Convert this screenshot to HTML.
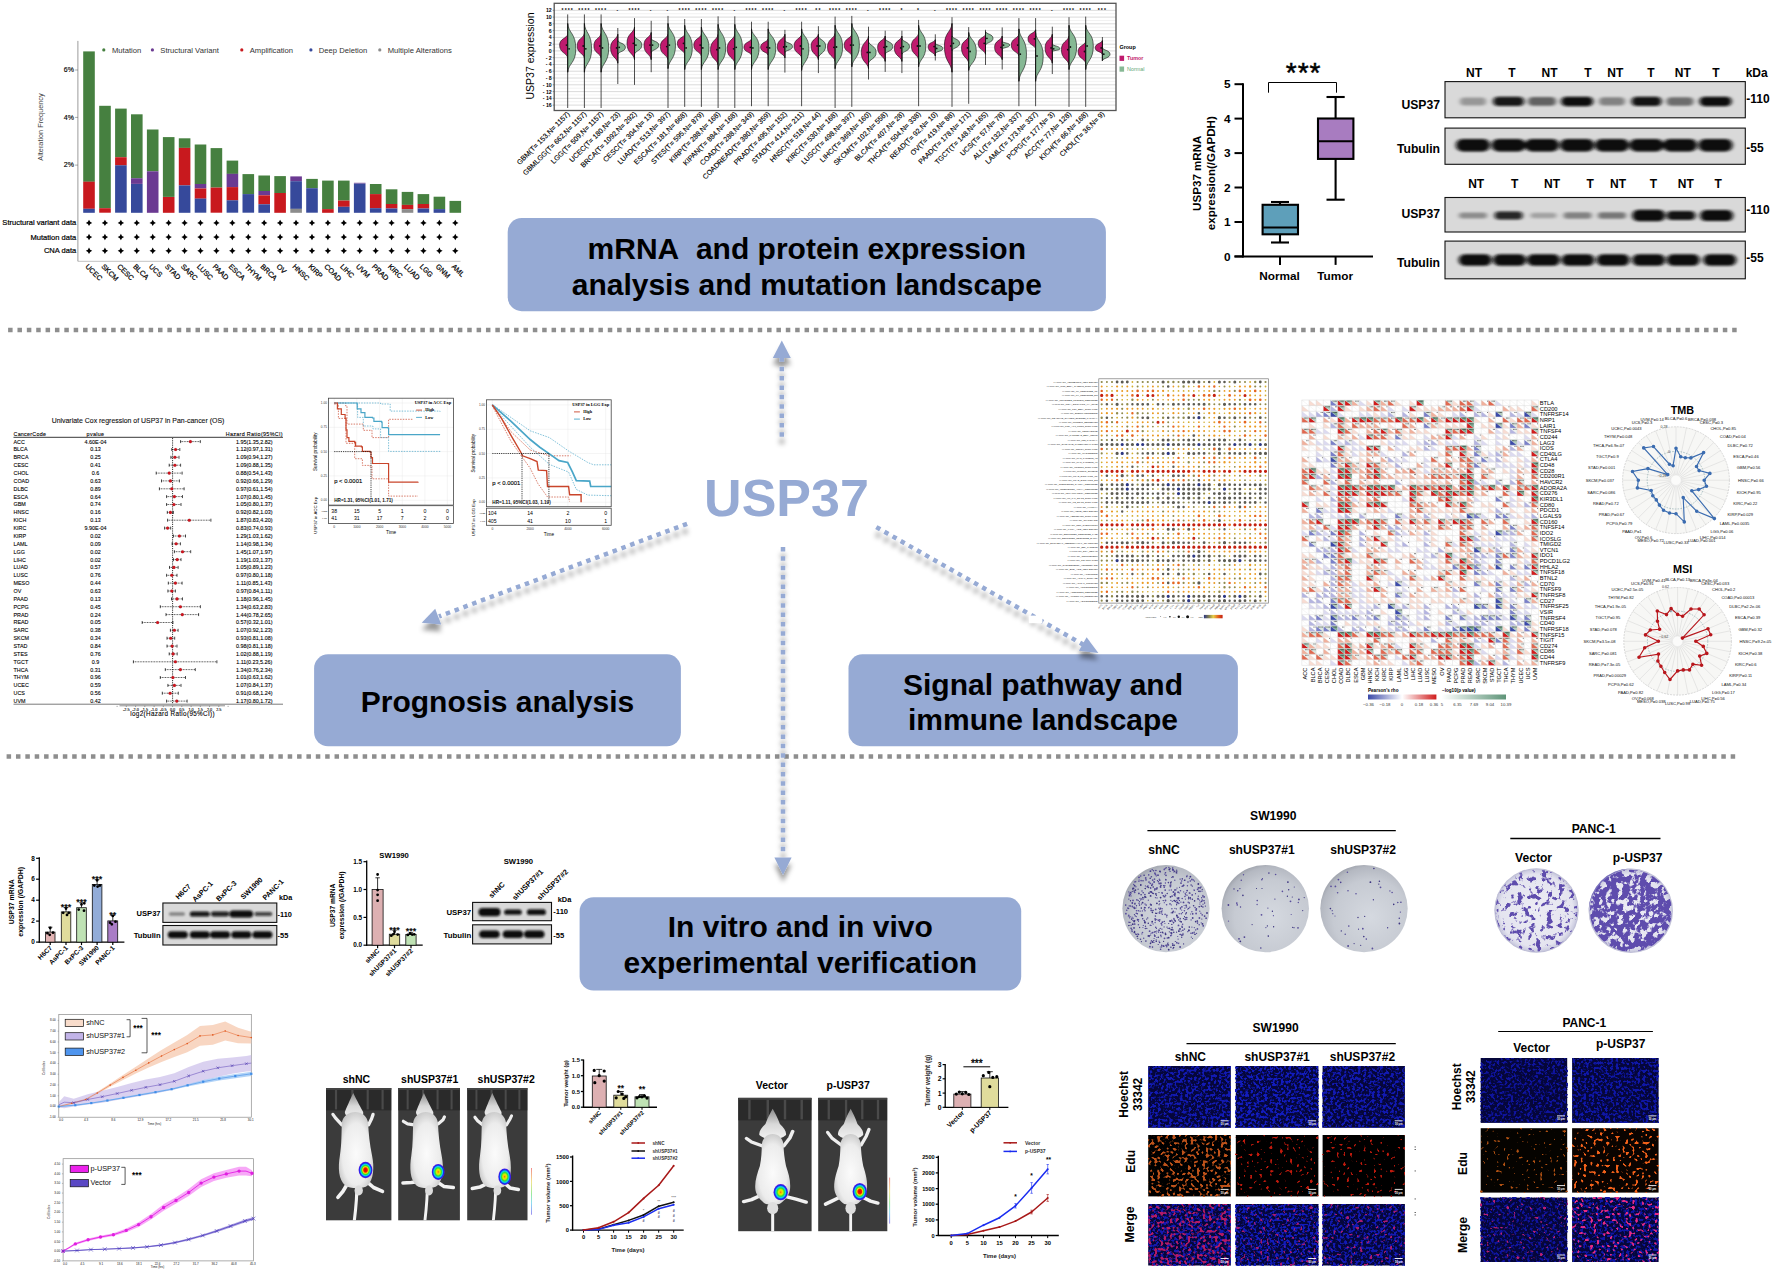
<!DOCTYPE html>
<html lang="en"><head><meta charset="utf-8"><title>USP37 graphical abstract</title>
<style>
html,body{margin:0;padding:0;background:#fff;}
svg{display:block;font-family:"Liberation Sans",Arial,sans-serif;}
</style></head><body>
<svg width="1772" height="1272" viewBox="0 0 1772 1272">
<defs>
<filter id="shadow" x="-20%" y="-20%" width="140%" height="140%"><feDropShadow dx="0" dy="7" stdDeviation="2.5" flood-color="#000" flood-opacity="0.4"/></filter>
<filter id="wbb" x="-30%" y="-60%" width="160%" height="220%"><feGaussianBlur stdDeviation="2.0 1.3"/></filter><filter id="wbs" x="-30%" y="-60%" width="160%" height="220%"><feGaussianBlur stdDeviation="1.0 0.8"/></filter><linearGradient id="nesg"><stop offset="0" stop-color="#2c3782"/><stop offset="0.3" stop-color="#8f8a4c"/><stop offset="0.5" stop-color="#e8d04a"/><stop offset="0.75" stop-color="#e5661f"/><stop offset="1" stop-color="#c4200f"/></linearGradient><linearGradient id="rhog"><stop offset="0" stop-color="#3b4aa8"/><stop offset="0.5" stop-color="#ffffff"/><stop offset="1" stop-color="#d01c1c"/></linearGradient><linearGradient id="pvg"><stop offset="0" stop-color="#ffffff"/><stop offset="1" stop-color="#5e9478"/></linearGradient><radialGradient id="tum"><stop offset="0" stop-color="#e80000"/><stop offset="0.26" stop-color="#f01800"/><stop offset="0.4" stop-color="#f8e000"/><stop offset="0.55" stop-color="#30e030"/><stop offset="0.7" stop-color="#10d0f0"/><stop offset="0.84" stop-color="#1030f0"/><stop offset="1" stop-color="#6010e0"/></radialGradient><radialGradient id="tum2"><stop offset="0" stop-color="#f06000"/><stop offset="0.14" stop-color="#f8c000"/><stop offset="0.3" stop-color="#d8f000"/><stop offset="0.5" stop-color="#30e030"/><stop offset="0.68" stop-color="#10d0f0"/><stop offset="0.84" stop-color="#1030f0"/><stop offset="1" stop-color="#6010e0"/></radialGradient><radialGradient id="mbody" cx="0.5" cy="0.55" r="0.62"><stop offset="0" stop-color="#fbfbfb"/><stop offset="0.65" stop-color="#ececec"/><stop offset="1" stop-color="#bdbdbd"/></radialGradient><linearGradient id="mhead" x1="0" y1="0" x2="0" y2="1"><stop offset="0" stop-color="#8a8a8a"/><stop offset="0.5" stop-color="#d8d8d8"/><stop offset="1" stop-color="#f2f2f2"/></linearGradient><linearGradient id="rbar" x1="0" y1="0" x2="0" y2="1"><stop offset="0" stop-color="#f08080"/><stop offset="0.3" stop-color="#f0e080"/><stop offset="0.55" stop-color="#90e890"/><stop offset="0.75" stop-color="#80d8f0"/><stop offset="1" stop-color="#9080f0"/></linearGradient><filter id="mblur" x="-10%" y="-10%" width="120%" height="120%"><feGaussianBlur stdDeviation="0.7"/></filter><filter id="mblur2" x="-10%" y="-10%" width="120%" height="120%"><feGaussianBlur stdDeviation="0.35"/></filter><radialGradient id="plg" cx="0.58" cy="0.6" r="0.62"><stop offset="0" stop-color="#d5d9e0"/><stop offset="0.7" stop-color="#c6cad2"/><stop offset="0.93" stop-color="#b4b8c1"/><stop offset="1" stop-color="#a3a7b0"/></radialGradient><radialGradient id="plg2" cx="0.5" cy="0.5" r="0.5"><stop offset="0" stop-color="#ececf4"/><stop offset="0.86" stop-color="#e4e4ef"/><stop offset="0.95" stop-color="#cfcfe2"/><stop offset="1" stop-color="#b9b9d2"/></radialGradient><filter id="pb4" x="0" y="0" width="1" height="1" color-interpolation-filters="sRGB"><feTurbulence type="fractalNoise" baseFrequency="0.17" numOctaves="3" seed="4"/><feColorMatrix type="matrix" values="0 0 0 0 0.37  0 0 0 0 0.3  0 0 0 0 0.68  9 0 0 0 -4.85"/></filter><filter id="pb5" x="0" y="0" width="1" height="1" color-interpolation-filters="sRGB"><feTurbulence type="fractalNoise" baseFrequency="0.17" numOctaves="3" seed="9"/><feColorMatrix type="matrix" values="0 0 0 0 0.37  0 0 0 0 0.3  0 0 0 0 0.68  9 0 0 0 -3.45"/></filter><filter id="pbl" x="-5%" y="-5%" width="110%" height="110%"><feGaussianBlur stdDeviation="0.5"/></filter><filter id="fB" x="0" y="0" width="1" height="1" color-interpolation-filters="sRGB"><feTurbulence type="fractalNoise" baseFrequency="0.36" numOctaves="2" seed="2"/><feColorMatrix type="matrix" values="0 0 0 0 0.07  0 0 0 0 0.1  0 0 0 0 0.7  7 0 0 0 -3.3"/><feGaussianBlur stdDeviation="0.7"/></filter><filter id="fB2" x="0" y="0" width="1" height="1" color-interpolation-filters="sRGB"><feTurbulence type="fractalNoise" baseFrequency="0.37" numOctaves="2" seed="7"/><feColorMatrix type="matrix" values="0 0 0 0 0.07  0 0 0 0 0.11  0 0 0 0 0.74  7 0 0 0 -3.25"/><feGaussianBlur stdDeviation="0.7"/></filter><filter id="fB3" x="0" y="0" width="1" height="1" color-interpolation-filters="sRGB"><feTurbulence type="fractalNoise" baseFrequency="0.36" numOctaves="2" seed="21"/><feColorMatrix type="matrix" values="0 0 0 0 0.06  0 0 0 0 0.08  0 0 0 0 0.62  7 0 0 0 -3.45"/><feGaussianBlur stdDeviation="0.7"/></filter><filter id="fB4" x="0" y="0" width="1" height="1" color-interpolation-filters="sRGB"><feTurbulence type="fractalNoise" baseFrequency="0.37" numOctaves="2" seed="23"/><feColorMatrix type="matrix" values="0 0 0 0 0.06  0 0 0 0 0.09  0 0 0 0 0.66  7 0 0 0 -3.38"/><feGaussianBlur stdDeviation="0.7"/></filter><filter id="fOd" x="0" y="0" width="1" height="1" color-interpolation-filters="sRGB"><feTurbulence type="fractalNoise" baseFrequency="0.33" numOctaves="1" seed="5"/><feColorMatrix type="matrix" values="0 0 0 0 0.74  0 0 0 0 0.32  0 0 0 0 0.1  0 10 0 0 -5.35"/><feGaussianBlur stdDeviation="0.7"/></filter><filter id="fRs" x="0" y="0" width="1" height="1" color-interpolation-filters="sRGB"><feTurbulence type="fractalNoise" baseFrequency="0.3" numOctaves="1" seed="8"/><feColorMatrix type="matrix" values="0 0 0 0 0.75  0 0 0 0 0.1  0 0 0 0 0.05  0 13 0 0 -8.2"/><feGaussianBlur stdDeviation="0.7"/></filter><filter id="fRs2" x="0" y="0" width="1" height="1" color-interpolation-filters="sRGB"><feTurbulence type="fractalNoise" baseFrequency="0.3" numOctaves="1" seed="11"/><feColorMatrix type="matrix" values="0 0 0 0 0.75  0 0 0 0 0.1  0 0 0 0 0.05  0 13 0 0 -8.3"/><feGaussianBlur stdDeviation="0.7"/></filter><filter id="fOv" x="0" y="0" width="1" height="1" color-interpolation-filters="sRGB"><feTurbulence type="fractalNoise" baseFrequency="0.3" numOctaves="1" seed="13"/><feColorMatrix type="matrix" values="0 0 0 0 0.7  0 0 0 0 0.32  0 0 0 0 0.07  0 13 0 0 -8.5"/><feGaussianBlur stdDeviation="0.7"/></filter><filter id="fOp" x="0" y="0" width="1" height="1" color-interpolation-filters="sRGB"><feTurbulence type="fractalNoise" baseFrequency="0.31" numOctaves="1" seed="17"/><feColorMatrix type="matrix" values="0 0 0 0 0.95  0 0 0 0 0.38  0 0 0 0 0.1  0 11 0 0 -6.45"/><feGaussianBlur stdDeviation="0.7"/></filter><filter id="fPd" x="0" y="0" width="1" height="1" color-interpolation-filters="sRGB"><feTurbulence type="fractalNoise" baseFrequency="0.33" numOctaves="1" seed="5"/><feColorMatrix type="matrix" values="0 0 0 0 0.7  0 0 0 0 0.1  0 0 0 0 0.4  0 10 0 0 -5.35"/><feGaussianBlur stdDeviation="0.7"/></filter><filter id="fPs" x="0" y="0" width="1" height="1" color-interpolation-filters="sRGB"><feTurbulence type="fractalNoise" baseFrequency="0.3" numOctaves="1" seed="8"/><feColorMatrix type="matrix" values="0 0 0 0 0.66  0 0 0 0 0.1  0 0 0 0 0.45  0 13 0 0 -8.2"/><feGaussianBlur stdDeviation="0.7"/></filter><filter id="fPs2" x="0" y="0" width="1" height="1" color-interpolation-filters="sRGB"><feTurbulence type="fractalNoise" baseFrequency="0.3" numOctaves="1" seed="11"/><feColorMatrix type="matrix" values="0 0 0 0 0.66  0 0 0 0 0.1  0 0 0 0 0.45  0 13 0 0 -8.3"/><feGaussianBlur stdDeviation="0.7"/></filter><filter id="fPv" x="0" y="0" width="1" height="1" color-interpolation-filters="sRGB"><feTurbulence type="fractalNoise" baseFrequency="0.3" numOctaves="1" seed="13"/><feColorMatrix type="matrix" values="0 0 0 0 0.72  0 0 0 0 0.12  0 0 0 0 0.46  0 13 0 0 -8.5"/><feGaussianBlur stdDeviation="0.7"/></filter><filter id="fPp" x="0" y="0" width="1" height="1" color-interpolation-filters="sRGB"><feTurbulence type="fractalNoise" baseFrequency="0.31" numOctaves="1" seed="17"/><feColorMatrix type="matrix" values="0 0 0 0 0.9  0 0 0 0 0.16  0 0 0 0 0.52  0 11 0 0 -6.45"/><feGaussianBlur stdDeviation="0.7"/></filter>
</defs>
<rect width="1772" height="1272" fill="#fff"/>
<g id="p_center">
<line x1="8.1" y1="329.9" x2="1737.2" y2="329.9" stroke="#8e8e8e" stroke-width="4.5" stroke-dasharray="4.5 4.87"/>
<line x1="6.6" y1="756.4" x2="1735.7" y2="756.4" stroke="#8e8e8e" stroke-width="4.5" stroke-dasharray="4.5 4.87"/>
<rect x="507.7" y="218" width="598.2" height="93.2" rx="14" fill="#96aad4"/>
<text x="806.8" y="258.5" font-size="30" text-anchor="middle" font-weight="bold">mRNA  and protein expression</text>
<text x="806.8" y="295.0" font-size="30" text-anchor="middle" font-weight="bold">analysis and mutation landscape</text>
<rect x="314.1" y="654.3" width="366.8" height="92.0" rx="14" fill="#96aad4"/>
<text x="497.5" y="712.0" font-size="30" text-anchor="middle" font-weight="bold">Prognosis analysis</text>
<rect x="848.5" y="654.3" width="389.4" height="92.0" rx="14" fill="#96aad4"/>
<text x="1043.0" y="694.5" font-size="30" text-anchor="middle" font-weight="bold">Signal pathway and</text>
<text x="1043.0" y="730.0" font-size="30" text-anchor="middle" font-weight="bold">immune landscape</text>
<rect x="579.6" y="897.3" width="441.6" height="93.3" rx="14" fill="#96aad4"/>
<text x="800.3" y="937.2" font-size="30" text-anchor="middle" font-weight="bold">In vitro and in vivo</text>
<text x="800.3" y="973.3" font-size="30" text-anchor="middle" font-weight="bold">experimental verification</text>
<text x="786.5" y="516.0" font-size="52" text-anchor="middle" font-weight="bold" fill="#96aad4">USP37</text>
<g filter="url(#shadow)">
<line x1="781.8" y1="436.8" x2="781.8" y2="358.0" stroke="#96aad4" stroke-width="4.5" stroke-dasharray="4.5 4.87"/>
<polygon points="781.8,340.5 772.8,358 790.8,358" fill="#96aad4"/>
<line x1="783.0" y1="547.0" x2="783.0" y2="855.0" stroke="#96aad4" stroke-width="4.5" stroke-dasharray="4.5 4.87"/>
<polygon points="783,875 774.4,857.4 791.6,857.4" fill="#96aad4"/>
<line x1="687.1" y1="523.8" x2="439.0" y2="616.4" stroke="#96aad4" stroke-width="4.5" stroke-dasharray="4.5 4.87"/>
<polygon points="421.7,622.8 435.2,608.7 441.2,624.6" fill="#96aad4"/>
<line x1="876.3" y1="527.1" x2="1083.0" y2="644.5" stroke="#96aad4" stroke-width="4.5" stroke-dasharray="4.5 4.87"/>
<polygon points="1098.4,653.1 1086.6,637.2 1078.9,650.8" fill="#96aad4"/>
</g>
<rect x="1028.8" y="615.6" width="13.6" height="7.6" fill="#fff"/>
</g>
<g id="p_mut">
<rect x="83.2" y="51.4" width="11.6" height="130.4" fill="#468040"/>
<rect x="83.2" y="181.7" width="11.6" height="27.1" fill="#c8191e"/>
<rect x="83.2" y="208.8" width="11.6" height="4.0" fill="#36499b"/>
<polygon points="85.8,222.9 87.9,221.8 89.0,219.7 90.2,221.8 92.2,222.9 90.2,224.1 89.0,226.1 87.9,224.1"/>
<polygon points="85.8,237.0 87.9,235.9 89.0,233.8 90.2,235.9 92.2,237.0 90.2,238.2 89.0,240.2 87.9,238.2"/>
<polygon points="85.8,250.8 87.9,249.7 89.0,247.6 90.2,249.7 92.2,250.8 90.2,252.0 89.0,254.0 87.9,252.0"/>
<text x="84.9" y="266.9" font-size="7.2" transform="rotate(45 84.9 266.9)" stroke="#000" stroke-width="0.22">UCEC</text>
<rect x="99.2" y="105.8" width="11.6" height="102.4" fill="#468040"/>
<rect x="99.2" y="208.2" width="11.6" height="4.5" fill="#c8191e"/>
<polygon points="101.7,222.9 103.8,221.8 104.9,219.7 106.1,221.8 108.1,222.9 106.1,224.1 104.9,226.1 103.8,224.1"/>
<polygon points="101.7,237.0 103.8,235.9 104.9,233.8 106.1,235.9 108.1,237.0 106.1,238.2 104.9,240.2 103.8,238.2"/>
<polygon points="101.7,250.8 103.8,249.7 104.9,247.6 106.1,249.7 108.1,250.8 106.1,252.0 104.9,254.0 103.8,252.0"/>
<text x="100.9" y="266.9" font-size="7.2" transform="rotate(45 100.9 266.9)" stroke="#000" stroke-width="0.22">SKCM</text>
<rect x="115.1" y="108.6" width="11.6" height="48.5" fill="#468040"/>
<rect x="115.1" y="157.2" width="11.6" height="8.2" fill="#c8191e"/>
<rect x="115.1" y="165.3" width="11.6" height="47.4" fill="#36499b"/>
<polygon points="117.7,222.9 119.7,221.8 120.9,219.7 122.0,221.8 124.1,222.9 122.0,224.1 120.9,226.1 119.7,224.1"/>
<polygon points="117.7,237.0 119.7,235.9 120.9,233.8 122.0,235.9 124.1,237.0 122.0,238.2 120.9,240.2 119.7,238.2"/>
<polygon points="117.7,250.8 119.7,249.7 120.9,247.6 122.0,249.7 124.1,250.8 122.0,252.0 120.9,254.0 119.7,252.0"/>
<text x="116.8" y="266.9" font-size="7.2" transform="rotate(45 116.8 266.9)" stroke="#000" stroke-width="0.22">CESC</text>
<rect x="131.0" y="114.3" width="11.6" height="64.1" fill="#468040"/>
<rect x="131.0" y="178.3" width="11.6" height="5.6" fill="#6b3a92"/>
<rect x="131.0" y="184.0" width="11.6" height="28.8" fill="#36499b"/>
<polygon points="133.6,222.9 135.6,221.8 136.8,219.7 137.9,221.8 140.0,222.9 137.9,224.1 136.8,226.1 135.6,224.1"/>
<polygon points="133.6,237.0 135.6,235.9 136.8,233.8 137.9,235.9 140.0,237.0 137.9,238.2 136.8,240.2 135.6,238.2"/>
<polygon points="133.6,250.8 135.6,249.7 136.8,247.6 137.9,249.7 140.0,250.8 137.9,252.0 136.8,254.0 135.6,252.0"/>
<text x="132.7" y="266.9" font-size="7.2" transform="rotate(45 132.7 266.9)" stroke="#000" stroke-width="0.22">BLCA</text>
<rect x="146.9" y="129.5" width="11.6" height="41.8" fill="#468040"/>
<rect x="146.9" y="171.3" width="11.6" height="41.5" fill="#6b3a92"/>
<polygon points="149.5,222.9 151.6,221.8 152.7,219.7 153.9,221.8 155.9,222.9 153.9,224.1 152.7,226.1 151.6,224.1"/>
<polygon points="149.5,237.0 151.6,235.9 152.7,233.8 153.9,235.9 155.9,237.0 153.9,238.2 152.7,240.2 151.6,238.2"/>
<polygon points="149.5,250.8 151.6,249.7 152.7,247.6 153.9,249.7 155.9,250.8 153.9,252.0 152.7,254.0 151.6,252.0"/>
<text x="148.6" y="266.9" font-size="7.2" transform="rotate(45 148.6 266.9)" stroke="#000" stroke-width="0.22">UCS</text>
<rect x="162.9" y="137.1" width="11.6" height="59.8" fill="#468040"/>
<rect x="162.9" y="197.0" width="11.6" height="15.8" fill="#c8191e"/>
<polygon points="165.4,222.9 167.5,221.8 168.6,219.7 169.8,221.8 171.8,222.9 169.8,224.1 168.6,226.1 167.5,224.1"/>
<polygon points="165.4,237.0 167.5,235.9 168.6,233.8 169.8,235.9 171.8,237.0 169.8,238.2 168.6,240.2 167.5,238.2"/>
<polygon points="165.4,250.8 167.5,249.7 168.6,247.6 169.8,249.7 171.8,250.8 169.8,252.0 168.6,254.0 167.5,252.0"/>
<text x="164.6" y="266.9" font-size="7.2" transform="rotate(45 164.6 266.9)" stroke="#000" stroke-width="0.22">STAD</text>
<rect x="178.8" y="138.3" width="11.6" height="9.6" fill="#468040"/>
<rect x="178.8" y="147.9" width="11.6" height="37.5" fill="#c8191e"/>
<rect x="178.8" y="185.4" width="11.6" height="27.4" fill="#36499b"/>
<polygon points="181.4,222.9 183.4,221.8 184.6,219.7 185.7,221.8 187.8,222.9 185.7,224.1 184.6,226.1 183.4,224.1"/>
<polygon points="181.4,237.0 183.4,235.9 184.6,233.8 185.7,235.9 187.8,237.0 185.7,238.2 184.6,240.2 183.4,238.2"/>
<polygon points="181.4,250.8 183.4,249.7 184.6,247.6 185.7,249.7 187.8,250.8 185.7,252.0 184.6,254.0 183.4,252.0"/>
<text x="180.5" y="266.9" font-size="7.2" transform="rotate(45 180.5 266.9)" stroke="#000" stroke-width="0.22">SARC</text>
<rect x="194.7" y="144.5" width="11.6" height="39.5" fill="#468040"/>
<rect x="194.7" y="184.0" width="11.6" height="4.5" fill="#6b3a92"/>
<rect x="194.7" y="188.5" width="11.6" height="10.2" fill="#c8191e"/>
<rect x="194.7" y="198.6" width="11.6" height="14.1" fill="#36499b"/>
<polygon points="197.3,222.9 199.3,221.8 200.5,219.7 201.6,221.8 203.7,222.9 201.6,224.1 200.5,226.1 199.3,224.1"/>
<polygon points="197.3,237.0 199.3,235.9 200.5,233.8 201.6,235.9 203.7,237.0 201.6,238.2 200.5,240.2 199.3,238.2"/>
<polygon points="197.3,250.8 199.3,249.7 200.5,247.6 201.6,249.7 203.7,250.8 201.6,252.0 200.5,254.0 199.3,252.0"/>
<text x="196.4" y="266.9" font-size="7.2" transform="rotate(45 196.4 266.9)" stroke="#000" stroke-width="0.22">LUSC</text>
<rect x="210.6" y="148.1" width="11.6" height="39.5" fill="#468040"/>
<rect x="210.6" y="187.6" width="11.6" height="25.1" fill="#c8191e"/>
<polygon points="213.2,222.9 215.3,221.8 216.4,219.7 217.6,221.8 219.6,222.9 217.6,224.1 216.4,226.1 215.3,224.1"/>
<polygon points="213.2,237.0 215.3,235.9 216.4,233.8 217.6,235.9 219.6,237.0 217.6,238.2 216.4,240.2 215.3,238.2"/>
<polygon points="213.2,250.8 215.3,249.7 216.4,247.6 217.6,249.7 219.6,250.8 217.6,252.0 216.4,254.0 215.3,252.0"/>
<text x="212.3" y="266.9" font-size="7.2" transform="rotate(45 212.3 266.9)" stroke="#000" stroke-width="0.22">PAAD</text>
<rect x="226.6" y="160.6" width="11.6" height="13.3" fill="#468040"/>
<rect x="226.6" y="173.8" width="11.6" height="13.3" fill="#6b3a92"/>
<rect x="226.6" y="187.1" width="11.6" height="13.3" fill="#c8191e"/>
<rect x="226.6" y="200.3" width="11.6" height="12.4" fill="#36499b"/>
<polygon points="229.1,222.9 231.2,221.8 232.3,219.7 233.5,221.8 235.5,222.9 233.5,224.1 232.3,226.1 231.2,224.1"/>
<polygon points="229.1,237.0 231.2,235.9 232.3,233.8 233.5,235.9 235.5,237.0 233.5,238.2 232.3,240.2 231.2,238.2"/>
<polygon points="229.1,250.8 231.2,249.7 232.3,247.6 233.5,249.7 235.5,250.8 233.5,252.0 232.3,254.0 231.2,252.0"/>
<text x="228.2" y="266.9" font-size="7.2" transform="rotate(45 228.2 266.9)" stroke="#000" stroke-width="0.22">ESCA</text>
<rect x="242.5" y="174.1" width="11.6" height="20.0" fill="#468040"/>
<rect x="242.5" y="194.1" width="11.6" height="18.6" fill="#36499b"/>
<polygon points="245.1,222.9 247.1,221.8 248.3,219.7 249.4,221.8 251.5,222.9 249.4,224.1 248.3,226.1 247.1,224.1"/>
<polygon points="245.1,237.0 247.1,235.9 248.3,233.8 249.4,235.9 251.5,237.0 249.4,238.2 248.3,240.2 247.1,238.2"/>
<polygon points="245.1,250.8 247.1,249.7 248.3,247.6 249.4,249.7 251.5,250.8 249.4,252.0 248.3,254.0 247.1,252.0"/>
<text x="244.2" y="266.9" font-size="7.2" transform="rotate(45 244.2 266.9)" stroke="#000" stroke-width="0.22">THYM</text>
<rect x="258.4" y="175.5" width="11.6" height="15.5" fill="#468040"/>
<rect x="258.4" y="191.0" width="11.6" height="4.2" fill="#6b3a92"/>
<rect x="258.4" y="195.3" width="11.6" height="9.0" fill="#c8191e"/>
<rect x="258.4" y="204.3" width="11.6" height="8.5" fill="#36499b"/>
<polygon points="261.0,222.9 263.0,221.8 264.2,219.7 265.3,221.8 267.4,222.9 265.3,224.1 264.2,226.1 263.0,224.1"/>
<polygon points="261.0,237.0 263.0,235.9 264.2,233.8 265.3,235.9 267.4,237.0 265.3,238.2 264.2,240.2 263.0,238.2"/>
<polygon points="261.0,250.8 263.0,249.7 264.2,247.6 265.3,249.7 267.4,250.8 265.3,252.0 264.2,254.0 263.0,252.0"/>
<text x="260.1" y="266.9" font-size="7.2" transform="rotate(45 260.1 266.9)" stroke="#000" stroke-width="0.22">BRCA</text>
<rect x="274.3" y="176.1" width="11.6" height="16.9" fill="#468040"/>
<rect x="274.3" y="193.0" width="11.6" height="19.8" fill="#c8191e"/>
<polygon points="276.9,222.9 279.0,221.8 280.1,219.7 281.3,221.8 283.3,222.9 281.3,224.1 280.1,226.1 279.0,224.1"/>
<polygon points="276.9,237.0 279.0,235.9 280.1,233.8 281.3,235.9 283.3,237.0 281.3,238.2 280.1,240.2 279.0,238.2"/>
<polygon points="276.9,250.8 279.0,249.7 280.1,247.6 281.3,249.7 283.3,250.8 281.3,252.0 280.1,254.0 279.0,252.0"/>
<text x="276.0" y="266.9" font-size="7.2" transform="rotate(45 276.0 266.9)" stroke="#000" stroke-width="0.22">OV</text>
<rect x="290.3" y="176.4" width="11.6" height="4.8" fill="#6b3a92"/>
<rect x="290.3" y="181.2" width="11.6" height="27.7" fill="#36499b"/>
<rect x="290.3" y="208.8" width="11.6" height="4.0" fill="#8c8c8c"/>
<polygon points="292.8,222.9 294.9,221.8 296.0,219.7 297.2,221.8 299.2,222.9 297.2,224.1 296.0,226.1 294.9,224.1"/>
<polygon points="292.8,237.0 294.9,235.9 296.0,233.8 297.2,235.9 299.2,237.0 297.2,238.2 296.0,240.2 294.9,238.2"/>
<polygon points="292.8,250.8 294.9,249.7 296.0,247.6 297.2,249.7 299.2,250.8 297.2,252.0 296.0,254.0 294.9,252.0"/>
<text x="291.9" y="266.9" font-size="7.2" transform="rotate(45 291.9 266.9)" stroke="#000" stroke-width="0.22">HNSC</text>
<rect x="306.2" y="178.9" width="11.6" height="9.3" fill="#468040"/>
<rect x="306.2" y="188.2" width="11.6" height="24.5" fill="#36499b"/>
<polygon points="308.8,222.9 310.8,221.8 312.0,219.7 313.1,221.8 315.2,222.9 313.1,224.1 312.0,226.1 310.8,224.1"/>
<polygon points="308.8,237.0 310.8,235.9 312.0,233.8 313.1,235.9 315.2,237.0 313.1,238.2 312.0,240.2 310.8,238.2"/>
<polygon points="308.8,250.8 310.8,249.7 312.0,247.6 313.1,249.7 315.2,250.8 313.1,252.0 312.0,254.0 310.8,252.0"/>
<text x="307.9" y="266.9" font-size="7.2" transform="rotate(45 307.9 266.9)" stroke="#000" stroke-width="0.22">KIRP</text>
<rect x="322.1" y="180.6" width="11.6" height="28.5" fill="#468040"/>
<rect x="322.1" y="209.1" width="11.6" height="3.7" fill="#c8191e"/>
<polygon points="324.7,222.9 326.7,221.8 327.9,219.7 329.0,221.8 331.1,222.9 329.0,224.1 327.9,226.1 326.7,224.1"/>
<polygon points="324.7,237.0 326.7,235.9 327.9,233.8 329.0,235.9 331.1,237.0 329.0,238.2 327.9,240.2 326.7,238.2"/>
<polygon points="324.7,250.8 326.7,249.7 327.9,247.6 329.0,249.7 331.1,250.8 329.0,252.0 327.9,254.0 326.7,252.0"/>
<text x="323.8" y="266.9" font-size="7.2" transform="rotate(45 323.8 266.9)" stroke="#000" stroke-width="0.22">COAD</text>
<rect x="338.0" y="180.6" width="11.6" height="20.0" fill="#468040"/>
<rect x="338.0" y="200.6" width="11.6" height="6.2" fill="#c8191e"/>
<rect x="338.0" y="206.8" width="11.6" height="5.9" fill="#36499b"/>
<polygon points="340.6,222.9 342.7,221.8 343.8,219.7 345.0,221.8 347.0,222.9 345.0,224.1 343.8,226.1 342.7,224.1"/>
<polygon points="340.6,237.0 342.7,235.9 343.8,233.8 345.0,235.9 347.0,237.0 345.0,238.2 343.8,240.2 342.7,238.2"/>
<polygon points="340.6,250.8 342.7,249.7 343.8,247.6 345.0,249.7 347.0,250.8 345.0,252.0 343.8,254.0 342.7,252.0"/>
<text x="339.7" y="266.9" font-size="7.2" transform="rotate(45 339.7 266.9)" stroke="#000" stroke-width="0.22">LIHC</text>
<rect x="353.9" y="182.8" width="11.6" height="0.8" fill="#6b3a92"/>
<rect x="353.9" y="183.7" width="11.6" height="29.1" fill="#36499b"/>
<polygon points="356.5,222.9 358.6,221.8 359.7,219.7 360.9,221.8 362.9,222.9 360.9,224.1 359.7,226.1 358.6,224.1"/>
<polygon points="356.5,237.0 358.6,235.9 359.7,233.8 360.9,235.9 362.9,237.0 360.9,238.2 359.7,240.2 358.6,238.2"/>
<polygon points="356.5,250.8 358.6,249.7 359.7,247.6 360.9,249.7 362.9,250.8 360.9,252.0 359.7,254.0 358.6,252.0"/>
<text x="355.6" y="266.9" font-size="7.2" transform="rotate(45 355.6 266.9)" stroke="#000" stroke-width="0.22">UVM</text>
<rect x="369.9" y="184.0" width="11.6" height="10.2" fill="#468040"/>
<rect x="369.9" y="194.1" width="11.6" height="14.1" fill="#c8191e"/>
<rect x="369.9" y="208.2" width="11.6" height="4.5" fill="#36499b"/>
<polygon points="372.5,222.9 374.5,221.8 375.7,219.7 376.8,221.8 378.9,222.9 376.8,224.1 375.7,226.1 374.5,224.1"/>
<polygon points="372.5,237.0 374.5,235.9 375.7,233.8 376.8,235.9 378.9,237.0 376.8,238.2 375.7,240.2 374.5,238.2"/>
<polygon points="372.5,250.8 374.5,249.7 375.7,247.6 376.8,249.7 378.9,250.8 376.8,252.0 375.7,254.0 374.5,252.0"/>
<text x="371.6" y="266.9" font-size="7.2" transform="rotate(45 371.6 266.9)" stroke="#000" stroke-width="0.22">PRAD</text>
<rect x="385.8" y="189.3" width="11.6" height="14.7" fill="#468040"/>
<rect x="385.8" y="204.0" width="11.6" height="4.5" fill="#c8191e"/>
<rect x="385.8" y="208.5" width="11.6" height="4.2" fill="#36499b"/>
<polygon points="388.4,222.9 390.4,221.8 391.6,219.7 392.7,221.8 394.8,222.9 392.7,224.1 391.6,226.1 390.4,224.1"/>
<polygon points="388.4,237.0 390.4,235.9 391.6,233.8 392.7,235.9 394.8,237.0 392.7,238.2 391.6,240.2 390.4,238.2"/>
<polygon points="388.4,250.8 390.4,249.7 391.6,247.6 392.7,249.7 394.8,250.8 392.7,252.0 391.6,254.0 390.4,252.0"/>
<text x="387.5" y="266.9" font-size="7.2" transform="rotate(45 387.5 266.9)" stroke="#000" stroke-width="0.22">KIRC</text>
<rect x="401.7" y="191.9" width="11.6" height="13.0" fill="#468040"/>
<rect x="401.7" y="204.9" width="11.6" height="4.2" fill="#c8191e"/>
<rect x="401.7" y="209.1" width="11.6" height="3.7" fill="#8c8c8c"/>
<polygon points="404.3,222.9 406.4,221.8 407.5,219.7 408.7,221.8 410.7,222.9 408.7,224.1 407.5,226.1 406.4,224.1"/>
<polygon points="404.3,237.0 406.4,235.9 407.5,233.8 408.7,235.9 410.7,237.0 408.7,238.2 407.5,240.2 406.4,238.2"/>
<polygon points="404.3,250.8 406.4,249.7 407.5,247.6 408.7,249.7 410.7,250.8 408.7,252.0 407.5,254.0 406.4,252.0"/>
<text x="403.4" y="266.9" font-size="7.2" transform="rotate(45 403.4 266.9)" stroke="#000" stroke-width="0.22">LUAD</text>
<rect x="417.6" y="194.1" width="11.6" height="9.9" fill="#468040"/>
<rect x="417.6" y="204.0" width="11.6" height="4.5" fill="#c8191e"/>
<rect x="417.6" y="208.5" width="11.6" height="4.2" fill="#36499b"/>
<polygon points="420.2,222.9 422.3,221.8 423.4,219.7 424.6,221.8 426.6,222.9 424.6,224.1 423.4,226.1 422.3,224.1"/>
<polygon points="420.2,237.0 422.3,235.9 423.4,233.8 424.6,235.9 426.6,237.0 424.6,238.2 423.4,240.2 422.3,238.2"/>
<polygon points="420.2,250.8 422.3,249.7 423.4,247.6 424.6,249.7 426.6,250.8 424.6,252.0 423.4,254.0 422.3,252.0"/>
<text x="419.3" y="266.9" font-size="7.2" transform="rotate(45 419.3 266.9)" stroke="#000" stroke-width="0.22">LGG</text>
<rect x="433.6" y="196.7" width="11.6" height="12.4" fill="#468040"/>
<rect x="433.6" y="209.1" width="11.6" height="3.7" fill="#36499b"/>
<polygon points="436.2,222.9 438.2,221.8 439.4,219.7 440.5,221.8 442.6,222.9 440.5,224.1 439.4,226.1 438.2,224.1"/>
<polygon points="436.2,237.0 438.2,235.9 439.4,233.8 440.5,235.9 442.6,237.0 440.5,238.2 439.4,240.2 438.2,238.2"/>
<polygon points="436.2,250.8 438.2,249.7 439.4,247.6 440.5,249.7 442.6,250.8 440.5,252.0 439.4,254.0 438.2,252.0"/>
<text x="435.3" y="266.9" font-size="7.2" transform="rotate(45 435.3 266.9)" stroke="#000" stroke-width="0.22">GNM</text>
<rect x="449.5" y="200.9" width="11.6" height="11.9" fill="#468040"/>
<polygon points="452.1,222.9 454.1,221.8 455.3,219.7 456.4,221.8 458.5,222.9 456.4,224.1 455.3,226.1 454.1,224.1"/>
<polygon points="452.1,237.0 454.1,235.9 455.3,233.8 456.4,235.9 458.5,237.0 456.4,238.2 455.3,240.2 454.1,238.2"/>
<polygon points="452.1,250.8 454.1,249.7 455.3,247.6 456.4,249.7 458.5,250.8 456.4,252.0 455.3,254.0 454.1,252.0"/>
<text x="451.2" y="266.9" font-size="7.2" transform="rotate(45 451.2 266.9)" stroke="#000" stroke-width="0.22">AML</text>
<line x1="77.9" y1="40.9" x2="77.9" y2="261.3" stroke="#555" stroke-width="0.6"/>
<line x1="77.9" y1="261.3" x2="460.5" y2="261.3" stroke="#999" stroke-width="0.6"/>
<text x="73.9" y="72.3" font-size="7" text-anchor="end" stroke="#000" stroke-width="0.15">6%</text>
<line x1="75.1" y1="70.0" x2="77.9" y2="70.0" stroke="#555" stroke-width="0.5"/>
<text x="73.9" y="119.7" font-size="7" text-anchor="end" stroke="#000" stroke-width="0.15">4%</text>
<line x1="75.1" y1="117.4" x2="77.9" y2="117.4" stroke="#555" stroke-width="0.5"/>
<text x="73.9" y="167.4" font-size="7" text-anchor="end" stroke="#000" stroke-width="0.15">2%</text>
<line x1="75.1" y1="165.1" x2="77.9" y2="165.1" stroke="#555" stroke-width="0.5"/>
<text x="42.9" y="127.0" font-size="7.3" text-anchor="middle" fill="#444" transform="rotate(-90 42.9 127.0)">Alteration Frequency</text>
<text x="76.2" y="225.4" font-size="7.55" text-anchor="end" stroke="#000" stroke-width="0.2">Structural variant data</text>
<text x="76.2" y="239.5" font-size="7.55" text-anchor="end" stroke="#000" stroke-width="0.2">Mutation data</text>
<text x="76.2" y="253.3" font-size="7.55" text-anchor="end" stroke="#000" stroke-width="0.2">CNA data</text>
<circle cx="103.8" cy="49.9" r="1.6" fill="#468040"/>
<text x="112.0" y="52.5" font-size="7.65" fill="#333">Mutation</text>
<circle cx="152.4" cy="49.9" r="1.6" fill="#6b3a92"/>
<text x="160.3" y="52.5" font-size="7.65" fill="#333">Structural Variant</text>
<circle cx="241.8" cy="49.9" r="1.6" fill="#c8191e"/>
<text x="249.7" y="52.5" font-size="7.65" fill="#333">Amplification</text>
<circle cx="310.9" cy="49.9" r="1.6" fill="#36499b"/>
<text x="318.8" y="52.5" font-size="7.65" fill="#333">Deep Deletion</text>
<circle cx="379.8" cy="49.9" r="1.6" fill="#8c8c8c"/>
<text x="387.7" y="52.5" font-size="7.65" fill="#333">Multiple Alterations</text>
</g>
<g id="p_violin">
<rect x="554.2" y="3.3" width="561.8" height="107.2" fill="#fff"/>
<line x1="554.2" y1="105.1" x2="1116.0" y2="105.1" stroke="#d6d6d6" stroke-width="0.9"/>
<line x1="554.2" y1="101.7" x2="1116.0" y2="101.7" stroke="#e9e9e9" stroke-width="0.6"/>
<line x1="554.2" y1="98.3" x2="1116.0" y2="98.3" stroke="#d6d6d6" stroke-width="0.9"/>
<line x1="554.2" y1="95.0" x2="1116.0" y2="95.0" stroke="#e9e9e9" stroke-width="0.6"/>
<line x1="554.2" y1="91.6" x2="1116.0" y2="91.6" stroke="#d6d6d6" stroke-width="0.9"/>
<line x1="554.2" y1="88.2" x2="1116.0" y2="88.2" stroke="#e9e9e9" stroke-width="0.6"/>
<line x1="554.2" y1="84.8" x2="1116.0" y2="84.8" stroke="#d6d6d6" stroke-width="0.9"/>
<line x1="554.2" y1="81.4" x2="1116.0" y2="81.4" stroke="#e9e9e9" stroke-width="0.6"/>
<line x1="554.2" y1="78.0" x2="1116.0" y2="78.0" stroke="#d6d6d6" stroke-width="0.9"/>
<line x1="554.2" y1="74.6" x2="1116.0" y2="74.6" stroke="#e9e9e9" stroke-width="0.6"/>
<line x1="554.2" y1="71.2" x2="1116.0" y2="71.2" stroke="#d6d6d6" stroke-width="0.9"/>
<line x1="554.2" y1="67.9" x2="1116.0" y2="67.9" stroke="#e9e9e9" stroke-width="0.6"/>
<line x1="554.2" y1="64.5" x2="1116.0" y2="64.5" stroke="#d6d6d6" stroke-width="0.9"/>
<line x1="554.2" y1="61.1" x2="1116.0" y2="61.1" stroke="#e9e9e9" stroke-width="0.6"/>
<line x1="554.2" y1="57.7" x2="1116.0" y2="57.7" stroke="#d6d6d6" stroke-width="0.9"/>
<line x1="554.2" y1="54.3" x2="1116.0" y2="54.3" stroke="#e9e9e9" stroke-width="0.6"/>
<line x1="554.2" y1="50.9" x2="1116.0" y2="50.9" stroke="#d6d6d6" stroke-width="0.9"/>
<line x1="554.2" y1="47.5" x2="1116.0" y2="47.5" stroke="#e9e9e9" stroke-width="0.6"/>
<line x1="554.2" y1="44.2" x2="1116.0" y2="44.2" stroke="#d6d6d6" stroke-width="0.9"/>
<line x1="554.2" y1="40.8" x2="1116.0" y2="40.8" stroke="#e9e9e9" stroke-width="0.6"/>
<line x1="554.2" y1="37.4" x2="1116.0" y2="37.4" stroke="#d6d6d6" stroke-width="0.9"/>
<line x1="554.2" y1="34.0" x2="1116.0" y2="34.0" stroke="#e9e9e9" stroke-width="0.6"/>
<line x1="554.2" y1="30.6" x2="1116.0" y2="30.6" stroke="#d6d6d6" stroke-width="0.9"/>
<line x1="554.2" y1="27.2" x2="1116.0" y2="27.2" stroke="#e9e9e9" stroke-width="0.6"/>
<line x1="554.2" y1="23.8" x2="1116.0" y2="23.8" stroke="#d6d6d6" stroke-width="0.9"/>
<line x1="554.2" y1="20.5" x2="1116.0" y2="20.5" stroke="#e9e9e9" stroke-width="0.6"/>
<line x1="554.2" y1="17.1" x2="1116.0" y2="17.1" stroke="#d6d6d6" stroke-width="0.9"/>
<line x1="554.2" y1="13.7" x2="1116.0" y2="13.7" stroke="#e9e9e9" stroke-width="0.6"/>
<line x1="554.2" y1="10.3" x2="1116.0" y2="10.3" stroke="#d6d6d6" stroke-width="0.9"/>
<text x="551.7" y="107.0" font-size="5.2" text-anchor="end" font-weight="bold">- 16</text>
<line x1="552.7" y1="105.1" x2="554.2" y2="105.1" stroke="#333" stroke-width="0.5"/>
<text x="551.7" y="100.2" font-size="5.2" text-anchor="end" font-weight="bold">- 14</text>
<line x1="552.7" y1="98.3" x2="554.2" y2="98.3" stroke="#333" stroke-width="0.5"/>
<text x="551.7" y="93.5" font-size="5.2" text-anchor="end" font-weight="bold">- 12</text>
<line x1="552.7" y1="91.6" x2="554.2" y2="91.6" stroke="#333" stroke-width="0.5"/>
<text x="551.7" y="86.7" font-size="5.2" text-anchor="end" font-weight="bold">- 10</text>
<line x1="552.7" y1="84.8" x2="554.2" y2="84.8" stroke="#333" stroke-width="0.5"/>
<text x="551.7" y="79.9" font-size="5.2" text-anchor="end" font-weight="bold">- 8</text>
<line x1="552.7" y1="78.0" x2="554.2" y2="78.0" stroke="#333" stroke-width="0.5"/>
<text x="551.7" y="73.1" font-size="5.2" text-anchor="end" font-weight="bold">- 6</text>
<line x1="552.7" y1="71.2" x2="554.2" y2="71.2" stroke="#333" stroke-width="0.5"/>
<text x="551.7" y="66.4" font-size="5.2" text-anchor="end" font-weight="bold">- 4</text>
<line x1="552.7" y1="64.5" x2="554.2" y2="64.5" stroke="#333" stroke-width="0.5"/>
<text x="551.7" y="59.6" font-size="5.2" text-anchor="end" font-weight="bold">- 2</text>
<line x1="552.7" y1="57.7" x2="554.2" y2="57.7" stroke="#333" stroke-width="0.5"/>
<text x="551.7" y="52.8" font-size="5.2" text-anchor="end" font-weight="bold">0</text>
<line x1="552.7" y1="50.9" x2="554.2" y2="50.9" stroke="#333" stroke-width="0.5"/>
<text x="551.7" y="46.1" font-size="5.2" text-anchor="end" font-weight="bold">2</text>
<line x1="552.7" y1="44.2" x2="554.2" y2="44.2" stroke="#333" stroke-width="0.5"/>
<text x="551.7" y="39.3" font-size="5.2" text-anchor="end" font-weight="bold">4</text>
<line x1="552.7" y1="37.4" x2="554.2" y2="37.4" stroke="#333" stroke-width="0.5"/>
<text x="551.7" y="32.5" font-size="5.2" text-anchor="end" font-weight="bold">6</text>
<line x1="552.7" y1="30.6" x2="554.2" y2="30.6" stroke="#333" stroke-width="0.5"/>
<text x="551.7" y="25.7" font-size="5.2" text-anchor="end" font-weight="bold">8</text>
<line x1="552.7" y1="23.8" x2="554.2" y2="23.8" stroke="#333" stroke-width="0.5"/>
<text x="551.7" y="19.0" font-size="5.2" text-anchor="end" font-weight="bold">10</text>
<line x1="552.7" y1="17.1" x2="554.2" y2="17.1" stroke="#333" stroke-width="0.5"/>
<text x="551.7" y="12.2" font-size="5.2" text-anchor="end" font-weight="bold">12</text>
<line x1="552.7" y1="10.3" x2="554.2" y2="10.3" stroke="#333" stroke-width="0.5"/>
<text x="533.5" y="56.0" font-size="10.5" text-anchor="middle" transform="rotate(-90 533.5 56.0)">USP37 expression</text>
<line x1="567.7" y1="14.4" x2="567.7" y2="108.0" stroke="#222" stroke-width="0.8"/>
<path d="M567.7,34.3 C566.7,38.6 559.6,38.4 559.6,45.1 C559.6,53.0 566.7,52.7 567.7,57.8Z" fill="#bf1b6e" stroke="#111" stroke-width="0.6"/>
<path d="M567.7,23.5 C568.7,33.6 575.8,33.1 575.8,48.8 C575.8,63.3 568.7,62.8 567.7,72.2Z" fill="#86b894" stroke="#111" stroke-width="0.6"/>
<line x1="567.7" y1="23.5" x2="567.7" y2="72.2" stroke="#111" stroke-width="0.9"/>
<circle cx="566.5" cy="45.1" r="0.9" fill="#111"/>
<circle cx="569.1" cy="48.8" r="0.9" fill="#111"/>
<text x="567.7" y="12.2" font-size="5" text-anchor="middle" font-weight="bold" letter-spacing="1.1">****</text>
<text x="570.3" y="114.5" font-size="7.1" text-anchor="end" transform="rotate(-45 570.3 114.5)" stroke="#000" stroke-width="0.12">GBM(T= 153,N= 1157)</text>
<line x1="584.4" y1="14.4" x2="584.4" y2="108.0" stroke="#222" stroke-width="0.8"/>
<path d="M584.4,33.4 C583.5,38.5 577.2,38.2 577.2,46.0 C577.2,53.3 583.5,53.1 584.4,57.8Z" fill="#bf1b6e" stroke="#111" stroke-width="0.6"/>
<path d="M584.4,23.5 C585.3,33.6 591.6,33.1 591.6,48.8 C591.6,63.3 585.3,62.8 584.4,72.2Z" fill="#86b894" stroke="#111" stroke-width="0.6"/>
<line x1="584.4" y1="23.5" x2="584.4" y2="72.2" stroke="#111" stroke-width="0.9"/>
<circle cx="583.2" cy="46.0" r="0.9" fill="#111"/>
<circle cx="585.8" cy="48.8" r="0.9" fill="#111"/>
<text x="584.4" y="12.2" font-size="5" text-anchor="middle" font-weight="bold" letter-spacing="1.1">****</text>
<text x="587.0" y="114.5" font-size="7.1" text-anchor="end" transform="rotate(-45 587.0 114.5)" stroke="#000" stroke-width="0.12">GBMLGG(T= 662,N= 1157)</text>
<line x1="601.1" y1="14.4" x2="601.1" y2="108.0" stroke="#222" stroke-width="0.8"/>
<path d="M601.1,33.4 C600.3,38.5 593.9,38.2 593.9,46.0 C593.9,53.3 600.3,53.1 601.1,57.8Z" fill="#bf1b6e" stroke="#111" stroke-width="0.6"/>
<path d="M601.1,23.5 C602.0,33.2 608.7,32.7 608.7,47.9 C608.7,63.0 602.0,62.5 601.1,72.2Z" fill="#86b894" stroke="#111" stroke-width="0.6"/>
<line x1="601.1" y1="23.5" x2="601.1" y2="72.2" stroke="#111" stroke-width="0.9"/>
<circle cx="599.9" cy="46.0" r="0.9" fill="#111"/>
<circle cx="602.5" cy="47.9" r="0.9" fill="#111"/>
<text x="601.1" y="12.2" font-size="5" text-anchor="middle" font-weight="bold" letter-spacing="1.1">****</text>
<text x="603.7" y="114.5" font-size="7.1" text-anchor="end" transform="rotate(-45 603.7 114.5)" stroke="#000" stroke-width="0.12">LGG(T= 509,N= 1157)</text>
<line x1="617.8" y1="28.0" x2="617.8" y2="84.0" stroke="#222" stroke-width="0.8"/>
<path d="M617.8,34.3 C617.0,39.7 610.6,39.5 610.6,47.9 C610.6,57.4 617.0,57.1 617.8,63.2Z" fill="#bf1b6e" stroke="#111" stroke-width="0.6"/>
<path d="M617.8,40.6 C618.7,43.3 625.4,43.2 625.4,47.3 C625.4,51.6 618.7,51.4 617.8,54.2Z" fill="#86b894" stroke="#111" stroke-width="0.6"/>
<line x1="617.8" y1="34.3" x2="617.8" y2="63.2" stroke="#111" stroke-width="0.9"/>
<circle cx="616.6" cy="47.9" r="0.9" fill="#111"/>
<circle cx="619.2" cy="47.3" r="0.9" fill="#111"/>
<text x="617.8" y="12.2" font-size="5" text-anchor="middle" font-weight="bold" letter-spacing="1.1">-</text>
<text x="620.4" y="114.5" font-size="7.1" text-anchor="end" transform="rotate(-45 620.4 114.5)" stroke="#000" stroke-width="0.12">UCEC(T= 180,N= 23)</text>
<line x1="634.5" y1="18.1" x2="634.5" y2="84.9" stroke="#222" stroke-width="0.8"/>
<path d="M634.5,27.1 C633.6,33.6 627.0,33.3 627.0,43.3 C627.0,53.4 633.6,53.1 634.5,59.6Z" fill="#bf1b6e" stroke="#111" stroke-width="0.6"/>
<path d="M634.5,36.1 C635.4,39.7 641.8,39.5 641.8,45.1 C641.8,50.7 635.4,50.6 634.5,54.2Z" fill="#86b894" stroke="#111" stroke-width="0.6"/>
<line x1="634.5" y1="27.1" x2="634.5" y2="59.6" stroke="#111" stroke-width="0.9"/>
<circle cx="633.3" cy="43.3" r="0.9" fill="#111"/>
<circle cx="635.9" cy="45.1" r="0.9" fill="#111"/>
<text x="634.5" y="12.2" font-size="5" text-anchor="middle" font-weight="bold" letter-spacing="1.1">****</text>
<text x="637.1" y="114.5" font-size="7.1" text-anchor="end" transform="rotate(-45 637.1 114.5)" stroke="#000" stroke-width="0.12">BRCA(T= 1092,N= 292)</text>
<line x1="651.2" y1="20.8" x2="651.2" y2="72.2" stroke="#222" stroke-width="0.8"/>
<path d="M651.2,32.5 C650.4,37.6 644.0,37.3 644.0,45.1 C644.0,54.1 650.4,53.8 651.2,59.6Z" fill="#bf1b6e" stroke="#111" stroke-width="0.6"/>
<path d="M651.2,38.8 C652.2,41.4 658.8,41.2 658.8,45.1 C658.8,49.6 652.2,49.5 651.2,52.4Z" fill="#86b894" stroke="#111" stroke-width="0.6"/>
<line x1="651.2" y1="32.5" x2="651.2" y2="59.6" stroke="#111" stroke-width="0.9"/>
<circle cx="650.0" cy="45.1" r="0.9" fill="#111"/>
<circle cx="652.6" cy="45.1" r="0.9" fill="#111"/>
<text x="651.2" y="12.2" font-size="5" text-anchor="middle" font-weight="bold" letter-spacing="1.1">-</text>
<text x="653.9" y="114.5" font-size="7.1" text-anchor="end" transform="rotate(-45 653.9 114.5)" stroke="#000" stroke-width="0.12">CESC(T= 304,N= 13)</text>
<line x1="668.0" y1="15.9" x2="668.0" y2="108.0" stroke="#222" stroke-width="0.8"/>
<path d="M668.0,34.3 C667.0,39.2 660.4,39.0 660.4,46.6 C660.4,54.7 667.0,54.4 668.0,59.6Z" fill="#bf1b6e" stroke="#111" stroke-width="0.6"/>
<path d="M668.0,23.5 C668.9,32.1 675.5,31.7 675.5,45.1 C675.5,59.7 668.9,59.2 668.0,68.6Z" fill="#86b894" stroke="#111" stroke-width="0.6"/>
<line x1="668.0" y1="23.5" x2="668.0" y2="68.6" stroke="#111" stroke-width="0.9"/>
<circle cx="666.8" cy="46.6" r="0.9" fill="#111"/>
<circle cx="669.4" cy="45.1" r="0.9" fill="#111"/>
<text x="668.0" y="12.2" font-size="5" text-anchor="middle" font-weight="bold" letter-spacing="1.1">-</text>
<text x="670.6" y="114.5" font-size="7.1" text-anchor="end" transform="rotate(-45 670.6 114.5)" stroke="#000" stroke-width="0.12">LUAD(T= 513,N= 397)</text>
<line x1="684.7" y1="19.0" x2="684.7" y2="106.9" stroke="#222" stroke-width="0.8"/>
<path d="M684.7,34.3 C683.8,37.9 677.4,37.7 677.4,43.3 C677.4,50.1 683.8,49.8 684.7,54.2Z" fill="#bf1b6e" stroke="#111" stroke-width="0.6"/>
<path d="M684.7,25.3 C685.6,34.3 692.3,33.9 692.3,47.9 C692.3,61.3 685.6,60.9 684.7,69.5Z" fill="#86b894" stroke="#111" stroke-width="0.6"/>
<line x1="684.7" y1="25.3" x2="684.7" y2="69.5" stroke="#111" stroke-width="0.9"/>
<circle cx="683.5" cy="43.3" r="0.9" fill="#111"/>
<circle cx="686.1" cy="47.9" r="0.9" fill="#111"/>
<text x="684.7" y="12.2" font-size="5" text-anchor="middle" font-weight="bold" letter-spacing="1.1">****</text>
<text x="687.3" y="114.5" font-size="7.1" text-anchor="end" transform="rotate(-45 687.3 114.5)" stroke="#000" stroke-width="0.12">ESCA(T= 181,N= 668)</text>
<line x1="701.4" y1="19.0" x2="701.4" y2="106.9" stroke="#222" stroke-width="0.8"/>
<path d="M701.4,34.3 C700.5,38.6 693.8,38.4 693.8,45.1 C693.8,51.9 700.5,51.6 701.4,56.0Z" fill="#bf1b6e" stroke="#111" stroke-width="0.6"/>
<path d="M701.4,27.1 C702.3,35.4 709.0,35.0 709.0,47.9 C709.0,61.3 702.3,60.9 701.4,69.5Z" fill="#86b894" stroke="#111" stroke-width="0.6"/>
<line x1="701.4" y1="27.1" x2="701.4" y2="69.5" stroke="#111" stroke-width="0.9"/>
<circle cx="700.2" cy="45.1" r="0.9" fill="#111"/>
<circle cx="702.8" cy="47.9" r="0.9" fill="#111"/>
<text x="701.4" y="12.2" font-size="5" text-anchor="middle" font-weight="bold" letter-spacing="1.1">****</text>
<text x="704.0" y="114.5" font-size="7.1" text-anchor="end" transform="rotate(-45 704.0 114.5)" stroke="#000" stroke-width="0.12">STES(T= 595,N= 879)</text>
<line x1="718.1" y1="16.3" x2="718.1" y2="108.0" stroke="#222" stroke-width="0.8"/>
<path d="M718.1,34.3 C717.2,40.5 710.5,40.1 710.5,49.7 C710.5,59.2 717.2,58.9 718.1,65.0Z" fill="#bf1b6e" stroke="#111" stroke-width="0.6"/>
<path d="M718.1,24.4 C719.0,33.8 725.7,33.3 725.7,47.9 C725.7,61.3 719.0,60.9 718.1,69.5Z" fill="#86b894" stroke="#111" stroke-width="0.6"/>
<line x1="718.1" y1="24.4" x2="718.1" y2="69.5" stroke="#111" stroke-width="0.9"/>
<circle cx="716.9" cy="49.7" r="0.9" fill="#111"/>
<circle cx="719.5" cy="47.9" r="0.9" fill="#111"/>
<text x="718.1" y="12.2" font-size="5" text-anchor="middle" font-weight="bold" letter-spacing="1.1">****</text>
<text x="720.7" y="114.5" font-size="7.1" text-anchor="end" transform="rotate(-45 720.7 114.5)" stroke="#000" stroke-width="0.12">KIRP(T= 288,N= 168)</text>
<line x1="734.8" y1="16.3" x2="734.8" y2="108.0" stroke="#222" stroke-width="0.8"/>
<path d="M734.8,34.3 C733.9,40.1 727.2,39.8 727.2,48.8 C727.2,57.7 733.9,57.4 734.8,63.2Z" fill="#bf1b6e" stroke="#111" stroke-width="0.6"/>
<path d="M734.8,24.4 C735.7,33.6 742.4,33.1 742.4,47.3 C742.4,61.1 735.7,60.6 734.8,69.5Z" fill="#86b894" stroke="#111" stroke-width="0.6"/>
<line x1="734.8" y1="24.4" x2="734.8" y2="69.5" stroke="#111" stroke-width="0.9"/>
<circle cx="733.6" cy="48.8" r="0.9" fill="#111"/>
<circle cx="736.2" cy="47.3" r="0.9" fill="#111"/>
<text x="734.8" y="12.2" font-size="5" text-anchor="middle" font-weight="bold" letter-spacing="1.1">-</text>
<text x="737.4" y="114.5" font-size="7.1" text-anchor="end" transform="rotate(-45 737.4 114.5)" stroke="#000" stroke-width="0.12">KIPAN(T= 884,N= 168)</text>
<line x1="751.5" y1="21.7" x2="751.5" y2="106.2" stroke="#222" stroke-width="0.8"/>
<path d="M751.5,38.8 C750.6,42.2 743.9,42.1 743.9,47.3 C743.9,52.1 750.6,52.0 751.5,55.1Z" fill="#bf1b6e" stroke="#111" stroke-width="0.6"/>
<path d="M751.5,28.9 C752.4,36.5 759.1,36.1 759.1,47.9 C759.1,61.3 752.4,60.9 751.5,69.5Z" fill="#86b894" stroke="#111" stroke-width="0.6"/>
<line x1="751.5" y1="28.9" x2="751.5" y2="69.5" stroke="#111" stroke-width="0.9"/>
<circle cx="750.3" cy="47.3" r="0.9" fill="#111"/>
<circle cx="752.9" cy="47.9" r="0.9" fill="#111"/>
<text x="751.5" y="12.2" font-size="5" text-anchor="middle" font-weight="bold" letter-spacing="1.1">****</text>
<text x="754.1" y="114.5" font-size="7.1" text-anchor="end" transform="rotate(-45 754.1 114.5)" stroke="#000" stroke-width="0.12">COAD(T= 288,N= 349)</text>
<line x1="768.2" y1="21.7" x2="768.2" y2="106.2" stroke="#222" stroke-width="0.8"/>
<path d="M768.2,38.8 C767.3,42.2 760.6,42.1 760.6,47.3 C760.6,52.1 767.3,52.0 768.2,55.1Z" fill="#bf1b6e" stroke="#111" stroke-width="0.6"/>
<path d="M768.2,28.9 C769.1,36.5 775.8,36.1 775.8,47.9 C775.8,61.3 769.1,60.9 768.2,69.5Z" fill="#86b894" stroke="#111" stroke-width="0.6"/>
<line x1="768.2" y1="28.9" x2="768.2" y2="69.5" stroke="#111" stroke-width="0.9"/>
<circle cx="767.0" cy="47.3" r="0.9" fill="#111"/>
<circle cx="769.6" cy="47.9" r="0.9" fill="#111"/>
<text x="768.2" y="12.2" font-size="5" text-anchor="middle" font-weight="bold" letter-spacing="1.1">****</text>
<text x="770.8" y="114.5" font-size="7.1" text-anchor="end" transform="rotate(-45 770.8 114.5)" stroke="#000" stroke-width="0.12">COADREAD(T= 380,N= 359)</text>
<line x1="784.9" y1="29.8" x2="784.9" y2="72.6" stroke="#222" stroke-width="0.8"/>
<path d="M784.9,34.3 C784.0,39.4 777.3,39.1 777.3,47.0 C777.3,53.7 784.0,53.5 784.9,57.8Z" fill="#bf1b6e" stroke="#111" stroke-width="0.6"/>
<path d="M784.9,40.6 C785.8,43.0 792.5,42.9 792.5,46.6 C792.5,50.2 785.8,50.1 784.9,52.4Z" fill="#86b894" stroke="#111" stroke-width="0.6"/>
<line x1="784.9" y1="34.3" x2="784.9" y2="57.8" stroke="#111" stroke-width="0.9"/>
<circle cx="783.7" cy="47.0" r="0.9" fill="#111"/>
<circle cx="786.3" cy="46.6" r="0.9" fill="#111"/>
<text x="784.9" y="12.2" font-size="5" text-anchor="middle" font-weight="bold" letter-spacing="1.1">-</text>
<text x="787.5" y="114.5" font-size="7.1" text-anchor="end" transform="rotate(-45 787.5 114.5)" stroke="#000" stroke-width="0.12">PRAD(T= 495,N= 152)</text>
<line x1="801.6" y1="21.7" x2="801.6" y2="106.2" stroke="#222" stroke-width="0.8"/>
<path d="M801.6,34.3 C800.7,39.0 794.1,38.8 794.1,46.0 C794.1,53.3 800.7,53.1 801.6,57.8Z" fill="#bf1b6e" stroke="#111" stroke-width="0.6"/>
<path d="M801.6,28.9 C802.5,36.8 808.9,36.4 808.9,48.8 C808.9,62.2 802.5,61.8 801.6,70.4Z" fill="#86b894" stroke="#111" stroke-width="0.6"/>
<line x1="801.6" y1="28.9" x2="801.6" y2="70.4" stroke="#111" stroke-width="0.9"/>
<circle cx="800.4" cy="46.0" r="0.9" fill="#111"/>
<circle cx="803.0" cy="48.8" r="0.9" fill="#111"/>
<text x="801.6" y="12.2" font-size="5" text-anchor="middle" font-weight="bold" letter-spacing="1.1">****</text>
<text x="804.2" y="114.5" font-size="7.1" text-anchor="end" transform="rotate(-45 804.2 114.5)" stroke="#000" stroke-width="0.12">STAD(T= 414,N= 211)</text>
<line x1="818.4" y1="26.2" x2="818.4" y2="73.1" stroke="#222" stroke-width="0.8"/>
<path d="M818.4,34.3 C817.5,39.0 811.1,38.8 811.1,46.0 C811.1,54.4 817.5,54.2 818.4,59.6Z" fill="#bf1b6e" stroke="#111" stroke-width="0.6"/>
<path d="M818.4,36.1 C819.2,40.1 825.6,39.9 825.6,46.0 C825.6,53.3 819.2,53.1 818.4,57.8Z" fill="#86b894" stroke="#111" stroke-width="0.6"/>
<line x1="818.4" y1="34.3" x2="818.4" y2="59.6" stroke="#111" stroke-width="0.9"/>
<circle cx="817.1" cy="46.0" r="0.9" fill="#111"/>
<circle cx="819.8" cy="46.0" r="0.9" fill="#111"/>
<text x="818.4" y="12.2" font-size="5" text-anchor="middle" font-weight="bold" letter-spacing="1.1">**</text>
<text x="821.0" y="114.5" font-size="7.1" text-anchor="end" transform="rotate(-45 821.0 114.5)" stroke="#000" stroke-width="0.12">HNSC(T= 518,N= 44)</text>
<line x1="835.1" y1="16.6" x2="835.1" y2="108.0" stroke="#222" stroke-width="0.8"/>
<path d="M835.1,33.4 C834.1,39.0 827.5,38.7 827.5,47.3 C827.5,56.0 834.1,55.8 835.1,61.4Z" fill="#bf1b6e" stroke="#111" stroke-width="0.6"/>
<path d="M835.1,25.3 C836.0,34.0 842.6,33.5 842.6,47.0 C842.6,60.4 836.0,60.0 835.1,68.6Z" fill="#86b894" stroke="#111" stroke-width="0.6"/>
<line x1="835.1" y1="25.3" x2="835.1" y2="68.6" stroke="#111" stroke-width="0.9"/>
<circle cx="833.9" cy="47.3" r="0.9" fill="#111"/>
<circle cx="836.5" cy="47.0" r="0.9" fill="#111"/>
<text x="835.1" y="12.2" font-size="5" text-anchor="middle" font-weight="bold" letter-spacing="1.1">****</text>
<text x="837.7" y="114.5" font-size="7.1" text-anchor="end" transform="rotate(-45 837.7 114.5)" stroke="#000" stroke-width="0.12">KIRC(T= 530,N= 168)</text>
<line x1="851.8" y1="15.9" x2="851.8" y2="106.9" stroke="#222" stroke-width="0.8"/>
<path d="M851.8,34.3 C850.9,38.6 844.2,38.4 844.2,45.1 C844.2,51.9 850.9,51.6 851.8,56.0Z" fill="#bf1b6e" stroke="#111" stroke-width="0.6"/>
<path d="M851.8,23.5 C852.7,32.1 859.4,31.7 859.4,45.1 C859.4,58.6 852.7,58.1 851.8,66.8Z" fill="#86b894" stroke="#111" stroke-width="0.6"/>
<line x1="851.8" y1="23.5" x2="851.8" y2="66.8" stroke="#111" stroke-width="0.9"/>
<circle cx="850.6" cy="45.1" r="0.9" fill="#111"/>
<circle cx="853.2" cy="45.1" r="0.9" fill="#111"/>
<text x="851.8" y="12.2" font-size="5" text-anchor="middle" font-weight="bold" letter-spacing="1.1">****</text>
<text x="854.4" y="114.5" font-size="7.1" text-anchor="end" transform="rotate(-45 854.4 114.5)" stroke="#000" stroke-width="0.12">LUSC(T= 498,N= 397)</text>
<line x1="868.5" y1="26.7" x2="868.5" y2="79.5" stroke="#222" stroke-width="0.8"/>
<path d="M868.5,36.1 C867.6,42.6 861.3,42.3 861.3,52.4 C861.3,62.4 867.6,62.1 868.5,68.6Z" fill="#bf1b6e" stroke="#111" stroke-width="0.6"/>
<path d="M868.5,41.5 C869.4,45.9 876.1,45.7 876.1,52.4 C876.1,59.1 869.4,58.9 868.5,63.2Z" fill="#86b894" stroke="#111" stroke-width="0.6"/>
<line x1="868.5" y1="36.1" x2="868.5" y2="68.6" stroke="#111" stroke-width="0.9"/>
<circle cx="867.3" cy="52.4" r="0.9" fill="#111"/>
<circle cx="869.9" cy="52.4" r="0.9" fill="#111"/>
<text x="868.5" y="12.2" font-size="5" text-anchor="middle" font-weight="bold" letter-spacing="1.1">-</text>
<text x="871.1" y="114.5" font-size="7.1" text-anchor="end" transform="rotate(-45 871.1 114.5)" stroke="#000" stroke-width="0.12">LIHC(T= 369,N= 160)</text>
<line x1="885.2" y1="30.7" x2="885.2" y2="71.9" stroke="#222" stroke-width="0.8"/>
<path d="M885.2,36.1 C884.3,40.6 877.6,40.4 877.6,47.3 C877.6,56.0 884.3,55.8 885.2,61.4Z" fill="#bf1b6e" stroke="#111" stroke-width="0.6"/>
<path d="M885.2,38.8 C886.1,41.9 892.8,41.8 892.8,46.6 C892.8,51.3 886.1,51.1 885.2,54.2Z" fill="#86b894" stroke="#111" stroke-width="0.6"/>
<line x1="885.2" y1="36.1" x2="885.2" y2="61.4" stroke="#111" stroke-width="0.9"/>
<circle cx="884.0" cy="47.3" r="0.9" fill="#111"/>
<circle cx="886.6" cy="46.6" r="0.9" fill="#111"/>
<text x="885.2" y="12.2" font-size="5" text-anchor="middle" font-weight="bold" letter-spacing="1.1">****</text>
<text x="887.8" y="114.5" font-size="7.1" text-anchor="end" transform="rotate(-45 887.8 114.5)" stroke="#000" stroke-width="0.12">SKCM(T= 102,N= 558)</text>
<line x1="901.9" y1="30.7" x2="901.9" y2="73.1" stroke="#222" stroke-width="0.8"/>
<path d="M901.9,36.1 C901.0,40.8 894.3,40.6 894.3,47.9 C894.3,56.3 901.0,56.0 901.9,61.4Z" fill="#bf1b6e" stroke="#111" stroke-width="0.6"/>
<path d="M901.9,38.8 C902.8,41.9 909.5,41.8 909.5,46.6 C909.5,51.3 902.8,51.1 901.9,54.2Z" fill="#86b894" stroke="#111" stroke-width="0.6"/>
<line x1="901.9" y1="36.1" x2="901.9" y2="61.4" stroke="#111" stroke-width="0.9"/>
<circle cx="900.7" cy="47.9" r="0.9" fill="#111"/>
<circle cx="903.3" cy="46.6" r="0.9" fill="#111"/>
<text x="901.9" y="12.2" font-size="5" text-anchor="middle" font-weight="bold" letter-spacing="1.1">*</text>
<text x="904.5" y="114.5" font-size="7.1" text-anchor="end" transform="rotate(-45 904.5 114.5)" stroke="#000" stroke-width="0.12">BLCA(T= 407,N= 28)</text>
<line x1="918.6" y1="19.9" x2="918.6" y2="106.2" stroke="#222" stroke-width="0.8"/>
<path d="M918.6,33.4 C917.7,38.5 911.4,38.2 911.4,46.0 C911.4,54.4 917.7,54.2 918.6,59.6Z" fill="#bf1b6e" stroke="#111" stroke-width="0.6"/>
<path d="M918.6,25.3 C919.5,33.6 925.8,33.2 925.8,46.0 C925.8,58.9 919.5,58.5 918.6,66.8Z" fill="#86b894" stroke="#111" stroke-width="0.6"/>
<line x1="918.6" y1="25.3" x2="918.6" y2="66.8" stroke="#111" stroke-width="0.9"/>
<circle cx="917.4" cy="46.0" r="0.9" fill="#111"/>
<circle cx="920.0" cy="46.0" r="0.9" fill="#111"/>
<text x="918.6" y="12.2" font-size="5" text-anchor="middle" font-weight="bold" letter-spacing="1.1">*</text>
<text x="921.2" y="114.5" font-size="7.1" text-anchor="end" transform="rotate(-45 921.2 114.5)" stroke="#000" stroke-width="0.12">THCA(T= 504,N= 338)</text>
<line x1="935.3" y1="34.3" x2="935.3" y2="60.5" stroke="#222" stroke-width="0.8"/>
<path d="M935.3,39.7 C934.5,42.5 928.1,42.3 928.1,46.6 C928.1,52.4 934.5,52.2 935.3,56.0Z" fill="#bf1b6e" stroke="#111" stroke-width="0.6"/>
<path d="M935.3,43.3 C936.2,45.4 942.9,45.3 942.9,48.4 C942.9,51.4 936.2,51.3 935.3,53.3Z" fill="#86b894" stroke="#111" stroke-width="0.6"/>
<line x1="935.3" y1="39.7" x2="935.3" y2="56.0" stroke="#111" stroke-width="0.9"/>
<circle cx="934.1" cy="46.6" r="0.9" fill="#111"/>
<circle cx="936.7" cy="48.4" r="0.9" fill="#111"/>
<text x="935.3" y="12.2" font-size="5" text-anchor="middle" font-weight="bold" letter-spacing="1.1">-</text>
<text x="937.9" y="114.5" font-size="7.1" text-anchor="end" transform="rotate(-45 937.9 114.5)" stroke="#000" stroke-width="0.12">READ(T= 92,N= 10)</text>
<line x1="952.0" y1="17.2" x2="952.0" y2="106.9" stroke="#222" stroke-width="0.8"/>
<path d="M952.0,23.5 C951.1,32.5 944.4,32.1 944.4,46.0 C944.4,62.3 951.1,61.8 952.0,72.2Z" fill="#bf1b6e" stroke="#111" stroke-width="0.6"/>
<path d="M952.0,36.1 C952.9,39.0 959.6,38.9 959.6,43.3 C959.6,47.8 952.9,47.7 952.0,50.6Z" fill="#86b894" stroke="#111" stroke-width="0.6"/>
<line x1="952.0" y1="23.5" x2="952.0" y2="72.2" stroke="#111" stroke-width="0.9"/>
<circle cx="950.8" cy="46.0" r="0.9" fill="#111"/>
<circle cx="953.4" cy="43.3" r="0.9" fill="#111"/>
<text x="952.0" y="12.2" font-size="5" text-anchor="middle" font-weight="bold" letter-spacing="1.1">****</text>
<text x="954.6" y="114.5" font-size="7.1" text-anchor="end" transform="rotate(-45 954.6 114.5)" stroke="#000" stroke-width="0.12">OV(T= 419,N= 88)</text>
<line x1="968.7" y1="27.1" x2="968.7" y2="103.8" stroke="#222" stroke-width="0.8"/>
<path d="M968.7,36.1 C967.9,40.8 961.5,40.6 961.5,47.9 C961.5,57.4 967.9,57.1 968.7,63.2Z" fill="#bf1b6e" stroke="#111" stroke-width="0.6"/>
<path d="M968.7,32.5 C969.7,40.1 976.3,39.7 976.3,51.5 C976.3,63.2 969.7,62.8 968.7,70.4Z" fill="#86b894" stroke="#111" stroke-width="0.6"/>
<line x1="968.7" y1="32.5" x2="968.7" y2="70.4" stroke="#111" stroke-width="0.9"/>
<circle cx="967.5" cy="47.9" r="0.9" fill="#111"/>
<circle cx="970.1" cy="51.5" r="0.9" fill="#111"/>
<text x="968.7" y="12.2" font-size="5" text-anchor="middle" font-weight="bold" letter-spacing="1.1">****</text>
<text x="971.3" y="114.5" font-size="7.1" text-anchor="end" transform="rotate(-45 971.3 114.5)" stroke="#000" stroke-width="0.12">PAAD(T= 178,N= 171)</text>
<line x1="985.5" y1="29.8" x2="985.5" y2="65.0" stroke="#222" stroke-width="0.8"/>
<path d="M985.5,34.3 C984.6,37.9 978.2,37.7 978.2,43.3 C978.2,50.1 984.6,49.8 985.5,54.2Z" fill="#bf1b6e" stroke="#111" stroke-width="0.6"/>
<path d="M985.5,31.6 C986.4,34.3 993.0,34.1 993.0,38.3 C993.0,42.5 986.4,42.4 985.5,45.1Z" fill="#86b894" stroke="#111" stroke-width="0.6"/>
<line x1="985.5" y1="31.6" x2="985.5" y2="54.2" stroke="#111" stroke-width="0.9"/>
<circle cx="984.2" cy="43.3" r="0.9" fill="#111"/>
<circle cx="986.9" cy="38.3" r="0.9" fill="#111"/>
<text x="985.5" y="12.2" font-size="5" text-anchor="middle" font-weight="bold" letter-spacing="1.1">****</text>
<text x="988.1" y="114.5" font-size="7.1" text-anchor="end" transform="rotate(-45 988.1 114.5)" stroke="#000" stroke-width="0.12">TGCT(T= 148,N= 165)</text>
<line x1="1002.2" y1="27.4" x2="1002.2" y2="69.5" stroke="#222" stroke-width="0.8"/>
<path d="M1002.2,36.1 C1001.2,40.6 994.6,40.4 994.6,47.3 C994.6,54.9 1001.2,54.7 1002.2,59.6Z" fill="#bf1b6e" stroke="#111" stroke-width="0.6"/>
<path d="M1002.2,41.5 C1003.1,43.0 1009.7,42.9 1009.7,45.1 C1009.7,47.6 1003.1,47.5 1002.2,49.1Z" fill="#86b894" stroke="#111" stroke-width="0.6"/>
<line x1="1002.2" y1="36.1" x2="1002.2" y2="59.6" stroke="#111" stroke-width="0.9"/>
<circle cx="1001.0" cy="47.3" r="0.9" fill="#111"/>
<circle cx="1003.6" cy="45.1" r="0.9" fill="#111"/>
<text x="1002.2" y="12.2" font-size="5" text-anchor="middle" font-weight="bold" letter-spacing="1.1">****</text>
<text x="1004.8" y="114.5" font-size="7.1" text-anchor="end" transform="rotate(-45 1004.8 114.5)" stroke="#000" stroke-width="0.12">UCS(T= 57,N= 78)</text>
<line x1="1018.9" y1="18.1" x2="1018.9" y2="106.2" stroke="#222" stroke-width="0.8"/>
<path d="M1018.9,34.3 C1018.0,38.6 1011.3,38.4 1011.3,45.1 C1011.3,51.9 1018.0,51.6 1018.9,56.0Z" fill="#bf1b6e" stroke="#111" stroke-width="0.6"/>
<path d="M1018.9,28.9 C1019.8,39.0 1026.5,38.5 1026.5,54.2 C1026.5,71.0 1019.8,70.4 1018.9,81.3Z" fill="#86b894" stroke="#111" stroke-width="0.6"/>
<line x1="1018.9" y1="28.9" x2="1018.9" y2="81.3" stroke="#111" stroke-width="0.9"/>
<circle cx="1017.7" cy="45.1" r="0.9" fill="#111"/>
<circle cx="1020.3" cy="54.2" r="0.9" fill="#111"/>
<text x="1018.9" y="12.2" font-size="5" text-anchor="middle" font-weight="bold" letter-spacing="1.1">****</text>
<text x="1021.5" y="114.5" font-size="7.1" text-anchor="end" transform="rotate(-45 1021.5 114.5)" stroke="#000" stroke-width="0.12">ALL(T= 132,N= 337)</text>
<line x1="1035.6" y1="18.1" x2="1035.6" y2="106.2" stroke="#222" stroke-width="0.8"/>
<path d="M1035.6,29.8 C1034.7,33.4 1028.0,33.2 1028.0,38.8 C1028.0,45.0 1034.7,44.8 1035.6,48.8Z" fill="#bf1b6e" stroke="#111" stroke-width="0.6"/>
<path d="M1035.6,32.5 C1036.5,41.9 1043.2,41.4 1043.2,56.0 C1043.2,71.7 1036.5,71.2 1035.6,81.3Z" fill="#86b894" stroke="#111" stroke-width="0.6"/>
<line x1="1035.6" y1="29.8" x2="1035.6" y2="81.3" stroke="#111" stroke-width="0.9"/>
<circle cx="1034.4" cy="38.8" r="0.9" fill="#111"/>
<circle cx="1037.0" cy="56.0" r="0.9" fill="#111"/>
<text x="1035.6" y="12.2" font-size="5" text-anchor="middle" font-weight="bold" letter-spacing="1.1">****</text>
<text x="1038.2" y="114.5" font-size="7.1" text-anchor="end" transform="rotate(-45 1038.2 114.5)" stroke="#000" stroke-width="0.12">LAML(T= 173,N= 337)</text>
<line x1="1052.3" y1="26.7" x2="1052.3" y2="74.0" stroke="#222" stroke-width="0.8"/>
<path d="M1052.3,34.3 C1051.4,39.7 1045.1,39.5 1045.1,47.9 C1045.1,57.4 1051.4,57.1 1052.3,63.2Z" fill="#bf1b6e" stroke="#111" stroke-width="0.6"/>
<path d="M1052.3,44.2 C1053.2,46.0 1059.9,46.0 1059.9,48.8 C1059.9,50.4 1053.2,50.4 1052.3,51.5Z" fill="#86b894" stroke="#111" stroke-width="0.6"/>
<line x1="1052.3" y1="34.3" x2="1052.3" y2="63.2" stroke="#111" stroke-width="0.9"/>
<circle cx="1051.1" cy="47.9" r="0.9" fill="#111"/>
<circle cx="1053.7" cy="48.8" r="0.9" fill="#111"/>
<text x="1052.3" y="12.2" font-size="5" text-anchor="middle" font-weight="bold" letter-spacing="1.1">-</text>
<text x="1054.9" y="114.5" font-size="7.1" text-anchor="end" transform="rotate(-45 1054.9 114.5)" stroke="#000" stroke-width="0.12">PCPG(T= 177,N= 3)</text>
<line x1="1069.0" y1="17.2" x2="1069.0" y2="106.9" stroke="#222" stroke-width="0.8"/>
<path d="M1069.0,36.1 C1068.1,41.5 1061.4,41.3 1061.4,49.7 C1061.4,59.2 1068.1,58.9 1069.0,65.0Z" fill="#bf1b6e" stroke="#111" stroke-width="0.6"/>
<path d="M1069.0,25.3 C1069.9,34.0 1076.6,33.5 1076.6,47.0 C1076.6,60.9 1069.9,60.5 1069.0,69.5Z" fill="#86b894" stroke="#111" stroke-width="0.6"/>
<line x1="1069.0" y1="25.3" x2="1069.0" y2="69.5" stroke="#111" stroke-width="0.9"/>
<circle cx="1067.8" cy="49.7" r="0.9" fill="#111"/>
<circle cx="1070.4" cy="47.0" r="0.9" fill="#111"/>
<text x="1069.0" y="12.2" font-size="5" text-anchor="middle" font-weight="bold" letter-spacing="1.1">****</text>
<text x="1071.6" y="114.5" font-size="7.1" text-anchor="end" transform="rotate(-45 1071.6 114.5)" stroke="#000" stroke-width="0.12">ACC(T= 77,N= 128)</text>
<line x1="1085.7" y1="16.6" x2="1085.7" y2="106.9" stroke="#222" stroke-width="0.8"/>
<path d="M1085.7,41.5 C1084.8,45.5 1078.1,45.3 1078.1,51.5 C1078.1,58.7 1084.8,58.5 1085.7,63.2Z" fill="#bf1b6e" stroke="#111" stroke-width="0.6"/>
<path d="M1085.7,25.3 C1086.6,33.6 1093.3,33.2 1093.3,46.0 C1093.3,60.6 1086.6,60.1 1085.7,69.5Z" fill="#86b894" stroke="#111" stroke-width="0.6"/>
<line x1="1085.7" y1="25.3" x2="1085.7" y2="69.5" stroke="#111" stroke-width="0.9"/>
<circle cx="1084.5" cy="51.5" r="0.9" fill="#111"/>
<circle cx="1087.1" cy="46.0" r="0.9" fill="#111"/>
<text x="1085.7" y="12.2" font-size="5" text-anchor="middle" font-weight="bold" letter-spacing="1.1">****</text>
<text x="1088.3" y="114.5" font-size="7.1" text-anchor="end" transform="rotate(-45 1088.3 114.5)" stroke="#000" stroke-width="0.12">KICH(T= 66,N= 168)</text>
<line x1="1102.4" y1="37.0" x2="1102.4" y2="61.0" stroke="#222" stroke-width="0.8"/>
<path d="M1102.4,40.6 C1101.6,43.5 1095.2,43.4 1095.2,47.9 C1095.2,51.8 1101.6,51.6 1102.4,54.2Z" fill="#bf1b6e" stroke="#111" stroke-width="0.6"/>
<path d="M1102.4,47.9 C1103.3,50.4 1110.0,50.3 1110.0,54.2 C1110.0,58.1 1103.3,58.0 1102.4,60.5Z" fill="#86b894" stroke="#111" stroke-width="0.6"/>
<line x1="1102.4" y1="40.6" x2="1102.4" y2="60.5" stroke="#111" stroke-width="0.9"/>
<circle cx="1101.2" cy="47.9" r="0.9" fill="#111"/>
<circle cx="1103.8" cy="54.2" r="0.9" fill="#111"/>
<text x="1102.4" y="12.2" font-size="5" text-anchor="middle" font-weight="bold" letter-spacing="1.1">***</text>
<text x="1105.0" y="114.5" font-size="7.1" text-anchor="end" transform="rotate(-45 1105.0 114.5)" stroke="#000" stroke-width="0.12">CHOL(T= 36,N= 9)</text>
<rect x="554.2" y="3.3" width="561.8" height="107.2" fill="none" stroke="#555" stroke-width="1.3"/>
<text x="1119.5" y="48.6" font-size="5.4" font-weight="bold">Group</text>
<rect x="1119.5" y="55.7" width="4.6" height="5.2" fill="#bf1b6e"/>
<text x="1127.0" y="60.3" font-size="5.4" font-weight="bold" fill="#bf1b6e">Tumor</text>
<rect x="1119.5" y="66.5" width="4.6" height="5.2" fill="#86b894"/>
<text x="1127.0" y="71.2" font-size="5.4" fill="#5fa876">Normal</text>
</g>
<g id="p_box">
<line x1="1243.0" y1="83.2" x2="1243.0" y2="257.4" stroke="#000" stroke-width="2"/>
<line x1="1234.5" y1="256.4" x2="1373.0" y2="256.4" stroke="#000" stroke-width="2"/>
<line x1="1234.5" y1="256.4" x2="1243.0" y2="256.4" stroke="#000" stroke-width="2"/>
<text x="1230.5" y="260.6" font-size="11.8" text-anchor="end" font-weight="bold">0</text>
<line x1="1234.5" y1="222.0" x2="1243.0" y2="222.0" stroke="#000" stroke-width="2"/>
<text x="1230.5" y="226.2" font-size="11.8" text-anchor="end" font-weight="bold">1</text>
<line x1="1234.5" y1="187.5" x2="1243.0" y2="187.5" stroke="#000" stroke-width="2"/>
<text x="1230.5" y="191.7" font-size="11.8" text-anchor="end" font-weight="bold">2</text>
<line x1="1234.5" y1="153.1" x2="1243.0" y2="153.1" stroke="#000" stroke-width="2"/>
<text x="1230.5" y="157.3" font-size="11.8" text-anchor="end" font-weight="bold">3</text>
<line x1="1234.5" y1="118.6" x2="1243.0" y2="118.6" stroke="#000" stroke-width="2"/>
<text x="1230.5" y="122.8" font-size="11.8" text-anchor="end" font-weight="bold">4</text>
<line x1="1234.5" y1="84.2" x2="1243.0" y2="84.2" stroke="#000" stroke-width="2"/>
<text x="1230.5" y="88.4" font-size="11.8" text-anchor="end" font-weight="bold">5</text>
<line x1="1280.0" y1="256.4" x2="1280.0" y2="264.9" stroke="#000" stroke-width="2"/>
<text x="1279.5" y="279.6" font-size="11.8" text-anchor="middle" font-weight="bold">Normal</text>
<line x1="1335.6" y1="256.4" x2="1335.6" y2="264.9" stroke="#000" stroke-width="2"/>
<text x="1335.1" y="279.6" font-size="11.8" text-anchor="middle" font-weight="bold">Tumor</text>
<line x1="1280.0" y1="202.0" x2="1280.0" y2="242.5" stroke="#000" stroke-width="2.1"/>
<line x1="1271.0" y1="202.0" x2="1289.0" y2="202.0" stroke="#000" stroke-width="2.1"/>
<line x1="1271.0" y1="242.5" x2="1289.0" y2="242.5" stroke="#000" stroke-width="2.1"/>
<rect x="1262.6" y="204.8" width="35.4" height="29.5" fill="#5e9fba" stroke="#000" stroke-width="2.1"/>
<line x1="1262.6" y1="227.5" x2="1298.0" y2="227.5" stroke="#000" stroke-width="2.1"/>
<line x1="1335.6" y1="97.0" x2="1335.6" y2="199.7" stroke="#000" stroke-width="2.1"/>
<line x1="1326.5" y1="97.0" x2="1344.7" y2="97.0" stroke="#000" stroke-width="2.1"/>
<line x1="1326.5" y1="199.7" x2="1344.7" y2="199.7" stroke="#000" stroke-width="2.1"/>
<rect x="1318.0" y="118.5" width="35.4" height="40.4" fill="#a87cc0" stroke="#000" stroke-width="2.1"/>
<line x1="1318.0" y1="141.2" x2="1353.4" y2="141.2" stroke="#000" stroke-width="2.1"/>
<polyline points="1268.5,92.7 1268.5,82.5 1336.5,82.5 1336.5,92.7" fill="none" stroke="#000" stroke-width="1"/>
<text x="1303.6" y="82.0" font-size="28" text-anchor="middle" letter-spacing="1" stroke="#000" stroke-width="0.5">***</text>
<text x="1201.0" y="173.2" font-size="11.6" text-anchor="middle" font-weight="bold" transform="rotate(-90 1201.0 173.2)">USP37 mRNA</text>
<text x="1214.8" y="173.2" font-size="11.6" text-anchor="middle" font-weight="bold" transform="rotate(-90 1214.8 173.2)">expression(/GAPDH)</text>
</g>
<g id="p_wb">
<clipPath id="wc1"><rect x="1445" y="81.6" width="300.3" height="36.2"/></clipPath>
<rect x="1445.0" y="81.6" width="300.3" height="36.2" fill="#d9d9d9"/>
<g clip-path="url(#wc1)" filter="url(#wbb)">
<rect x="1460.0" y="97.4" width="26.0" height="8.1" rx="4.0" fill="#0a0a0a" opacity="0.3"/>
<rect x="1493.1" y="96.7" width="31.0" height="9.4" rx="4.7" fill="#0a0a0a" opacity="0.95"/>
<rect x="1528.0" y="97.1" width="28.0" height="8.6" rx="4.3" fill="#0a0a0a" opacity="0.55"/>
<rect x="1561.1" y="96.7" width="32.0" height="9.5" rx="4.8" fill="#0a0a0a" opacity="1.0"/>
<rect x="1599.0" y="97.2" width="26.0" height="8.3" rx="4.2" fill="#0a0a0a" opacity="0.4"/>
<rect x="1631.5" y="96.7" width="30.0" height="9.4" rx="4.7" fill="#0a0a0a" opacity="0.97"/>
<rect x="1666.5" y="97.2" width="27.0" height="8.5" rx="4.2" fill="#0a0a0a" opacity="0.5"/>
<rect x="1699.5" y="96.7" width="32.0" height="9.5" rx="4.8" fill="#0a0a0a" opacity="1.0"/>
</g>
<rect x="1445.0" y="81.6" width="300.3" height="36.2" fill="none" stroke="#111" stroke-width="1.1"/>
<clipPath id="wc2"><rect x="1445" y="128.1" width="300.3" height="36.2"/></clipPath>
<rect x="1445.0" y="128.1" width="300.3" height="36.2" fill="#d9d9d9"/>
<g clip-path="url(#wc2)" filter="url(#wbb)">
<rect x="1456.0" y="138.9" width="34.0" height="12.5" rx="6.2" fill="#0a0a0a" opacity="1"/>
<rect x="1491.6" y="138.9" width="34.0" height="12.5" rx="6.2" fill="#0a0a0a" opacity="1"/>
<rect x="1525.0" y="138.9" width="34.0" height="12.5" rx="6.2" fill="#0a0a0a" opacity="1"/>
<rect x="1560.1" y="138.9" width="34.0" height="12.5" rx="6.2" fill="#0a0a0a" opacity="1"/>
<rect x="1595.0" y="138.9" width="34.0" height="12.5" rx="6.2" fill="#0a0a0a" opacity="1"/>
<rect x="1629.5" y="138.9" width="34.0" height="12.5" rx="6.2" fill="#0a0a0a" opacity="1"/>
<rect x="1663.0" y="138.9" width="34.0" height="12.5" rx="6.2" fill="#0a0a0a" opacity="1"/>
<rect x="1698.5" y="138.9" width="34.0" height="12.5" rx="6.2" fill="#0a0a0a" opacity="1"/>
</g>
<rect x="1445.0" y="128.1" width="300.3" height="36.2" fill="none" stroke="#111" stroke-width="1.1"/>
<clipPath id="wc3"><rect x="1445" y="197.5" width="300.3" height="34.5"/></clipPath>
<rect x="1445.0" y="197.5" width="300.3" height="34.5" fill="#d9d9d9"/>
<g clip-path="url(#wc3)" filter="url(#wbb)">
<rect x="1459.0" y="212.6" width="28.0" height="6.0" rx="3.0" fill="#0a0a0a" opacity="0.35"/>
<rect x="1494.6" y="211.6" width="28.0" height="8.0" rx="4.0" fill="#0a0a0a" opacity="0.88"/>
<rect x="1530.5" y="212.8" width="26.0" height="5.5" rx="2.8" fill="#0a0a0a" opacity="0.25"/>
<rect x="1563.6" y="212.3" width="28.0" height="6.5" rx="3.2" fill="#0a0a0a" opacity="0.4"/>
<rect x="1598.0" y="212.3" width="28.0" height="6.5" rx="3.2" fill="#0a0a0a" opacity="0.45"/>
<rect x="1632.2" y="209.8" width="33.0" height="11.5" rx="5.8" fill="#0a0a0a" opacity="1.0"/>
<rect x="1666.5" y="211.1" width="29.0" height="9.0" rx="4.5" fill="#0a0a0a" opacity="0.97"/>
<rect x="1700.1" y="210.1" width="33.0" height="11.0" rx="5.5" fill="#0a0a0a" opacity="1.0"/>
</g>
<rect x="1445.0" y="197.5" width="300.3" height="34.5" fill="none" stroke="#111" stroke-width="1.1"/>
<clipPath id="wc4"><rect x="1445" y="241.1" width="300.3" height="37.7"/></clipPath>
<rect x="1445.0" y="241.1" width="300.3" height="37.7" fill="#d9d9d9"/>
<g clip-path="url(#wc4)" filter="url(#wbb)">
<rect x="1458.7" y="254.2" width="33.0" height="11.5" rx="5.8" fill="#0a0a0a" opacity="1"/>
<rect x="1493.1" y="254.2" width="33.0" height="11.5" rx="5.8" fill="#0a0a0a" opacity="1"/>
<rect x="1527.0" y="254.2" width="33.0" height="11.5" rx="5.8" fill="#0a0a0a" opacity="1"/>
<rect x="1561.5" y="254.2" width="33.0" height="11.5" rx="5.8" fill="#0a0a0a" opacity="1"/>
<rect x="1596.6" y="254.2" width="33.0" height="11.5" rx="5.8" fill="#0a0a0a" opacity="1"/>
<rect x="1632.2" y="254.2" width="33.0" height="11.5" rx="5.8" fill="#0a0a0a" opacity="1"/>
<rect x="1666.7" y="254.2" width="33.0" height="11.5" rx="5.8" fill="#0a0a0a" opacity="1"/>
<rect x="1703.3" y="254.2" width="33.0" height="11.5" rx="5.8" fill="#0a0a0a" opacity="1"/>
</g>
<rect x="1445.0" y="241.1" width="300.3" height="37.7" fill="none" stroke="#111" stroke-width="1.1"/>
<text x="1474.1" y="76.8" font-size="12" text-anchor="middle" font-weight="bold">NT</text>
<text x="1511.8" y="76.8" font-size="12" text-anchor="middle" font-weight="bold">T</text>
<text x="1549.5" y="76.8" font-size="12" text-anchor="middle" font-weight="bold">NT</text>
<text x="1587.9" y="76.8" font-size="12" text-anchor="middle" font-weight="bold">T</text>
<text x="1615.3" y="76.8" font-size="12" text-anchor="middle" font-weight="bold">NT</text>
<text x="1650.9" y="76.8" font-size="12" text-anchor="middle" font-weight="bold">T</text>
<text x="1682.8" y="76.8" font-size="12" text-anchor="middle" font-weight="bold">NT</text>
<text x="1716.0" y="76.8" font-size="12" text-anchor="middle" font-weight="bold">T</text>
<text x="1476.2" y="188.3" font-size="12" text-anchor="middle" font-weight="bold">NT</text>
<text x="1514.6" y="188.3" font-size="12" text-anchor="middle" font-weight="bold">T</text>
<text x="1552.1" y="188.3" font-size="12" text-anchor="middle" font-weight="bold">NT</text>
<text x="1590.1" y="188.3" font-size="12" text-anchor="middle" font-weight="bold">T</text>
<text x="1618.1" y="188.3" font-size="12" text-anchor="middle" font-weight="bold">NT</text>
<text x="1653.4" y="188.3" font-size="12" text-anchor="middle" font-weight="bold">T</text>
<text x="1685.8" y="188.3" font-size="12" text-anchor="middle" font-weight="bold">NT</text>
<text x="1718.1" y="188.3" font-size="12" text-anchor="middle" font-weight="bold">T</text>
<text x="1745.7" y="76.8" font-size="12" font-weight="bold">kDa</text>
<text x="1746.3" y="103.2" font-size="12" font-weight="bold">-110</text>
<text x="1746.3" y="152.0" font-size="12" font-weight="bold">-55</text>
<text x="1746.3" y="213.8" font-size="12" font-weight="bold">-110</text>
<text x="1746.3" y="261.5" font-size="12" font-weight="bold">-55</text>
<text x="1440.0" y="108.6" font-size="12.2" text-anchor="end" font-weight="bold">USP37</text>
<text x="1440.0" y="153.2" font-size="12.2" text-anchor="end" font-weight="bold">Tubulin</text>
<text x="1440.0" y="218.4" font-size="12.2" text-anchor="end" font-weight="bold">USP37</text>
<text x="1440.0" y="267.0" font-size="12.2" text-anchor="end" font-weight="bold">Tubulin</text>
</g>
<g id="p_cox">
<g stroke="#000" stroke-width="0.1">
<text x="138.0" y="423.2" font-size="6.95" text-anchor="middle" fill="#111">Univariate Cox regression of USP37 in Pan-cancer (OS)</text>
<text x="13.5" y="436.2" font-size="5.4" letter-spacing="0.24">CancerCode</text>
<text x="95.5" y="436.2" font-size="5.4" text-anchor="middle" letter-spacing="0.33">pvalue</text>
<text x="254.3" y="436.2" font-size="5.4" text-anchor="middle" letter-spacing="0.31">Hazard Ratio(95%CI)</text>
<line x1="13.5" y1="437.3" x2="283.0" y2="437.3" stroke="#222" stroke-width="0.9"/>
<line x1="172.6" y1="438.0" x2="172.6" y2="704.2" stroke="#000" stroke-width="0.8" stroke-dasharray="1.2 1"/>
<text x="13.5" y="443.5" font-size="5.4">ACC</text>
<text x="95.5" y="443.5" font-size="5.4" text-anchor="middle">4.60E-04</text>
<text x="254.3" y="443.5" font-size="5.4" text-anchor="middle">1.95(1.35,2.82)</text>
<line x1="180.6" y1="441.6" x2="200.3" y2="441.6" stroke="#000" stroke-width="0.7" stroke-dasharray="0.9 0.7"/>
<line x1="180.6" y1="440.1" x2="180.6" y2="443.1" stroke="#000" stroke-width="0.7"/>
<line x1="200.3" y1="440.1" x2="200.3" y2="443.1" stroke="#000" stroke-width="0.7"/>
<circle cx="190.4" cy="441.6" r="1.55" fill="#d2141e"/>
<text x="13.5" y="451.4" font-size="5.4">BLCA</text>
<text x="95.5" y="451.4" font-size="5.4" text-anchor="middle">0.13</text>
<text x="254.3" y="451.4" font-size="5.4" text-anchor="middle">1.12(0.97,1.31)</text>
<line x1="171.8" y1="449.5" x2="179.8" y2="449.5" stroke="#000" stroke-width="0.7" stroke-dasharray="0.9 0.7"/>
<line x1="171.8" y1="448.0" x2="171.8" y2="451.0" stroke="#000" stroke-width="0.7"/>
<line x1="179.8" y1="448.0" x2="179.8" y2="451.0" stroke="#000" stroke-width="0.7"/>
<circle cx="175.6" cy="449.5" r="1.55" fill="#d2141e"/>
<text x="13.5" y="459.2" font-size="5.4">BRCA</text>
<text x="95.5" y="459.2" font-size="5.4" text-anchor="middle">0.25</text>
<text x="254.3" y="459.2" font-size="5.4" text-anchor="middle">1.09(0.94,1.27)</text>
<line x1="170.9" y1="457.3" x2="179.0" y2="457.3" stroke="#000" stroke-width="0.7" stroke-dasharray="0.9 0.7"/>
<line x1="170.9" y1="455.8" x2="170.9" y2="458.8" stroke="#000" stroke-width="0.7"/>
<line x1="179.0" y1="455.8" x2="179.0" y2="458.8" stroke="#000" stroke-width="0.7"/>
<circle cx="174.9" cy="457.3" r="1.55" fill="#d2141e"/>
<text x="13.5" y="467.1" font-size="5.4">CESC</text>
<text x="95.5" y="467.1" font-size="5.4" text-anchor="middle">0.41</text>
<text x="254.3" y="467.1" font-size="5.4" text-anchor="middle">1.09(0.88,1.35)</text>
<line x1="169.2" y1="465.2" x2="180.6" y2="465.2" stroke="#000" stroke-width="0.7" stroke-dasharray="0.9 0.7"/>
<line x1="169.2" y1="463.7" x2="169.2" y2="466.7" stroke="#000" stroke-width="0.7"/>
<line x1="180.6" y1="463.7" x2="180.6" y2="466.7" stroke="#000" stroke-width="0.7"/>
<circle cx="174.9" cy="465.2" r="1.55" fill="#d2141e"/>
<text x="13.5" y="475.0" font-size="5.4">CHOL</text>
<text x="95.5" y="475.0" font-size="5.4" text-anchor="middle">0.6</text>
<text x="254.3" y="475.0" font-size="5.4" text-anchor="middle">0.88(0.54,1.43)</text>
<line x1="156.2" y1="473.1" x2="182.1" y2="473.1" stroke="#000" stroke-width="0.7" stroke-dasharray="0.9 0.7"/>
<line x1="156.2" y1="471.6" x2="156.2" y2="474.6" stroke="#000" stroke-width="0.7"/>
<line x1="182.1" y1="471.6" x2="182.1" y2="474.6" stroke="#000" stroke-width="0.7"/>
<circle cx="169.2" cy="473.1" r="1.55" fill="#d2141e"/>
<text x="13.5" y="482.8" font-size="5.4">COAD</text>
<text x="95.5" y="482.8" font-size="5.4" text-anchor="middle">0.63</text>
<text x="254.3" y="482.8" font-size="5.4" text-anchor="middle">0.92(0.66,1.29)</text>
<line x1="161.5" y1="480.9" x2="179.4" y2="480.9" stroke="#000" stroke-width="0.7" stroke-dasharray="0.9 0.7"/>
<line x1="161.5" y1="479.4" x2="161.5" y2="482.4" stroke="#000" stroke-width="0.7"/>
<line x1="179.4" y1="479.4" x2="179.4" y2="482.4" stroke="#000" stroke-width="0.7"/>
<circle cx="170.4" cy="480.9" r="1.55" fill="#d2141e"/>
<text x="13.5" y="490.7" font-size="5.4">DLBC</text>
<text x="95.5" y="490.7" font-size="5.4" text-anchor="middle">0.89</text>
<text x="254.3" y="490.7" font-size="5.4" text-anchor="middle">0.97(0.61,1.54)</text>
<line x1="159.4" y1="488.8" x2="184.1" y2="488.8" stroke="#000" stroke-width="0.7" stroke-dasharray="0.9 0.7"/>
<line x1="159.4" y1="487.3" x2="159.4" y2="490.3" stroke="#000" stroke-width="0.7"/>
<line x1="184.1" y1="487.3" x2="184.1" y2="490.3" stroke="#000" stroke-width="0.7"/>
<circle cx="171.8" cy="488.8" r="1.55" fill="#d2141e"/>
<text x="13.5" y="498.5" font-size="5.4">ESCA</text>
<text x="95.5" y="498.5" font-size="5.4" text-anchor="middle">0.64</text>
<text x="254.3" y="498.5" font-size="5.4" text-anchor="middle">1.07(0.80,1.45)</text>
<line x1="166.6" y1="496.6" x2="182.5" y2="496.6" stroke="#000" stroke-width="0.7" stroke-dasharray="0.9 0.7"/>
<line x1="166.6" y1="495.1" x2="166.6" y2="498.1" stroke="#000" stroke-width="0.7"/>
<line x1="182.5" y1="495.1" x2="182.5" y2="498.1" stroke="#000" stroke-width="0.7"/>
<circle cx="174.4" cy="496.6" r="1.55" fill="#d2141e"/>
<text x="13.5" y="506.4" font-size="5.4">GBM</text>
<text x="95.5" y="506.4" font-size="5.4" text-anchor="middle">0.74</text>
<text x="254.3" y="506.4" font-size="5.4" text-anchor="middle">1.05(0.80,1.37)</text>
<line x1="166.6" y1="504.5" x2="181.0" y2="504.5" stroke="#000" stroke-width="0.7" stroke-dasharray="0.9 0.7"/>
<line x1="166.6" y1="503.0" x2="166.6" y2="506.0" stroke="#000" stroke-width="0.7"/>
<line x1="181.0" y1="503.0" x2="181.0" y2="506.0" stroke="#000" stroke-width="0.7"/>
<circle cx="173.9" cy="504.5" r="1.55" fill="#d2141e"/>
<text x="13.5" y="514.3" font-size="5.4">HNSC</text>
<text x="95.5" y="514.3" font-size="5.4" text-anchor="middle">0.16</text>
<text x="254.3" y="514.3" font-size="5.4" text-anchor="middle">0.92(0.82,1.03)</text>
<line x1="167.3" y1="512.4" x2="173.4" y2="512.4" stroke="#000" stroke-width="0.7" stroke-dasharray="0.9 0.7"/>
<line x1="167.3" y1="510.9" x2="167.3" y2="513.9" stroke="#000" stroke-width="0.7"/>
<line x1="173.4" y1="510.9" x2="173.4" y2="513.9" stroke="#000" stroke-width="0.7"/>
<circle cx="170.4" cy="512.4" r="1.55" fill="#d2141e"/>
<text x="13.5" y="522.1" font-size="5.4">KICH</text>
<text x="95.5" y="522.1" font-size="5.4" text-anchor="middle">0.13</text>
<text x="254.3" y="522.1" font-size="5.4" text-anchor="middle">1.87(0.83,4.20)</text>
<line x1="167.6" y1="520.2" x2="210.9" y2="520.2" stroke="#000" stroke-width="0.7" stroke-dasharray="0.9 0.7"/>
<line x1="167.6" y1="518.7" x2="167.6" y2="521.7" stroke="#000" stroke-width="0.7"/>
<line x1="210.9" y1="518.7" x2="210.9" y2="521.7" stroke="#000" stroke-width="0.7"/>
<circle cx="189.3" cy="520.2" r="1.55" fill="#d2141e"/>
<text x="13.5" y="530.0" font-size="5.4">KIRC</text>
<text x="95.5" y="530.0" font-size="5.4" text-anchor="middle">9.90E-04</text>
<text x="254.3" y="530.0" font-size="5.4" text-anchor="middle">0.83(0.74,0.93)</text>
<line x1="164.6" y1="528.1" x2="170.7" y2="528.1" stroke="#000" stroke-width="0.7" stroke-dasharray="0.9 0.7"/>
<line x1="164.6" y1="526.6" x2="164.6" y2="529.6" stroke="#000" stroke-width="0.7"/>
<line x1="170.7" y1="526.6" x2="170.7" y2="529.6" stroke="#000" stroke-width="0.7"/>
<circle cx="167.6" cy="528.1" r="1.55" fill="#d2141e"/>
<text x="13.5" y="537.9" font-size="5.4">KIRP</text>
<text x="95.5" y="537.9" font-size="5.4" text-anchor="middle">0.02</text>
<text x="254.3" y="537.9" font-size="5.4" text-anchor="middle">1.29(1.03,1.62)</text>
<line x1="173.4" y1="536.0" x2="185.5" y2="536.0" stroke="#000" stroke-width="0.7" stroke-dasharray="0.9 0.7"/>
<line x1="173.4" y1="534.5" x2="173.4" y2="537.5" stroke="#000" stroke-width="0.7"/>
<line x1="185.5" y1="534.5" x2="185.5" y2="537.5" stroke="#000" stroke-width="0.7"/>
<circle cx="179.4" cy="536.0" r="1.55" fill="#d2141e"/>
<text x="13.5" y="545.7" font-size="5.4">LAML</text>
<text x="95.5" y="545.7" font-size="5.4" text-anchor="middle">0.09</text>
<text x="254.3" y="545.7" font-size="5.4" text-anchor="middle">1.14(0.98,1.34)</text>
<line x1="172.1" y1="543.8" x2="180.4" y2="543.8" stroke="#000" stroke-width="0.7" stroke-dasharray="0.9 0.7"/>
<line x1="172.1" y1="542.3" x2="172.1" y2="545.3" stroke="#000" stroke-width="0.7"/>
<line x1="180.4" y1="542.3" x2="180.4" y2="545.3" stroke="#000" stroke-width="0.7"/>
<circle cx="176.1" cy="543.8" r="1.55" fill="#d2141e"/>
<text x="13.5" y="553.6" font-size="5.4">LGG</text>
<text x="95.5" y="553.6" font-size="5.4" text-anchor="middle">0.02</text>
<text x="254.3" y="553.6" font-size="5.4" text-anchor="middle">1.45(1.07,1.97)</text>
<line x1="174.4" y1="551.7" x2="190.7" y2="551.7" stroke="#000" stroke-width="0.7" stroke-dasharray="0.9 0.7"/>
<line x1="174.4" y1="550.2" x2="174.4" y2="553.2" stroke="#000" stroke-width="0.7"/>
<line x1="190.7" y1="550.2" x2="190.7" y2="553.2" stroke="#000" stroke-width="0.7"/>
<circle cx="182.5" cy="551.7" r="1.55" fill="#d2141e"/>
<text x="13.5" y="561.5" font-size="5.4">LIHC</text>
<text x="95.5" y="561.5" font-size="5.4" text-anchor="middle">0.02</text>
<text x="254.3" y="561.5" font-size="5.4" text-anchor="middle">1.19(1.03,1.37)</text>
<line x1="173.4" y1="559.6" x2="181.0" y2="559.6" stroke="#000" stroke-width="0.7" stroke-dasharray="0.9 0.7"/>
<line x1="173.4" y1="558.1" x2="173.4" y2="561.1" stroke="#000" stroke-width="0.7"/>
<line x1="181.0" y1="558.1" x2="181.0" y2="561.1" stroke="#000" stroke-width="0.7"/>
<circle cx="177.2" cy="559.6" r="1.55" fill="#d2141e"/>
<text x="13.5" y="569.3" font-size="5.4">LUAD</text>
<text x="95.5" y="569.3" font-size="5.4" text-anchor="middle">0.57</text>
<text x="254.3" y="569.3" font-size="5.4" text-anchor="middle">1.05(0.89,1.23)</text>
<line x1="169.5" y1="567.4" x2="178.1" y2="567.4" stroke="#000" stroke-width="0.7" stroke-dasharray="0.9 0.7"/>
<line x1="169.5" y1="565.9" x2="169.5" y2="568.9" stroke="#000" stroke-width="0.7"/>
<line x1="178.1" y1="565.9" x2="178.1" y2="568.9" stroke="#000" stroke-width="0.7"/>
<circle cx="173.9" cy="567.4" r="1.55" fill="#d2141e"/>
<text x="13.5" y="577.2" font-size="5.4">LUSC</text>
<text x="95.5" y="577.2" font-size="5.4" text-anchor="middle">0.76</text>
<text x="254.3" y="577.2" font-size="5.4" text-anchor="middle">0.97(0.80,1.18)</text>
<line x1="166.6" y1="575.3" x2="177.0" y2="575.3" stroke="#000" stroke-width="0.7" stroke-dasharray="0.9 0.7"/>
<line x1="166.6" y1="573.8" x2="166.6" y2="576.8" stroke="#000" stroke-width="0.7"/>
<line x1="177.0" y1="573.8" x2="177.0" y2="576.8" stroke="#000" stroke-width="0.7"/>
<circle cx="171.8" cy="575.3" r="1.55" fill="#d2141e"/>
<text x="13.5" y="585.0" font-size="5.4">MESO</text>
<text x="95.5" y="585.0" font-size="5.4" text-anchor="middle">0.44</text>
<text x="254.3" y="585.0" font-size="5.4" text-anchor="middle">1.11(0.85,1.43)</text>
<line x1="168.3" y1="583.1" x2="182.1" y2="583.1" stroke="#000" stroke-width="0.7" stroke-dasharray="0.9 0.7"/>
<line x1="168.3" y1="581.6" x2="168.3" y2="584.6" stroke="#000" stroke-width="0.7"/>
<line x1="182.1" y1="581.6" x2="182.1" y2="584.6" stroke="#000" stroke-width="0.7"/>
<circle cx="175.4" cy="583.1" r="1.55" fill="#d2141e"/>
<text x="13.5" y="592.9" font-size="5.4">OV</text>
<text x="95.5" y="592.9" font-size="5.4" text-anchor="middle">0.63</text>
<text x="254.3" y="592.9" font-size="5.4" text-anchor="middle">0.97(0.84,1.11)</text>
<line x1="167.9" y1="591.0" x2="175.4" y2="591.0" stroke="#000" stroke-width="0.7" stroke-dasharray="0.9 0.7"/>
<line x1="167.9" y1="589.5" x2="167.9" y2="592.5" stroke="#000" stroke-width="0.7"/>
<line x1="175.4" y1="589.5" x2="175.4" y2="592.5" stroke="#000" stroke-width="0.7"/>
<circle cx="171.8" cy="591.0" r="1.55" fill="#d2141e"/>
<text x="13.5" y="600.8" font-size="5.4">PAAD</text>
<text x="95.5" y="600.8" font-size="5.4" text-anchor="middle">0.13</text>
<text x="254.3" y="600.8" font-size="5.4" text-anchor="middle">1.18(0.96,1.45)</text>
<line x1="171.5" y1="598.9" x2="182.5" y2="598.9" stroke="#000" stroke-width="0.7" stroke-dasharray="0.9 0.7"/>
<line x1="171.5" y1="597.4" x2="171.5" y2="600.4" stroke="#000" stroke-width="0.7"/>
<line x1="182.5" y1="597.4" x2="182.5" y2="600.4" stroke="#000" stroke-width="0.7"/>
<circle cx="177.0" cy="598.9" r="1.55" fill="#d2141e"/>
<text x="13.5" y="608.6" font-size="5.4">PCPG</text>
<text x="95.5" y="608.6" font-size="5.4" text-anchor="middle">0.45</text>
<text x="254.3" y="608.6" font-size="5.4" text-anchor="middle">1.34(0.63,2.83)</text>
<line x1="160.3" y1="606.7" x2="200.4" y2="606.7" stroke="#000" stroke-width="0.7" stroke-dasharray="0.9 0.7"/>
<line x1="160.3" y1="605.2" x2="160.3" y2="608.2" stroke="#000" stroke-width="0.7"/>
<line x1="200.4" y1="605.2" x2="200.4" y2="608.2" stroke="#000" stroke-width="0.7"/>
<circle cx="180.4" cy="606.7" r="1.55" fill="#d2141e"/>
<text x="13.5" y="616.5" font-size="5.4">PRAD</text>
<text x="95.5" y="616.5" font-size="5.4" text-anchor="middle">0.24</text>
<text x="254.3" y="616.5" font-size="5.4" text-anchor="middle">1.44(0.78,2.65)</text>
<line x1="166.0" y1="614.6" x2="198.6" y2="614.6" stroke="#000" stroke-width="0.7" stroke-dasharray="0.9 0.7"/>
<line x1="166.0" y1="613.1" x2="166.0" y2="616.1" stroke="#000" stroke-width="0.7"/>
<line x1="198.6" y1="613.1" x2="198.6" y2="616.1" stroke="#000" stroke-width="0.7"/>
<circle cx="182.3" cy="614.6" r="1.55" fill="#d2141e"/>
<text x="13.5" y="624.4" font-size="5.4">READ</text>
<text x="95.5" y="624.4" font-size="5.4" text-anchor="middle">0.05</text>
<text x="254.3" y="624.4" font-size="5.4" text-anchor="middle">0.57(0.32,1.01)</text>
<line x1="142.2" y1="622.5" x2="172.9" y2="622.5" stroke="#000" stroke-width="0.7" stroke-dasharray="0.9 0.7"/>
<line x1="142.2" y1="621.0" x2="142.2" y2="624.0" stroke="#000" stroke-width="0.7"/>
<line x1="172.9" y1="621.0" x2="172.9" y2="624.0" stroke="#000" stroke-width="0.7"/>
<circle cx="157.6" cy="622.5" r="1.55" fill="#d2141e"/>
<text x="13.5" y="632.2" font-size="5.4">SARC</text>
<text x="95.5" y="632.2" font-size="5.4" text-anchor="middle">0.38</text>
<text x="254.3" y="632.2" font-size="5.4" text-anchor="middle">1.07(0.92,1.23)</text>
<line x1="170.4" y1="630.3" x2="178.1" y2="630.3" stroke="#000" stroke-width="0.7" stroke-dasharray="0.9 0.7"/>
<line x1="170.4" y1="628.8" x2="170.4" y2="631.8" stroke="#000" stroke-width="0.7"/>
<line x1="178.1" y1="628.8" x2="178.1" y2="631.8" stroke="#000" stroke-width="0.7"/>
<circle cx="174.4" cy="630.3" r="1.55" fill="#d2141e"/>
<text x="13.5" y="640.1" font-size="5.4">SKCM</text>
<text x="95.5" y="640.1" font-size="5.4" text-anchor="middle">0.34</text>
<text x="254.3" y="640.1" font-size="5.4" text-anchor="middle">0.93(0.81,1.08)</text>
<line x1="167.0" y1="638.2" x2="174.7" y2="638.2" stroke="#000" stroke-width="0.7" stroke-dasharray="0.9 0.7"/>
<line x1="167.0" y1="636.7" x2="167.0" y2="639.7" stroke="#000" stroke-width="0.7"/>
<line x1="174.7" y1="636.7" x2="174.7" y2="639.7" stroke="#000" stroke-width="0.7"/>
<circle cx="170.7" cy="638.2" r="1.55" fill="#d2141e"/>
<text x="13.5" y="648.0" font-size="5.4">STAD</text>
<text x="95.5" y="648.0" font-size="5.4" text-anchor="middle">0.84</text>
<text x="254.3" y="648.0" font-size="5.4" text-anchor="middle">0.98(0.81,1.18)</text>
<line x1="167.0" y1="646.1" x2="177.0" y2="646.1" stroke="#000" stroke-width="0.7" stroke-dasharray="0.9 0.7"/>
<line x1="167.0" y1="644.6" x2="167.0" y2="647.6" stroke="#000" stroke-width="0.7"/>
<line x1="177.0" y1="644.6" x2="177.0" y2="647.6" stroke="#000" stroke-width="0.7"/>
<circle cx="172.1" cy="646.1" r="1.55" fill="#d2141e"/>
<text x="13.5" y="655.8" font-size="5.4">STES</text>
<text x="95.5" y="655.8" font-size="5.4" text-anchor="middle">0.76</text>
<text x="254.3" y="655.8" font-size="5.4" text-anchor="middle">1.02(0.88,1.19)</text>
<line x1="169.2" y1="653.9" x2="177.2" y2="653.9" stroke="#000" stroke-width="0.7" stroke-dasharray="0.9 0.7"/>
<line x1="169.2" y1="652.4" x2="169.2" y2="655.4" stroke="#000" stroke-width="0.7"/>
<line x1="177.2" y1="652.4" x2="177.2" y2="655.4" stroke="#000" stroke-width="0.7"/>
<circle cx="173.1" cy="653.9" r="1.55" fill="#d2141e"/>
<text x="13.5" y="663.7" font-size="5.4">TGCT</text>
<text x="95.5" y="663.7" font-size="5.4" text-anchor="middle">0.9</text>
<text x="254.3" y="663.7" font-size="5.4" text-anchor="middle">1.11(0.23,5.26)</text>
<line x1="133.4" y1="661.8" x2="216.9" y2="661.8" stroke="#000" stroke-width="0.7" stroke-dasharray="0.9 0.7"/>
<line x1="133.4" y1="660.3" x2="133.4" y2="663.3" stroke="#000" stroke-width="0.7"/>
<line x1="216.9" y1="660.3" x2="216.9" y2="663.3" stroke="#000" stroke-width="0.7"/>
<circle cx="175.4" cy="661.8" r="1.55" fill="#d2141e"/>
<text x="13.5" y="671.5" font-size="5.4">THCA</text>
<text x="95.5" y="671.5" font-size="5.4" text-anchor="middle">0.31</text>
<text x="254.3" y="671.5" font-size="5.4" text-anchor="middle">1.34(0.76,2.34)</text>
<line x1="165.3" y1="669.6" x2="195.3" y2="669.6" stroke="#000" stroke-width="0.7" stroke-dasharray="0.9 0.7"/>
<line x1="165.3" y1="668.1" x2="165.3" y2="671.1" stroke="#000" stroke-width="0.7"/>
<line x1="195.3" y1="668.1" x2="195.3" y2="671.1" stroke="#000" stroke-width="0.7"/>
<circle cx="180.4" cy="669.6" r="1.55" fill="#d2141e"/>
<text x="13.5" y="679.4" font-size="5.4">THYM</text>
<text x="95.5" y="679.4" font-size="5.4" text-anchor="middle">0.96</text>
<text x="254.3" y="679.4" font-size="5.4" text-anchor="middle">1.01(0.63,1.62)</text>
<line x1="160.3" y1="677.5" x2="185.5" y2="677.5" stroke="#000" stroke-width="0.7" stroke-dasharray="0.9 0.7"/>
<line x1="160.3" y1="676.0" x2="160.3" y2="679.0" stroke="#000" stroke-width="0.7"/>
<line x1="185.5" y1="676.0" x2="185.5" y2="679.0" stroke="#000" stroke-width="0.7"/>
<circle cx="172.9" cy="677.5" r="1.55" fill="#d2141e"/>
<text x="13.5" y="687.3" font-size="5.4">UCEC</text>
<text x="95.5" y="687.3" font-size="5.4" text-anchor="middle">0.59</text>
<text x="254.3" y="687.3" font-size="5.4" text-anchor="middle">1.07(0.84,1.37)</text>
<line x1="167.9" y1="685.4" x2="181.0" y2="685.4" stroke="#000" stroke-width="0.7" stroke-dasharray="0.9 0.7"/>
<line x1="167.9" y1="683.9" x2="167.9" y2="686.9" stroke="#000" stroke-width="0.7"/>
<line x1="181.0" y1="683.9" x2="181.0" y2="686.9" stroke="#000" stroke-width="0.7"/>
<circle cx="174.4" cy="685.4" r="1.55" fill="#d2141e"/>
<text x="13.5" y="695.1" font-size="5.4">UCS</text>
<text x="95.5" y="695.1" font-size="5.4" text-anchor="middle">0.56</text>
<text x="254.3" y="695.1" font-size="5.4" text-anchor="middle">0.91(0.68,1.24)</text>
<line x1="162.3" y1="693.2" x2="178.3" y2="693.2" stroke="#000" stroke-width="0.7" stroke-dasharray="0.9 0.7"/>
<line x1="162.3" y1="691.7" x2="162.3" y2="694.7" stroke="#000" stroke-width="0.7"/>
<line x1="178.3" y1="691.7" x2="178.3" y2="694.7" stroke="#000" stroke-width="0.7"/>
<circle cx="170.1" cy="693.2" r="1.55" fill="#d2141e"/>
<text x="13.5" y="703.0" font-size="5.4">UVM</text>
<text x="95.5" y="703.0" font-size="5.4" text-anchor="middle">0.42</text>
<text x="254.3" y="703.0" font-size="5.4" text-anchor="middle">1.17(0.80,1.72)</text>
<line x1="166.6" y1="701.1" x2="187.1" y2="701.1" stroke="#000" stroke-width="0.7" stroke-dasharray="0.9 0.7"/>
<line x1="166.6" y1="699.6" x2="166.6" y2="702.6" stroke="#000" stroke-width="0.7"/>
<line x1="187.1" y1="699.6" x2="187.1" y2="702.6" stroke="#000" stroke-width="0.7"/>
<circle cx="176.8" cy="701.1" r="1.55" fill="#d2141e"/>
<line x1="13.5" y1="704.2" x2="283.0" y2="704.2" stroke="#222" stroke-width="0.6"/>
<line x1="119.5" y1="705.8" x2="225.0" y2="705.8" stroke="#222" stroke-width="0.5"/>
<line x1="117.1" y1="705.8" x2="117.1" y2="707.0" stroke="#222" stroke-width="0.4"/>
<line x1="126.3" y1="705.8" x2="126.3" y2="707.0" stroke="#222" stroke-width="0.4"/>
<line x1="135.6" y1="705.8" x2="135.6" y2="707.0" stroke="#222" stroke-width="0.4"/>
<line x1="144.8" y1="705.8" x2="144.8" y2="707.0" stroke="#222" stroke-width="0.4"/>
<line x1="154.1" y1="705.8" x2="154.1" y2="707.0" stroke="#222" stroke-width="0.4"/>
<line x1="163.3" y1="705.8" x2="163.3" y2="707.0" stroke="#222" stroke-width="0.4"/>
<line x1="172.6" y1="705.8" x2="172.6" y2="707.0" stroke="#222" stroke-width="0.4"/>
<line x1="181.8" y1="705.8" x2="181.8" y2="707.0" stroke="#222" stroke-width="0.4"/>
<line x1="191.1" y1="705.8" x2="191.1" y2="707.0" stroke="#222" stroke-width="0.4"/>
<line x1="200.3" y1="705.8" x2="200.3" y2="707.0" stroke="#222" stroke-width="0.4"/>
<line x1="209.6" y1="705.8" x2="209.6" y2="707.0" stroke="#222" stroke-width="0.4"/>
<line x1="218.8" y1="705.8" x2="218.8" y2="707.0" stroke="#222" stroke-width="0.4"/>
<line x1="228.1" y1="705.8" x2="228.1" y2="707.0" stroke="#222" stroke-width="0.4"/>
<text x="126.3" y="710.6" font-size="3.8" text-anchor="middle">-2.5</text>
<text x="135.6" y="710.6" font-size="3.8" text-anchor="middle">-2.0</text>
<text x="144.8" y="710.6" font-size="3.8" text-anchor="middle">-1.5</text>
<text x="154.1" y="710.6" font-size="3.8" text-anchor="middle">-1.0</text>
<text x="163.3" y="710.6" font-size="3.8" text-anchor="middle">-0.5</text>
<text x="172.6" y="710.6" font-size="3.8" text-anchor="middle">0.0</text>
<text x="181.8" y="710.6" font-size="3.8" text-anchor="middle">0.5</text>
<text x="191.1" y="710.6" font-size="3.8" text-anchor="middle">1.0</text>
<text x="200.3" y="710.6" font-size="3.8" text-anchor="middle">1.5</text>
<text x="209.6" y="710.6" font-size="3.8" text-anchor="middle">2.0</text>
<text x="218.8" y="710.6" font-size="3.8" text-anchor="middle">2.5</text>
<text x="172.6" y="716.2" font-size="6.3" text-anchor="middle" letter-spacing="0.35">log2(Hazard Ratio(95%CI))</text>
</g>
</g>
<g id="p_km">
<rect x="328.4" y="398.2" width="125.1" height="106.9" fill="#fff"/>
<line x1="334.2" y1="398.2" x2="334.2" y2="505.1" stroke="#e6e6e6" stroke-width="0.4"/>
<line x1="356.8" y1="398.2" x2="356.8" y2="505.1" stroke="#e6e6e6" stroke-width="0.4"/>
<line x1="379.6" y1="398.2" x2="379.6" y2="505.1" stroke="#e6e6e6" stroke-width="0.4"/>
<line x1="402.3" y1="398.2" x2="402.3" y2="505.1" stroke="#e6e6e6" stroke-width="0.4"/>
<line x1="424.9" y1="398.2" x2="424.9" y2="505.1" stroke="#e6e6e6" stroke-width="0.4"/>
<line x1="447.4" y1="398.2" x2="447.4" y2="505.1" stroke="#e6e6e6" stroke-width="0.4"/>
<line x1="328.4" y1="403.0" x2="453.5" y2="403.0" stroke="#e6e6e6" stroke-width="0.4"/>
<line x1="328.4" y1="427.4" x2="453.5" y2="427.4" stroke="#e6e6e6" stroke-width="0.4"/>
<line x1="328.4" y1="451.6" x2="453.5" y2="451.6" stroke="#e6e6e6" stroke-width="0.4"/>
<line x1="328.4" y1="475.9" x2="453.5" y2="475.9" stroke="#e6e6e6" stroke-width="0.4"/>
<line x1="328.4" y1="500.3" x2="453.5" y2="500.3" stroke="#e6e6e6" stroke-width="0.4"/>
<polyline points="334.2,403.0 345.7,403.0 345.7,405.9 347.0,405.9 347.0,424.1 363.3,424.1 363.3,430.3 372.0,430.3 372.0,437.6 388.3,437.6 388.3,437.6 388.6,437.6 388.6,419.3 413.2,419.3 413.2,419.3" fill="none" stroke="#c9452b" stroke-width="0.7" stroke-dasharray="1.5 1.2"/>
<polyline points="334.2,404.0 338.4,404.0 338.4,418.4 346.0,418.4 346.0,443.3 354.7,443.3 354.7,458.7 362.4,458.7 362.4,465.4 370.0,465.4 370.0,466.3 372.0,466.3 372.0,478.8 388.3,478.8 388.3,479.4 388.6,479.4 388.6,496.1 418.0,496.1 418.0,496.1" fill="none" stroke="#c9452b" stroke-width="0.7" stroke-dasharray="1.5 1.2"/>
<polyline points="334.2,403.0 380.6,403.0 380.6,404.0 390.2,404.0 390.2,411.1 440.1,411.1 440.1,411.7" fill="none" stroke="#4aa6c8" stroke-width="0.7" stroke-dasharray="1.5 1.2"/>
<polyline points="356.6,404.0 357.6,404.0 357.6,417.4 363.3,417.4 363.3,426.0 372.9,426.0 372.9,428.9 380.6,428.9 380.6,437.6 388.6,437.6 388.6,451.4 440.1,451.4 440.1,452.0" fill="none" stroke="#4aa6c8" stroke-width="0.7" stroke-dasharray="1.5 1.2"/>
<polyline points="334.2,403.0 356.6,403.0 356.6,403.0 357.2,403.0 357.2,408.8 361.0,408.8 361.0,412.6 364.9,412.6 364.9,417.4 372.5,417.4 372.5,418.0 373.9,418.0 373.9,421.3 381.5,421.3 381.5,422.2 382.1,422.2 382.1,427.6 387.9,427.6 387.9,428.0 388.6,428.0 388.6,434.7 440.1,434.7 440.1,434.7" fill="none" stroke="#4aa6c8" stroke-width="1.2"/>
<polyline points="334.2,403.0 336.5,403.0 336.5,403.0 337.4,403.0 337.4,408.8 341.3,408.8 341.3,414.5 345.1,414.5 345.1,418.4 346.0,418.4 346.0,429.9 347.0,429.9 347.0,437.6 348.9,437.6 348.9,441.4 354.7,441.4 354.7,442.4 355.6,442.4 355.6,446.2 361.4,446.2 361.4,446.8 362.4,446.8 362.4,451.4 370.0,451.4 370.0,452.0 371.0,452.0 371.0,457.7 372.5,457.7 372.5,463.5 388.3,463.5 388.3,463.8 388.6,463.8 388.6,482.1 418.0,482.1 418.0,481.7" fill="none" stroke="#c9452b" stroke-width="1.2"/>
<line x1="334.2" y1="451.6" x2="371.0" y2="451.6" stroke="#111" stroke-width="0.8" stroke-dasharray="1.2 1"/>
<line x1="371.0" y1="451.6" x2="371.0" y2="500.3" stroke="#111" stroke-width="0.8" stroke-dasharray="1.2 1"/>
<rect x="328.4" y="398.2" width="125.1" height="106.9" fill="none" stroke="#444" stroke-width="0.8"/>
<text x="326.9" y="404.0" font-size="3.1" text-anchor="end" fill="#333">1.00</text>
<text x="326.9" y="428.4" font-size="3.1" text-anchor="end" fill="#333">0.75</text>
<text x="326.9" y="452.6" font-size="3.1" text-anchor="end" fill="#333">0.50</text>
<text x="326.9" y="476.9" font-size="3.1" text-anchor="end" fill="#333">0.25</text>
<text x="326.9" y="501.3" font-size="3.1" text-anchor="end" fill="#333">0.00</text>
<text x="334.2" y="483.1" font-size="5.9" stroke="#000" stroke-width="0.12">p &lt; 0.0001</text>
<text x="334.2" y="501.9" font-size="4.65" font-weight="bold" fill="#111">HR=1.31, 95%CI(1.01, 1.71)</text>
<text x="451.2" y="403.8" font-size="4.4" text-anchor="end" font-weight="bold" font-family="Liberation Serif, serif">USP37 in ACC Exp</text>
<line x1="416.1" y1="410.1" x2="422.0" y2="410.1" stroke="#c9452b" stroke-width="0.9"/>
<text x="425.3" y="411.3" font-size="4.2" font-weight="bold" font-family="Liberation Serif, serif">High</text>
<line x1="416.1" y1="417.4" x2="422.0" y2="417.4" stroke="#4aa6c8" stroke-width="0.9"/>
<text x="425.3" y="418.6" font-size="4.2" font-weight="bold" font-family="Liberation Serif, serif">Low</text>
<rect x="328.4" y="505.7" width="125.1" height="17.8" fill="#fff" stroke="#444" stroke-width="0.8"/>
<text x="334.2" y="513.1" font-size="5.2" text-anchor="middle">38</text>
<text x="356.8" y="513.1" font-size="5.2" text-anchor="middle">15</text>
<text x="379.6" y="513.1" font-size="5.2" text-anchor="middle">5</text>
<text x="402.3" y="513.1" font-size="5.2" text-anchor="middle">1</text>
<text x="424.9" y="513.1" font-size="5.2" text-anchor="middle">0</text>
<text x="447.4" y="513.1" font-size="5.2" text-anchor="middle">0</text>
<text x="334.2" y="520.4" font-size="5.2" text-anchor="middle">41</text>
<text x="356.8" y="520.4" font-size="5.2" text-anchor="middle">31</text>
<text x="379.6" y="520.4" font-size="5.2" text-anchor="middle">17</text>
<text x="402.3" y="520.4" font-size="5.2" text-anchor="middle">7</text>
<text x="424.9" y="520.4" font-size="5.2" text-anchor="middle">2</text>
<text x="447.4" y="520.4" font-size="5.2" text-anchor="middle">0</text>
<text x="327.2" y="512.1" font-size="2.9" text-anchor="end" font-family="Liberation Serif, serif">High</text>
<text x="327.2" y="519.4" font-size="2.9" text-anchor="end" font-family="Liberation Serif, serif">Low</text>
<text x="334.2" y="528.4" font-size="3.3" text-anchor="middle" fill="#333">0</text>
<text x="356.8" y="528.4" font-size="3.3" text-anchor="middle" fill="#333">1000</text>
<text x="379.6" y="528.4" font-size="3.3" text-anchor="middle" fill="#333">2000</text>
<text x="402.3" y="528.4" font-size="3.3" text-anchor="middle" fill="#333">3000</text>
<text x="424.9" y="528.4" font-size="3.3" text-anchor="middle" fill="#333">4000</text>
<text x="447.4" y="528.4" font-size="3.3" text-anchor="middle" fill="#333">5000</text>
<text x="391.1" y="534.0" font-size="4.7" text-anchor="middle">Time</text>
<text x="316.7" y="451.7" font-size="4.6" text-anchor="middle" transform="rotate(-90 316.7 451.7)">Survival probability</text>
<text x="316.7" y="515.3" font-size="4.3" text-anchor="middle" transform="rotate(-90 316.7 515.3)">USP37 in ACC Exp</text>
<rect x="486.5" y="399.8" width="124.7" height="106.9" fill="#fff"/>
<line x1="492.3" y1="399.8" x2="492.3" y2="506.6" stroke="#e6e6e6" stroke-width="0.4"/>
<line x1="530.1" y1="399.8" x2="530.1" y2="506.6" stroke="#e6e6e6" stroke-width="0.4"/>
<line x1="567.9" y1="399.8" x2="567.9" y2="506.6" stroke="#e6e6e6" stroke-width="0.4"/>
<line x1="605.7" y1="399.8" x2="605.7" y2="506.6" stroke="#e6e6e6" stroke-width="0.4"/>
<line x1="486.5" y1="404.9" x2="611.2" y2="404.9" stroke="#e6e6e6" stroke-width="0.4"/>
<line x1="486.5" y1="429.3" x2="611.2" y2="429.3" stroke="#e6e6e6" stroke-width="0.4"/>
<line x1="486.5" y1="453.5" x2="611.2" y2="453.5" stroke="#e6e6e6" stroke-width="0.4"/>
<line x1="486.5" y1="477.9" x2="611.2" y2="477.9" stroke="#e6e6e6" stroke-width="0.4"/>
<line x1="486.5" y1="502.2" x2="611.2" y2="502.2" stroke="#e6e6e6" stroke-width="0.4"/>
<polyline points="492.3,404.9 511.1,431.8 530.2,450.0 549.4,455.8 570.5,455.8" fill="none" stroke="#c9452b" stroke-width="0.7" stroke-dasharray="1.5 1.2"/>
<polyline points="492.3,405.9 511.1,441.4 530.2,468.3 537.9,483.6 547.5,497.0 568.6,497.0 569.6,501.8" fill="none" stroke="#c9452b" stroke-width="0.7" stroke-dasharray="1.5 1.2"/>
<polyline points="492.3,404.6 530.2,430.8 549.4,437.6 568.6,451.0 587.8,462.5 593.6,464.8 611.2,464.8" fill="none" stroke="#4aa6c8" stroke-width="0.7" stroke-dasharray="1.5 1.2"/>
<polyline points="492.3,405.9 530.2,447.2 549.4,464.4 568.6,472.1 576.3,489.4 587.8,495.1 611.2,495.7" fill="none" stroke="#4aa6c8" stroke-width="0.7" stroke-dasharray="1.5 1.2"/>
<polyline points="492.3,404.9 511.1,421.3 530.2,439.5 539.8,447.2 549.4,453.9 559.0,460.6 567.7,462.5 572.5,472.1 576.3,480.7 589.7,481.1 590.7,486.5 611.2,486.5" fill="none" stroke="#4aa6c8" stroke-width="1.7"/>
<polyline points="492.3,404.9 501.5,418.4 511.1,435.6 520.7,452.0 522.6,455.8 530.2,458.7 537.0,461.5 538.3,470.2 546.6,470.6 547.5,486.5 568.6,486.5 569.6,494.7 581.1,494.7 581.1,502.2" fill="none" stroke="#c9452b" stroke-width="1.4"/>
<line x1="492.3" y1="453.5" x2="548.9" y2="453.5" stroke="#111" stroke-width="0.8" stroke-dasharray="1.2 1"/>
<line x1="522.0" y1="453.5" x2="522.0" y2="502.2" stroke="#111" stroke-width="0.8" stroke-dasharray="1.2 1"/>
<line x1="548.9" y1="453.5" x2="548.9" y2="502.2" stroke="#111" stroke-width="0.8" stroke-dasharray="1.2 1"/>
<rect x="486.5" y="399.8" width="124.7" height="106.9" fill="none" stroke="#444" stroke-width="0.8"/>
<text x="485.0" y="405.9" font-size="3.1" text-anchor="end" fill="#333">1.00</text>
<text x="485.0" y="430.3" font-size="3.1" text-anchor="end" fill="#333">0.75</text>
<text x="485.0" y="454.5" font-size="3.1" text-anchor="end" fill="#333">0.50</text>
<text x="485.0" y="478.9" font-size="3.1" text-anchor="end" fill="#333">0.25</text>
<text x="485.0" y="503.2" font-size="3.1" text-anchor="end" fill="#333">0.00</text>
<text x="492.3" y="485.2" font-size="5.9" stroke="#000" stroke-width="0.12">p &lt; 0.0001</text>
<text x="492.3" y="503.6" font-size="4.65" font-weight="bold" fill="#111">HR=1.11, 95%CI(1.03, 1.19)</text>
<text x="609.1" y="405.6" font-size="4.4" text-anchor="end" font-weight="bold" font-family="Liberation Serif, serif">USP37 in LGG Exp</text>
<line x1="574.0" y1="411.9" x2="579.9" y2="411.9" stroke="#c9452b" stroke-width="0.9"/>
<text x="583.2" y="413.1" font-size="4.2" font-weight="bold" font-family="Liberation Serif, serif">High</text>
<line x1="574.0" y1="419.1" x2="579.9" y2="419.1" stroke="#4aa6c8" stroke-width="0.9"/>
<text x="583.2" y="420.3" font-size="4.2" font-weight="bold" font-family="Liberation Serif, serif">Low</text>
<rect x="486.5" y="508.2" width="124.7" height="17.1" fill="#fff" stroke="#444" stroke-width="0.8"/>
<text x="492.3" y="514.9" font-size="5.2" text-anchor="middle">104</text>
<text x="530.1" y="514.9" font-size="5.2" text-anchor="middle">14</text>
<text x="567.9" y="514.9" font-size="5.2" text-anchor="middle">2</text>
<text x="605.7" y="514.9" font-size="5.2" text-anchor="middle">0</text>
<text x="492.3" y="522.9" font-size="5.2" text-anchor="middle">405</text>
<text x="530.1" y="522.9" font-size="5.2" text-anchor="middle">41</text>
<text x="567.9" y="522.9" font-size="5.2" text-anchor="middle">10</text>
<text x="605.7" y="522.9" font-size="5.2" text-anchor="middle">1</text>
<text x="485.3" y="513.9" font-size="2.9" text-anchor="end" font-family="Liberation Serif, serif">High</text>
<text x="485.3" y="521.9" font-size="2.9" text-anchor="end" font-family="Liberation Serif, serif">Low</text>
<text x="492.3" y="530.1" font-size="3.3" text-anchor="middle" fill="#333">0</text>
<text x="530.1" y="530.1" font-size="3.3" text-anchor="middle" fill="#333">2000</text>
<text x="567.9" y="530.1" font-size="3.3" text-anchor="middle" fill="#333">4000</text>
<text x="605.7" y="530.1" font-size="3.3" text-anchor="middle" fill="#333">6000</text>
<text x="548.9" y="535.6" font-size="4.7" text-anchor="middle">Time</text>
<text x="475.0" y="453.2" font-size="4.6" text-anchor="middle" transform="rotate(-90 475.0 453.2)">Survival probability</text>
<text x="475.0" y="517.8" font-size="4.3" text-anchor="middle" transform="rotate(-90 475.0 517.8)">USP37 in LGG Exp</text>
</g>
<g id="p_dot">
<rect x="1098.8" y="378.8" width="169.8" height="224.3" fill="#fff" stroke="#777" stroke-width="0.7"/>
<text x="1097.6" y="382.7" font-size="2.3" text-anchor="end" fill="#111">HALLMARK_XENOBIOTIC_METABOLISM</text>
<text x="1097.6" y="387.2" font-size="2.3" text-anchor="end" fill="#111">HALLMARK_WNT_BETA_CATENIN_SIGNALING</text>
<text x="1097.6" y="391.7" font-size="2.3" text-anchor="end" fill="#111">HALLMARK_UV_RESPONSE_UP</text>
<text x="1097.6" y="396.1" font-size="2.3" text-anchor="end" fill="#111">HALLMARK_UV_RESPONSE_DN</text>
<text x="1097.6" y="400.6" font-size="2.3" text-anchor="end" fill="#111">HALLMARK_UNFOLDED_PROTEIN_RESPONSE</text>
<text x="1097.6" y="405.1" font-size="2.3" text-anchor="end" fill="#111">HALLMARK_TNFA_SIGNALING_VIA_NFKB</text>
<text x="1097.6" y="409.5" font-size="2.3" text-anchor="end" fill="#111">HALLMARK_TGF_BETA_SIGNALING</text>
<text x="1097.6" y="414.0" font-size="2.3" text-anchor="end" fill="#111">HALLMARK_SPERMATOGENESIS</text>
<text x="1097.6" y="418.5" font-size="2.3" text-anchor="end" fill="#111">HALLMARK_REACTIVE_OXYGEN_SPECIES_PATHWAY</text>
<text x="1097.6" y="422.9" font-size="2.3" text-anchor="end" fill="#111">HALLMARK_PROTEIN_SECRETION</text>
<text x="1097.6" y="427.4" font-size="2.3" text-anchor="end" fill="#111">HALLMARK_PI3K_AKT_MTOR_SIGNALING</text>
<text x="1097.6" y="431.8" font-size="2.3" text-anchor="end" fill="#111">HALLMARK_PEROXISOME</text>
<text x="1097.6" y="436.3" font-size="2.3" text-anchor="end" fill="#111">HALLMARK_PANCREAS_BETA_CELLS</text>
<text x="1097.6" y="440.8" font-size="2.3" text-anchor="end" fill="#111">HALLMARK_P53_PATHWAY</text>
<text x="1097.6" y="445.2" font-size="2.3" text-anchor="end" fill="#111">HALLMARK_OXIDATIVE_PHOSPHORYLATION</text>
<text x="1097.6" y="449.7" font-size="2.3" text-anchor="end" fill="#111">HALLMARK_NOTCH_SIGNALING</text>
<text x="1097.6" y="454.2" font-size="2.3" text-anchor="end" fill="#111">HALLMARK_MYOGENESIS</text>
<text x="1097.6" y="458.6" font-size="2.3" text-anchor="end" fill="#111">HALLMARK_MYC_TARGETS_V2</text>
<text x="1097.6" y="463.1" font-size="2.3" text-anchor="end" fill="#111">HALLMARK_MYC_TARGETS_V1</text>
<text x="1097.6" y="467.6" font-size="2.3" text-anchor="end" fill="#111">HALLMARK_MTORC1_SIGNALING</text>
<text x="1097.6" y="472.0" font-size="2.3" text-anchor="end" fill="#111">HALLMARK_MITOTIC_SPINDLE</text>
<text x="1097.6" y="476.5" font-size="2.3" text-anchor="end" fill="#111">HALLMARK_KRAS_SIGNALING_UP</text>
<text x="1097.6" y="481.0" font-size="2.3" text-anchor="end" fill="#111">HALLMARK_KRAS_SIGNALING_DN</text>
<text x="1097.6" y="485.4" font-size="2.3" text-anchor="end" fill="#111">HALLMARK_INTERFERON_GAMMA_RESPONSE</text>
<text x="1097.6" y="489.9" font-size="2.3" text-anchor="end" fill="#111">HALLMARK_INTERFERON_ALPHA_RESPONSE</text>
<text x="1097.6" y="494.3" font-size="2.3" text-anchor="end" fill="#111">HALLMARK_INFLAMMATORY_RESPONSE</text>
<text x="1097.6" y="498.8" font-size="2.3" text-anchor="end" fill="#111">HALLMARK_IL6_JAK_STAT3_SIGNALING</text>
<text x="1097.6" y="503.3" font-size="2.3" text-anchor="end" fill="#111">HALLMARK_IL2_STAT5_SIGNALING</text>
<text x="1097.6" y="507.7" font-size="2.3" text-anchor="end" fill="#111">HALLMARK_HYPOXIA</text>
<text x="1097.6" y="512.2" font-size="2.3" text-anchor="end" fill="#111">HALLMARK_HEME_METABOLISM</text>
<text x="1097.6" y="516.7" font-size="2.3" text-anchor="end" fill="#111">HALLMARK_HEDGEHOG_SIGNALING</text>
<text x="1097.6" y="521.1" font-size="2.3" text-anchor="end" fill="#111">HALLMARK_GLYCOLYSIS</text>
<text x="1097.6" y="525.6" font-size="2.3" text-anchor="end" fill="#111">HALLMARK_G2M_CHECKPOINT</text>
<text x="1097.6" y="530.1" font-size="2.3" text-anchor="end" fill="#111">HALLMARK_FATTY_ACID_METABOLISM</text>
<text x="1097.6" y="534.5" font-size="2.3" text-anchor="end" fill="#111">HALLMARK_ESTROGEN_RESPONSE_LATE</text>
<text x="1097.6" y="539.0" font-size="2.3" text-anchor="end" fill="#111">HALLMARK_ESTROGEN_RESPONSE_EARLY</text>
<text x="1097.6" y="543.5" font-size="2.3" text-anchor="end" fill="#111">HALLMARK_EPITHELIAL_MESENCHYMAL_TRANSITION</text>
<text x="1097.6" y="547.9" font-size="2.3" text-anchor="end" fill="#111">HALLMARK_E2F_TARGETS</text>
<text x="1097.6" y="552.4" font-size="2.3" text-anchor="end" fill="#111">HALLMARK_DNA_REPAIR</text>
<text x="1097.6" y="556.8" font-size="2.3" text-anchor="end" fill="#111">HALLMARK_COMPLEMENT</text>
<text x="1097.6" y="561.3" font-size="2.3" text-anchor="end" fill="#111">HALLMARK_COAGULATION</text>
<text x="1097.6" y="565.8" font-size="2.3" text-anchor="end" fill="#111">HALLMARK_CHOLESTEROL_HOMEOSTASIS</text>
<text x="1097.6" y="570.2" font-size="2.3" text-anchor="end" fill="#111">HALLMARK_BILE_ACID_METABOLISM</text>
<text x="1097.6" y="574.7" font-size="2.3" text-anchor="end" fill="#111">HALLMARK_APOPTOSIS</text>
<text x="1097.6" y="579.2" font-size="2.3" text-anchor="end" fill="#111">HALLMARK_APICAL_SURFACE</text>
<text x="1097.6" y="583.6" font-size="2.3" text-anchor="end" fill="#111">HALLMARK_APICAL_JUNCTION</text>
<text x="1097.6" y="588.1" font-size="2.3" text-anchor="end" fill="#111">HALLMARK_ANGIOGENESIS</text>
<text x="1097.6" y="592.6" font-size="2.3" text-anchor="end" fill="#111">HALLMARK_ANDROGEN_RESPONSE</text>
<text x="1097.6" y="597.0" font-size="2.3" text-anchor="end" fill="#111">HALLMARK_ALLOGRAFT_REJECTION</text>
<text x="1097.6" y="601.5" font-size="2.3" text-anchor="end" fill="#111">HALLMARK_ADIPOGENESIS</text>
<path d="M1101.7 382.0h.01M1112.0 382.0h.01M1137.6 382.0h.01M1142.7 382.0h.01M1147.8 382.0h.01M1158.0 382.0h.01M1178.5 382.0h.01M1204.1 382.0h.01M1229.6 382.0h.01M1265.5 382.0h.01M1255.2 386.5h.01M1234.8 390.9h.01M1188.7 399.8h.01M1198.9 399.8h.01M1239.9 399.8h.01M1101.7 404.3h.01M1122.2 404.3h.01M1168.2 404.3h.01M1219.4 404.3h.01M1122.2 408.8h.01M1127.3 417.7h.01M1137.6 417.7h.01M1173.4 417.7h.01M1178.5 417.7h.01M1239.9 417.7h.01M1250.1 417.7h.01M1112.0 422.2h.01M1127.3 426.6h.01M1142.7 426.6h.01M1234.8 426.6h.01M1101.7 440.0h.01M1106.9 440.0h.01M1234.8 440.0h.01M1255.2 440.0h.01M1127.3 449.0h.01M1168.2 449.0h.01M1101.7 453.4h.01M1137.6 453.4h.01M1158.0 453.4h.01M1209.2 453.4h.01M1224.5 453.4h.01M1158.0 462.3h.01M1204.1 462.3h.01M1198.9 466.8h.01M1127.3 475.7h.01M1163.1 475.7h.01M1214.3 475.7h.01M1224.5 475.7h.01M1137.6 480.2h.01M1188.7 480.2h.01M1106.9 484.7h.01M1137.6 484.7h.01M1265.5 484.7h.01M1214.3 489.1h.01M1219.4 489.1h.01M1204.1 493.6h.01M1229.6 493.6h.01M1101.7 498.1h.01M1112.0 498.1h.01M1122.2 498.1h.01M1152.9 498.1h.01M1173.4 498.1h.01M1214.3 498.1h.01M1158.0 502.5h.01M1183.6 502.5h.01M1122.2 507.0h.01M1132.4 507.0h.01M1137.6 507.0h.01M1204.1 507.0h.01M1209.2 507.0h.01M1250.1 507.0h.01M1163.1 511.5h.01M1142.7 520.4h.01M1112.0 529.3h.01M1178.5 529.3h.01M1219.4 529.3h.01M1245.0 529.3h.01M1265.5 529.3h.01M1127.3 533.8h.01M1168.2 533.8h.01M1163.1 538.2h.01M1132.4 542.7h.01M1152.9 542.7h.01M1193.8 542.7h.01M1250.1 542.7h.01M1265.5 542.7h.01M1142.7 551.6h.01M1168.2 551.6h.01M1239.9 551.6h.01M1112.0 556.1h.01M1152.9 556.1h.01M1214.3 556.1h.01M1101.7 560.6h.01M1112.0 560.6h.01M1152.9 560.6h.01M1224.5 565.0h.01M1188.7 569.5h.01M1250.1 569.5h.01M1106.9 574.0h.01M1122.2 574.0h.01M1204.1 574.0h.01M1127.3 582.9h.01M1183.6 582.9h.01M1224.5 582.9h.01M1265.5 582.9h.01M1229.6 587.3h.01M1117.1 591.8h.01M1122.2 591.8h.01M1250.1 591.8h.01M1255.2 596.3h.01M1101.7 600.7h.01M1163.1 600.7h.01M1178.5 600.7h.01M1204.1 600.7h.01M1214.3 600.7h.01M1250.1 600.7h.01M1260.3 600.7h.01" stroke="#8f8a4c" stroke-width="2.2" stroke-linecap="round" fill="none"/>
<path d="M1106.9 382.0h.01M1152.9 382.0h.01M1239.9 382.0h.01M1245.0 382.0h.01M1137.6 386.5h.01M1163.1 386.5h.01M1224.5 386.5h.01M1260.3 386.5h.01M1219.4 390.9h.01M1117.1 399.8h.01M1152.9 399.8h.01M1193.8 399.8h.01M1112.0 404.3h.01M1214.3 404.3h.01M1260.3 404.3h.01M1265.5 404.3h.01M1122.2 413.2h.01M1142.7 413.2h.01M1147.8 413.2h.01M1163.1 413.2h.01M1183.6 413.2h.01M1112.0 417.7h.01M1255.2 417.7h.01M1265.5 417.7h.01M1152.9 422.2h.01M1168.2 422.2h.01M1168.2 426.6h.01M1245.0 431.1h.01M1106.9 435.6h.01M1173.4 435.6h.01M1204.1 435.6h.01M1117.1 440.0h.01M1132.4 440.0h.01M1158.0 440.0h.01M1204.1 440.0h.01M1245.0 440.0h.01M1106.9 449.0h.01M1142.7 449.0h.01M1198.9 449.0h.01M1209.2 449.0h.01M1117.1 457.9h.01M1142.7 457.9h.01M1219.4 457.9h.01M1142.7 462.3h.01M1122.2 466.8h.01M1137.6 466.8h.01M1214.3 466.8h.01M1239.9 475.7h.01M1193.8 480.2h.01M1214.3 480.2h.01M1152.9 489.1h.01M1137.6 498.1h.01M1163.1 498.1h.01M1255.2 498.1h.01M1101.7 502.5h.01M1152.9 502.5h.01M1188.7 502.5h.01M1173.4 507.0h.01M1193.8 507.0h.01M1219.4 507.0h.01M1214.3 511.5h.01M1219.4 511.5h.01M1173.4 515.9h.01M1137.6 520.4h.01M1173.4 520.4h.01M1183.6 520.4h.01M1214.3 520.4h.01M1250.1 520.4h.01M1132.4 529.3h.01M1137.6 529.3h.01M1209.2 529.3h.01M1147.8 533.8h.01M1158.0 533.8h.01M1198.9 538.2h.01M1234.8 538.2h.01M1198.9 542.7h.01M1209.2 542.7h.01M1229.6 542.7h.01M1260.3 542.7h.01M1117.1 551.6h.01M1122.2 551.6h.01M1152.9 551.6h.01M1178.5 551.6h.01M1183.6 551.6h.01M1193.8 551.6h.01M1204.1 551.6h.01M1245.0 551.6h.01M1101.7 556.1h.01M1250.1 556.1h.01M1265.5 556.1h.01M1178.5 560.6h.01M1245.0 560.6h.01M1168.2 565.0h.01M1198.9 565.0h.01M1229.6 565.0h.01M1117.1 569.5h.01M1178.5 569.5h.01M1183.6 569.5h.01M1234.8 578.4h.01M1260.3 578.4h.01M1122.2 582.9h.01M1158.0 582.9h.01M1219.4 582.9h.01M1255.2 582.9h.01M1137.6 587.3h.01M1147.8 587.3h.01M1234.8 587.3h.01M1137.6 591.8h.01M1178.5 591.8h.01M1209.2 591.8h.01M1260.3 591.8h.01" stroke="#8f8a4c" stroke-width="2.0" stroke-linecap="round" fill="none"/>
<path d="M1117.1 382.0h.01M1127.3 382.0h.01M1193.8 382.0h.01M1260.3 382.0h.01M1137.6 404.3h.01M1142.7 404.3h.01M1147.8 404.3h.01M1158.0 404.3h.01M1188.7 404.3h.01M1198.9 404.3h.01M1245.0 404.3h.01M1188.7 417.7h.01M1260.3 417.7h.01M1193.8 435.6h.01M1142.7 440.0h.01M1219.4 440.0h.01M1239.9 440.0h.01M1106.9 444.5h.01M1219.4 444.5h.01M1245.0 444.5h.01M1147.8 453.4h.01M1198.9 453.4h.01M1204.1 453.4h.01M1229.6 453.4h.01M1234.8 453.4h.01M1142.7 475.7h.01M1112.0 484.7h.01M1152.9 484.7h.01M1224.5 484.7h.01M1229.6 484.7h.01M1245.0 484.7h.01M1106.9 489.1h.01M1137.6 489.1h.01M1142.7 489.1h.01M1239.9 489.1h.01M1265.5 489.1h.01M1158.0 493.6h.01M1163.1 493.6h.01M1193.8 493.6h.01M1214.3 493.6h.01M1224.5 493.6h.01M1260.3 493.6h.01M1127.3 498.1h.01M1142.7 498.1h.01M1209.2 498.1h.01M1219.4 498.1h.01M1239.9 498.1h.01M1250.1 498.1h.01M1106.9 502.5h.01M1117.1 502.5h.01M1132.4 502.5h.01M1147.8 502.5h.01M1204.1 502.5h.01M1245.0 502.5h.01M1255.2 502.5h.01M1127.3 507.0h.01M1239.9 507.0h.01M1137.6 542.7h.01M1178.5 542.7h.01M1204.1 542.7h.01M1234.8 542.7h.01M1173.4 556.1h.01M1178.5 556.1h.01M1183.6 556.1h.01M1234.8 556.1h.01M1183.6 560.6h.01M1219.4 560.6h.01M1250.1 560.6h.01M1168.2 569.5h.01M1260.3 574.0h.01M1122.2 596.3h.01M1132.4 596.3h.01M1209.2 596.3h.01M1117.1 600.7h.01M1132.4 600.7h.01M1142.7 600.7h.01M1183.6 600.7h.01M1245.0 600.7h.01" stroke="#5c5b52" stroke-width="2.8" stroke-linecap="round" fill="none"/>
<path d="M1122.2 382.0h.01M1198.9 382.0h.01M1219.4 382.0h.01M1234.8 382.0h.01M1173.4 404.3h.01M1204.1 404.3h.01M1147.8 417.7h.01M1234.8 417.7h.01M1163.1 440.0h.01M1168.2 440.0h.01M1188.7 440.0h.01M1147.8 444.5h.01M1152.9 444.5h.01M1209.2 444.5h.01M1214.3 444.5h.01M1219.4 449.0h.01M1163.1 453.4h.01M1193.8 453.4h.01M1239.9 453.4h.01M1173.4 475.7h.01M1101.7 484.7h.01M1142.7 484.7h.01M1147.8 484.7h.01M1163.1 484.7h.01M1173.4 484.7h.01M1178.5 484.7h.01M1183.6 484.7h.01M1204.1 484.7h.01M1255.2 484.7h.01M1260.3 484.7h.01M1101.7 489.1h.01M1117.1 489.1h.01M1122.2 489.1h.01M1163.1 489.1h.01M1183.6 489.1h.01M1260.3 489.1h.01M1112.0 493.6h.01M1117.1 493.6h.01M1188.7 493.6h.01M1239.9 493.6h.01M1117.1 498.1h.01M1198.9 498.1h.01M1260.3 498.1h.01M1122.2 502.5h.01M1137.6 502.5h.01M1214.3 502.5h.01M1178.5 507.0h.01M1219.4 520.4h.01M1168.2 529.3h.01M1173.4 529.3h.01M1188.7 529.3h.01M1122.2 542.7h.01M1127.3 542.7h.01M1163.1 542.7h.01M1117.1 556.1h.01M1127.3 556.1h.01M1132.4 556.1h.01M1147.8 556.1h.01M1245.0 556.1h.01M1122.2 560.6h.01M1193.8 560.6h.01M1198.9 560.6h.01M1209.2 560.6h.01M1178.5 574.0h.01M1127.3 596.3h.01M1158.0 596.3h.01M1173.4 596.3h.01M1193.8 596.3h.01M1198.9 596.3h.01M1234.8 596.3h.01M1260.3 596.3h.01M1137.6 600.7h.01M1219.4 600.7h.01M1239.9 600.7h.01M1255.2 600.7h.01" stroke="#5c5b52" stroke-width="3.0" stroke-linecap="round" fill="none"/>
<path d="M1132.4 382.0h.01M1214.3 382.0h.01M1250.1 382.0h.01M1122.2 386.5h.01M1132.4 386.5h.01M1142.7 386.5h.01M1147.8 386.5h.01M1158.0 386.5h.01M1178.5 386.5h.01M1188.7 386.5h.01M1229.6 386.5h.01M1265.5 386.5h.01M1106.9 390.9h.01M1112.0 390.9h.01M1173.4 390.9h.01M1178.5 390.9h.01M1183.6 390.9h.01M1188.7 390.9h.01M1193.8 390.9h.01M1127.3 395.4h.01M1163.1 395.4h.01M1198.9 395.4h.01M1255.2 395.4h.01M1265.5 395.4h.01M1122.2 399.8h.01M1147.8 399.8h.01M1178.5 399.8h.01M1214.3 399.8h.01M1219.4 399.8h.01M1245.0 399.8h.01M1265.5 399.8h.01M1152.9 404.3h.01M1101.7 408.8h.01M1147.8 408.8h.01M1158.0 408.8h.01M1183.6 408.8h.01M1219.4 408.8h.01M1127.3 413.2h.01M1188.7 413.2h.01M1234.8 413.2h.01M1260.3 413.2h.01M1117.1 417.7h.01M1152.9 417.7h.01M1158.0 417.7h.01M1209.2 417.7h.01M1188.7 422.2h.01M1234.8 422.2h.01M1250.1 422.2h.01M1117.1 426.6h.01M1193.8 426.6h.01M1219.4 426.6h.01M1147.8 431.1h.01M1219.4 431.1h.01M1234.8 431.1h.01M1239.9 431.1h.01M1163.1 435.6h.01M1234.8 435.6h.01M1255.2 435.6h.01M1152.9 440.0h.01M1137.6 449.0h.01M1158.0 449.0h.01M1163.1 449.0h.01M1173.4 449.0h.01M1193.8 449.0h.01M1204.1 449.0h.01M1239.9 449.0h.01M1106.9 453.4h.01M1112.0 453.4h.01M1132.4 453.4h.01M1132.4 457.9h.01M1163.1 457.9h.01M1168.2 457.9h.01M1101.7 462.3h.01M1127.3 462.3h.01M1152.9 462.3h.01M1234.8 462.3h.01M1245.0 462.3h.01M1260.3 462.3h.01M1101.7 466.8h.01M1106.9 466.8h.01M1112.0 466.8h.01M1147.8 466.8h.01M1204.1 466.8h.01M1209.2 466.8h.01M1112.0 475.7h.01M1147.8 475.7h.01M1168.2 475.7h.01M1229.6 475.7h.01M1234.8 475.7h.01M1265.5 475.7h.01M1101.7 480.2h.01M1127.3 480.2h.01M1229.6 480.2h.01M1234.8 480.2h.01M1239.9 480.2h.01M1265.5 480.2h.01M1245.0 489.1h.01M1255.2 489.1h.01M1101.7 493.6h.01M1204.1 498.1h.01M1117.1 507.0h.01M1142.7 507.0h.01M1152.9 507.0h.01M1168.2 507.0h.01M1117.1 511.5h.01M1142.7 511.5h.01M1178.5 511.5h.01M1183.6 511.5h.01M1209.2 511.5h.01M1127.3 515.9h.01M1132.4 515.9h.01M1137.6 515.9h.01M1147.8 515.9h.01M1158.0 515.9h.01M1168.2 515.9h.01M1178.5 515.9h.01M1188.7 515.9h.01M1193.8 515.9h.01M1209.2 515.9h.01M1239.9 515.9h.01M1245.0 515.9h.01M1101.7 520.4h.01M1127.3 520.4h.01M1168.2 520.4h.01M1209.2 520.4h.01M1224.5 520.4h.01M1229.6 520.4h.01M1234.8 520.4h.01M1101.7 529.3h.01M1117.1 529.3h.01M1122.2 529.3h.01M1204.1 529.3h.01M1214.3 529.3h.01M1250.1 529.3h.01M1122.2 533.8h.01M1137.6 533.8h.01M1152.9 533.8h.01M1163.1 533.8h.01M1173.4 533.8h.01M1188.7 533.8h.01M1214.3 533.8h.01M1234.8 533.8h.01M1239.9 533.8h.01M1106.9 538.2h.01M1122.2 538.2h.01M1142.7 538.2h.01M1183.6 538.2h.01M1204.1 538.2h.01M1229.6 538.2h.01M1101.7 542.7h.01M1214.3 542.7h.01M1255.2 542.7h.01M1127.3 551.6h.01M1219.4 551.6h.01M1265.5 551.6h.01M1168.2 556.1h.01M1214.3 560.6h.01M1101.7 565.0h.01M1127.3 565.0h.01M1132.4 565.0h.01M1152.9 565.0h.01M1193.8 565.0h.01M1255.2 565.0h.01M1260.3 565.0h.01M1101.7 569.5h.01M1163.1 569.5h.01M1234.8 569.5h.01M1245.0 569.5h.01M1265.5 569.5h.01M1117.1 574.0h.01M1188.7 574.0h.01M1219.4 574.0h.01M1234.8 574.0h.01M1117.1 578.4h.01M1204.1 578.4h.01M1250.1 578.4h.01M1112.0 582.9h.01M1137.6 582.9h.01M1250.1 582.9h.01M1173.4 587.3h.01M1209.2 587.3h.01M1239.9 587.3h.01M1112.0 591.8h.01M1142.7 591.8h.01M1163.1 591.8h.01M1193.8 591.8h.01M1214.3 591.8h.01M1229.6 591.8h.01M1255.2 591.8h.01M1265.5 596.3h.01M1147.8 600.7h.01M1158.0 600.7h.01" stroke="#d3ae2e" stroke-width="1.8" stroke-linecap="round" fill="none"/>
<path d="M1163.1 382.0h.01M1183.6 382.0h.01M1188.7 382.0h.01M1117.1 404.3h.01M1224.5 404.3h.01M1219.4 417.7h.01M1224.5 440.0h.01M1101.7 444.5h.01M1112.0 444.5h.01M1117.1 444.5h.01M1127.3 444.5h.01M1132.4 444.5h.01M1158.0 444.5h.01M1163.1 444.5h.01M1173.4 444.5h.01M1178.5 444.5h.01M1188.7 444.5h.01M1193.8 444.5h.01M1204.1 444.5h.01M1265.5 444.5h.01M1117.1 453.4h.01M1173.4 453.4h.01M1188.7 453.4h.01M1219.4 453.4h.01M1260.3 453.4h.01M1265.5 453.4h.01M1122.2 475.7h.01M1122.2 484.7h.01M1188.7 484.7h.01M1209.2 484.7h.01M1219.4 484.7h.01M1168.2 489.1h.01M1188.7 489.1h.01M1193.8 489.1h.01M1198.9 489.1h.01M1204.1 489.1h.01M1209.2 489.1h.01M1127.3 493.6h.01M1137.6 493.6h.01M1183.6 493.6h.01M1198.9 493.6h.01M1219.4 493.6h.01M1158.0 498.1h.01M1168.2 498.1h.01M1188.7 498.1h.01M1224.5 498.1h.01M1229.6 498.1h.01M1142.7 502.5h.01M1163.1 502.5h.01M1173.4 502.5h.01M1224.5 502.5h.01M1142.7 542.7h.01M1173.4 542.7h.01M1224.5 542.7h.01M1198.9 551.6h.01M1188.7 556.1h.01M1198.9 556.1h.01M1209.2 556.1h.01M1239.9 556.1h.01M1132.4 560.6h.01M1137.6 560.6h.01M1158.0 560.6h.01M1168.2 560.6h.01M1224.5 560.6h.01M1229.6 560.6h.01M1234.8 560.6h.01M1198.9 582.9h.01M1137.6 596.3h.01M1142.7 596.3h.01M1163.1 596.3h.01M1204.1 596.3h.01M1219.4 596.3h.01M1245.0 596.3h.01M1168.2 600.7h.01M1198.9 600.7h.01M1209.2 600.7h.01M1224.5 600.7h.01" stroke="#5c5b52" stroke-width="3.2" stroke-linecap="round" fill="none"/>
<path d="M1168.2 382.0h.01M1173.4 382.0h.01M1255.2 382.0h.01M1183.6 386.5h.01M1214.3 390.9h.01M1132.4 399.8h.01M1127.3 404.3h.01M1209.2 404.3h.01M1239.9 404.3h.01M1188.7 408.8h.01M1117.1 413.2h.01M1137.6 413.2h.01M1101.7 417.7h.01M1163.1 417.7h.01M1183.6 417.7h.01M1204.1 417.7h.01M1229.6 417.7h.01M1142.7 431.1h.01M1127.3 440.0h.01M1147.8 440.0h.01M1173.4 440.0h.01M1178.5 440.0h.01M1198.9 440.0h.01M1260.3 440.0h.01M1255.2 444.5h.01M1214.3 453.4h.01M1250.1 453.4h.01M1188.7 462.3h.01M1193.8 475.7h.01M1260.3 475.7h.01M1147.8 480.2h.01M1112.0 489.1h.01M1229.6 489.1h.01M1250.1 489.1h.01M1106.9 493.6h.01M1168.2 493.6h.01M1173.4 493.6h.01M1245.0 493.6h.01M1147.8 498.1h.01M1178.5 498.1h.01M1193.8 498.1h.01M1234.8 502.5h.01M1106.9 507.0h.01M1193.8 520.4h.01M1168.2 542.7h.01M1219.4 542.7h.01M1106.9 556.1h.01M1137.6 556.1h.01M1163.1 556.1h.01M1224.5 556.1h.01M1106.9 560.6h.01M1204.1 560.6h.01M1183.6 565.0h.01M1142.7 574.0h.01M1183.6 574.0h.01M1193.8 574.0h.01M1265.5 574.0h.01M1239.9 578.4h.01M1101.7 582.9h.01M1106.9 582.9h.01M1193.8 582.9h.01M1224.5 587.3h.01M1132.4 591.8h.01M1219.4 591.8h.01M1112.0 596.3h.01M1152.9 596.3h.01M1229.6 596.3h.01M1250.1 596.3h.01M1193.8 600.7h.01" stroke="#8f8a4c" stroke-width="2.4" stroke-linecap="round" fill="none"/>
<path d="M1209.2 382.0h.01M1224.5 382.0h.01M1168.2 386.5h.01M1106.9 404.3h.01M1163.1 404.3h.01M1178.5 404.3h.01M1183.6 404.3h.01M1193.8 404.3h.01M1229.6 404.3h.01M1234.8 404.3h.01M1250.1 404.3h.01M1255.2 404.3h.01M1198.9 413.2h.01M1106.9 417.7h.01M1142.7 417.7h.01M1168.2 417.7h.01M1224.5 417.7h.01M1245.0 417.7h.01M1193.8 440.0h.01M1209.2 440.0h.01M1183.6 444.5h.01M1224.5 444.5h.01M1229.6 444.5h.01M1239.9 444.5h.01M1127.3 453.4h.01M1152.9 453.4h.01M1245.0 453.4h.01M1255.2 453.4h.01M1106.9 475.7h.01M1137.6 475.7h.01M1178.5 475.7h.01M1183.6 475.7h.01M1198.9 480.2h.01M1117.1 484.7h.01M1132.4 484.7h.01M1193.8 484.7h.01M1234.8 484.7h.01M1250.1 484.7h.01M1132.4 489.1h.01M1173.4 489.1h.01M1234.8 489.1h.01M1122.2 493.6h.01M1142.7 493.6h.01M1147.8 493.6h.01M1234.8 493.6h.01M1250.1 493.6h.01M1265.5 493.6h.01M1132.4 498.1h.01M1183.6 498.1h.01M1234.8 498.1h.01M1245.0 498.1h.01M1127.3 502.5h.01M1168.2 502.5h.01M1178.5 502.5h.01M1193.8 502.5h.01M1198.9 502.5h.01M1229.6 502.5h.01M1250.1 502.5h.01M1265.5 502.5h.01M1106.9 542.7h.01M1183.6 542.7h.01M1188.7 542.7h.01M1239.9 542.7h.01M1245.0 542.7h.01M1122.2 556.1h.01M1142.7 556.1h.01M1204.1 556.1h.01M1219.4 556.1h.01M1255.2 556.1h.01M1260.3 556.1h.01M1127.3 560.6h.01M1142.7 560.6h.01M1147.8 560.6h.01M1163.1 560.6h.01M1173.4 560.6h.01M1255.2 560.6h.01M1260.3 560.6h.01M1168.2 574.0h.01M1209.2 574.0h.01M1224.5 574.0h.01M1168.2 582.9h.01M1101.7 596.3h.01M1106.9 596.3h.01M1183.6 596.3h.01M1214.3 596.3h.01M1106.9 600.7h.01M1127.3 600.7h.01M1152.9 600.7h.01M1173.4 600.7h.01M1234.8 600.7h.01" stroke="#5c5b52" stroke-width="2.6" stroke-linecap="round" fill="none"/>
<path d="M1101.7 386.5h.01M1127.3 386.5h.01M1152.9 386.5h.01M1204.1 386.5h.01M1209.2 386.5h.01M1122.2 390.9h.01M1127.3 390.9h.01M1132.4 390.9h.01M1158.0 390.9h.01M1209.2 390.9h.01M1229.6 390.9h.01M1245.0 390.9h.01M1250.1 390.9h.01M1260.3 390.9h.01M1122.2 395.4h.01M1173.4 395.4h.01M1219.4 395.4h.01M1234.8 395.4h.01M1239.9 395.4h.01M1260.3 395.4h.01M1204.1 399.8h.01M1224.5 399.8h.01M1229.6 399.8h.01M1234.8 399.8h.01M1106.9 408.8h.01M1112.0 408.8h.01M1132.4 408.8h.01M1137.6 408.8h.01M1142.7 408.8h.01M1173.4 408.8h.01M1193.8 408.8h.01M1209.2 408.8h.01M1255.2 408.8h.01M1260.3 408.8h.01M1265.5 408.8h.01M1112.0 413.2h.01M1152.9 413.2h.01M1158.0 413.2h.01M1239.9 413.2h.01M1245.0 413.2h.01M1127.3 422.2h.01M1137.6 422.2h.01M1142.7 422.2h.01M1214.3 422.2h.01M1224.5 422.2h.01M1229.6 422.2h.01M1101.7 426.6h.01M1147.8 426.6h.01M1183.6 426.6h.01M1209.2 426.6h.01M1245.0 426.6h.01M1265.5 426.6h.01M1101.7 431.1h.01M1112.0 431.1h.01M1117.1 431.1h.01M1132.4 431.1h.01M1193.8 431.1h.01M1204.1 431.1h.01M1214.3 431.1h.01M1265.5 431.1h.01M1142.7 435.6h.01M1147.8 435.6h.01M1152.9 435.6h.01M1168.2 435.6h.01M1209.2 435.6h.01M1229.6 435.6h.01M1112.0 449.0h.01M1117.1 449.0h.01M1122.2 449.0h.01M1178.5 449.0h.01M1183.6 449.0h.01M1152.9 457.9h.01M1158.0 457.9h.01M1193.8 457.9h.01M1209.2 457.9h.01M1112.0 462.3h.01M1117.1 462.3h.01M1132.4 462.3h.01M1163.1 462.3h.01M1168.2 462.3h.01M1178.5 462.3h.01M1219.4 462.3h.01M1229.6 462.3h.01M1117.1 466.8h.01M1127.3 466.8h.01M1183.6 466.8h.01M1188.7 466.8h.01M1193.8 466.8h.01M1245.0 466.8h.01M1255.2 466.8h.01M1250.1 475.7h.01M1106.9 480.2h.01M1122.2 480.2h.01M1132.4 480.2h.01M1168.2 480.2h.01M1204.1 480.2h.01M1219.4 480.2h.01M1101.7 507.0h.01M1158.0 507.0h.01M1188.7 507.0h.01M1265.5 507.0h.01M1152.9 511.5h.01M1173.4 511.5h.01M1239.9 511.5h.01M1245.0 511.5h.01M1260.3 511.5h.01M1101.7 515.9h.01M1117.1 515.9h.01M1142.7 515.9h.01M1152.9 515.9h.01M1229.6 515.9h.01M1265.5 515.9h.01M1112.0 520.4h.01M1117.1 520.4h.01M1122.2 520.4h.01M1198.9 520.4h.01M1260.3 520.4h.01M1183.6 529.3h.01M1117.1 533.8h.01M1198.9 533.8h.01M1204.1 533.8h.01M1112.0 538.2h.01M1209.2 538.2h.01M1214.3 538.2h.01M1245.0 538.2h.01M1132.4 551.6h.01M1209.2 551.6h.01M1214.3 551.6h.01M1224.5 551.6h.01M1234.8 551.6h.01M1260.3 551.6h.01M1106.9 565.0h.01M1142.7 565.0h.01M1173.4 565.0h.01M1209.2 565.0h.01M1234.8 565.0h.01M1265.5 565.0h.01M1137.6 569.5h.01M1198.9 569.5h.01M1219.4 569.5h.01M1224.5 569.5h.01M1147.8 574.0h.01M1127.3 578.4h.01M1142.7 578.4h.01M1147.8 578.4h.01M1163.1 578.4h.01M1173.4 578.4h.01M1193.8 578.4h.01M1219.4 578.4h.01M1224.5 578.4h.01M1229.6 578.4h.01M1245.0 578.4h.01M1255.2 578.4h.01M1265.5 578.4h.01M1117.1 582.9h.01M1152.9 582.9h.01M1188.7 582.9h.01M1214.3 582.9h.01M1234.8 582.9h.01M1112.0 587.3h.01M1163.1 587.3h.01M1188.7 587.3h.01M1193.8 587.3h.01M1255.2 587.3h.01M1183.6 591.8h.01M1188.7 591.8h.01M1204.1 591.8h.01M1224.5 591.8h.01M1234.8 591.8h.01M1239.9 591.8h.01" stroke="#ea9a22" stroke-width="2.0" stroke-linecap="round" fill="none"/>
<path d="M1106.9 386.5h.01M1112.0 386.5h.01M1193.8 386.5h.01M1219.4 386.5h.01M1234.8 386.5h.01M1168.2 390.9h.01M1198.9 390.9h.01M1204.1 390.9h.01M1265.5 390.9h.01M1117.1 395.4h.01M1142.7 395.4h.01M1224.5 395.4h.01M1127.3 399.8h.01M1163.1 399.8h.01M1168.2 408.8h.01M1250.1 408.8h.01M1168.2 413.2h.01M1204.1 413.2h.01M1219.4 413.2h.01M1224.5 413.2h.01M1122.2 422.2h.01M1132.4 422.2h.01M1173.4 422.2h.01M1183.6 422.2h.01M1193.8 422.2h.01M1204.1 422.2h.01M1209.2 422.2h.01M1112.0 426.6h.01M1158.0 426.6h.01M1188.7 426.6h.01M1204.1 426.6h.01M1214.3 426.6h.01M1239.9 426.6h.01M1152.9 431.1h.01M1158.0 431.1h.01M1209.2 431.1h.01M1112.0 435.6h.01M1127.3 435.6h.01M1137.6 435.6h.01M1188.7 435.6h.01M1224.5 435.6h.01M1137.6 440.0h.01M1250.1 440.0h.01M1265.5 440.0h.01M1132.4 449.0h.01M1147.8 449.0h.01M1152.9 449.0h.01M1224.5 449.0h.01M1250.1 449.0h.01M1178.5 453.4h.01M1183.6 453.4h.01M1101.7 457.9h.01M1112.0 457.9h.01M1122.2 457.9h.01M1173.4 457.9h.01M1183.6 457.9h.01M1188.7 457.9h.01M1198.9 457.9h.01M1250.1 457.9h.01M1265.5 457.9h.01M1183.6 462.3h.01M1193.8 462.3h.01M1239.9 462.3h.01M1142.7 466.8h.01M1168.2 466.8h.01M1224.5 466.8h.01M1229.6 466.8h.01M1158.0 475.7h.01M1245.0 475.7h.01M1255.2 475.7h.01M1250.1 480.2h.01M1255.2 480.2h.01M1260.3 480.2h.01M1214.3 484.7h.01M1158.0 489.1h.01M1209.2 493.6h.01M1112.0 507.0h.01M1163.1 507.0h.01M1198.9 507.0h.01M1106.9 511.5h.01M1127.3 511.5h.01M1158.0 511.5h.01M1188.7 511.5h.01M1224.5 511.5h.01M1229.6 511.5h.01M1234.8 511.5h.01M1250.1 511.5h.01M1255.2 511.5h.01M1265.5 511.5h.01M1112.0 515.9h.01M1122.2 515.9h.01M1214.3 515.9h.01M1234.8 515.9h.01M1132.4 520.4h.01M1245.0 520.4h.01M1158.0 529.3h.01M1163.1 529.3h.01M1229.6 529.3h.01M1234.8 529.3h.01M1260.3 529.3h.01M1112.0 533.8h.01M1183.6 533.8h.01M1245.0 533.8h.01M1255.2 533.8h.01M1117.1 538.2h.01M1127.3 538.2h.01M1239.9 538.2h.01M1158.0 542.7h.01M1137.6 551.6h.01M1173.4 551.6h.01M1229.6 556.1h.01M1112.0 565.0h.01M1117.1 565.0h.01M1188.7 565.0h.01M1204.1 565.0h.01M1214.3 565.0h.01M1219.4 565.0h.01M1239.9 565.0h.01M1245.0 565.0h.01M1127.3 569.5h.01M1204.1 569.5h.01M1209.2 569.5h.01M1158.0 574.0h.01M1173.4 574.0h.01M1198.9 574.0h.01M1229.6 574.0h.01M1245.0 574.0h.01M1122.2 578.4h.01M1132.4 578.4h.01M1168.2 578.4h.01M1178.5 578.4h.01M1198.9 578.4h.01M1204.1 582.9h.01M1239.9 582.9h.01M1245.0 582.9h.01M1106.9 587.3h.01M1117.1 587.3h.01M1214.3 587.3h.01M1219.4 587.3h.01M1260.3 587.3h.01M1147.8 591.8h.01M1152.9 591.8h.01M1158.0 591.8h.01M1198.9 591.8h.01M1112.0 600.7h.01" stroke="#d3ae2e" stroke-width="1.6" stroke-linecap="round" fill="none"/>
<path d="M1117.1 386.5h.01M1239.9 386.5h.01M1117.1 390.9h.01M1163.1 390.9h.01M1158.0 395.4h.01M1188.7 395.4h.01M1250.1 395.4h.01M1106.9 399.8h.01M1137.6 399.8h.01M1173.4 399.8h.01M1209.2 399.8h.01M1255.2 399.8h.01M1117.1 408.8h.01M1127.3 408.8h.01M1152.9 408.8h.01M1178.5 408.8h.01M1214.3 408.8h.01M1224.5 408.8h.01M1229.6 408.8h.01M1239.9 408.8h.01M1106.9 413.2h.01M1173.4 413.2h.01M1209.2 413.2h.01M1214.3 413.2h.01M1229.6 413.2h.01M1255.2 413.2h.01M1132.4 417.7h.01M1101.7 422.2h.01M1106.9 426.6h.01M1178.5 426.6h.01M1250.1 426.6h.01M1255.2 426.6h.01M1260.3 426.6h.01M1163.1 431.1h.01M1173.4 431.1h.01M1178.5 431.1h.01M1188.7 431.1h.01M1198.9 431.1h.01M1260.3 431.1h.01M1101.7 435.6h.01M1158.0 435.6h.01M1183.6 435.6h.01M1198.9 435.6h.01M1250.1 435.6h.01M1234.8 449.0h.01M1245.0 449.0h.01M1255.2 449.0h.01M1265.5 449.0h.01M1127.3 457.9h.01M1224.5 457.9h.01M1234.8 457.9h.01M1245.0 457.9h.01M1122.2 462.3h.01M1147.8 462.3h.01M1198.9 462.3h.01M1163.1 466.8h.01M1178.5 466.8h.01M1239.9 466.8h.01M1250.1 466.8h.01M1127.3 471.3h.01M1234.8 471.3h.01M1188.7 475.7h.01M1178.5 480.2h.01M1209.2 480.2h.01M1260.3 507.0h.01M1112.0 511.5h.01M1147.8 511.5h.01M1193.8 511.5h.01M1204.1 511.5h.01M1163.1 515.9h.01M1224.5 515.9h.01M1250.1 515.9h.01M1152.9 520.4h.01M1158.0 520.4h.01M1163.1 520.4h.01M1106.9 529.3h.01M1127.3 529.3h.01M1142.7 529.3h.01M1142.7 533.8h.01M1193.8 533.8h.01M1224.5 533.8h.01M1265.5 533.8h.01M1101.7 538.2h.01M1132.4 538.2h.01M1147.8 538.2h.01M1168.2 538.2h.01M1178.5 538.2h.01M1188.7 538.2h.01M1224.5 538.2h.01M1250.1 538.2h.01M1101.7 551.6h.01M1147.8 551.6h.01M1163.1 551.6h.01M1229.6 551.6h.01M1255.2 551.6h.01M1158.0 565.0h.01M1163.1 565.0h.01M1112.0 569.5h.01M1152.9 569.5h.01M1193.8 569.5h.01M1214.3 569.5h.01M1239.9 569.5h.01M1112.0 574.0h.01M1239.9 574.0h.01M1250.1 574.0h.01M1101.7 578.4h.01M1188.7 578.4h.01M1214.3 578.4h.01M1132.4 582.9h.01M1142.7 582.9h.01M1147.8 582.9h.01M1209.2 582.9h.01M1260.3 582.9h.01M1101.7 587.3h.01M1168.2 587.3h.01M1204.1 587.3h.01M1250.1 587.3h.01M1101.7 591.8h.01M1265.5 591.8h.01" stroke="#ea9a22" stroke-width="2.2" stroke-linecap="round" fill="none"/>
<path d="M1173.4 386.5h.01M1245.0 386.5h.01M1142.7 390.9h.01M1224.5 390.9h.01M1178.5 395.4h.01M1142.7 399.8h.01M1158.0 399.8h.01M1168.2 399.8h.01M1163.1 408.8h.01M1198.9 408.8h.01M1101.7 413.2h.01M1178.5 413.2h.01M1193.8 413.2h.01M1265.5 413.2h.01M1214.3 417.7h.01M1147.8 422.2h.01M1178.5 422.2h.01M1198.9 422.2h.01M1239.9 422.2h.01M1255.2 422.2h.01M1122.2 426.6h.01M1132.4 426.6h.01M1229.6 426.6h.01M1122.2 431.1h.01M1250.1 431.1h.01M1219.4 435.6h.01M1239.9 435.6h.01M1260.3 435.6h.01M1188.7 449.0h.01M1260.3 449.0h.01M1106.9 457.9h.01M1137.6 457.9h.01M1239.9 457.9h.01M1106.9 462.3h.01M1250.1 462.3h.01M1265.5 466.8h.01M1101.7 475.7h.01M1204.1 475.7h.01M1219.4 475.7h.01M1112.0 480.2h.01M1163.1 480.2h.01M1147.8 507.0h.01M1229.6 507.0h.01M1234.8 507.0h.01M1255.2 507.0h.01M1132.4 511.5h.01M1137.6 511.5h.01M1168.2 511.5h.01M1198.9 511.5h.01M1183.6 515.9h.01M1204.1 515.9h.01M1188.7 520.4h.01M1265.5 520.4h.01M1147.8 529.3h.01M1239.9 529.3h.01M1209.2 533.8h.01M1219.4 533.8h.01M1229.6 533.8h.01M1173.4 538.2h.01M1255.2 538.2h.01M1260.3 538.2h.01M1137.6 565.0h.01M1122.2 569.5h.01M1142.7 569.5h.01M1147.8 569.5h.01M1173.4 569.5h.01M1229.6 569.5h.01M1255.2 569.5h.01M1260.3 569.5h.01M1127.3 574.0h.01M1137.6 574.0h.01M1152.9 574.0h.01M1214.3 574.0h.01M1255.2 574.0h.01M1137.6 578.4h.01M1122.2 587.3h.01M1127.3 587.3h.01M1142.7 587.3h.01M1152.9 587.3h.01M1158.0 587.3h.01M1183.6 587.3h.01M1127.3 591.8h.01M1173.4 591.8h.01M1245.0 591.8h.01" stroke="#ea9a22" stroke-width="1.8" stroke-linecap="round" fill="none"/>
<path d="M1198.9 386.5h.01M1137.6 390.9h.01M1152.9 390.9h.01M1239.9 390.9h.01M1255.2 390.9h.01M1132.4 395.4h.01M1168.2 395.4h.01M1183.6 395.4h.01M1183.6 399.8h.01M1260.3 399.8h.01M1204.1 408.8h.01M1234.8 408.8h.01M1106.9 422.2h.01M1224.5 431.1h.01M1229.6 431.1h.01M1122.2 435.6h.01M1245.0 435.6h.01M1265.5 435.6h.01M1101.7 449.0h.01M1147.8 457.9h.01M1214.3 457.9h.01M1255.2 457.9h.01M1137.6 462.3h.01M1173.4 462.3h.01M1158.0 466.8h.01M1142.7 471.3h.01M1193.8 471.3h.01M1198.9 471.3h.01M1239.9 471.3h.01M1117.1 480.2h.01M1152.9 480.2h.01M1173.4 480.2h.01M1245.0 507.0h.01M1106.9 515.9h.01M1198.9 515.9h.01M1147.8 520.4h.01M1204.1 520.4h.01M1239.9 520.4h.01M1158.0 524.8h.01M1152.9 529.3h.01M1193.8 529.3h.01M1106.9 533.8h.01M1137.6 538.2h.01M1158.0 538.2h.01M1112.0 551.6h.01M1158.0 578.4h.01M1209.2 578.4h.01M1173.4 582.9h.01M1198.9 587.3h.01" stroke="#e5661f" stroke-width="2.6" stroke-linecap="round" fill="none"/>
<path d="M1214.3 386.5h.01M1101.7 390.9h.01M1147.8 390.9h.01M1101.7 399.8h.01M1112.0 399.8h.01M1132.4 413.2h.01M1250.1 413.2h.01M1117.1 422.2h.01M1163.1 422.2h.01M1260.3 422.2h.01M1137.6 426.6h.01M1173.4 426.6h.01M1198.9 426.6h.01M1224.5 426.6h.01M1106.9 431.1h.01M1137.6 431.1h.01M1183.6 431.1h.01M1255.2 431.1h.01M1117.1 435.6h.01M1178.5 435.6h.01M1178.5 457.9h.01M1204.1 457.9h.01M1229.6 457.9h.01M1209.2 462.3h.01M1214.3 462.3h.01M1260.3 466.8h.01M1117.1 475.7h.01M1198.9 475.7h.01M1183.6 480.2h.01M1214.3 507.0h.01M1224.5 507.0h.01M1255.2 515.9h.01M1260.3 515.9h.01M1178.5 520.4h.01M1127.3 524.8h.01M1255.2 529.3h.01M1101.7 533.8h.01M1132.4 533.8h.01M1260.3 533.8h.01M1219.4 538.2h.01M1265.5 538.2h.01M1158.0 551.6h.01M1188.7 551.6h.01M1122.2 565.0h.01M1178.5 565.0h.01M1106.9 569.5h.01M1132.4 569.5h.01M1158.0 569.5h.01M1106.9 578.4h.01M1112.0 578.4h.01M1183.6 578.4h.01M1163.1 582.9h.01M1229.6 582.9h.01M1132.4 587.3h.01M1245.0 587.3h.01M1265.5 587.3h.01M1106.9 591.8h.01M1168.2 591.8h.01" stroke="#e5661f" stroke-width="2.4" stroke-linecap="round" fill="none"/>
<path d="M1250.1 386.5h.01M1245.0 408.8h.01M1214.3 435.6h.01M1224.5 462.3h.01M1255.2 462.3h.01M1265.5 462.3h.01M1132.4 475.7h.01M1209.2 475.7h.01M1142.7 480.2h.01M1224.5 480.2h.01M1250.1 551.6h.01M1250.1 565.0h.01" stroke="#ea9a22" stroke-width="2.4" stroke-linecap="round" fill="none"/>
<path d="M1101.7 395.4h.01M1112.0 395.4h.01M1214.3 395.4h.01M1101.7 471.3h.01M1106.9 471.3h.01M1112.0 471.3h.01M1117.1 471.3h.01M1122.2 471.3h.01M1132.4 471.3h.01M1137.6 471.3h.01M1147.8 471.3h.01M1152.9 471.3h.01M1158.0 471.3h.01M1163.1 471.3h.01M1168.2 471.3h.01M1173.4 471.3h.01M1178.5 471.3h.01M1183.6 471.3h.01M1188.7 471.3h.01M1204.1 471.3h.01M1214.3 471.3h.01M1229.6 471.3h.01M1245.0 471.3h.01M1250.1 471.3h.01M1260.3 471.3h.01M1265.5 471.3h.01M1101.7 524.8h.01M1106.9 524.8h.01M1112.0 524.8h.01M1117.1 524.8h.01M1122.2 524.8h.01M1132.4 524.8h.01M1137.6 524.8h.01M1142.7 524.8h.01M1147.8 524.8h.01M1152.9 524.8h.01M1173.4 524.8h.01M1183.6 524.8h.01M1188.7 524.8h.01M1193.8 524.8h.01M1198.9 524.8h.01M1204.1 524.8h.01M1209.2 524.8h.01M1214.3 524.8h.01M1219.4 524.8h.01M1224.5 524.8h.01M1234.8 524.8h.01M1245.0 524.8h.01M1250.1 524.8h.01M1255.2 524.8h.01M1260.3 524.8h.01M1265.5 524.8h.01M1101.7 547.2h.01M1106.9 547.2h.01M1112.0 547.2h.01M1117.1 547.2h.01M1127.3 547.2h.01M1132.4 547.2h.01M1137.6 547.2h.01M1142.7 547.2h.01M1147.8 547.2h.01M1152.9 547.2h.01M1163.1 547.2h.01M1168.2 547.2h.01M1178.5 547.2h.01M1183.6 547.2h.01M1188.7 547.2h.01M1193.8 547.2h.01M1198.9 547.2h.01M1204.1 547.2h.01M1209.2 547.2h.01M1219.4 547.2h.01M1224.5 547.2h.01M1229.6 547.2h.01M1234.8 547.2h.01M1239.9 547.2h.01M1245.0 547.2h.01M1250.1 547.2h.01M1255.2 547.2h.01M1260.3 547.2h.01M1265.5 547.2h.01" stroke="#c4200f" stroke-width="3.2" stroke-linecap="round" fill="none"/>
<path d="M1106.9 395.4h.01M1204.1 395.4h.01M1209.2 395.4h.01M1229.6 395.4h.01M1250.1 399.8h.01M1219.4 422.2h.01M1245.0 422.2h.01M1132.4 435.6h.01M1214.3 449.0h.01M1229.6 449.0h.01M1219.4 471.3h.01M1101.7 511.5h.01M1219.4 515.9h.01M1229.6 524.8h.01M1178.5 533.8h.01M1122.2 547.2h.01M1152.9 578.4h.01M1178.5 582.9h.01" stroke="#e5661f" stroke-width="2.8" stroke-linecap="round" fill="none"/>
<path d="M1137.6 395.4h.01M1147.8 395.4h.01M1152.9 395.4h.01M1193.8 395.4h.01M1245.0 395.4h.01M1158.0 422.2h.01M1127.3 431.1h.01M1209.2 471.3h.01M1224.5 471.3h.01M1255.2 471.3h.01M1158.0 480.2h.01M1163.1 524.8h.01M1168.2 524.8h.01M1178.5 524.8h.01M1239.9 524.8h.01M1152.9 538.2h.01M1193.8 538.2h.01M1158.0 547.2h.01M1173.4 547.2h.01" stroke="#c4200f" stroke-width="3.0" stroke-linecap="round" fill="none"/>
<path d="M1132.4 404.3h.01M1193.8 417.7h.01M1112.0 440.0h.01M1122.2 440.0h.01M1183.6 440.0h.01M1214.3 440.0h.01M1142.7 453.4h.01M1132.4 466.8h.01M1173.4 466.8h.01M1152.9 475.7h.01M1158.0 484.7h.01M1239.9 484.7h.01M1147.8 489.1h.01M1132.4 493.6h.01M1152.9 493.6h.01M1255.2 493.6h.01M1106.9 498.1h.01M1112.0 502.5h.01M1219.4 502.5h.01M1239.9 502.5h.01M1183.6 507.0h.01M1122.2 511.5h.01M1224.5 529.3h.01M1112.0 542.7h.01M1117.1 542.7h.01M1147.8 542.7h.01M1158.0 556.1h.01M1188.7 560.6h.01M1265.5 560.6h.01M1132.4 574.0h.01M1163.1 574.0h.01M1117.1 596.3h.01M1147.8 596.3h.01M1178.5 596.3h.01M1122.2 600.7h.01M1229.6 600.7h.01" stroke="#5c5b52" stroke-width="2.4" stroke-linecap="round" fill="none"/>
<path d="M1122.2 417.7h.01M1265.5 422.2h.01M1152.9 426.6h.01M1163.1 426.6h.01M1168.2 431.1h.01M1229.6 440.0h.01M1260.3 457.9h.01M1219.4 466.8h.01M1234.8 466.8h.01M1245.0 480.2h.01M1265.5 498.1h.01M1260.3 502.5h.01M1106.9 520.4h.01M1255.2 520.4h.01M1198.9 529.3h.01M1250.1 533.8h.01M1106.9 551.6h.01M1147.8 565.0h.01M1101.7 574.0h.01M1178.5 587.3h.01M1265.5 600.7h.01" stroke="#8f8a4c" stroke-width="1.8" stroke-linecap="round" fill="none"/>
<path d="M1198.9 417.7h.01M1122.2 444.5h.01M1137.6 444.5h.01M1142.7 444.5h.01M1168.2 444.5h.01M1198.9 444.5h.01M1234.8 444.5h.01M1250.1 444.5h.01M1260.3 444.5h.01M1122.2 453.4h.01M1168.2 453.4h.01M1127.3 484.7h.01M1168.2 484.7h.01M1198.9 484.7h.01M1127.3 489.1h.01M1178.5 489.1h.01M1224.5 489.1h.01M1178.5 493.6h.01M1209.2 502.5h.01M1193.8 556.1h.01M1117.1 560.6h.01M1239.9 560.6h.01M1168.2 596.3h.01M1188.7 596.3h.01M1224.5 596.3h.01M1239.9 596.3h.01M1188.7 600.7h.01" stroke="#2c3782" stroke-width="3.2" stroke-linecap="round" fill="none"/>
<path d="M1152.9 466.8h.01M1214.3 547.2h.01" stroke="#c4200f" stroke-width="2.8" stroke-linecap="round" fill="none"/>
<text x="1102.5" y="605.3" font-size="2.4" text-anchor="end" transform="rotate(-45 1102.5 605.3)">ACC</text>
<text x="1107.7" y="605.3" font-size="2.4" text-anchor="end" transform="rotate(-45 1107.7 605.3)">BLCA</text>
<text x="1112.8" y="605.3" font-size="2.4" text-anchor="end" transform="rotate(-45 1112.8 605.3)">BRCA</text>
<text x="1117.9" y="605.3" font-size="2.4" text-anchor="end" transform="rotate(-45 1117.9 605.3)">CESC</text>
<text x="1123.0" y="605.3" font-size="2.4" text-anchor="end" transform="rotate(-45 1123.0 605.3)">CHOL</text>
<text x="1128.1" y="605.3" font-size="2.4" text-anchor="end" transform="rotate(-45 1128.1 605.3)">COAD</text>
<text x="1133.2" y="605.3" font-size="2.4" text-anchor="end" transform="rotate(-45 1133.2 605.3)">DLBC</text>
<text x="1138.4" y="605.3" font-size="2.4" text-anchor="end" transform="rotate(-45 1138.4 605.3)">ESCA</text>
<text x="1143.5" y="605.3" font-size="2.4" text-anchor="end" transform="rotate(-45 1143.5 605.3)">GBM</text>
<text x="1148.6" y="605.3" font-size="2.4" text-anchor="end" transform="rotate(-45 1148.6 605.3)">HNSC</text>
<text x="1153.7" y="605.3" font-size="2.4" text-anchor="end" transform="rotate(-45 1153.7 605.3)">KICH</text>
<text x="1158.8" y="605.3" font-size="2.4" text-anchor="end" transform="rotate(-45 1158.8 605.3)">KIRC</text>
<text x="1163.9" y="605.3" font-size="2.4" text-anchor="end" transform="rotate(-45 1163.9 605.3)">KIRP</text>
<text x="1169.0" y="605.3" font-size="2.4" text-anchor="end" transform="rotate(-45 1169.0 605.3)">LAML</text>
<text x="1174.2" y="605.3" font-size="2.4" text-anchor="end" transform="rotate(-45 1174.2 605.3)">LGG</text>
<text x="1179.3" y="605.3" font-size="2.4" text-anchor="end" transform="rotate(-45 1179.3 605.3)">LIHC</text>
<text x="1184.4" y="605.3" font-size="2.4" text-anchor="end" transform="rotate(-45 1184.4 605.3)">LUAD</text>
<text x="1189.5" y="605.3" font-size="2.4" text-anchor="end" transform="rotate(-45 1189.5 605.3)">LUSC</text>
<text x="1194.6" y="605.3" font-size="2.4" text-anchor="end" transform="rotate(-45 1194.6 605.3)">MESO</text>
<text x="1199.7" y="605.3" font-size="2.4" text-anchor="end" transform="rotate(-45 1199.7 605.3)">OV</text>
<text x="1204.9" y="605.3" font-size="2.4" text-anchor="end" transform="rotate(-45 1204.9 605.3)">PAAD</text>
<text x="1210.0" y="605.3" font-size="2.4" text-anchor="end" transform="rotate(-45 1210.0 605.3)">PCPG</text>
<text x="1215.1" y="605.3" font-size="2.4" text-anchor="end" transform="rotate(-45 1215.1 605.3)">PRAD</text>
<text x="1220.2" y="605.3" font-size="2.4" text-anchor="end" transform="rotate(-45 1220.2 605.3)">READ</text>
<text x="1225.3" y="605.3" font-size="2.4" text-anchor="end" transform="rotate(-45 1225.3 605.3)">SARC</text>
<text x="1230.4" y="605.3" font-size="2.4" text-anchor="end" transform="rotate(-45 1230.4 605.3)">SKCM</text>
<text x="1235.6" y="605.3" font-size="2.4" text-anchor="end" transform="rotate(-45 1235.6 605.3)">STAD</text>
<text x="1240.7" y="605.3" font-size="2.4" text-anchor="end" transform="rotate(-45 1240.7 605.3)">TGCT</text>
<text x="1245.8" y="605.3" font-size="2.4" text-anchor="end" transform="rotate(-45 1245.8 605.3)">THCA</text>
<text x="1250.9" y="605.3" font-size="2.4" text-anchor="end" transform="rotate(-45 1250.9 605.3)">THYM</text>
<text x="1256.0" y="605.3" font-size="2.4" text-anchor="end" transform="rotate(-45 1256.0 605.3)">UCEC</text>
<text x="1261.1" y="605.3" font-size="2.4" text-anchor="end" transform="rotate(-45 1261.1 605.3)">UCS</text>
<text x="1266.3" y="605.3" font-size="2.4" text-anchor="end" transform="rotate(-45 1266.3 605.3)">UVM</text>
<text x="1145.0" y="617.5" font-size="2.1" fill="#333">-log10(FDR)</text>
<circle cx="1160.7" cy="616.7" r="0.4" fill="#111"/>
<text x="1163.6" y="617.5" font-size="2.0" fill="#555">0.5</text>
<circle cx="1169.9" cy="616.7" r="0.8" fill="#111"/>
<text x="1172.9" y="617.5" font-size="2.0" fill="#555">2.5</text>
<circle cx="1178.8" cy="616.7" r="1.2" fill="#111"/>
<text x="1181.7" y="617.5" font-size="2.0" fill="#555">5.0</text>
<circle cx="1187.6" cy="616.7" r="1.5" fill="#111"/>
<text x="1190.6" y="617.5" font-size="2.0" fill="#555">7.5</text>
<text x="1198.6" y="618.3" font-size="2.0" fill="#333">NES</text>
<rect x="1203.9" y="614.9" width="18.7" height="3.4" fill="url(#nesg)"/>
</g>
<g id="p_heat">
<rect x="1301.8" y="400.0" width="236.8" height="265.4" fill="#fff"/>
<path d="M1309.0 400.0v5.65h7.17zM1316.1 400.0v5.65h7.17zM1366.4 400.0v5.65h7.17zM1395.1 400.0v5.65h7.17zM1409.4 400.0v5.65h7.17zM1452.5 400.0v5.65h7.17zM1531.4 400.0v5.65h7.17zM1301.8 405.6v5.65h7.17zM1344.8 405.6v5.65h7.17zM1359.2 405.6v5.65h7.17zM1416.6 405.6v5.65h7.17zM1423.8 405.6v5.65h7.17zM1431.0 405.6v5.65h7.17zM1509.9 405.6v5.65h7.17zM1517.0 405.6v5.65h7.17zM1373.5 411.3v5.65h7.17zM1409.4 411.3v5.65h7.17zM1438.1 411.3v5.65h7.17zM1488.3 411.3v5.65h7.17zM1330.5 416.9v5.65h7.17zM1474.0 416.9v5.65h7.17zM1509.9 416.9v5.65h7.17zM1309.0 422.6v5.65h7.17zM1323.3 422.6v5.65h7.17zM1344.8 422.6v5.65h7.17zM1387.9 422.6v5.65h7.17zM1438.1 422.6v5.65h7.17zM1445.3 422.6v5.65h7.17zM1452.5 422.6v5.65h7.17zM1459.6 422.6v5.65h7.17zM1481.2 422.6v5.65h7.17zM1488.3 422.6v5.65h7.17zM1502.7 422.6v5.65h7.17zM1531.4 422.6v5.65h7.17zM1352.0 428.2v5.65h7.17zM1402.2 428.2v5.65h7.17zM1416.6 428.2v5.65h7.17zM1423.8 428.2v5.65h7.17zM1502.7 428.2v5.65h7.17zM1517.0 428.2v5.65h7.17zM1524.2 428.2v5.65h7.17zM1323.3 433.9v5.65h7.17zM1344.8 433.9v5.65h7.17zM1387.9 433.9v5.65h7.17zM1402.2 433.9v5.65h7.17zM1409.4 433.9v5.65h7.17zM1481.2 433.9v5.65h7.17zM1502.7 433.9v5.65h7.17zM1309.0 439.5v5.65h7.17zM1359.2 439.5v5.65h7.17zM1380.7 439.5v5.65h7.17zM1438.1 439.5v5.65h7.17zM1301.8 445.2v5.65h7.17zM1316.1 445.2v5.65h7.17zM1344.8 445.2v5.65h7.17zM1409.4 445.2v5.65h7.17zM1416.6 445.2v5.65h7.17zM1495.5 445.2v5.65h7.17zM1531.4 445.2v5.65h7.17zM1344.8 450.8v5.65h7.17zM1359.2 450.8v5.65h7.17zM1438.1 450.8v5.65h7.17zM1466.8 450.8v5.65h7.17zM1481.2 450.8v5.65h7.17zM1359.2 456.5v5.65h7.17zM1452.5 456.5v5.65h7.17zM1502.7 456.5v5.65h7.17zM1517.0 456.5v5.65h7.17zM1301.8 462.1v5.65h7.17zM1309.0 462.1v5.65h7.17zM1359.2 462.1v5.65h7.17zM1380.7 462.1v5.65h7.17zM1387.9 462.1v5.65h7.17zM1431.0 462.1v5.65h7.17zM1481.2 462.1v5.65h7.17zM1517.0 462.1v5.65h7.17zM1316.1 467.8v5.65h7.17zM1323.3 467.8v5.65h7.17zM1416.6 467.8v5.65h7.17zM1502.7 467.8v5.65h7.17zM1524.2 467.8v5.65h7.17zM1395.1 473.4v5.65h7.17zM1402.2 473.4v5.65h7.17zM1416.6 473.4v5.65h7.17zM1488.3 473.4v5.65h7.17zM1337.7 479.1v5.65h7.17zM1366.4 479.1v5.65h7.17zM1409.4 479.1v5.65h7.17zM1416.6 479.1v5.65h7.17zM1423.8 479.1v5.65h7.17zM1438.1 479.1v5.65h7.17zM1301.8 484.7v5.65h7.17zM1323.3 484.7v5.65h7.17zM1395.1 484.7v5.65h7.17zM1509.9 484.7v5.65h7.17zM1301.8 490.4v5.65h7.17zM1316.1 490.4v5.65h7.17zM1423.8 490.4v5.65h7.17zM1474.0 490.4v5.65h7.17zM1524.2 490.4v5.65h7.17zM1359.2 496.0v5.65h7.17zM1416.6 496.0v5.65h7.17zM1452.5 496.0v5.65h7.17zM1459.6 496.0v5.65h7.17zM1517.0 496.0v5.65h7.17zM1316.1 501.6v5.65h7.17zM1323.3 501.6v5.65h7.17zM1359.2 501.6v5.65h7.17zM1481.2 501.6v5.65h7.17zM1488.3 501.6v5.65h7.17zM1517.0 501.6v5.65h7.17zM1352.0 507.3v5.65h7.17zM1366.4 507.3v5.65h7.17zM1380.7 507.3v5.65h7.17zM1423.8 507.3v5.65h7.17zM1431.0 507.3v5.65h7.17zM1438.1 507.3v5.65h7.17zM1445.3 507.3v5.65h7.17zM1452.5 507.3v5.65h7.17zM1466.8 507.3v5.65h7.17zM1488.3 507.3v5.65h7.17zM1509.9 507.3v5.65h7.17zM1524.2 507.3v5.65h7.17zM1416.6 512.9v5.65h7.17zM1431.0 512.9v5.65h7.17zM1452.5 512.9v5.65h7.17zM1517.0 512.9v5.65h7.17zM1402.2 518.6v5.65h7.17zM1431.0 518.6v5.65h7.17zM1524.2 518.6v5.65h7.17zM1301.8 524.2v5.65h7.17zM1402.2 524.2v5.65h7.17zM1409.4 524.2v5.65h7.17zM1423.8 524.2v5.65h7.17zM1431.0 524.2v5.65h7.17zM1517.0 524.2v5.65h7.17zM1373.5 529.9v5.65h7.17zM1416.6 529.9v5.65h7.17zM1431.0 529.9v5.65h7.17zM1466.8 529.9v5.65h7.17zM1481.2 529.9v5.65h7.17zM1316.1 535.5v5.65h7.17zM1380.7 535.5v5.65h7.17zM1387.9 535.5v5.65h7.17zM1416.6 535.5v5.65h7.17zM1431.0 535.5v5.65h7.17zM1445.3 535.5v5.65h7.17zM1481.2 535.5v5.65h7.17zM1488.3 535.5v5.65h7.17zM1524.2 535.5v5.65h7.17zM1301.8 541.2v5.65h7.17zM1366.4 541.2v5.65h7.17zM1373.5 541.2v5.65h7.17zM1431.0 541.2v5.65h7.17zM1531.4 541.2v5.65h7.17zM1380.7 546.8v5.65h7.17zM1445.3 546.8v5.65h7.17zM1452.5 546.8v5.65h7.17zM1481.2 546.8v5.65h7.17zM1531.4 546.8v5.65h7.17zM1301.8 552.5v5.65h7.17zM1309.0 552.5v5.65h7.17zM1344.8 552.5v5.65h7.17zM1352.0 552.5v5.65h7.17zM1359.2 552.5v5.65h7.17zM1373.5 552.5v5.65h7.17zM1387.9 552.5v5.65h7.17zM1402.2 552.5v5.65h7.17zM1438.1 552.5v5.65h7.17zM1459.6 552.5v5.65h7.17zM1524.2 552.5v5.65h7.17zM1359.2 558.1v5.65h7.17zM1366.4 558.1v5.65h7.17zM1438.1 558.1v5.65h7.17zM1452.5 558.1v5.65h7.17zM1517.0 558.1v5.65h7.17zM1309.0 563.8v5.65h7.17zM1316.1 563.8v5.65h7.17zM1380.7 563.8v5.65h7.17zM1395.1 563.8v5.65h7.17zM1438.1 563.8v5.65h7.17zM1445.3 563.8v5.65h7.17zM1517.0 563.8v5.65h7.17zM1301.8 569.4v5.65h7.17zM1309.0 569.4v5.65h7.17zM1452.5 569.4v5.65h7.17zM1466.8 569.4v5.65h7.17zM1509.9 569.4v5.65h7.17zM1309.0 575.1v5.65h7.17zM1373.5 575.1v5.65h7.17zM1387.9 575.1v5.65h7.17zM1416.6 575.1v5.65h7.17zM1445.3 575.1v5.65h7.17zM1466.8 575.1v5.65h7.17zM1474.0 575.1v5.65h7.17zM1481.2 575.1v5.65h7.17zM1517.0 575.1v5.65h7.17zM1301.8 580.7v5.65h7.17zM1309.0 580.7v5.65h7.17zM1359.2 580.7v5.65h7.17zM1366.4 580.7v5.65h7.17zM1409.4 580.7v5.65h7.17zM1416.6 580.7v5.65h7.17zM1452.5 580.7v5.65h7.17zM1459.6 580.7v5.65h7.17zM1481.2 580.7v5.65h7.17zM1502.7 580.7v5.65h7.17zM1316.1 586.4v5.65h7.17zM1438.1 586.4v5.65h7.17zM1531.4 586.4v5.65h7.17zM1366.4 592.0v5.65h7.17zM1416.6 592.0v5.65h7.17zM1423.8 592.0v5.65h7.17zM1438.1 592.0v5.65h7.17zM1445.3 592.0v5.65h7.17zM1466.8 592.0v5.65h7.17zM1517.0 592.0v5.65h7.17zM1524.2 592.0v5.65h7.17zM1301.8 597.6v5.65h7.17zM1352.0 597.6v5.65h7.17zM1366.4 597.6v5.65h7.17zM1373.5 597.6v5.65h7.17zM1380.7 597.6v5.65h7.17zM1387.9 597.6v5.65h7.17zM1395.1 597.6v5.65h7.17zM1409.4 597.6v5.65h7.17zM1416.6 597.6v5.65h7.17zM1431.0 597.6v5.65h7.17zM1438.1 597.6v5.65h7.17zM1452.5 597.6v5.65h7.17zM1466.8 597.6v5.65h7.17zM1502.7 597.6v5.65h7.17zM1409.4 603.3v5.65h7.17zM1416.6 603.3v5.65h7.17zM1488.3 603.3v5.65h7.17zM1502.7 603.3v5.65h7.17zM1517.0 603.3v5.65h7.17zM1380.7 608.9v5.65h7.17zM1438.1 608.9v5.65h7.17zM1466.8 608.9v5.65h7.17zM1344.8 620.2v5.65h7.17zM1366.4 620.2v5.65h7.17zM1373.5 620.2v5.65h7.17zM1416.6 620.2v5.65h7.17zM1438.1 620.2v5.65h7.17zM1531.4 620.2v5.65h7.17zM1301.8 625.9v5.65h7.17zM1380.7 625.9v5.65h7.17zM1502.7 625.9v5.65h7.17zM1517.0 625.9v5.65h7.17zM1531.4 625.9v5.65h7.17zM1323.3 631.5v5.65h7.17zM1359.2 631.5v5.65h7.17zM1395.1 631.5v5.65h7.17zM1495.5 631.5v5.65h7.17zM1509.9 631.5v5.65h7.17zM1524.2 631.5v5.65h7.17zM1301.8 637.2v5.65h7.17zM1366.4 637.2v5.65h7.17zM1387.9 637.2v5.65h7.17zM1409.4 637.2v5.65h7.17zM1416.6 637.2v5.65h7.17zM1452.5 637.2v5.65h7.17zM1466.8 637.2v5.65h7.17zM1316.1 642.8v5.65h7.17zM1323.3 642.8v5.65h7.17zM1352.0 642.8v5.65h7.17zM1373.5 642.8v5.65h7.17zM1423.8 642.8v5.65h7.17zM1481.2 642.8v5.65h7.17zM1452.5 648.5v5.65h7.17zM1495.5 648.5v5.65h7.17zM1524.2 648.5v5.65h7.17zM1309.0 654.1v5.65h7.17zM1323.3 654.1v5.65h7.17zM1330.5 654.1v5.65h7.17zM1359.2 654.1v5.65h7.17zM1416.6 654.1v5.65h7.17zM1481.2 654.1v5.65h7.17zM1517.0 654.1v5.65h7.17zM1309.0 659.8v5.65h7.17zM1316.1 659.8v5.65h7.17zM1366.4 659.8v5.65h7.17zM1380.7 659.8v5.65h7.17zM1387.9 659.8v5.65h7.17zM1495.5 659.8v5.65h7.17zM1524.2 659.8v5.65h7.17z" fill="#f8dcd2"/>
<path d="M1330.5 400.0v5.65h7.17zM1323.3 411.3v5.65h7.17zM1423.8 411.3v5.65h7.17zM1423.8 422.6v5.65h7.17zM1509.9 422.6v5.65h7.17zM1524.2 422.6v5.65h7.17zM1395.1 433.9v5.65h7.17zM1330.5 439.5v5.65h7.17zM1524.2 439.5v5.65h7.17zM1474.0 445.2v5.65h7.17zM1330.5 450.8v5.65h7.17zM1474.0 450.8v5.65h7.17zM1481.2 456.5v5.65h7.17zM1330.5 462.1v5.65h7.17zM1474.0 462.1v5.65h7.17zM1495.5 496.0v5.65h7.17zM1316.1 507.3v5.65h7.17zM1395.1 512.9v5.65h7.17zM1474.0 512.9v5.65h7.17zM1495.5 512.9v5.65h7.17zM1502.7 512.9v5.65h7.17zM1509.9 524.2v5.65h7.17zM1309.0 529.9v5.65h7.17zM1330.5 529.9v5.65h7.17zM1309.0 541.2v5.65h7.17zM1509.9 546.8v5.65h7.17zM1323.3 552.5v5.65h7.17zM1330.5 552.5v5.65h7.17zM1495.5 552.5v5.65h7.17zM1509.9 552.5v5.65h7.17zM1330.5 558.1v5.65h7.17zM1495.5 558.1v5.65h7.17zM1452.5 563.8v5.65h7.17zM1474.0 563.8v5.65h7.17zM1509.9 563.8v5.65h7.17zM1524.2 563.8v5.65h7.17zM1474.0 569.4v5.65h7.17zM1474.0 580.7v5.65h7.17zM1495.5 580.7v5.65h7.17zM1495.5 586.4v5.65h7.17zM1509.9 586.4v5.65h7.17zM1395.1 592.0v5.65h7.17zM1330.5 597.6v5.65h7.17zM1524.2 597.6v5.65h7.17zM1481.2 603.3v5.65h7.17zM1509.9 603.3v5.65h7.17zM1509.9 608.9v5.65h7.17zM1316.1 614.6v5.65h7.17zM1352.0 614.6v5.65h7.17zM1373.5 614.6v5.65h7.17zM1395.1 614.6v5.65h7.17zM1445.3 614.6v5.65h7.17zM1459.6 614.6v5.65h7.17zM1481.2 614.6v5.65h7.17zM1488.3 614.6v5.65h7.17zM1495.5 614.6v5.65h7.17zM1524.2 614.6v5.65h7.17zM1330.5 620.2v5.65h7.17zM1316.1 625.9v5.65h7.17zM1323.3 625.9v5.65h7.17zM1423.8 625.9v5.65h7.17zM1452.5 625.9v5.65h7.17zM1524.2 625.9v5.65h7.17zM1495.5 637.2v5.65h7.17z" fill="#7a80c8"/>
<path d="M1330.5 400.0h7.17v5.65zM1445.3 400.0h7.17v5.65zM1409.4 405.6h7.17v5.65zM1531.4 405.6h7.17v5.65zM1423.8 411.3h7.17v5.65zM1301.8 416.9h7.17v5.65zM1373.5 416.9h7.17v5.65zM1380.7 416.9h7.17v5.65zM1409.4 416.9h7.17v5.65zM1337.7 422.6h7.17v5.65zM1509.9 422.6h7.17v5.65zM1301.8 428.2h7.17v5.65zM1309.0 428.2h7.17v5.65zM1395.1 428.2h7.17v5.65zM1452.5 428.2h7.17v5.65zM1445.3 445.2h7.17v5.65zM1452.5 445.2h7.17v5.65zM1474.0 445.2h7.17v5.65zM1337.7 450.8h7.17v5.65zM1445.3 450.8h7.17v5.65zM1474.0 450.8h7.17v5.65zM1459.6 456.5h7.17v5.65zM1366.4 462.1h7.17v5.65zM1373.5 462.1h7.17v5.65zM1466.8 462.1h7.17v5.65zM1466.8 467.8h7.17v5.65zM1301.8 473.4h7.17v5.65zM1366.4 473.4h7.17v5.65zM1431.0 473.4h7.17v5.65zM1481.2 473.4h7.17v5.65zM1531.4 473.4h7.17v5.65zM1301.8 479.1h7.17v5.65zM1344.8 479.1h7.17v5.65zM1459.6 479.1h7.17v5.65zM1517.0 479.1h7.17v5.65zM1309.0 484.7h7.17v5.65zM1416.6 484.7h7.17v5.65zM1431.0 484.7h7.17v5.65zM1481.2 484.7h7.17v5.65zM1517.0 484.7h7.17v5.65zM1524.2 484.7h7.17v5.65zM1380.7 490.4h7.17v5.65zM1387.9 490.4h7.17v5.65zM1395.1 490.4h7.17v5.65zM1416.6 490.4h7.17v5.65zM1459.6 490.4h7.17v5.65zM1438.1 496.0h7.17v5.65zM1380.7 501.6h7.17v5.65zM1409.4 501.6h7.17v5.65zM1531.4 501.6h7.17v5.65zM1316.1 507.3h7.17v5.65zM1416.6 507.3h7.17v5.65zM1459.6 507.3h7.17v5.65zM1395.1 512.9h7.17v5.65zM1474.0 512.9h7.17v5.65zM1366.4 518.6h7.17v5.65zM1380.7 518.6h7.17v5.65zM1423.8 518.6h7.17v5.65zM1502.7 518.6h7.17v5.65zM1323.3 524.2h7.17v5.65zM1438.1 524.2h7.17v5.65zM1459.6 524.2h7.17v5.65zM1466.8 524.2h7.17v5.65zM1531.4 524.2h7.17v5.65zM1309.0 529.9h7.17v5.65zM1344.8 529.9h7.17v5.65zM1387.9 529.9h7.17v5.65zM1531.4 529.9h7.17v5.65zM1337.7 535.5h7.17v5.65zM1373.5 535.5h7.17v5.65zM1531.4 535.5h7.17v5.65zM1309.0 541.2h7.17v5.65zM1445.3 541.2h7.17v5.65zM1459.6 541.2h7.17v5.65zM1509.9 546.8h7.17v5.65zM1337.7 552.5h7.17v5.65zM1366.4 552.5h7.17v5.65zM1495.5 552.5h7.17v5.65zM1509.9 552.5h7.17v5.65zM1337.7 558.1h7.17v5.65zM1380.7 558.1h7.17v5.65zM1445.3 558.1h7.17v5.65zM1531.4 558.1h7.17v5.65zM1452.5 563.8h7.17v5.65zM1459.6 563.8h7.17v5.65zM1474.0 563.8h7.17v5.65zM1495.5 563.8h7.17v5.65zM1373.5 569.4h7.17v5.65zM1337.7 575.1h7.17v5.65zM1344.8 575.1h7.17v5.65zM1409.4 575.1h7.17v5.65zM1395.1 580.7h7.17v5.65zM1474.0 580.7h7.17v5.65zM1495.5 586.4h7.17v5.65zM1509.9 586.4h7.17v5.65zM1395.1 592.0h7.17v5.65zM1330.5 597.6h7.17v5.65zM1337.7 597.6h7.17v5.65zM1524.2 597.6h7.17v5.65zM1481.2 603.3h7.17v5.65zM1373.5 614.6h7.17v5.65zM1395.1 614.6h7.17v5.65zM1459.6 614.6h7.17v5.65zM1481.2 614.6h7.17v5.65zM1488.3 614.6h7.17v5.65zM1524.2 614.6h7.17v5.65zM1316.1 625.9h7.17v5.65zM1323.3 625.9h7.17v5.65zM1309.0 631.5h7.17v5.65zM1316.1 631.5h7.17v5.65zM1380.7 631.5h7.17v5.65zM1387.9 631.5h7.17v5.65zM1416.6 631.5h7.17v5.65zM1423.8 631.5h7.17v5.65zM1452.5 631.5h7.17v5.65zM1459.6 631.5h7.17v5.65zM1373.5 637.2h7.17v5.65zM1445.3 637.2h7.17v5.65zM1502.7 637.2h7.17v5.65zM1337.7 642.8h7.17v5.65zM1445.3 642.8h7.17v5.65zM1531.4 642.8h7.17v5.65zM1309.0 648.5h7.17v5.65zM1380.7 648.5h7.17v5.65zM1395.1 648.5h7.17v5.65zM1416.6 648.5h7.17v5.65zM1431.0 648.5h7.17v5.65zM1438.1 648.5h7.17v5.65zM1445.3 648.5h7.17v5.65zM1517.0 648.5h7.17v5.65zM1373.5 654.1h7.17v5.65zM1380.7 654.1h7.17v5.65zM1459.6 654.1h7.17v5.65zM1502.7 654.1h7.17v5.65zM1459.6 659.8h7.17v5.65z" fill="#dbe7e0"/>
<path d="M1337.7 400.0v5.65h7.17zM1344.8 400.0v5.65h7.17zM1373.5 400.0v5.65h7.17zM1416.6 400.0v5.65h7.17zM1323.3 405.6v5.65h7.17zM1337.7 405.6v5.65h7.17zM1409.4 405.6v5.65h7.17zM1466.8 405.6v5.65h7.17zM1309.0 416.9v5.65h7.17zM1337.7 416.9v5.65h7.17zM1352.0 416.9v5.65h7.17zM1359.2 416.9v5.65h7.17zM1366.4 416.9v5.65h7.17zM1395.1 416.9v5.65h7.17zM1416.6 416.9v5.65h7.17zM1431.0 416.9v5.65h7.17zM1445.3 416.9v5.65h7.17zM1452.5 416.9v5.65h7.17zM1459.6 416.9v5.65h7.17zM1466.8 416.9v5.65h7.17zM1531.4 416.9v5.65h7.17zM1466.8 422.6v5.65h7.17zM1337.7 428.2v5.65h7.17zM1380.7 428.2v5.65h7.17zM1445.3 428.2v5.65h7.17zM1459.6 428.2v5.65h7.17zM1466.8 428.2v5.65h7.17zM1531.4 428.2v5.65h7.17zM1366.4 433.9v5.65h7.17zM1445.3 433.9v5.65h7.17zM1337.7 445.2v5.65h7.17zM1366.4 445.2v5.65h7.17zM1373.5 445.2v5.65h7.17zM1459.6 445.2v5.65h7.17zM1459.6 450.8v5.65h7.17zM1531.4 450.8v5.65h7.17zM1344.8 462.1v5.65h7.17zM1366.4 462.1v5.65h7.17zM1445.3 462.1v5.65h7.17zM1531.4 462.1v5.65h7.17zM1309.0 467.8v5.65h7.17zM1337.7 467.8v5.65h7.17zM1344.8 467.8v5.65h7.17zM1373.5 467.8v5.65h7.17zM1466.8 467.8v5.65h7.17zM1531.4 467.8v5.65h7.17zM1309.0 473.4v5.65h7.17zM1337.7 473.4v5.65h7.17zM1344.8 473.4v5.65h7.17zM1373.5 473.4v5.65h7.17zM1459.6 473.4v5.65h7.17zM1466.8 473.4v5.65h7.17zM1466.8 479.1v5.65h7.17zM1337.7 484.7v5.65h7.17zM1344.8 484.7v5.65h7.17zM1352.0 484.7v5.65h7.17zM1366.4 484.7v5.65h7.17zM1373.5 484.7v5.65h7.17zM1380.7 484.7v5.65h7.17zM1387.9 484.7v5.65h7.17zM1409.4 484.7v5.65h7.17zM1423.8 484.7v5.65h7.17zM1438.1 484.7v5.65h7.17zM1445.3 484.7v5.65h7.17zM1459.6 484.7v5.65h7.17zM1466.8 484.7v5.65h7.17zM1488.3 484.7v5.65h7.17zM1502.7 484.7v5.65h7.17zM1531.4 484.7v5.65h7.17zM1337.7 490.4v5.65h7.17zM1344.8 490.4v5.65h7.17zM1352.0 490.4v5.65h7.17zM1366.4 490.4v5.65h7.17zM1373.5 490.4v5.65h7.17zM1380.7 490.4v5.65h7.17zM1409.4 490.4v5.65h7.17zM1431.0 490.4v5.65h7.17zM1445.3 490.4v5.65h7.17zM1452.5 490.4v5.65h7.17zM1466.8 490.4v5.65h7.17zM1517.0 490.4v5.65h7.17zM1531.4 490.4v5.65h7.17zM1409.4 496.0v5.65h7.17zM1445.3 496.0v5.65h7.17zM1531.4 496.0v5.65h7.17zM1301.8 501.6v5.65h7.17zM1337.7 501.6v5.65h7.17zM1344.8 501.6v5.65h7.17zM1366.4 501.6v5.65h7.17zM1373.5 501.6v5.65h7.17zM1380.7 501.6v5.65h7.17zM1445.3 501.6v5.65h7.17zM1459.6 501.6v5.65h7.17zM1337.7 507.3v5.65h7.17zM1344.8 507.3v5.65h7.17zM1316.1 518.6v5.65h7.17zM1337.7 518.6v5.65h7.17zM1344.8 518.6v5.65h7.17zM1352.0 518.6v5.65h7.17zM1373.5 518.6v5.65h7.17zM1409.4 518.6v5.65h7.17zM1438.1 518.6v5.65h7.17zM1452.5 518.6v5.65h7.17zM1459.6 518.6v5.65h7.17zM1531.4 518.6v5.65h7.17zM1337.7 524.2v5.65h7.17zM1344.8 524.2v5.65h7.17zM1373.5 524.2v5.65h7.17zM1337.7 529.9v5.65h7.17zM1373.5 535.5v5.65h7.17zM1459.6 535.5v5.65h7.17zM1466.8 535.5v5.65h7.17zM1337.7 541.2v5.65h7.17zM1380.7 541.2v5.65h7.17zM1337.7 546.8v5.65h7.17zM1445.3 552.5v5.65h7.17zM1531.4 552.5v5.65h7.17zM1344.8 558.1v5.65h7.17zM1373.5 558.1v5.65h7.17zM1459.6 558.1v5.65h7.17zM1466.8 563.8v5.65h7.17zM1531.4 563.8v5.65h7.17zM1459.6 569.4v5.65h7.17zM1531.4 569.4v5.65h7.17zM1366.4 575.1v5.65h7.17zM1438.1 575.1v5.65h7.17zM1373.5 586.4v5.65h7.17zM1531.4 592.0v5.65h7.17zM1344.8 603.3v5.65h7.17zM1337.7 631.5v5.65h7.17zM1344.8 631.5v5.65h7.17zM1366.4 631.5v5.65h7.17zM1373.5 631.5v5.65h7.17zM1409.4 631.5v5.65h7.17zM1431.0 631.5v5.65h7.17zM1438.1 631.5v5.65h7.17zM1445.3 631.5v5.65h7.17zM1466.8 631.5v5.65h7.17zM1502.7 631.5v5.65h7.17zM1531.4 631.5v5.65h7.17zM1488.3 637.2v5.65h7.17zM1301.8 642.8v5.65h7.17zM1344.8 642.8v5.65h7.17zM1366.4 642.8v5.65h7.17zM1409.4 642.8v5.65h7.17zM1459.6 642.8v5.65h7.17zM1466.8 642.8v5.65h7.17zM1337.7 648.5v5.65h7.17zM1344.8 648.5v5.65h7.17zM1366.4 648.5v5.65h7.17zM1459.6 648.5v5.65h7.17zM1466.8 648.5v5.65h7.17zM1531.4 648.5v5.65h7.17zM1337.7 654.1v5.65h7.17zM1344.8 654.1v5.65h7.17zM1409.4 654.1v5.65h7.17zM1438.1 654.1v5.65h7.17zM1445.3 654.1v5.65h7.17zM1466.8 654.1v5.65h7.17zM1531.4 654.1v5.65h7.17zM1337.7 659.8v5.65h7.17zM1466.8 659.8v5.65h7.17zM1488.3 659.8v5.65h7.17z" fill="#d01c1c"/>
<path d="M1337.7 400.0h7.17v5.65zM1344.8 400.0h7.17v5.65zM1373.5 400.0h7.17v5.65zM1323.3 405.6h7.17v5.65zM1337.7 405.6h7.17v5.65zM1466.8 405.6h7.17v5.65zM1495.5 411.3h7.17v5.65zM1524.2 411.3h7.17v5.65zM1309.0 416.9h7.17v5.65zM1352.0 416.9h7.17v5.65zM1445.3 416.9h7.17v5.65zM1452.5 416.9h7.17v5.65zM1495.5 422.6h7.17v5.65zM1380.7 428.2h7.17v5.65zM1445.3 428.2h7.17v5.65zM1531.4 428.2h7.17v5.65zM1366.4 433.9h7.17v5.65zM1445.3 433.9h7.17v5.65zM1509.9 439.5h7.17v5.65zM1337.7 445.2h7.17v5.65zM1366.4 445.2h7.17v5.65zM1373.5 445.2h7.17v5.65zM1459.6 450.8h7.17v5.65zM1531.4 450.8h7.17v5.65zM1330.5 456.5h7.17v5.65zM1344.8 462.1h7.17v5.65zM1445.3 462.1h7.17v5.65zM1344.8 467.8h7.17v5.65zM1373.5 467.8h7.17v5.65zM1531.4 467.8h7.17v5.65zM1309.0 473.4h7.17v5.65zM1466.8 473.4h7.17v5.65zM1352.0 484.7h7.17v5.65zM1380.7 484.7h7.17v5.65zM1423.8 484.7h7.17v5.65zM1438.1 484.7h7.17v5.65zM1459.6 484.7h7.17v5.65zM1337.7 490.4h7.17v5.65zM1344.8 490.4h7.17v5.65zM1352.0 490.4h7.17v5.65zM1366.4 490.4h7.17v5.65zM1373.5 490.4h7.17v5.65zM1452.5 490.4h7.17v5.65zM1531.4 490.4h7.17v5.65zM1409.4 496.0h7.17v5.65zM1445.3 496.0h7.17v5.65zM1301.8 501.6h7.17v5.65zM1344.8 501.6h7.17v5.65zM1366.4 501.6h7.17v5.65zM1445.3 501.6h7.17v5.65zM1344.8 507.3h7.17v5.65zM1466.8 512.9h7.17v5.65zM1316.1 518.6h7.17v5.65zM1337.7 518.6h7.17v5.65zM1373.5 518.6h7.17v5.65zM1409.4 518.6h7.17v5.65zM1438.1 518.6h7.17v5.65zM1452.5 518.6h7.17v5.65zM1459.6 518.6h7.17v5.65zM1337.7 524.2h7.17v5.65zM1344.8 524.2h7.17v5.65zM1373.5 524.2h7.17v5.65zM1495.5 529.9h7.17v5.65zM1459.6 535.5h7.17v5.65zM1466.8 535.5h7.17v5.65zM1330.5 541.2h7.17v5.65zM1337.7 541.2h7.17v5.65zM1380.7 541.2h7.17v5.65zM1337.7 546.8h7.17v5.65zM1474.0 546.8h7.17v5.65zM1531.4 552.5h7.17v5.65zM1373.5 558.1h7.17v5.65zM1466.8 563.8h7.17v5.65zM1531.4 563.8h7.17v5.65zM1531.4 569.4h7.17v5.65zM1366.4 575.1h7.17v5.65zM1438.1 575.1h7.17v5.65zM1373.5 586.4h7.17v5.65zM1531.4 592.0h7.17v5.65zM1495.5 597.6h7.17v5.65zM1330.5 603.3h7.17v5.65zM1344.8 603.3h7.17v5.65zM1387.9 603.3h7.17v5.65zM1474.0 603.3h7.17v5.65zM1495.5 603.3h7.17v5.65zM1395.1 608.9h7.17v5.65zM1330.5 614.6h7.17v5.65zM1509.9 614.6h7.17v5.65zM1524.2 620.2h7.17v5.65zM1459.6 625.9h7.17v5.65zM1474.0 625.9h7.17v5.65zM1509.9 625.9h7.17v5.65zM1409.4 631.5h7.17v5.65zM1431.0 631.5h7.17v5.65zM1438.1 631.5h7.17v5.65zM1531.4 631.5h7.17v5.65zM1488.3 637.2h7.17v5.65zM1301.8 642.8h7.17v5.65zM1344.8 642.8h7.17v5.65zM1366.4 642.8h7.17v5.65zM1409.4 642.8h7.17v5.65zM1466.8 642.8h7.17v5.65zM1366.4 648.5h7.17v5.65zM1459.6 648.5h7.17v5.65zM1531.4 648.5h7.17v5.65zM1344.8 654.1h7.17v5.65zM1409.4 654.1h7.17v5.65zM1438.1 654.1h7.17v5.65zM1445.3 654.1h7.17v5.65zM1466.8 654.1h7.17v5.65zM1337.7 659.8h7.17v5.65zM1488.3 659.8h7.17v5.65z" fill="#b3cdbf"/>
<path d="M1352.0 400.0v5.65h7.17zM1380.7 400.0v5.65h7.17zM1481.2 400.0v5.65h7.17zM1366.4 405.6v5.65h7.17zM1380.7 405.6v5.65h7.17zM1438.1 405.6v5.65h7.17zM1445.3 405.6v5.65h7.17zM1452.5 405.6v5.65h7.17zM1502.7 405.6v5.65h7.17zM1431.0 411.3v5.65h7.17zM1323.3 416.9v5.65h7.17zM1344.8 416.9v5.65h7.17zM1423.8 416.9v5.65h7.17zM1438.1 416.9v5.65h7.17zM1488.3 416.9v5.65h7.17zM1359.2 422.6v5.65h7.17zM1366.4 422.6v5.65h7.17zM1373.5 422.6v5.65h7.17zM1409.4 422.6v5.65h7.17zM1431.0 422.6v5.65h7.17zM1517.0 422.6v5.65h7.17zM1366.4 428.2v5.65h7.17zM1387.9 428.2v5.65h7.17zM1409.4 428.2v5.65h7.17zM1488.3 428.2v5.65h7.17zM1309.0 433.9v5.65h7.17zM1337.7 433.9v5.65h7.17zM1352.0 433.9v5.65h7.17zM1431.0 433.9v5.65h7.17zM1438.1 433.9v5.65h7.17zM1459.6 433.9v5.65h7.17zM1531.4 433.9v5.65h7.17zM1301.8 439.5v5.65h7.17zM1531.4 439.5v5.65h7.17zM1387.9 445.2v5.65h7.17zM1466.8 445.2v5.65h7.17zM1502.7 445.2v5.65h7.17zM1517.0 445.2v5.65h7.17zM1366.4 450.8v5.65h7.17zM1373.5 450.8v5.65h7.17zM1409.4 450.8v5.65h7.17zM1502.7 450.8v5.65h7.17zM1301.8 456.5v5.65h7.17zM1337.7 456.5v5.65h7.17zM1344.8 456.5v5.65h7.17zM1366.4 456.5v5.65h7.17zM1380.7 456.5v5.65h7.17zM1445.3 456.5v5.65h7.17zM1531.4 456.5v5.65h7.17zM1337.7 462.1v5.65h7.17zM1352.0 462.1v5.65h7.17zM1416.6 462.1v5.65h7.17zM1438.1 462.1v5.65h7.17zM1459.6 462.1v5.65h7.17zM1352.0 467.8v5.65h7.17zM1359.2 467.8v5.65h7.17zM1380.7 467.8v5.65h7.17zM1395.1 467.8v5.65h7.17zM1402.2 467.8v5.65h7.17zM1431.0 467.8v5.65h7.17zM1438.1 467.8v5.65h7.17zM1445.3 467.8v5.65h7.17zM1452.5 467.8v5.65h7.17zM1459.6 467.8v5.65h7.17zM1481.2 467.8v5.65h7.17zM1488.3 467.8v5.65h7.17zM1517.0 467.8v5.65h7.17zM1323.3 473.4v5.65h7.17zM1359.2 473.4v5.65h7.17zM1380.7 473.4v5.65h7.17zM1387.9 473.4v5.65h7.17zM1409.4 473.4v5.65h7.17zM1423.8 473.4v5.65h7.17zM1452.5 473.4v5.65h7.17zM1517.0 473.4v5.65h7.17zM1359.2 479.1v5.65h7.17zM1373.5 479.1v5.65h7.17zM1431.0 479.1v5.65h7.17zM1445.3 479.1v5.65h7.17zM1531.4 479.1v5.65h7.17zM1316.1 484.7v5.65h7.17zM1402.2 484.7v5.65h7.17zM1452.5 484.7v5.65h7.17zM1474.0 484.7v5.65h7.17zM1495.5 484.7v5.65h7.17zM1309.0 490.4v5.65h7.17zM1359.2 490.4v5.65h7.17zM1481.2 490.4v5.65h7.17zM1366.4 496.0v5.65h7.17zM1466.8 496.0v5.65h7.17zM1352.0 501.6v5.65h7.17zM1423.8 501.6v5.65h7.17zM1431.0 501.6v5.65h7.17zM1452.5 501.6v5.65h7.17zM1466.8 501.6v5.65h7.17zM1301.8 507.3v5.65h7.17zM1373.5 507.3v5.65h7.17zM1409.4 507.3v5.65h7.17zM1531.4 507.3v5.65h7.17zM1409.4 512.9v5.65h7.17zM1301.8 518.6v5.65h7.17zM1359.2 518.6v5.65h7.17zM1416.6 518.6v5.65h7.17zM1445.3 518.6v5.65h7.17zM1488.3 518.6v5.65h7.17zM1309.0 524.2v5.65h7.17zM1352.0 524.2v5.65h7.17zM1366.4 524.2v5.65h7.17zM1380.7 524.2v5.65h7.17zM1416.6 524.2v5.65h7.17zM1445.3 524.2v5.65h7.17zM1481.2 524.2v5.65h7.17zM1502.7 524.2v5.65h7.17zM1524.2 524.2v5.65h7.17zM1409.4 529.9v5.65h7.17zM1517.0 529.9v5.65h7.17zM1344.8 535.5v5.65h7.17zM1366.4 535.5v5.65h7.17zM1344.8 541.2v5.65h7.17zM1466.8 541.2v5.65h7.17zM1366.4 546.8v5.65h7.17zM1373.5 546.8v5.65h7.17zM1459.6 546.8v5.65h7.17zM1466.8 546.8v5.65h7.17zM1488.3 546.8v5.65h7.17zM1517.0 546.8v5.65h7.17zM1409.4 552.5v5.65h7.17zM1466.8 552.5v5.65h7.17zM1517.0 552.5v5.65h7.17zM1301.8 558.1v5.65h7.17zM1309.0 558.1v5.65h7.17zM1395.1 558.1v5.65h7.17zM1416.6 558.1v5.65h7.17zM1466.8 558.1v5.65h7.17zM1301.8 563.8v5.65h7.17zM1337.7 563.8v5.65h7.17zM1366.4 563.8v5.65h7.17zM1373.5 563.8v5.65h7.17zM1416.6 563.8v5.65h7.17zM1488.3 563.8v5.65h7.17zM1337.7 569.4v5.65h7.17zM1366.4 569.4v5.65h7.17zM1380.7 569.4v5.65h7.17zM1402.2 569.4v5.65h7.17zM1409.4 569.4v5.65h7.17zM1438.1 569.4v5.65h7.17zM1502.7 569.4v5.65h7.17zM1301.8 575.1v5.65h7.17zM1431.0 575.1v5.65h7.17zM1524.2 575.1v5.65h7.17zM1323.3 580.7v5.65h7.17zM1344.8 580.7v5.65h7.17zM1373.5 580.7v5.65h7.17zM1445.3 580.7v5.65h7.17zM1488.3 580.7v5.65h7.17zM1517.0 580.7v5.65h7.17zM1531.4 580.7v5.65h7.17zM1301.8 586.4v5.65h7.17zM1337.7 586.4v5.65h7.17zM1344.8 586.4v5.65h7.17zM1366.4 586.4v5.65h7.17zM1380.7 586.4v5.65h7.17zM1416.6 586.4v5.65h7.17zM1431.0 586.4v5.65h7.17zM1445.3 586.4v5.65h7.17zM1517.0 586.4v5.65h7.17zM1337.7 592.0v5.65h7.17zM1344.8 592.0v5.65h7.17zM1380.7 592.0v5.65h7.17zM1409.4 592.0v5.65h7.17zM1488.3 592.0v5.65h7.17zM1459.6 597.6v5.65h7.17zM1531.4 597.6v5.65h7.17zM1301.8 631.5v5.65h7.17zM1402.2 631.5v5.65h7.17zM1517.0 631.5v5.65h7.17zM1323.3 637.2v5.65h7.17zM1337.7 637.2v5.65h7.17zM1344.8 637.2v5.65h7.17zM1459.6 637.2v5.65h7.17zM1517.0 637.2v5.65h7.17zM1531.4 637.2v5.65h7.17zM1309.0 642.8v5.65h7.17zM1359.2 642.8v5.65h7.17zM1380.7 642.8v5.65h7.17zM1416.6 642.8v5.65h7.17zM1452.5 642.8v5.65h7.17zM1488.3 642.8v5.65h7.17zM1517.0 642.8v5.65h7.17zM1301.8 648.5v5.65h7.17zM1323.3 648.5v5.65h7.17zM1352.0 648.5v5.65h7.17zM1359.2 648.5v5.65h7.17zM1387.9 648.5v5.65h7.17zM1502.7 648.5v5.65h7.17zM1352.0 654.1v5.65h7.17zM1366.4 654.1v5.65h7.17zM1423.8 654.1v5.65h7.17zM1431.0 654.1v5.65h7.17zM1452.5 654.1v5.65h7.17zM1488.3 654.1v5.65h7.17zM1373.5 659.8v5.65h7.17zM1409.4 659.8v5.65h7.17zM1438.1 659.8v5.65h7.17zM1481.2 659.8v5.65h7.17zM1517.0 659.8v5.65h7.17zM1531.4 659.8v5.65h7.17z" fill="#f0b09c"/>
<path d="M1352.0 400.0h7.17v5.65zM1380.7 400.0h7.17v5.65zM1387.9 400.0h7.17v5.65zM1459.6 400.0h7.17v5.65zM1466.8 400.0h7.17v5.65zM1488.3 400.0h7.17v5.65zM1366.4 405.6h7.17v5.65zM1373.5 405.6h7.17v5.65zM1438.1 405.6h7.17v5.65zM1459.6 405.6h7.17v5.65zM1323.3 411.3h7.17v5.65zM1387.9 411.3h7.17v5.65zM1474.0 411.3h7.17v5.65zM1387.9 416.9h7.17v5.65zM1402.2 416.9h7.17v5.65zM1438.1 416.9h7.17v5.65zM1502.7 416.9h7.17v5.65zM1517.0 416.9h7.17v5.65zM1524.2 416.9h7.17v5.65zM1330.5 422.6h7.17v5.65zM1352.0 422.6h7.17v5.65zM1366.4 422.6h7.17v5.65zM1402.2 422.6h7.17v5.65zM1423.8 422.6h7.17v5.65zM1431.0 422.6h7.17v5.65zM1524.2 422.6h7.17v5.65zM1344.8 428.2h7.17v5.65zM1373.5 428.2h7.17v5.65zM1509.9 428.2h7.17v5.65zM1337.7 433.9h7.17v5.65zM1373.5 433.9h7.17v5.65zM1380.7 433.9h7.17v5.65zM1395.1 433.9h7.17v5.65zM1438.1 433.9h7.17v5.65zM1330.5 439.5h7.17v5.65zM1344.8 439.5h7.17v5.65zM1474.0 439.5h7.17v5.65zM1524.2 439.5h7.17v5.65zM1517.0 445.2h7.17v5.65zM1330.5 450.8h7.17v5.65zM1366.4 450.8h7.17v5.65zM1373.5 450.8h7.17v5.65zM1495.5 450.8h7.17v5.65zM1337.7 456.5h7.17v5.65zM1431.0 456.5h7.17v5.65zM1466.8 456.5h7.17v5.65zM1481.2 456.5h7.17v5.65zM1330.5 462.1h7.17v5.65zM1337.7 462.1h7.17v5.65zM1352.0 462.1h7.17v5.65zM1474.0 462.1h7.17v5.65zM1301.8 467.8h7.17v5.65zM1352.0 467.8h7.17v5.65zM1366.4 467.8h7.17v5.65zM1409.4 467.8h7.17v5.65zM1431.0 467.8h7.17v5.65zM1438.1 467.8h7.17v5.65zM1488.3 467.8h7.17v5.65zM1438.1 473.4h7.17v5.65zM1445.3 473.4h7.17v5.65zM1452.5 473.4h7.17v5.65zM1323.3 479.1h7.17v5.65zM1495.5 479.1h7.17v5.65zM1359.2 484.7h7.17v5.65zM1323.3 490.4h7.17v5.65zM1438.1 490.4h7.17v5.65zM1502.7 490.4h7.17v5.65zM1337.7 496.0h7.17v5.65zM1344.8 496.0h7.17v5.65zM1373.5 496.0h7.17v5.65zM1495.5 496.0h7.17v5.65zM1416.6 501.6h7.17v5.65zM1452.5 501.6h7.17v5.65zM1502.7 501.6h7.17v5.65zM1359.2 512.9h7.17v5.65zM1495.5 512.9h7.17v5.65zM1502.7 512.9h7.17v5.65zM1309.0 518.6h7.17v5.65zM1395.1 518.6h7.17v5.65zM1445.3 518.6h7.17v5.65zM1466.8 518.6h7.17v5.65zM1481.2 518.6h7.17v5.65zM1509.9 524.2h7.17v5.65zM1330.5 529.9h7.17v5.65zM1459.6 529.9h7.17v5.65zM1502.7 529.9h7.17v5.65zM1509.9 529.9h7.17v5.65zM1301.8 535.5h7.17v5.65zM1344.8 535.5h7.17v5.65zM1366.4 535.5h7.17v5.65zM1509.9 541.2h7.17v5.65zM1323.3 546.8h7.17v5.65zM1344.8 546.8h7.17v5.65zM1488.3 546.8h7.17v5.65zM1323.3 552.5h7.17v5.65zM1330.5 552.5h7.17v5.65zM1431.0 552.5h7.17v5.65zM1466.8 552.5h7.17v5.65zM1502.7 552.5h7.17v5.65zM1301.8 558.1h7.17v5.65zM1309.0 558.1h7.17v5.65zM1330.5 558.1h7.17v5.65zM1409.4 558.1h7.17v5.65zM1495.5 558.1h7.17v5.65zM1337.7 563.8h7.17v5.65zM1344.8 563.8h7.17v5.65zM1366.4 563.8h7.17v5.65zM1509.9 563.8h7.17v5.65zM1524.2 563.8h7.17v5.65zM1323.3 569.4h7.17v5.65zM1344.8 569.4h7.17v5.65zM1366.4 569.4h7.17v5.65zM1380.7 569.4h7.17v5.65zM1438.1 569.4h7.17v5.65zM1445.3 569.4h7.17v5.65zM1474.0 569.4h7.17v5.65zM1330.5 575.1h7.17v5.65zM1459.6 575.1h7.17v5.65zM1509.9 575.1h7.17v5.65zM1337.7 580.7h7.17v5.65zM1445.3 580.7h7.17v5.65zM1495.5 580.7h7.17v5.65zM1517.0 580.7h7.17v5.65zM1309.0 586.4h7.17v5.65zM1337.7 586.4h7.17v5.65zM1431.0 586.4h7.17v5.65zM1459.6 586.4h7.17v5.65zM1337.7 592.0h7.17v5.65zM1344.8 592.0h7.17v5.65zM1344.8 597.6h7.17v5.65zM1459.6 597.6h7.17v5.65zM1531.4 597.6h7.17v5.65zM1373.5 603.3h7.17v5.65zM1402.2 603.3h7.17v5.65zM1509.9 603.3h7.17v5.65zM1452.5 608.9h7.17v5.65zM1509.9 608.9h7.17v5.65zM1316.1 614.6h7.17v5.65zM1352.0 614.6h7.17v5.65zM1402.2 614.6h7.17v5.65zM1445.3 614.6h7.17v5.65zM1495.5 614.6h7.17v5.65zM1330.5 620.2h7.17v5.65zM1387.9 620.2h7.17v5.65zM1445.3 620.2h7.17v5.65zM1517.0 620.2h7.17v5.65zM1373.5 625.9h7.17v5.65zM1395.1 625.9h7.17v5.65zM1423.8 625.9h7.17v5.65zM1452.5 625.9h7.17v5.65zM1524.2 625.9h7.17v5.65zM1301.8 631.5h7.17v5.65zM1352.0 631.5h7.17v5.65zM1474.0 631.5h7.17v5.65zM1481.2 631.5h7.17v5.65zM1488.3 631.5h7.17v5.65zM1459.6 637.2h7.17v5.65zM1495.5 637.2h7.17v5.65zM1309.0 642.8h7.17v5.65zM1380.7 642.8h7.17v5.65zM1387.9 642.8h7.17v5.65zM1416.6 642.8h7.17v5.65zM1438.1 642.8h7.17v5.65zM1502.7 642.8h7.17v5.65zM1517.0 642.8h7.17v5.65zM1301.8 648.5h7.17v5.65zM1387.9 648.5h7.17v5.65zM1409.4 648.5h7.17v5.65zM1474.0 648.5h7.17v5.65zM1502.7 648.5h7.17v5.65zM1301.8 654.1h7.17v5.65zM1316.1 654.1h7.17v5.65zM1352.0 654.1h7.17v5.65zM1402.2 654.1h7.17v5.65zM1344.8 659.8h7.17v5.65zM1409.4 659.8h7.17v5.65zM1416.6 659.8h7.17v5.65zM1531.4 659.8h7.17v5.65z" fill="#eef3f0"/>
<path d="M1359.2 400.0v5.65h7.17zM1474.0 400.0v5.65h7.17zM1495.5 400.0v5.65h7.17zM1387.9 405.6v5.65h7.17zM1402.2 405.6v5.65h7.17zM1474.0 405.6v5.65h7.17zM1301.8 411.3v5.65h7.17zM1309.0 411.3v5.65h7.17zM1337.7 411.3v5.65h7.17zM1359.2 411.3v5.65h7.17zM1366.4 411.3v5.65h7.17zM1380.7 411.3v5.65h7.17zM1452.5 411.3v5.65h7.17zM1517.0 411.3v5.65h7.17zM1531.4 411.3v5.65h7.17zM1316.1 428.2v5.65h7.17zM1323.3 428.2v5.65h7.17zM1495.5 428.2v5.65h7.17zM1359.2 433.9v5.65h7.17zM1423.8 433.9v5.65h7.17zM1452.5 433.9v5.65h7.17zM1474.0 433.9v5.65h7.17zM1495.5 433.9v5.65h7.17zM1524.2 433.9v5.65h7.17zM1316.1 439.5v5.65h7.17zM1323.3 439.5v5.65h7.17zM1337.7 439.5v5.65h7.17zM1352.0 439.5v5.65h7.17zM1387.9 439.5v5.65h7.17zM1395.1 439.5v5.65h7.17zM1402.2 439.5v5.65h7.17zM1416.6 439.5v5.65h7.17zM1445.3 439.5v5.65h7.17zM1452.5 439.5v5.65h7.17zM1481.2 439.5v5.65h7.17zM1495.5 439.5v5.65h7.17zM1517.0 439.5v5.65h7.17zM1323.3 445.2v5.65h7.17zM1330.5 445.2v5.65h7.17zM1352.0 445.2v5.65h7.17zM1359.2 445.2v5.65h7.17zM1395.1 445.2v5.65h7.17zM1431.0 445.2v5.65h7.17zM1316.1 450.8v5.65h7.17zM1352.0 450.8v5.65h7.17zM1380.7 450.8v5.65h7.17zM1488.3 450.8v5.65h7.17zM1509.9 450.8v5.65h7.17zM1517.0 450.8v5.65h7.17zM1323.3 456.5v5.65h7.17zM1395.1 456.5v5.65h7.17zM1402.2 456.5v5.65h7.17zM1423.8 456.5v5.65h7.17zM1474.0 456.5v5.65h7.17zM1488.3 456.5v5.65h7.17zM1524.2 456.5v5.65h7.17zM1423.8 462.1v5.65h7.17zM1495.5 462.1v5.65h7.17zM1502.7 462.1v5.65h7.17zM1509.9 462.1v5.65h7.17zM1524.2 462.1v5.65h7.17zM1330.5 467.8v5.65h7.17zM1423.8 467.8v5.65h7.17zM1509.9 467.8v5.65h7.17zM1330.5 473.4v5.65h7.17zM1509.9 473.4v5.65h7.17zM1481.2 479.1v5.65h7.17zM1330.5 484.7v5.65h7.17zM1330.5 490.4v5.65h7.17zM1509.9 490.4v5.65h7.17zM1316.1 496.0v5.65h7.17zM1352.0 496.0v5.65h7.17zM1402.2 496.0v5.65h7.17zM1474.0 496.0v5.65h7.17zM1509.9 496.0v5.65h7.17zM1330.5 501.6v5.65h7.17zM1509.9 501.6v5.65h7.17zM1323.3 507.3v5.65h7.17zM1330.5 507.3v5.65h7.17zM1387.9 507.3v5.65h7.17zM1330.5 512.9v5.65h7.17zM1337.7 512.9v5.65h7.17zM1380.7 512.9v5.65h7.17zM1402.2 512.9v5.65h7.17zM1445.3 512.9v5.65h7.17zM1459.6 512.9v5.65h7.17zM1481.2 512.9v5.65h7.17zM1509.9 512.9v5.65h7.17zM1524.2 512.9v5.65h7.17zM1316.1 524.2v5.65h7.17zM1330.5 524.2v5.65h7.17zM1301.8 529.9v5.65h7.17zM1323.3 529.9v5.65h7.17zM1402.2 529.9v5.65h7.17zM1474.0 529.9v5.65h7.17zM1488.3 529.9v5.65h7.17zM1330.5 535.5v5.65h7.17zM1395.1 535.5v5.65h7.17zM1423.8 535.5v5.65h7.17zM1495.5 535.5v5.65h7.17zM1502.7 535.5v5.65h7.17zM1509.9 535.5v5.65h7.17zM1395.1 541.2v5.65h7.17zM1452.5 541.2v5.65h7.17zM1474.0 541.2v5.65h7.17zM1481.2 541.2v5.65h7.17zM1488.3 541.2v5.65h7.17zM1495.5 541.2v5.65h7.17zM1524.2 541.2v5.65h7.17zM1352.0 546.8v5.65h7.17zM1387.9 546.8v5.65h7.17zM1395.1 546.8v5.65h7.17zM1416.6 546.8v5.65h7.17zM1423.8 546.8v5.65h7.17zM1524.2 546.8v5.65h7.17zM1423.8 552.5v5.65h7.17zM1452.5 552.5v5.65h7.17zM1488.3 552.5v5.65h7.17zM1352.0 558.1v5.65h7.17zM1423.8 558.1v5.65h7.17zM1481.2 558.1v5.65h7.17zM1524.2 558.1v5.65h7.17zM1323.3 563.8v5.65h7.17zM1423.8 563.8v5.65h7.17zM1431.0 563.8v5.65h7.17zM1481.2 563.8v5.65h7.17zM1316.1 569.4v5.65h7.17zM1387.9 569.4v5.65h7.17zM1488.3 569.4v5.65h7.17zM1517.0 569.4v5.65h7.17zM1524.2 569.4v5.65h7.17zM1395.1 575.1v5.65h7.17zM1402.2 575.1v5.65h7.17zM1423.8 575.1v5.65h7.17zM1495.5 575.1v5.65h7.17zM1352.0 580.7v5.65h7.17zM1387.9 580.7v5.65h7.17zM1402.2 580.7v5.65h7.17zM1509.9 580.7v5.65h7.17zM1352.0 586.4v5.65h7.17zM1359.2 586.4v5.65h7.17zM1395.1 586.4v5.65h7.17zM1402.2 586.4v5.65h7.17zM1481.2 586.4v5.65h7.17zM1524.2 586.4v5.65h7.17zM1352.0 592.0v5.65h7.17zM1359.2 592.0v5.65h7.17zM1402.2 592.0v5.65h7.17zM1452.5 592.0v5.65h7.17zM1502.7 592.0v5.65h7.17zM1509.9 592.0v5.65h7.17zM1359.2 597.6v5.65h7.17zM1474.0 597.6v5.65h7.17zM1509.9 597.6v5.65h7.17zM1309.0 603.3v5.65h7.17zM1316.1 603.3v5.65h7.17zM1359.2 603.3v5.65h7.17zM1366.4 603.3v5.65h7.17zM1395.1 603.3v5.65h7.17zM1524.2 603.3v5.65h7.17zM1531.4 603.3v5.65h7.17zM1323.3 608.9v5.65h7.17zM1337.7 608.9v5.65h7.17zM1344.8 608.9v5.65h7.17zM1352.0 608.9v5.65h7.17zM1359.2 608.9v5.65h7.17zM1416.6 608.9v5.65h7.17zM1459.6 608.9v5.65h7.17zM1488.3 608.9v5.65h7.17zM1495.5 608.9v5.65h7.17zM1517.0 608.9v5.65h7.17zM1524.2 608.9v5.65h7.17zM1301.8 614.6v5.65h7.17zM1323.3 614.6v5.65h7.17zM1359.2 614.6v5.65h7.17zM1387.9 614.6v5.65h7.17zM1416.6 614.6v5.65h7.17zM1466.8 614.6v5.65h7.17zM1502.7 614.6v5.65h7.17zM1517.0 614.6v5.65h7.17zM1316.1 620.2v5.65h7.17zM1323.3 620.2v5.65h7.17zM1352.0 620.2v5.65h7.17zM1359.2 620.2v5.65h7.17zM1409.4 620.2v5.65h7.17zM1452.5 620.2v5.65h7.17zM1466.8 620.2v5.65h7.17zM1488.3 620.2v5.65h7.17zM1495.5 620.2v5.65h7.17zM1387.9 625.9v5.65h7.17zM1416.6 625.9v5.65h7.17zM1438.1 625.9v5.65h7.17zM1445.3 625.9v5.65h7.17zM1481.2 625.9v5.65h7.17zM1488.3 625.9v5.65h7.17zM1316.1 637.2v5.65h7.17zM1330.5 637.2v5.65h7.17zM1481.2 637.2v5.65h7.17zM1509.9 637.2v5.65h7.17zM1395.1 642.8v5.65h7.17zM1474.0 642.8v5.65h7.17zM1509.9 642.8v5.65h7.17zM1481.2 648.5v5.65h7.17zM1509.9 648.5v5.65h7.17zM1395.1 654.1v5.65h7.17zM1495.5 654.1v5.65h7.17zM1509.9 654.1v5.65h7.17zM1330.5 659.8v5.65h7.17zM1402.2 659.8v5.65h7.17z" fill="#dcdaf0"/>
<path d="M1387.9 400.0v5.65h7.17zM1445.3 400.0v5.65h7.17zM1459.6 400.0v5.65h7.17zM1466.8 400.0v5.65h7.17zM1488.3 400.0v5.65h7.17zM1373.5 405.6v5.65h7.17zM1459.6 405.6v5.65h7.17zM1531.4 405.6v5.65h7.17zM1301.8 416.9v5.65h7.17zM1373.5 416.9v5.65h7.17zM1380.7 416.9v5.65h7.17zM1387.9 416.9v5.65h7.17zM1402.2 416.9v5.65h7.17zM1409.4 416.9v5.65h7.17zM1502.7 416.9v5.65h7.17zM1517.0 416.9v5.65h7.17zM1524.2 416.9v5.65h7.17zM1337.7 422.6v5.65h7.17zM1352.0 422.6v5.65h7.17zM1402.2 422.6v5.65h7.17zM1301.8 428.2v5.65h7.17zM1309.0 428.2v5.65h7.17zM1344.8 428.2v5.65h7.17zM1373.5 428.2v5.65h7.17zM1395.1 428.2v5.65h7.17zM1452.5 428.2v5.65h7.17zM1373.5 433.9v5.65h7.17zM1380.7 433.9v5.65h7.17zM1445.3 445.2v5.65h7.17zM1452.5 445.2v5.65h7.17zM1337.7 450.8v5.65h7.17zM1445.3 450.8v5.65h7.17zM1431.0 456.5v5.65h7.17zM1459.6 456.5v5.65h7.17zM1466.8 456.5v5.65h7.17zM1373.5 462.1v5.65h7.17zM1466.8 462.1v5.65h7.17zM1301.8 467.8v5.65h7.17zM1366.4 467.8v5.65h7.17zM1409.4 467.8v5.65h7.17zM1301.8 473.4v5.65h7.17zM1366.4 473.4v5.65h7.17zM1431.0 473.4v5.65h7.17zM1438.1 473.4v5.65h7.17zM1445.3 473.4v5.65h7.17zM1481.2 473.4v5.65h7.17zM1531.4 473.4v5.65h7.17zM1301.8 479.1v5.65h7.17zM1323.3 479.1v5.65h7.17zM1344.8 479.1v5.65h7.17zM1459.6 479.1v5.65h7.17zM1517.0 479.1v5.65h7.17zM1309.0 484.7v5.65h7.17zM1359.2 484.7v5.65h7.17zM1416.6 484.7v5.65h7.17zM1431.0 484.7v5.65h7.17zM1481.2 484.7v5.65h7.17zM1517.0 484.7v5.65h7.17zM1524.2 484.7v5.65h7.17zM1323.3 490.4v5.65h7.17zM1387.9 490.4v5.65h7.17zM1395.1 490.4v5.65h7.17zM1416.6 490.4v5.65h7.17zM1438.1 490.4v5.65h7.17zM1459.6 490.4v5.65h7.17zM1502.7 490.4v5.65h7.17zM1337.7 496.0v5.65h7.17zM1344.8 496.0v5.65h7.17zM1373.5 496.0v5.65h7.17zM1438.1 496.0v5.65h7.17zM1409.4 501.6v5.65h7.17zM1416.6 501.6v5.65h7.17zM1502.7 501.6v5.65h7.17zM1531.4 501.6v5.65h7.17zM1416.6 507.3v5.65h7.17zM1459.6 507.3v5.65h7.17zM1309.0 518.6v5.65h7.17zM1366.4 518.6v5.65h7.17zM1380.7 518.6v5.65h7.17zM1395.1 518.6v5.65h7.17zM1423.8 518.6v5.65h7.17zM1466.8 518.6v5.65h7.17zM1481.2 518.6v5.65h7.17zM1502.7 518.6v5.65h7.17zM1323.3 524.2v5.65h7.17zM1438.1 524.2v5.65h7.17zM1459.6 524.2v5.65h7.17zM1466.8 524.2v5.65h7.17zM1531.4 524.2v5.65h7.17zM1344.8 529.9v5.65h7.17zM1387.9 529.9v5.65h7.17zM1459.6 529.9v5.65h7.17zM1531.4 529.9v5.65h7.17zM1301.8 535.5v5.65h7.17zM1337.7 535.5v5.65h7.17zM1531.4 535.5v5.65h7.17zM1445.3 541.2v5.65h7.17zM1459.6 541.2v5.65h7.17zM1344.8 546.8v5.65h7.17zM1337.7 552.5v5.65h7.17zM1366.4 552.5v5.65h7.17zM1502.7 552.5v5.65h7.17zM1337.7 558.1v5.65h7.17zM1380.7 558.1v5.65h7.17zM1409.4 558.1v5.65h7.17zM1445.3 558.1v5.65h7.17zM1531.4 558.1v5.65h7.17zM1344.8 563.8v5.65h7.17zM1459.6 563.8v5.65h7.17zM1344.8 569.4v5.65h7.17zM1373.5 569.4v5.65h7.17zM1445.3 569.4v5.65h7.17zM1337.7 575.1v5.65h7.17zM1344.8 575.1v5.65h7.17zM1409.4 575.1v5.65h7.17zM1459.6 575.1v5.65h7.17zM1337.7 580.7v5.65h7.17zM1309.0 586.4v5.65h7.17zM1459.6 586.4v5.65h7.17zM1337.7 597.6v5.65h7.17zM1344.8 597.6v5.65h7.17zM1309.0 631.5v5.65h7.17zM1316.1 631.5v5.65h7.17zM1352.0 631.5v5.65h7.17zM1380.7 631.5v5.65h7.17zM1387.9 631.5v5.65h7.17zM1416.6 631.5v5.65h7.17zM1423.8 631.5v5.65h7.17zM1452.5 631.5v5.65h7.17zM1459.6 631.5v5.65h7.17zM1474.0 631.5v5.65h7.17zM1481.2 631.5v5.65h7.17zM1488.3 631.5v5.65h7.17zM1373.5 637.2v5.65h7.17zM1445.3 637.2v5.65h7.17zM1502.7 637.2v5.65h7.17zM1337.7 642.8v5.65h7.17zM1387.9 642.8v5.65h7.17zM1438.1 642.8v5.65h7.17zM1445.3 642.8v5.65h7.17zM1502.7 642.8v5.65h7.17zM1531.4 642.8v5.65h7.17zM1309.0 648.5v5.65h7.17zM1380.7 648.5v5.65h7.17zM1395.1 648.5v5.65h7.17zM1409.4 648.5v5.65h7.17zM1416.6 648.5v5.65h7.17zM1431.0 648.5v5.65h7.17zM1438.1 648.5v5.65h7.17zM1445.3 648.5v5.65h7.17zM1474.0 648.5v5.65h7.17zM1517.0 648.5v5.65h7.17zM1301.8 654.1v5.65h7.17zM1316.1 654.1v5.65h7.17zM1373.5 654.1v5.65h7.17zM1380.7 654.1v5.65h7.17zM1402.2 654.1v5.65h7.17zM1459.6 654.1v5.65h7.17zM1502.7 654.1v5.65h7.17zM1344.8 659.8v5.65h7.17zM1416.6 659.8v5.65h7.17zM1459.6 659.8v5.65h7.17z" fill="#e06850"/>
<path d="M1416.6 400.0h7.17v5.65zM1330.5 411.3h7.17v5.65zM1337.7 416.9h7.17v5.65zM1359.2 416.9h7.17v5.65zM1366.4 416.9h7.17v5.65zM1395.1 416.9h7.17v5.65zM1416.6 416.9h7.17v5.65zM1431.0 416.9h7.17v5.65zM1459.6 416.9h7.17v5.65zM1466.8 416.9h7.17v5.65zM1531.4 416.9h7.17v5.65zM1466.8 422.6h7.17v5.65zM1337.7 428.2h7.17v5.65zM1459.6 428.2h7.17v5.65zM1466.8 428.2h7.17v5.65zM1459.6 445.2h7.17v5.65zM1531.4 462.1h7.17v5.65zM1309.0 467.8h7.17v5.65zM1337.7 467.8h7.17v5.65zM1337.7 473.4h7.17v5.65zM1344.8 473.4h7.17v5.65zM1373.5 473.4h7.17v5.65zM1459.6 473.4h7.17v5.65zM1466.8 479.1h7.17v5.65zM1337.7 484.7h7.17v5.65zM1344.8 484.7h7.17v5.65zM1366.4 484.7h7.17v5.65zM1373.5 484.7h7.17v5.65zM1387.9 484.7h7.17v5.65zM1409.4 484.7h7.17v5.65zM1445.3 484.7h7.17v5.65zM1466.8 484.7h7.17v5.65zM1488.3 484.7h7.17v5.65zM1502.7 484.7h7.17v5.65zM1531.4 484.7h7.17v5.65zM1409.4 490.4h7.17v5.65zM1431.0 490.4h7.17v5.65zM1445.3 490.4h7.17v5.65zM1466.8 490.4h7.17v5.65zM1517.0 490.4h7.17v5.65zM1531.4 496.0h7.17v5.65zM1337.7 501.6h7.17v5.65zM1373.5 501.6h7.17v5.65zM1459.6 501.6h7.17v5.65zM1337.7 507.3h7.17v5.65zM1344.8 518.6h7.17v5.65zM1352.0 518.6h7.17v5.65zM1531.4 518.6h7.17v5.65zM1337.7 529.9h7.17v5.65zM1445.3 552.5h7.17v5.65zM1344.8 558.1h7.17v5.65zM1459.6 558.1h7.17v5.65zM1459.6 569.4h7.17v5.65zM1330.5 625.9h7.17v5.65zM1466.8 625.9h7.17v5.65zM1495.5 625.9h7.17v5.65zM1337.7 631.5h7.17v5.65zM1344.8 631.5h7.17v5.65zM1366.4 631.5h7.17v5.65zM1373.5 631.5h7.17v5.65zM1445.3 631.5h7.17v5.65zM1466.8 631.5h7.17v5.65zM1502.7 631.5h7.17v5.65zM1459.6 642.8h7.17v5.65zM1337.7 648.5h7.17v5.65zM1344.8 648.5h7.17v5.65zM1466.8 648.5h7.17v5.65zM1337.7 654.1h7.17v5.65zM1531.4 654.1h7.17v5.65zM1466.8 659.8h7.17v5.65z" fill="#7dab93"/>
<path d="M1330.5 405.6v5.65h7.17zM1316.1 411.3v5.65h7.17zM1387.9 411.3v5.65h7.17zM1402.2 411.3v5.65h7.17zM1459.6 411.3v5.65h7.17zM1474.0 411.3v5.65h7.17zM1481.2 411.3v5.65h7.17zM1509.9 411.3v5.65h7.17zM1330.5 422.6v5.65h7.17zM1509.9 428.2v5.65h7.17zM1344.8 439.5v5.65h7.17zM1423.8 439.5v5.65h7.17zM1431.0 439.5v5.65h7.17zM1474.0 439.5v5.65h7.17zM1423.8 445.2v5.65h7.17zM1509.9 445.2v5.65h7.17zM1402.2 450.8v5.65h7.17zM1495.5 450.8v5.65h7.17zM1316.1 456.5v5.65h7.17zM1387.9 456.5v5.65h7.17zM1495.5 456.5v5.65h7.17zM1395.1 462.1v5.65h7.17zM1316.1 473.4v5.65h7.17zM1330.5 479.1v5.65h7.17zM1395.1 479.1v5.65h7.17zM1474.0 479.1v5.65h7.17zM1495.5 479.1v5.65h7.17zM1509.9 479.1v5.65h7.17zM1330.5 496.0v5.65h7.17zM1524.2 501.6v5.65h7.17zM1495.5 507.3v5.65h7.17zM1309.0 512.9v5.65h7.17zM1316.1 512.9v5.65h7.17zM1344.8 512.9v5.65h7.17zM1359.2 512.9v5.65h7.17zM1423.8 512.9v5.65h7.17zM1531.4 512.9v5.65h7.17zM1387.9 524.2v5.65h7.17zM1395.1 524.2v5.65h7.17zM1316.1 529.9v5.65h7.17zM1359.2 529.9v5.65h7.17zM1395.1 529.9v5.65h7.17zM1423.8 529.9v5.65h7.17zM1502.7 529.9v5.65h7.17zM1509.9 529.9v5.65h7.17zM1323.3 535.5v5.65h7.17zM1359.2 535.5v5.65h7.17zM1474.0 535.5v5.65h7.17zM1359.2 541.2v5.65h7.17zM1402.2 541.2v5.65h7.17zM1423.8 541.2v5.65h7.17zM1509.9 541.2v5.65h7.17zM1316.1 546.8v5.65h7.17zM1323.3 546.8v5.65h7.17zM1330.5 546.8v5.65h7.17zM1438.1 546.8v5.65h7.17zM1495.5 546.8v5.65h7.17zM1431.0 552.5v5.65h7.17zM1474.0 552.5v5.65h7.17zM1481.2 552.5v5.65h7.17zM1316.1 558.1v5.65h7.17zM1474.0 558.1v5.65h7.17zM1330.5 563.8v5.65h7.17zM1323.3 569.4v5.65h7.17zM1330.5 569.4v5.65h7.17zM1481.2 569.4v5.65h7.17zM1330.5 575.1v5.65h7.17zM1509.9 575.1v5.65h7.17zM1330.5 580.7v5.65h7.17zM1524.2 580.7v5.65h7.17zM1323.3 586.4v5.65h7.17zM1330.5 586.4v5.65h7.17zM1452.5 586.4v5.65h7.17zM1301.8 592.0v5.65h7.17zM1316.1 592.0v5.65h7.17zM1323.3 592.0v5.65h7.17zM1330.5 592.0v5.65h7.17zM1474.0 592.0v5.65h7.17zM1495.5 592.0v5.65h7.17zM1309.0 597.6v5.65h7.17zM1316.1 597.6v5.65h7.17zM1323.3 603.3v5.65h7.17zM1337.7 603.3v5.65h7.17zM1373.5 603.3v5.65h7.17zM1402.2 603.3v5.65h7.17zM1423.8 603.3v5.65h7.17zM1445.3 603.3v5.65h7.17zM1452.5 603.3v5.65h7.17zM1330.5 608.9v5.65h7.17zM1366.4 608.9v5.65h7.17zM1423.8 608.9v5.65h7.17zM1452.5 608.9v5.65h7.17zM1309.0 614.6v5.65h7.17zM1337.7 614.6v5.65h7.17zM1344.8 614.6v5.65h7.17zM1366.4 614.6v5.65h7.17zM1402.2 614.6v5.65h7.17zM1423.8 614.6v5.65h7.17zM1474.0 614.6v5.65h7.17zM1309.0 620.2v5.65h7.17zM1387.9 620.2v5.65h7.17zM1395.1 620.2v5.65h7.17zM1402.2 620.2v5.65h7.17zM1445.3 620.2v5.65h7.17zM1474.0 620.2v5.65h7.17zM1481.2 620.2v5.65h7.17zM1509.9 620.2v5.65h7.17zM1517.0 620.2v5.65h7.17zM1309.0 625.9v5.65h7.17zM1337.7 625.9v5.65h7.17zM1352.0 625.9v5.65h7.17zM1359.2 625.9v5.65h7.17zM1373.5 625.9v5.65h7.17zM1395.1 625.9v5.65h7.17zM1402.2 625.9v5.65h7.17zM1431.0 637.2v5.65h7.17zM1474.0 637.2v5.65h7.17zM1474.0 659.8v5.65h7.17zM1502.7 659.8v5.65h7.17z" fill="#b4b4e0"/>
<path d="M1330.5 411.3v5.65h7.17zM1495.5 411.3v5.65h7.17zM1524.2 411.3v5.65h7.17zM1495.5 422.6v5.65h7.17zM1509.9 439.5v5.65h7.17zM1330.5 456.5v5.65h7.17zM1466.8 512.9v5.65h7.17zM1495.5 529.9v5.65h7.17zM1330.5 541.2v5.65h7.17zM1474.0 546.8v5.65h7.17zM1495.5 563.8v5.65h7.17zM1395.1 580.7v5.65h7.17zM1495.5 597.6v5.65h7.17zM1330.5 603.3v5.65h7.17zM1387.9 603.3v5.65h7.17zM1474.0 603.3v5.65h7.17zM1495.5 603.3v5.65h7.17zM1395.1 608.9v5.65h7.17zM1330.5 614.6v5.65h7.17zM1509.9 614.6v5.65h7.17zM1524.2 620.2v5.65h7.17zM1330.5 625.9v5.65h7.17zM1459.6 625.9v5.65h7.17zM1466.8 625.9v5.65h7.17zM1474.0 625.9v5.65h7.17zM1495.5 625.9v5.65h7.17zM1509.9 625.9v5.65h7.17z" fill="#3b4aa8"/>
<path d="M1301.8 400.0v265.4M1309.0 400.0v265.4M1316.1 400.0v265.4M1323.3 400.0v265.4M1330.5 400.0v265.4M1337.7 400.0v265.4M1344.8 400.0v265.4M1352.0 400.0v265.4M1359.2 400.0v265.4M1366.4 400.0v265.4M1373.5 400.0v265.4M1380.7 400.0v265.4M1387.9 400.0v265.4M1395.1 400.0v265.4M1402.2 400.0v265.4M1409.4 400.0v265.4M1416.6 400.0v265.4M1423.8 400.0v265.4M1431.0 400.0v265.4M1438.1 400.0v265.4M1445.3 400.0v265.4M1452.5 400.0v265.4M1459.6 400.0v265.4M1466.8 400.0v265.4M1474.0 400.0v265.4M1481.2 400.0v265.4M1488.3 400.0v265.4M1495.5 400.0v265.4M1502.7 400.0v265.4M1509.9 400.0v265.4M1517.0 400.0v265.4M1524.2 400.0v265.4M1531.4 400.0v265.4M1538.6 400.0v265.4M1301.8 400.0h236.8M1301.8 405.6h236.8M1301.8 411.3h236.8M1301.8 416.9h236.8M1301.8 422.6h236.8M1301.8 428.2h236.8M1301.8 433.9h236.8M1301.8 439.5h236.8M1301.8 445.2h236.8M1301.8 450.8h236.8M1301.8 456.5h236.8M1301.8 462.1h236.8M1301.8 467.8h236.8M1301.8 473.4h236.8M1301.8 479.1h236.8M1301.8 484.7h236.8M1301.8 490.4h236.8M1301.8 496.0h236.8M1301.8 501.6h236.8M1301.8 507.3h236.8M1301.8 512.9h236.8M1301.8 518.6h236.8M1301.8 524.2h236.8M1301.8 529.9h236.8M1301.8 535.5h236.8M1301.8 541.2h236.8M1301.8 546.8h236.8M1301.8 552.5h236.8M1301.8 558.1h236.8M1301.8 563.8h236.8M1301.8 569.4h236.8M1301.8 575.1h236.8M1301.8 580.7h236.8M1301.8 586.4h236.8M1301.8 592.0h236.8M1301.8 597.6h236.8M1301.8 603.3h236.8M1301.8 608.9h236.8M1301.8 614.6h236.8M1301.8 620.2h236.8M1301.8 625.9h236.8M1301.8 631.5h236.8M1301.8 637.2h236.8M1301.8 642.8h236.8M1301.8 648.5h236.8M1301.8 654.1h236.8M1301.8 659.8h236.8M1301.8 665.4h236.8" stroke="#d9d9d9" stroke-width="0.45" fill="none"/>
<path d="M1301.8 659.8l7.2 5.6M1301.8 654.1l14.3 11.3M1301.8 648.5l21.5 16.9M1301.8 642.8l28.7 22.6M1301.8 637.2l35.9 28.2M1301.8 631.5l43.0 33.9M1301.8 625.9l50.2 39.5M1301.8 620.2l57.4 45.2M1301.8 614.6l64.6 50.8M1301.8 608.9l71.8 56.5M1301.8 603.3l78.9 62.1M1301.8 597.6l86.1 67.8M1301.8 592.0l93.3 73.4M1301.8 586.4l100.5 79.1M1301.8 580.7l107.6 84.7M1301.8 575.1l114.8 90.4M1301.8 569.4l122.0 96.0M1301.8 563.8l129.2 101.6M1301.8 558.1l136.3 107.3M1301.8 552.5l143.5 112.9M1301.8 546.8l150.7 118.6M1301.8 541.2l157.8 124.2M1301.8 535.5l165.0 129.9M1301.8 529.9l172.2 135.5M1301.8 524.2l179.4 141.2M1301.8 518.6l186.5 146.8M1301.8 512.9l193.7 152.5M1301.8 507.3l200.9 158.1M1301.8 501.6l208.1 163.8M1301.8 496.0l215.2 169.4M1301.8 490.4l222.4 175.1M1301.8 484.7l229.6 180.7M1301.8 479.1l236.8 186.4M1301.8 473.4l236.8 186.4M1301.8 467.8l236.8 186.4M1301.8 462.1l236.8 186.4M1301.8 456.5l236.8 186.4M1301.8 450.8l236.8 186.4M1301.8 445.2l236.8 186.4M1301.8 439.5l236.8 186.4M1301.8 433.9l236.8 186.4M1301.8 428.2l236.8 186.4M1301.8 422.6l236.8 186.4M1301.8 416.9l236.8 186.4M1301.8 411.3l236.8 186.4M1301.8 405.6l236.8 186.4M1301.8 400.0l236.8 186.4M1309.0 400.0l229.6 180.7M1316.1 400.0l222.4 175.1M1323.3 400.0l215.2 169.4M1330.5 400.0l208.1 163.8M1337.7 400.0l200.9 158.1M1344.8 400.0l193.7 152.5M1352.0 400.0l186.5 146.8M1359.2 400.0l179.4 141.2M1366.4 400.0l172.2 135.5M1373.5 400.0l165.0 129.9M1380.7 400.0l157.8 124.2M1387.9 400.0l150.7 118.6M1395.1 400.0l143.5 112.9M1402.2 400.0l136.3 107.3M1409.4 400.0l129.2 101.6M1416.6 400.0l122.0 96.0M1423.8 400.0l114.8 90.4M1431.0 400.0l107.6 84.7M1438.1 400.0l100.5 79.1M1445.3 400.0l93.3 73.4M1452.5 400.0l86.1 67.8M1459.6 400.0l78.9 62.1M1466.8 400.0l71.8 56.5M1474.0 400.0l64.6 50.8M1481.2 400.0l57.4 45.2M1488.3 400.0l50.2 39.5M1495.5 400.0l43.0 33.9M1502.7 400.0l35.9 28.2M1509.9 400.0l28.7 22.6M1517.0 400.0l21.5 16.9M1524.2 400.0l14.3 11.3M1531.4 400.0l7.2 5.6" stroke="#e2e2e2" stroke-width="0.3" fill="none"/>
<path d="M1337.1 401.2h-4.50M1344.2 401.2h-4.50M1351.4 401.2h-4.50M1380.1 401.2h-4.50M1423.2 401.2h-4.50M1451.9 401.2h-4.50M1329.9 406.8h-4.50M1344.2 406.8h-4.50M1416.0 406.8h-4.50M1473.4 406.8h-4.50M1538.0 406.8h-4.50M1337.1 412.5h-4.50M1430.3 412.5h-4.50M1502.1 412.5h-4.50M1530.8 412.5h-4.50M1308.4 418.1h-4.50M1315.5 418.1h-4.50M1344.2 418.1h-4.50M1358.6 418.1h-4.50M1365.8 418.1h-4.50M1373.0 418.1h-4.50M1380.1 418.1h-4.50M1387.3 418.1h-4.50M1401.7 418.1h-4.50M1416.0 418.1h-4.50M1423.2 418.1h-4.50M1437.5 418.1h-4.50M1451.9 418.1h-4.50M1459.0 418.1h-4.50M1466.2 418.1h-4.50M1473.4 418.1h-4.50M1538.0 418.1h-4.50M1344.2 423.8h-4.50M1473.4 423.8h-4.50M1502.1 423.8h-4.50M1516.5 423.8h-4.50M1308.4 429.4h-4.50M1315.5 429.4h-4.50M1344.2 429.4h-4.50M1387.3 429.4h-4.50M1401.7 429.4h-4.50M1451.9 429.4h-4.50M1459.0 429.4h-4.50M1466.2 429.4h-4.50M1473.4 429.4h-4.50M1538.0 429.4h-4.50M1373.0 435.1h-4.50M1451.9 435.1h-4.50M1516.5 440.7h-4.50M1344.2 446.4h-4.50M1373.0 446.4h-4.50M1380.1 446.4h-4.50M1451.9 446.4h-4.50M1459.0 446.4h-4.50M1466.2 446.4h-4.50M1480.6 446.4h-4.50M1344.2 452.0h-4.50M1451.9 452.0h-4.50M1466.2 452.0h-4.50M1480.6 452.0h-4.50M1538.0 452.0h-4.50M1337.1 457.7h-4.50M1466.2 457.7h-4.50M1351.4 463.3h-4.50M1373.0 463.3h-4.50M1380.1 463.3h-4.50M1451.9 463.3h-4.50M1473.4 463.3h-4.50M1538.0 463.3h-4.50M1315.5 469.0h-4.50M1344.2 469.0h-4.50M1351.4 469.0h-4.50M1380.1 469.0h-4.50M1473.4 469.0h-4.50M1538.0 469.0h-4.50M1308.4 474.6h-4.50M1315.5 474.6h-4.50M1344.2 474.6h-4.50M1351.4 474.6h-4.50M1373.0 474.6h-4.50M1380.1 474.6h-4.50M1437.5 474.6h-4.50M1466.2 474.6h-4.50M1473.4 474.6h-4.50M1487.8 474.6h-4.50M1538.0 474.6h-4.50M1308.4 480.3h-4.50M1351.4 480.3h-4.50M1466.2 480.3h-4.50M1473.4 480.3h-4.50M1523.6 480.3h-4.50M1315.5 485.9h-4.50M1344.2 485.9h-4.50M1351.4 485.9h-4.50M1358.6 485.9h-4.50M1373.0 485.9h-4.50M1380.1 485.9h-4.50M1387.3 485.9h-4.50M1394.5 485.9h-4.50M1416.0 485.9h-4.50M1423.2 485.9h-4.50M1430.3 485.9h-4.50M1437.5 485.9h-4.50M1444.7 485.9h-4.50M1451.9 485.9h-4.50M1466.2 485.9h-4.50M1473.4 485.9h-4.50M1487.8 485.9h-4.50M1494.9 485.9h-4.50M1509.3 485.9h-4.50M1523.6 485.9h-4.50M1530.8 485.9h-4.50M1538.0 485.9h-4.50M1344.2 491.6h-4.50M1351.4 491.6h-4.50M1358.6 491.6h-4.50M1373.0 491.6h-4.50M1380.1 491.6h-4.50M1387.3 491.6h-4.50M1394.5 491.6h-4.50M1401.7 491.6h-4.50M1416.0 491.6h-4.50M1423.2 491.6h-4.50M1437.5 491.6h-4.50M1451.9 491.6h-4.50M1459.0 491.6h-4.50M1466.2 491.6h-4.50M1473.4 491.6h-4.50M1523.6 491.6h-4.50M1538.0 491.6h-4.50M1416.0 497.2h-4.50M1444.7 497.2h-4.50M1451.9 497.2h-4.50M1538.0 497.2h-4.50M1308.4 502.8h-4.50M1344.2 502.8h-4.50M1351.4 502.8h-4.50M1373.0 502.8h-4.50M1380.1 502.8h-4.50M1387.3 502.8h-4.50M1416.0 502.8h-4.50M1451.9 502.8h-4.50M1466.2 502.8h-4.50M1538.0 502.8h-4.50M1322.7 508.5h-4.50M1344.2 508.5h-4.50M1351.4 508.5h-4.50M1423.2 508.5h-4.50M1466.2 508.5h-4.50M1401.7 514.1h-4.50M1473.4 514.1h-4.50M1480.6 514.1h-4.50M1322.7 519.8h-4.50M1344.2 519.8h-4.50M1351.4 519.8h-4.50M1358.6 519.8h-4.50M1373.0 519.8h-4.50M1380.1 519.8h-4.50M1387.3 519.8h-4.50M1416.0 519.8h-4.50M1430.3 519.8h-4.50M1444.7 519.8h-4.50M1459.0 519.8h-4.50M1466.2 519.8h-4.50M1509.3 519.8h-4.50M1538.0 519.8h-4.50M1329.9 525.4h-4.50M1344.2 525.4h-4.50M1351.4 525.4h-4.50M1380.1 525.4h-4.50M1444.7 525.4h-4.50M1466.2 525.4h-4.50M1473.4 525.4h-4.50M1538.0 525.4h-4.50M1315.5 531.1h-4.50M1344.2 531.1h-4.50M1351.4 531.1h-4.50M1394.5 531.1h-4.50M1502.1 531.1h-4.50M1538.0 531.1h-4.50M1344.2 536.7h-4.50M1380.1 536.7h-4.50M1466.2 536.7h-4.50M1473.4 536.7h-4.50M1538.0 536.7h-4.50M1315.5 542.4h-4.50M1337.1 542.4h-4.50M1344.2 542.4h-4.50M1387.3 542.4h-4.50M1451.9 542.4h-4.50M1466.2 542.4h-4.50M1344.2 548.0h-4.50M1480.6 548.0h-4.50M1516.5 548.0h-4.50M1344.2 553.7h-4.50M1373.0 553.7h-4.50M1451.9 553.7h-4.50M1502.1 553.7h-4.50M1516.5 553.7h-4.50M1538.0 553.7h-4.50M1344.2 559.3h-4.50M1351.4 559.3h-4.50M1380.1 559.3h-4.50M1387.3 559.3h-4.50M1451.9 559.3h-4.50M1466.2 559.3h-4.50M1538.0 559.3h-4.50M1459.0 565.0h-4.50M1466.2 565.0h-4.50M1473.4 565.0h-4.50M1480.6 565.0h-4.50M1502.1 565.0h-4.50M1538.0 565.0h-4.50M1380.1 570.6h-4.50M1466.2 570.6h-4.50M1538.0 570.6h-4.50M1344.2 576.3h-4.50M1351.4 576.3h-4.50M1373.0 576.3h-4.50M1416.0 576.3h-4.50M1444.7 576.3h-4.50M1401.7 581.9h-4.50M1480.6 581.9h-4.50M1380.1 587.6h-4.50M1502.1 587.6h-4.50M1516.5 587.6h-4.50M1401.7 593.2h-4.50M1538.0 593.2h-4.50M1337.1 598.8h-4.50M1344.2 598.8h-4.50M1502.1 598.8h-4.50M1530.8 598.8h-4.50M1337.1 604.5h-4.50M1351.4 604.5h-4.50M1394.5 604.5h-4.50M1480.6 604.5h-4.50M1487.8 604.5h-4.50M1502.1 604.5h-4.50M1401.7 610.1h-4.50M1337.1 615.8h-4.50M1380.1 615.8h-4.50M1401.7 615.8h-4.50M1466.2 615.8h-4.50M1487.8 615.8h-4.50M1494.9 615.8h-4.50M1516.5 615.8h-4.50M1530.8 615.8h-4.50M1530.8 621.4h-4.50M1322.7 627.1h-4.50M1329.9 627.1h-4.50M1337.1 627.1h-4.50M1466.2 627.1h-4.50M1473.4 627.1h-4.50M1480.6 627.1h-4.50M1502.1 627.1h-4.50M1516.5 627.1h-4.50M1315.5 632.7h-4.50M1322.7 632.7h-4.50M1344.2 632.7h-4.50M1351.4 632.7h-4.50M1373.0 632.7h-4.50M1380.1 632.7h-4.50M1387.3 632.7h-4.50M1394.5 632.7h-4.50M1416.0 632.7h-4.50M1423.2 632.7h-4.50M1430.3 632.7h-4.50M1437.5 632.7h-4.50M1444.7 632.7h-4.50M1451.9 632.7h-4.50M1459.0 632.7h-4.50M1466.2 632.7h-4.50M1473.4 632.7h-4.50M1509.3 632.7h-4.50M1538.0 632.7h-4.50M1380.1 638.4h-4.50M1451.9 638.4h-4.50M1494.9 638.4h-4.50M1509.3 638.4h-4.50M1308.4 644.0h-4.50M1344.2 644.0h-4.50M1351.4 644.0h-4.50M1373.0 644.0h-4.50M1416.0 644.0h-4.50M1451.9 644.0h-4.50M1466.2 644.0h-4.50M1473.4 644.0h-4.50M1538.0 644.0h-4.50M1315.5 649.7h-4.50M1344.2 649.7h-4.50M1351.4 649.7h-4.50M1373.0 649.7h-4.50M1387.3 649.7h-4.50M1401.7 649.7h-4.50M1423.2 649.7h-4.50M1437.5 649.7h-4.50M1444.7 649.7h-4.50M1451.9 649.7h-4.50M1466.2 649.7h-4.50M1473.4 649.7h-4.50M1523.6 649.7h-4.50M1538.0 649.7h-4.50M1344.2 655.3h-4.50M1351.4 655.3h-4.50M1380.1 655.3h-4.50M1387.3 655.3h-4.50M1416.0 655.3h-4.50M1444.7 655.3h-4.50M1451.9 655.3h-4.50M1466.2 655.3h-4.50M1473.4 655.3h-4.50M1509.3 655.3h-4.50M1538.0 655.3h-4.50M1344.2 661.0h-4.50M1466.2 661.0h-4.50M1473.4 661.0h-4.50M1494.9 661.0h-4.50" stroke="#222" stroke-width="0.75" stroke-dasharray="0.75 0.5" fill="none"/>
<path d="M1358.6 401.2h-3.25M1387.3 401.2h-3.25M1394.5 401.2h-3.25M1466.2 401.2h-3.25M1473.4 401.2h-3.25M1494.9 401.2h-3.25M1373.0 406.8h-3.25M1380.1 406.8h-3.25M1466.2 406.8h-3.25M1329.9 412.5h-3.25M1394.5 412.5h-3.25M1480.6 412.5h-3.25M1394.5 418.1h-3.25M1408.8 418.1h-3.25M1444.7 418.1h-3.25M1509.3 418.1h-3.25M1523.6 418.1h-3.25M1530.8 418.1h-3.25M1337.1 423.8h-3.25M1358.6 423.8h-3.25M1408.8 423.8h-3.25M1430.3 423.8h-3.25M1530.8 423.8h-3.25M1351.4 429.4h-3.25M1380.1 429.4h-3.25M1516.5 429.4h-3.25M1344.2 435.1h-3.25M1380.1 435.1h-3.25M1387.3 435.1h-3.25M1401.7 435.1h-3.25M1337.1 440.7h-3.25M1480.6 440.7h-3.25M1530.8 440.7h-3.25M1523.6 446.4h-3.25M1337.1 452.0h-3.25M1344.2 457.7h-3.25M1437.5 457.7h-3.25M1473.4 457.7h-3.25M1487.8 457.7h-3.25M1337.1 463.3h-3.25M1344.2 463.3h-3.25M1480.6 463.3h-3.25M1308.4 469.0h-3.25M1358.6 469.0h-3.25M1373.0 469.0h-3.25M1416.0 469.0h-3.25M1437.5 469.0h-3.25M1494.9 469.0h-3.25M1444.7 474.6h-3.25M1451.9 474.6h-3.25M1459.0 474.6h-3.25M1329.9 480.3h-3.25M1502.1 480.3h-3.25M1365.8 485.9h-3.25M1329.9 491.6h-3.25M1444.7 491.6h-3.25M1509.3 491.6h-3.25M1344.2 497.2h-3.25M1351.4 497.2h-3.25M1380.1 497.2h-3.25M1502.1 497.2h-3.25M1423.2 502.8h-3.25M1509.3 502.8h-3.25M1502.1 514.1h-3.25M1509.3 514.1h-3.25M1315.5 519.8h-3.25M1401.7 519.8h-3.25M1451.9 519.8h-3.25M1473.4 519.8h-3.25M1487.8 519.8h-3.25M1516.5 525.4h-3.25M1337.1 531.1h-3.25M1466.2 531.1h-3.25M1509.3 531.1h-3.25M1308.4 536.7h-3.25M1351.4 548.0h-3.25M1329.9 553.7h-3.25M1337.1 553.7h-3.25M1473.4 553.7h-3.25M1509.3 553.7h-3.25M1308.4 559.3h-3.25M1315.5 559.3h-3.25M1337.1 559.3h-3.25M1416.0 559.3h-3.25M1502.1 559.3h-3.25M1344.2 565.0h-3.25M1351.4 565.0h-3.25M1516.5 565.0h-3.25M1530.8 565.0h-3.25M1329.9 570.6h-3.25M1351.4 570.6h-3.25M1387.3 570.6h-3.25M1451.9 570.6h-3.25M1480.6 570.6h-3.25M1466.2 576.3h-3.25M1516.5 576.3h-3.25M1344.2 581.9h-3.25M1451.9 581.9h-3.25M1502.1 581.9h-3.25M1315.5 587.6h-3.25M1344.2 587.6h-3.25M1437.5 587.6h-3.25M1466.2 587.6h-3.25M1344.2 593.2h-3.25M1351.4 598.8h-3.25M1466.2 598.8h-3.25M1516.5 604.5h-3.25M1516.5 610.1h-3.25M1322.7 615.8h-3.25M1358.6 615.8h-3.25M1451.9 615.8h-3.25M1502.1 615.8h-3.25M1337.1 621.4h-3.25M1394.5 621.4h-3.25M1451.9 621.4h-3.25M1401.7 627.1h-3.25M1430.3 627.1h-3.25M1459.0 627.1h-3.25M1530.8 627.1h-3.25M1358.6 632.7h-3.25M1480.6 632.7h-3.25M1487.8 632.7h-3.25M1494.9 632.7h-3.25M1466.2 638.4h-3.25M1502.1 638.4h-3.25M1387.3 644.0h-3.25M1394.5 644.0h-3.25M1423.2 644.0h-3.25M1444.7 644.0h-3.25M1509.3 644.0h-3.25M1308.4 649.7h-3.25M1394.5 649.7h-3.25M1416.0 649.7h-3.25M1480.6 649.7h-3.25M1509.3 649.7h-3.25M1308.4 655.3h-3.25M1322.7 655.3h-3.25M1358.6 655.3h-3.25M1408.8 655.3h-3.25M1351.4 661.0h-3.25M1416.0 661.0h-3.25M1423.2 661.0h-3.25M1538.0 661.0h-3.25" stroke="#222" stroke-width="0.75" stroke-dasharray="0.75 0.5" fill="none"/>
<path d="M1487.8 401.2h-0.75M1387.3 406.8h-0.75M1509.3 406.8h-0.75M1408.8 412.5h-0.75M1437.5 412.5h-0.75M1466.2 412.5h-0.75M1487.8 412.5h-0.75M1430.3 418.1h-0.75M1365.8 423.8h-0.75M1380.1 423.8h-0.75M1416.0 423.8h-0.75M1538.0 423.8h-0.75M1358.6 435.1h-0.75M1437.5 435.1h-0.75M1480.6 435.1h-0.75M1509.3 435.1h-0.75M1538.0 435.1h-0.75M1437.5 440.7h-0.75M1538.0 440.7h-0.75M1394.5 446.4h-0.75M1509.3 446.4h-0.75M1351.4 452.0h-0.75M1509.3 452.0h-0.75M1308.4 457.7h-0.75M1322.7 457.7h-0.75M1373.0 457.7h-0.75M1394.5 457.7h-0.75M1401.7 457.7h-0.75M1451.9 457.7h-0.75M1459.0 457.7h-0.75M1502.1 457.7h-0.75M1387.3 463.3h-0.75M1401.7 463.3h-0.75M1444.7 463.3h-0.75M1466.2 463.3h-0.75M1365.8 469.0h-0.75M1401.7 469.0h-0.75M1451.9 469.0h-0.75M1365.8 474.6h-0.75M1387.3 474.6h-0.75M1394.5 474.6h-0.75M1523.6 474.6h-0.75M1380.1 480.3h-0.75M1401.7 480.3h-0.75M1437.5 480.3h-0.75M1451.9 480.3h-0.75M1480.6 480.3h-0.75M1516.5 480.3h-0.75M1459.0 485.9h-0.75M1480.6 485.9h-0.75M1502.1 485.9h-0.75M1365.8 491.6h-0.75M1337.1 497.2h-0.75M1373.0 497.2h-0.75M1473.4 497.2h-0.75M1358.6 502.8h-0.75M1437.5 502.8h-0.75M1380.1 508.5h-0.75M1416.0 508.5h-0.75M1502.1 508.5h-0.75M1538.0 508.5h-0.75M1315.5 514.1h-0.75M1416.0 514.1h-0.75M1451.9 514.1h-0.75M1538.0 514.1h-0.75M1365.8 519.8h-0.75M1423.2 519.8h-0.75M1494.9 519.8h-0.75M1315.5 525.4h-0.75M1373.0 525.4h-0.75M1394.5 525.4h-0.75M1401.7 525.4h-0.75M1416.0 525.4h-0.75M1423.2 525.4h-0.75M1509.3 525.4h-0.75M1329.9 531.1h-0.75M1365.8 531.1h-0.75M1401.7 531.1h-0.75M1408.8 531.1h-0.75M1416.0 531.1h-0.75M1337.1 536.7h-0.75M1365.8 536.7h-0.75M1401.7 536.7h-0.75M1494.9 536.7h-0.75M1365.8 542.4h-0.75M1408.8 542.4h-0.75M1430.3 542.4h-0.75M1473.4 542.4h-0.75M1444.7 548.0h-0.75M1466.2 548.0h-0.75M1473.4 548.0h-0.75M1523.6 548.0h-0.75M1466.2 553.7h-0.75M1480.6 553.7h-0.75M1523.6 553.7h-0.75M1322.7 559.3h-0.75M1423.2 559.3h-0.75M1480.6 559.3h-0.75M1423.2 565.0h-0.75M1494.9 565.0h-0.75M1344.2 570.6h-0.75M1408.8 570.6h-0.75M1487.8 570.6h-0.75M1509.3 570.6h-0.75M1308.4 576.3h-0.75M1437.5 576.3h-0.75M1315.5 581.9h-0.75M1329.9 581.9h-0.75M1380.1 581.9h-0.75M1494.9 581.9h-0.75M1530.8 581.9h-0.75M1538.0 581.9h-0.75M1308.4 587.6h-0.75M1329.9 587.6h-0.75M1387.3 587.6h-0.75M1408.8 587.6h-0.75M1459.0 587.6h-0.75M1322.7 593.2h-0.75M1329.9 593.2h-0.75M1337.1 593.2h-0.75M1387.3 593.2h-0.75M1480.6 593.2h-0.75M1494.9 593.2h-0.75M1502.1 593.2h-0.75M1516.5 593.2h-0.75M1315.5 598.8h-0.75M1322.7 598.8h-0.75M1480.6 598.8h-0.75M1516.5 598.8h-0.75M1329.9 604.5h-0.75M1344.2 604.5h-0.75M1430.3 604.5h-0.75M1451.9 604.5h-0.75M1459.0 604.5h-0.75M1329.9 610.1h-0.75M1337.1 610.1h-0.75M1430.3 610.1h-0.75M1315.5 615.8h-0.75M1365.8 615.8h-0.75M1430.3 615.8h-0.75M1480.6 615.8h-0.75M1315.5 621.4h-0.75M1401.7 621.4h-0.75M1408.8 621.4h-0.75M1480.6 621.4h-0.75M1516.5 621.4h-0.75M1365.8 627.1h-0.75M1408.8 627.1h-0.75M1329.9 638.4h-0.75M1344.2 638.4h-0.75M1351.4 638.4h-0.75M1437.5 638.4h-0.75M1523.6 638.4h-0.75M1365.8 644.0h-0.75M1380.1 644.0h-0.75M1358.6 649.7h-0.75M1373.0 655.3h-0.75M1444.7 661.0h-0.75M1509.3 661.0h-0.75M1523.6 661.0h-0.75" stroke="#222" stroke-width="0.75" stroke-dasharray="0.75 0.5" fill="none"/>
<path d="M1337.1 406.8h-2.00M1444.7 406.8h-2.00M1451.9 406.8h-2.00M1459.0 406.8h-2.00M1322.7 412.5h-2.00M1516.5 412.5h-2.00M1329.9 418.1h-2.00M1351.4 418.1h-2.00M1494.9 418.1h-2.00M1373.0 423.8h-2.00M1437.5 423.8h-2.00M1523.6 423.8h-2.00M1373.0 429.4h-2.00M1394.5 429.4h-2.00M1416.0 429.4h-2.00M1494.9 429.4h-2.00M1315.5 435.1h-2.00M1444.7 435.1h-2.00M1466.2 435.1h-2.00M1308.4 440.7h-2.00M1351.4 440.7h-2.00M1430.3 440.7h-2.00M1430.3 446.4h-2.00M1473.4 446.4h-2.00M1516.5 446.4h-2.00M1373.0 452.0h-2.00M1380.1 452.0h-2.00M1408.8 452.0h-2.00M1416.0 452.0h-2.00M1502.1 452.0h-2.00M1351.4 457.7h-2.00M1387.3 457.7h-2.00M1538.0 457.7h-2.00M1358.6 463.3h-2.00M1423.2 463.3h-2.00M1387.3 469.0h-2.00M1408.8 469.0h-2.00M1444.7 469.0h-2.00M1459.0 469.0h-2.00M1466.2 469.0h-2.00M1487.8 469.0h-2.00M1523.6 469.0h-2.00M1322.7 474.6h-2.00M1329.9 474.6h-2.00M1416.0 474.6h-2.00M1430.3 474.6h-2.00M1337.1 480.3h-2.00M1365.8 480.3h-2.00M1538.0 480.3h-2.00M1322.7 485.9h-2.00M1408.8 485.9h-2.00M1315.5 491.6h-2.00M1487.8 491.6h-2.00M1430.3 502.8h-2.00M1459.0 502.8h-2.00M1473.4 502.8h-2.00M1530.8 502.8h-2.00M1308.4 508.5h-2.00M1322.7 514.1h-2.00M1351.4 514.1h-2.00M1365.8 514.1h-2.00M1430.3 514.1h-2.00M1308.4 519.8h-2.00M1358.6 525.4h-2.00M1387.3 525.4h-2.00M1451.9 525.4h-2.00M1487.8 525.4h-2.00M1530.8 525.4h-2.00M1322.7 531.1h-2.00M1430.3 531.1h-2.00M1516.5 531.1h-2.00M1523.6 531.1h-2.00M1329.9 536.7h-2.00M1351.4 536.7h-2.00M1373.0 536.7h-2.00M1480.6 536.7h-2.00M1351.4 542.4h-2.00M1516.5 542.4h-2.00M1322.7 548.0h-2.00M1329.9 548.0h-2.00M1337.1 548.0h-2.00M1373.0 548.0h-2.00M1380.1 548.0h-2.00M1494.9 548.0h-2.00M1502.1 548.0h-2.00M1416.0 553.7h-2.00M1437.5 553.7h-2.00M1487.8 553.7h-2.00M1401.7 559.3h-2.00M1473.4 559.3h-2.00M1308.4 565.0h-2.00M1337.1 565.0h-2.00M1373.0 565.0h-2.00M1380.1 565.0h-2.00M1337.1 570.6h-2.00M1373.0 570.6h-2.00M1416.0 570.6h-2.00M1444.7 570.6h-2.00M1337.1 576.3h-2.00M1530.8 576.3h-2.00M1337.1 581.9h-2.00M1351.4 581.9h-2.00M1523.6 581.9h-2.00M1337.1 587.6h-2.00M1351.4 587.6h-2.00M1373.0 587.6h-2.00M1423.2 587.6h-2.00M1451.9 587.6h-2.00M1523.6 587.6h-2.00M1308.4 593.2h-2.00M1351.4 593.2h-2.00M1416.0 593.2h-2.00M1538.0 598.8h-2.00M1380.1 604.5h-2.00M1408.8 604.5h-2.00M1373.0 610.1h-2.00M1459.0 610.1h-2.00M1344.2 615.8h-2.00M1351.4 615.8h-2.00M1373.0 615.8h-2.00M1408.8 615.8h-2.00M1487.8 621.4h-2.00M1523.6 621.4h-2.00M1315.5 627.1h-2.00M1344.2 627.1h-2.00M1358.6 627.1h-2.00M1380.1 627.1h-2.00M1308.4 632.7h-2.00M1408.8 632.7h-2.00M1523.6 632.7h-2.00M1480.6 638.4h-2.00M1538.0 638.4h-2.00M1315.5 644.0h-2.00M1459.0 644.0h-2.00M1494.9 644.0h-2.00M1523.6 644.0h-2.00M1329.9 649.7h-2.00M1365.8 649.7h-2.00M1430.3 655.3h-2.00M1437.5 655.3h-2.00M1459.0 655.3h-2.00M1494.9 655.3h-2.00M1380.1 661.0h-2.00M1480.6 661.0h-2.00M1487.8 661.0h-2.00" stroke="#222" stroke-width="0.75" stroke-dasharray="0.75 0.5" fill="none"/>
<text x="1539.8" y="404.9" font-size="5.7">BTLA</text>
<text x="1539.8" y="410.6" font-size="5.7">CD200</text>
<text x="1539.8" y="416.2" font-size="5.7">TNFRSF14</text>
<text x="1539.8" y="421.9" font-size="5.7">NRP1</text>
<text x="1539.8" y="427.5" font-size="5.7">LAIR1</text>
<text x="1539.8" y="433.2" font-size="5.7">TNFSF4</text>
<text x="1539.8" y="438.8" font-size="5.7">CD244</text>
<text x="1539.8" y="444.5" font-size="5.7">LAG3</text>
<text x="1539.8" y="450.1" font-size="5.7">ICOS</text>
<text x="1539.8" y="455.7" font-size="5.7">CD40LG</text>
<text x="1539.8" y="461.4" font-size="5.7">CTLA4</text>
<text x="1539.8" y="467.0" font-size="5.7">CD48</text>
<text x="1539.8" y="472.7" font-size="5.7">CD28</text>
<text x="1539.8" y="478.3" font-size="5.7">CD200R1</text>
<text x="1539.8" y="484.0" font-size="5.7">HAVCR2</text>
<text x="1539.8" y="489.6" font-size="5.7">ADORA2A</text>
<text x="1539.8" y="495.3" font-size="5.7">CD276</text>
<text x="1539.8" y="500.9" font-size="5.7">KIR3DL1</text>
<text x="1539.8" y="506.6" font-size="5.7">CD80</text>
<text x="1539.8" y="512.2" font-size="5.7">PDCD1</text>
<text x="1539.8" y="517.9" font-size="5.7">LGALS9</text>
<text x="1539.8" y="523.5" font-size="5.7">CD160</text>
<text x="1539.8" y="529.2" font-size="5.7">TNFSF14</text>
<text x="1539.8" y="534.8" font-size="5.7">IDO2</text>
<text x="1539.8" y="540.5" font-size="5.7">ICOSLG</text>
<text x="1539.8" y="546.1" font-size="5.7">TMIGD2</text>
<text x="1539.8" y="551.7" font-size="5.7">VTCN1</text>
<text x="1539.8" y="557.4" font-size="5.7">IDO1</text>
<text x="1539.8" y="563.0" font-size="5.7">PDCD1LG2</text>
<text x="1539.8" y="568.7" font-size="5.7">HHLA2</text>
<text x="1539.8" y="574.3" font-size="5.7">TNFSF18</text>
<text x="1539.8" y="580.0" font-size="5.7">BTNL2</text>
<text x="1539.8" y="585.6" font-size="5.7">CD70</text>
<text x="1539.8" y="591.3" font-size="5.7">TNFSF9</text>
<text x="1539.8" y="596.9" font-size="5.7">TNFRSF8</text>
<text x="1539.8" y="602.6" font-size="5.7">CD27</text>
<text x="1539.8" y="608.2" font-size="5.7">TNFRSF25</text>
<text x="1539.8" y="613.9" font-size="5.7">VSIR</text>
<text x="1539.8" y="619.5" font-size="5.7">TNFRSF4</text>
<text x="1539.8" y="625.2" font-size="5.7">CD40</text>
<text x="1539.8" y="630.8" font-size="5.7">TNFRSF18</text>
<text x="1539.8" y="636.5" font-size="5.7">TNFSF15</text>
<text x="1539.8" y="642.1" font-size="5.7">TIGIT</text>
<text x="1539.8" y="647.7" font-size="5.7">CD274</text>
<text x="1539.8" y="653.4" font-size="5.7">CD86</text>
<text x="1539.8" y="659.0" font-size="5.7">CD44</text>
<text x="1539.8" y="664.7" font-size="5.7">TNFRSF9</text>
<text x="1307.4" y="667.6" font-size="5.6" text-anchor="end" transform="rotate(-90 1307.4 667.6)">ACC</text>
<text x="1314.6" y="667.6" font-size="5.6" text-anchor="end" transform="rotate(-90 1314.6 667.6)">BLCA</text>
<text x="1321.7" y="667.6" font-size="5.6" text-anchor="end" transform="rotate(-90 1321.7 667.6)">BRCA</text>
<text x="1328.9" y="667.6" font-size="5.6" text-anchor="end" transform="rotate(-90 1328.9 667.6)">CESC</text>
<text x="1336.1" y="667.6" font-size="5.6" text-anchor="end" transform="rotate(-90 1336.1 667.6)">CHOL</text>
<text x="1343.3" y="667.6" font-size="5.6" text-anchor="end" transform="rotate(-90 1343.3 667.6)">COAD</text>
<text x="1350.4" y="667.6" font-size="5.6" text-anchor="end" transform="rotate(-90 1350.4 667.6)">DLBC</text>
<text x="1357.6" y="667.6" font-size="5.6" text-anchor="end" transform="rotate(-90 1357.6 667.6)">ESCA</text>
<text x="1364.8" y="667.6" font-size="5.6" text-anchor="end" transform="rotate(-90 1364.8 667.6)">GBM</text>
<text x="1372.0" y="667.6" font-size="5.6" text-anchor="end" transform="rotate(-90 1372.0 667.6)">HNSC</text>
<text x="1379.1" y="667.6" font-size="5.6" text-anchor="end" transform="rotate(-90 1379.1 667.6)">KICH</text>
<text x="1386.3" y="667.6" font-size="5.6" text-anchor="end" transform="rotate(-90 1386.3 667.6)">KIRC</text>
<text x="1393.5" y="667.6" font-size="5.6" text-anchor="end" transform="rotate(-90 1393.5 667.6)">KIRP</text>
<text x="1400.7" y="667.6" font-size="5.6" text-anchor="end" transform="rotate(-90 1400.7 667.6)">LAML</text>
<text x="1407.8" y="667.6" font-size="5.6" text-anchor="end" transform="rotate(-90 1407.8 667.6)">LGG</text>
<text x="1415.0" y="667.6" font-size="5.6" text-anchor="end" transform="rotate(-90 1415.0 667.6)">LIHC</text>
<text x="1422.2" y="667.6" font-size="5.6" text-anchor="end" transform="rotate(-90 1422.2 667.6)">LUAD</text>
<text x="1429.4" y="667.6" font-size="5.6" text-anchor="end" transform="rotate(-90 1429.4 667.6)">LUSC</text>
<text x="1436.5" y="667.6" font-size="5.6" text-anchor="end" transform="rotate(-90 1436.5 667.6)">MESO</text>
<text x="1443.7" y="667.6" font-size="5.6" text-anchor="end" transform="rotate(-90 1443.7 667.6)">OV</text>
<text x="1450.9" y="667.6" font-size="5.6" text-anchor="end" transform="rotate(-90 1450.9 667.6)">PAAD</text>
<text x="1458.1" y="667.6" font-size="5.6" text-anchor="end" transform="rotate(-90 1458.1 667.6)">PCPG</text>
<text x="1465.2" y="667.6" font-size="5.6" text-anchor="end" transform="rotate(-90 1465.2 667.6)">PRAD</text>
<text x="1472.4" y="667.6" font-size="5.6" text-anchor="end" transform="rotate(-90 1472.4 667.6)">READ</text>
<text x="1479.6" y="667.6" font-size="5.6" text-anchor="end" transform="rotate(-90 1479.6 667.6)">SARC</text>
<text x="1486.8" y="667.6" font-size="5.6" text-anchor="end" transform="rotate(-90 1486.8 667.6)">SKCM</text>
<text x="1493.9" y="667.6" font-size="5.6" text-anchor="end" transform="rotate(-90 1493.9 667.6)">STAD</text>
<text x="1501.1" y="667.6" font-size="5.6" text-anchor="end" transform="rotate(-90 1501.1 667.6)">TGCT</text>
<text x="1508.3" y="667.6" font-size="5.6" text-anchor="end" transform="rotate(-90 1508.3 667.6)">THCA</text>
<text x="1515.5" y="667.6" font-size="5.6" text-anchor="end" transform="rotate(-90 1515.5 667.6)">THYM</text>
<text x="1522.6" y="667.6" font-size="5.6" text-anchor="end" transform="rotate(-90 1522.6 667.6)">UCEC</text>
<text x="1529.8" y="667.6" font-size="5.6" text-anchor="end" transform="rotate(-90 1529.8 667.6)">UCS</text>
<text x="1537.0" y="667.6" font-size="5.6" text-anchor="end" transform="rotate(-90 1537.0 667.6)">UVM</text>
<text x="1368.0" y="692.3" font-size="4.6" font-weight="bold">Pearson's rho</text>
<rect x="1368" y="694.5" width="68.4" height="5" fill="url(#rhog)"/>
<text x="1368.5" y="705.6" font-size="4.3" text-anchor="middle" fill="#333">−0.36</text>
<text x="1385.0" y="705.6" font-size="4.3" text-anchor="middle" fill="#333">−0.18</text>
<text x="1402.0" y="705.6" font-size="4.3" text-anchor="middle" fill="#333">0</text>
<text x="1419.0" y="705.6" font-size="4.3" text-anchor="middle" fill="#333">0.18</text>
<text x="1434.0" y="705.6" font-size="4.3" text-anchor="middle" fill="#333">0.36</text>
<text x="1442.0" y="692.3" font-size="4.6" font-weight="bold">−log10(p value)</text>
<rect x="1441.8" y="694.5" width="64.2" height="5" fill="url(#pvg)"/>
<text x="1442.0" y="705.6" font-size="4.3" text-anchor="middle" fill="#333">5</text>
<text x="1457.5" y="705.6" font-size="4.3" text-anchor="middle" fill="#333">6.35</text>
<text x="1474.0" y="705.6" font-size="4.3" text-anchor="middle" fill="#333">7.69</text>
<text x="1490.0" y="705.6" font-size="4.3" text-anchor="middle" fill="#333">9.04</text>
<text x="1506.0" y="705.6" font-size="4.3" text-anchor="middle" fill="#333">10.39</text>
</g>
<g id="p_radar">
<text x="1682.4" y="413.8" font-size="10.8" text-anchor="middle" font-weight="bold">TMB</text>
<circle cx="1676.0" cy="480.2" r="53.4" fill="#f7f7f5" stroke="#b5b5b5" stroke-width="0.5" stroke-dasharray="2 1"/>
<path d="M1676.0 475.0L1676.0 426.8M1677.0 475.1L1686.4 427.8M1678.0 475.4L1696.4 430.9M1678.9 475.9L1705.7 435.8M1679.7 476.5L1713.8 442.4M1680.3 477.3L1720.4 450.5M1680.8 478.2L1725.3 459.8M1681.1 479.2L1728.4 469.8M1681.2 480.2L1729.4 480.2M1681.1 481.2L1728.4 490.6M1680.8 482.2L1725.3 500.6M1680.3 483.1L1720.4 509.9M1679.7 483.9L1713.8 518.0M1678.9 484.5L1705.7 524.6M1678.0 485.0L1696.4 529.5M1677.0 485.3L1686.4 532.6M1676.0 485.4L1676.0 533.6M1675.0 485.3L1665.6 532.6M1674.0 485.0L1655.6 529.5M1673.1 484.5L1646.3 524.6M1672.3 483.9L1638.2 518.0M1671.7 483.1L1631.6 509.9M1671.2 482.2L1626.7 500.6M1670.9 481.2L1623.6 490.6M1670.8 480.2L1622.6 480.2M1670.9 479.2L1623.6 469.8M1671.2 478.2L1626.7 459.8M1671.7 477.3L1631.6 450.5M1672.3 476.5L1638.2 442.4M1673.1 475.9L1646.3 435.8M1674.0 475.4L1655.6 430.9M1675.0 475.1L1665.6 427.8" stroke="#c9c9c9" stroke-width="0.4" fill="none"/>
<circle cx="1676.0" cy="480.2" r="28.8" fill="none" stroke="#7fa3a8" stroke-width="0.6" stroke-dasharray="1.6 1.2"/>
<circle cx="1676.0" cy="480.2" r="5.2" fill="#fbfbfa" stroke="#dddddd" stroke-width="0.4"/>
<polyline points="1676.0,448.2 1680.7,456.8 1685.3,457.7 1690.9,457.9 1703.6,452.6 1696.5,466.5 1699.1,470.6 1709.9,473.4 1704.2,480.2 1706.5,486.3 1698.6,489.6 1691.8,490.8 1714.4,518.6 1696.7,511.2 1683.2,497.6 1684.3,521.9 1676.0,513.7 1669.5,513.0 1663.5,510.3 1659.4,505.1 1656.3,499.9 1652.8,495.7 1651.2,490.5 1637.4,487.9 1638.3,480.2 1632.5,471.5 1647.9,468.6 1667.7,474.6 1643.7,447.9 1653.5,446.5 1669.4,464.2 1673.1,465.7 1676.0,448.2" fill="none" stroke="#3b6cb0" stroke-width="1.15"/>
<path d="M1676.0 448.2h.01M1680.7 456.8h.01M1685.3 457.7h.01M1690.9 457.9h.01M1703.6 452.6h.01M1696.5 466.5h.01M1699.1 470.6h.01M1709.9 473.4h.01M1704.2 480.2h.01M1706.5 486.3h.01M1698.6 489.6h.01M1691.8 490.8h.01M1714.4 518.6h.01M1696.7 511.2h.01M1683.2 497.6h.01M1684.3 521.9h.01M1676.0 513.7h.01M1669.5 513.0h.01M1663.5 510.3h.01M1659.4 505.1h.01M1656.3 499.9h.01M1652.8 495.7h.01M1651.2 490.5h.01M1637.4 487.9h.01M1638.3 480.2h.01M1632.5 471.5h.01M1647.9 468.6h.01M1667.7 474.6h.01M1643.7 447.9h.01M1653.5 446.5h.01M1669.4 464.2h.01M1673.1 465.7h.01" stroke="#3b6cb0" stroke-width="3.6" stroke-linecap="round" fill="none"/>
<text x="1676.0" y="419.5" font-size="4.1" text-anchor="middle" fill="#111">BLCA,P=0.6</text>
<text x="1688.1" y="420.7" font-size="4.1" fill="#111">BRCA,P=0.038</text>
<text x="1699.7" y="424.2" font-size="4.1" fill="#111">CESC,P=0.3</text>
<text x="1710.4" y="429.9" font-size="4.1" fill="#111">CHOL,P=0.85</text>
<text x="1719.8" y="437.7" font-size="4.1" fill="#111">COAD,P=0.04</text>
<text x="1727.6" y="447.1" font-size="4.1" fill="#111">DLBC,P=0.72</text>
<text x="1733.3" y="457.8" font-size="4.1" fill="#111">ESCA,P=0.46</text>
<text x="1736.8" y="469.4" font-size="4.1" fill="#111">GBM,P=0.56</text>
<text x="1738.0" y="481.5" font-size="4.1" fill="#111">HNSC,P=0.66</text>
<text x="1736.8" y="493.6" font-size="4.1" fill="#111">KICH,P=0.95</text>
<text x="1733.3" y="505.2" font-size="4.1" fill="#111">KIRC,P=0.22</text>
<text x="1727.6" y="515.9" font-size="4.1" fill="#111">KIRP,P=0.029</text>
<text x="1719.8" y="525.3" font-size="4.1" fill="#111">LAML,P=0.0035</text>
<text x="1710.4" y="533.1" font-size="4.1" fill="#111">LGG,P=0.06</text>
<text x="1699.7" y="538.8" font-size="4.1" fill="#111">LIHC,P=0.014</text>
<text x="1688.1" y="542.3" font-size="4.1" fill="#111">LUAD,P=0.001</text>
<text x="1676.0" y="543.5" font-size="4.1" text-anchor="middle" fill="#111">LUSC,P=0.33</text>
<text x="1663.9" y="542.3" font-size="4.1" text-anchor="end" fill="#111">MESO,P=0.72</text>
<text x="1652.3" y="538.8" font-size="4.1" text-anchor="end" fill="#111">OV,P=0.6</text>
<text x="1641.6" y="533.1" font-size="4.1" text-anchor="end" fill="#111">PAAD,P=1</text>
<text x="1632.2" y="525.3" font-size="4.1" text-anchor="end" fill="#111">PCPG,P=0.79</text>
<text x="1624.4" y="515.9" font-size="4.1" text-anchor="end" fill="#111">PRAD,P=0.67</text>
<text x="1618.7" y="505.2" font-size="4.1" text-anchor="end" fill="#111">READ,P=0.72</text>
<text x="1615.2" y="493.6" font-size="4.1" text-anchor="end" fill="#111">SARC,P=0.086</text>
<text x="1614.0" y="481.5" font-size="4.1" text-anchor="end" fill="#111">SKCM,P=0.037</text>
<text x="1615.2" y="469.4" font-size="4.1" text-anchor="end" fill="#111">STAD,P=0.001</text>
<text x="1618.7" y="457.8" font-size="4.1" text-anchor="end" fill="#111">TGCT,P=0.9</text>
<text x="1624.4" y="447.1" font-size="4.1" text-anchor="end" fill="#111">THCA,P=6.9e-07</text>
<text x="1632.2" y="437.7" font-size="4.1" text-anchor="end" fill="#111">THYM,P=0.048</text>
<text x="1641.6" y="429.9" font-size="4.1" text-anchor="end" fill="#111">UCEC,P=0.0043</text>
<text x="1652.3" y="424.2" font-size="4.1" text-anchor="end" fill="#111">UCS,P=0.3</text>
<text x="1663.9" y="420.7" font-size="4.1" text-anchor="end" fill="#111">UVM,P=0.14</text>
<text x="1664.0" y="427.6" font-size="3.6" text-anchor="middle" fill="#333">0.28</text>
<text x="1669.0" y="452.6" font-size="3.6" text-anchor="middle" fill="#333">0</text>
<text x="1662.0" y="476.7" font-size="3.6" text-anchor="middle" fill="#333">−0.28</text>
<text x="1682.7" y="572.6" font-size="10.8" text-anchor="middle" font-weight="bold">MSI</text>
<circle cx="1677.6" cy="641.3" r="53.8" fill="#f7f7f5" stroke="#b5b5b5" stroke-width="0.5" stroke-dasharray="2 1"/>
<path d="M1677.6 636.1L1677.6 587.5M1678.6 636.2L1688.1 588.5M1679.6 636.5L1698.2 591.6M1680.5 637.0L1707.5 596.6M1681.3 637.6L1715.6 603.3M1681.9 638.4L1722.3 611.4M1682.4 639.3L1727.3 620.7M1682.7 640.3L1730.4 630.8M1682.8 641.3L1731.4 641.3M1682.7 642.3L1730.4 651.8M1682.4 643.3L1727.3 661.9M1681.9 644.2L1722.3 671.2M1681.3 645.0L1715.6 679.3M1680.5 645.6L1707.5 686.0M1679.6 646.1L1698.2 691.0M1678.6 646.4L1688.1 694.1M1677.6 646.5L1677.6 695.1M1676.6 646.4L1667.1 694.1M1675.6 646.1L1657.0 691.0M1674.7 645.6L1647.7 686.0M1673.9 645.0L1639.6 679.3M1673.3 644.2L1632.9 671.2M1672.8 643.3L1627.9 661.9M1672.5 642.3L1624.8 651.8M1672.4 641.3L1623.8 641.3M1672.5 640.3L1624.8 630.8M1672.8 639.3L1627.9 620.7M1673.3 638.4L1632.9 611.4M1673.9 637.6L1639.6 603.3M1674.7 637.0L1647.7 596.6M1675.6 636.5L1657.0 591.6M1676.6 636.2L1667.1 588.5" stroke="#c9c9c9" stroke-width="0.4" fill="none"/>
<circle cx="1677.6" cy="641.3" r="30.2" fill="none" stroke="#7fa3a8" stroke-width="0.6" stroke-dasharray="1.6 1.2"/>
<circle cx="1677.6" cy="641.3" r="5.2" fill="#fbfbfa" stroke="#dddddd" stroke-width="0.4"/>
<polyline points="1677.6,614.4 1682.6,616.3 1691.0,609.0 1699.2,609.0 1704.1,614.8 1682.4,638.1 1708.0,628.7 1710.7,634.7 1695.8,641.3 1703.3,646.4 1706.8,653.4 1699.7,656.1 1701.6,665.3 1692.9,664.2 1689.5,669.9 1683.3,669.9 1677.6,670.9 1670.0,679.5 1664.7,672.5 1660.9,666.2 1657.9,661.0 1658.5,654.1 1639.0,657.3 1644.7,647.8 1658.4,641.3 1645.5,634.9 1650.3,630.0 1659.6,629.3 1657.5,621.2 1657.3,611.0 1666.5,614.6 1671.1,608.6 1677.6,614.4" fill="none" stroke="#b8161c" stroke-width="1.15"/>
<path d="M1677.6 614.4h.01M1682.6 616.3h.01M1691.0 609.0h.01M1699.2 609.0h.01M1704.1 614.8h.01M1682.4 638.1h.01M1708.0 628.7h.01M1710.7 634.7h.01M1695.8 641.3h.01M1703.3 646.4h.01M1706.8 653.4h.01M1699.7 656.1h.01M1701.6 665.3h.01M1692.9 664.2h.01M1689.5 669.9h.01M1683.3 669.9h.01M1677.6 670.9h.01M1670.0 679.5h.01M1664.7 672.5h.01M1660.9 666.2h.01M1657.9 661.0h.01M1658.5 654.1h.01M1639.0 657.3h.01M1644.7 647.8h.01M1658.4 641.3h.01M1645.5 634.9h.01M1650.3 630.0h.01M1659.6 629.3h.01M1657.5 621.2h.01M1657.3 611.0h.01M1666.5 614.6h.01M1671.1 608.6h.01" stroke="#b8161c" stroke-width="3.6" stroke-linecap="round" fill="none"/>
<text x="1677.6" y="580.6" font-size="4.1" text-anchor="middle" fill="#111">BLCA,P=0.13</text>
<text x="1689.7" y="581.8" font-size="4.1" fill="#111">BRCA,P=3e-04</text>
<text x="1701.3" y="585.3" font-size="4.1" fill="#111">CESC,P=0.033</text>
<text x="1712.0" y="591.0" font-size="4.1" fill="#111">CHOL,P=0.2</text>
<text x="1721.4" y="598.8" font-size="4.1" fill="#111">COAD,P=0.00013</text>
<text x="1729.2" y="608.2" font-size="4.1" fill="#111">DLBC,P=2.2e-06</text>
<text x="1734.9" y="618.9" font-size="4.1" fill="#111">ESCA,P=0.39</text>
<text x="1738.4" y="630.5" font-size="4.1" fill="#111">GBM,P=0.32</text>
<text x="1739.6" y="642.6" font-size="4.1" fill="#111">HNSC,P=9.2e-05</text>
<text x="1738.4" y="654.7" font-size="4.1" fill="#111">KICH,P=0.38</text>
<text x="1734.9" y="666.3" font-size="4.1" fill="#111">KIRC,P=0.6</text>
<text x="1729.2" y="677.0" font-size="4.1" fill="#111">KIRP,P=0.11</text>
<text x="1721.4" y="686.4" font-size="4.1" fill="#111">LAML,P=0.34</text>
<text x="1712.0" y="694.2" font-size="4.1" fill="#111">LGG,P=0.17</text>
<text x="1701.3" y="699.9" font-size="4.1" fill="#111">LIHC,P=0.56</text>
<text x="1689.7" y="703.4" font-size="4.1" fill="#111">LUAD,P=0.75</text>
<text x="1677.6" y="704.6" font-size="4.1" text-anchor="middle" fill="#111">LUSC,P=0.98</text>
<text x="1665.5" y="703.4" font-size="4.1" text-anchor="end" fill="#111">MESO,P=0.038</text>
<text x="1653.9" y="699.9" font-size="4.1" text-anchor="end" fill="#111">OV,P=0.068</text>
<text x="1643.2" y="694.2" font-size="4.1" text-anchor="end" fill="#111">PAAD,P=0.82</text>
<text x="1633.8" y="686.4" font-size="4.1" text-anchor="end" fill="#111">PCPG,P=0.62</text>
<text x="1626.0" y="677.0" font-size="4.1" text-anchor="end" fill="#111">PRAD,P=0.00029</text>
<text x="1620.3" y="666.3" font-size="4.1" text-anchor="end" fill="#111">READ,P=7.3e-05</text>
<text x="1616.8" y="654.7" font-size="4.1" text-anchor="end" fill="#111">SARC,P=0.081</text>
<text x="1615.6" y="642.6" font-size="4.1" text-anchor="end" fill="#111">SKCM,P=3.5e-08</text>
<text x="1616.8" y="630.5" font-size="4.1" text-anchor="end" fill="#111">STAD,P=0.078</text>
<text x="1620.3" y="618.9" font-size="4.1" text-anchor="end" fill="#111">TGCT,P=0.95</text>
<text x="1626.0" y="608.2" font-size="4.1" text-anchor="end" fill="#111">THCA,P=1.9e-05</text>
<text x="1633.8" y="598.8" font-size="4.1" text-anchor="end" fill="#111">THYM,P=0.82</text>
<text x="1643.2" y="591.0" font-size="4.1" text-anchor="end" fill="#111">UCEC,P=2.5e-05</text>
<text x="1653.9" y="585.3" font-size="4.1" text-anchor="end" fill="#111">UCS,P=0.91</text>
<text x="1665.5" y="581.8" font-size="4.1" text-anchor="end" fill="#111">UVM,P=0.41</text>
<text x="1665.6" y="588.3" font-size="3.6" text-anchor="middle" fill="#333">0.62</text>
<text x="1670.6" y="612.3" font-size="3.6" text-anchor="middle" fill="#333">0</text>
<text x="1663.6" y="637.8" font-size="3.6" text-anchor="middle" fill="#333">−0.62</text>
</g>
<g id="p_bars">
<line x1="39.3" y1="857.2" x2="39.3" y2="942.7" stroke="#000" stroke-width="1.3"/>
<line x1="38.7" y1="942.1" x2="124.4" y2="942.1" stroke="#000" stroke-width="1.3"/>
<line x1="36.1" y1="942.1" x2="39.3" y2="942.1" stroke="#000" stroke-width="1.2"/>
<text x="34.7" y="944.3" font-size="6.4" text-anchor="end" font-weight="bold">0</text>
<line x1="36.1" y1="921.1" x2="39.3" y2="921.1" stroke="#000" stroke-width="1.2"/>
<text x="34.7" y="923.3" font-size="6.4" text-anchor="end" font-weight="bold">2</text>
<line x1="36.1" y1="900.2" x2="39.3" y2="900.2" stroke="#000" stroke-width="1.2"/>
<text x="34.7" y="902.4" font-size="6.4" text-anchor="end" font-weight="bold">4</text>
<line x1="36.1" y1="879.2" x2="39.3" y2="879.2" stroke="#000" stroke-width="1.2"/>
<text x="34.7" y="881.4" font-size="6.4" text-anchor="end" font-weight="bold">6</text>
<line x1="36.1" y1="858.3" x2="39.3" y2="858.3" stroke="#000" stroke-width="1.2"/>
<text x="34.7" y="860.5" font-size="6.4" text-anchor="end" font-weight="bold">8</text>
<line x1="50.2" y1="927.2" x2="50.2" y2="932.1" stroke="#000" stroke-width="0.8"/>
<line x1="48.0" y1="927.2" x2="52.4" y2="927.2" stroke="#000" stroke-width="0.8"/>
<rect x="45.4" y="932.1" width="9.6" height="10.0" fill="#e3b4b4" stroke="#111" stroke-width="0.8"/>
<line x1="50.2" y1="942.1" x2="50.2" y2="945.1" stroke="#000" stroke-width="1.2"/>
<text x="52.5" y="948.3" font-size="6.6" text-anchor="end" font-weight="bold" transform="rotate(-45 52.5 948.3)">H6C7</text>
<path d="M47.4 933.2h.01M50.2 928.0h.01M53.0 932.7h.01M49.7 934.8h.01" stroke="#000" stroke-width="2.8" stroke-linecap="round" fill="none"/>
<line x1="66.0" y1="907.5" x2="66.0" y2="911.9" stroke="#000" stroke-width="0.8"/>
<line x1="63.8" y1="907.5" x2="68.2" y2="907.5" stroke="#000" stroke-width="0.8"/>
<rect x="61.3" y="911.9" width="9.5" height="30.2" fill="#e0dc9c" stroke="#111" stroke-width="0.8"/>
<line x1="66.0" y1="942.1" x2="66.0" y2="945.1" stroke="#000" stroke-width="1.2"/>
<text x="68.3" y="948.3" font-size="6.6" text-anchor="end" font-weight="bold" transform="rotate(-45 68.3 948.3)">AsPC-1</text>
<text x="66.0" y="910.1" font-size="9" text-anchor="middle" stroke="#000" stroke-width="0.25">***</text>
<path d="M63.2 912.8h.01M66.0 908.6h.01M68.8 912.8h.01M67.0 914.9h.01" stroke="#000" stroke-width="2.8" stroke-linecap="round" fill="none"/>
<line x1="81.5" y1="902.8" x2="81.5" y2="907.7" stroke="#000" stroke-width="0.8"/>
<line x1="79.3" y1="902.8" x2="83.7" y2="902.8" stroke="#000" stroke-width="0.8"/>
<rect x="76.7" y="907.7" width="9.6" height="34.4" fill="#bfe2b4" stroke="#111" stroke-width="0.8"/>
<line x1="81.5" y1="942.1" x2="81.5" y2="945.1" stroke="#000" stroke-width="1.2"/>
<text x="83.8" y="948.3" font-size="6.6" text-anchor="end" font-weight="bold" transform="rotate(-45 83.8 948.3)">BxPC-3</text>
<text x="81.5" y="905.4" font-size="9" text-anchor="middle" stroke="#000" stroke-width="0.25">***</text>
<path d="M78.7 909.6h.01M81.5 904.4h.01M84.3 903.3h.01M84.0 910.7h.01" stroke="#000" stroke-width="2.8" stroke-linecap="round" fill="none"/>
<line x1="97.1" y1="879.7" x2="97.1" y2="884.5" stroke="#000" stroke-width="0.8"/>
<line x1="94.9" y1="879.7" x2="99.3" y2="879.7" stroke="#000" stroke-width="0.8"/>
<rect x="92.3" y="884.5" width="9.6" height="57.6" fill="#92acd8" stroke="#111" stroke-width="0.8"/>
<line x1="97.1" y1="942.1" x2="97.1" y2="945.1" stroke="#000" stroke-width="1.2"/>
<text x="99.4" y="948.3" font-size="6.6" text-anchor="end" font-weight="bold" transform="rotate(-45 99.4 948.3)">SW1990</text>
<text x="97.1" y="881.8" font-size="9" text-anchor="middle" stroke="#000" stroke-width="0.25">***</text>
<path d="M94.3 885.5h.01M97.1 880.3h.01M99.9 885.5h.01M97.6 886.6h.01" stroke="#000" stroke-width="2.8" stroke-linecap="round" fill="none"/>
<line x1="112.8" y1="915.4" x2="112.8" y2="920.9" stroke="#000" stroke-width="0.8"/>
<line x1="110.5" y1="915.4" x2="115.0" y2="915.4" stroke="#000" stroke-width="0.8"/>
<rect x="107.8" y="920.9" width="9.9" height="21.2" fill="#a97cc6" stroke="#111" stroke-width="0.8"/>
<line x1="112.8" y1="942.1" x2="112.8" y2="945.1" stroke="#000" stroke-width="1.2"/>
<text x="115.0" y="948.3" font-size="6.6" text-anchor="end" font-weight="bold" transform="rotate(-45 115.0 948.3)">PANC-1</text>
<text x="112.8" y="918.0" font-size="9" text-anchor="middle" stroke="#000" stroke-width="0.25">**</text>
<path d="M110.0 922.7h.01M112.8 915.9h.01M115.5 921.7h.01M111.8 924.3h.01" stroke="#000" stroke-width="2.8" stroke-linecap="round" fill="none"/>
<text x="14.4" y="901.8" font-size="6.9" text-anchor="middle" font-weight="bold" transform="rotate(-90 14.4 901.8)">USP37 mRNA</text>
<text x="23.2" y="901.8" font-size="6.9" text-anchor="middle" font-weight="bold" transform="rotate(-90 23.2 901.8)">expression (/GAPDH)</text>
<clipPath id="wc5"><rect x="162.9" y="903" width="113.9" height="19.4"/></clipPath>
<rect x="162.9" y="903.0" width="113.9" height="19.4" fill="#d9d9d9"/>
<g clip-path="url(#wc5)" filter="url(#wbs)">
<rect x="168.9" y="912.2" width="16.1" height="3.6" rx="1.8" fill="#0a0a0a" opacity="0.4"/>
<rect x="189.8" y="911.4" width="20.0" height="5.2" rx="2.6" fill="#0a0a0a" opacity="0.95"/>
<rect x="210.9" y="911.6" width="18.3" height="4.8" rx="2.4" fill="#0a0a0a" opacity="0.9"/>
<rect x="229.4" y="910.5" width="23.7" height="7.0" rx="3.5" fill="#0a0a0a" opacity="1.0"/>
<rect x="254.4" y="911.9" width="17.8" height="4.2" rx="2.1" fill="#0a0a0a" opacity="0.75"/>
</g>
<rect x="162.9" y="903.0" width="113.9" height="19.4" fill="none" stroke="#111" stroke-width="1.1"/>
<clipPath id="wc6"><rect x="162.9" y="925.5" width="113.9" height="19.5"/></clipPath>
<rect x="162.9" y="925.5" width="113.9" height="19.5" fill="#d9d9d9"/>
<g clip-path="url(#wc6)" filter="url(#wbs)">
<rect x="167.8" y="931.3" width="20.0" height="7.0" rx="3.5" fill="#0a0a0a" opacity="1"/>
<rect x="189.8" y="931.3" width="20.0" height="7.0" rx="3.5" fill="#0a0a0a" opacity="1"/>
<rect x="210.1" y="931.3" width="20.0" height="7.0" rx="3.5" fill="#0a0a0a" opacity="1"/>
<rect x="231.3" y="931.3" width="20.0" height="7.0" rx="3.5" fill="#0a0a0a" opacity="1"/>
<rect x="252.4" y="931.3" width="20.0" height="7.0" rx="3.5" fill="#0a0a0a" opacity="1"/>
</g>
<rect x="162.9" y="925.5" width="113.9" height="19.5" fill="none" stroke="#111" stroke-width="1.1"/>
<text x="178.4" y="899.8" font-size="7.2" font-weight="bold" transform="rotate(-45 178.4 899.8)">H6C7</text>
<text x="195.3" y="902.3" font-size="7.2" font-weight="bold" transform="rotate(-45 195.3 902.3)">AsPC-1</text>
<text x="219.0" y="901.8" font-size="7.2" font-weight="bold" transform="rotate(-45 219.0 901.8)">BxPC-3</text>
<text x="243.6" y="899.8" font-size="7.2" font-weight="bold" transform="rotate(-45 243.6 899.8)">SW1990</text>
<text x="265.6" y="900.6" font-size="7.2" font-weight="bold" transform="rotate(-45 265.6 900.6)">PANC-1</text>
<text x="279.0" y="899.8" font-size="7.2" font-weight="bold">kDa</text>
<text x="277.6" y="916.7" font-size="7.4" font-weight="bold">-110</text>
<text x="277.6" y="937.6" font-size="7.4" font-weight="bold">-55</text>
<text x="160.6" y="916.4" font-size="7.6" text-anchor="end" font-weight="bold">USP37</text>
<text x="160.6" y="938.0" font-size="7.6" text-anchor="end" font-weight="bold">Tubulin</text>
<line x1="366.7" y1="860.6" x2="366.7" y2="945.8" stroke="#000" stroke-width="1.3"/>
<line x1="366.1" y1="945.2" x2="422.7" y2="945.2" stroke="#000" stroke-width="1.3"/>
<line x1="363.5" y1="945.2" x2="366.7" y2="945.2" stroke="#000" stroke-width="1.2"/>
<text x="362.1" y="947.4" font-size="6.4" text-anchor="end" font-weight="bold">0.0</text>
<line x1="363.5" y1="917.4" x2="366.7" y2="917.4" stroke="#000" stroke-width="1.2"/>
<text x="362.1" y="919.6" font-size="6.4" text-anchor="end" font-weight="bold">0.5</text>
<line x1="363.5" y1="889.5" x2="366.7" y2="889.5" stroke="#000" stroke-width="1.2"/>
<text x="362.1" y="891.7" font-size="6.4" text-anchor="end" font-weight="bold">1.0</text>
<line x1="363.5" y1="861.7" x2="366.7" y2="861.7" stroke="#000" stroke-width="1.2"/>
<text x="362.1" y="863.9" font-size="6.4" text-anchor="end" font-weight="bold">1.5</text>
<line x1="377.6" y1="877.8" x2="377.6" y2="889.5" stroke="#000" stroke-width="0.8"/>
<line x1="375.4" y1="877.8" x2="379.8" y2="877.8" stroke="#000" stroke-width="0.8"/>
<rect x="372.1" y="889.5" width="11.0" height="55.7" fill="#ddb0b2" stroke="#111" stroke-width="0.8"/>
<line x1="377.6" y1="945.2" x2="377.6" y2="948.2" stroke="#000" stroke-width="1.2"/>
<text x="379.9" y="951.4" font-size="6.6" text-anchor="end" font-weight="bold" transform="rotate(-45 379.9 951.4)">shNC</text>
<path d="M377.6 874.5h.01M377.6 890.1h.01M377.6 894.8h.01M377.6 900.7h.01" stroke="#000" stroke-width="2.8" stroke-linecap="round" fill="none"/>
<line x1="394.5" y1="930.2" x2="394.5" y2="934.2" stroke="#000" stroke-width="0.8"/>
<line x1="392.3" y1="930.2" x2="396.7" y2="930.2" stroke="#000" stroke-width="0.8"/>
<rect x="389.3" y="934.2" width="10.4" height="11.0" fill="#e0dc9c" stroke="#111" stroke-width="0.8"/>
<line x1="394.5" y1="945.2" x2="394.5" y2="948.2" stroke="#000" stroke-width="1.2"/>
<text x="396.8" y="951.4" font-size="6.6" text-anchor="end" font-weight="bold" transform="rotate(-45 396.8 951.4)">shUSP37#1</text>
<text x="394.5" y="933.2" font-size="9" text-anchor="middle" stroke="#000" stroke-width="0.25">***</text>
<path d="M391.3 935.7h.01M394.5 931.8h.01M397.7 934.6h.01M393.5 934.1h.01" stroke="#000" stroke-width="2.8" stroke-linecap="round" fill="none"/>
<line x1="411.0" y1="932.7" x2="411.0" y2="934.6" stroke="#000" stroke-width="0.8"/>
<line x1="408.8" y1="932.7" x2="413.2" y2="932.7" stroke="#000" stroke-width="0.8"/>
<rect x="405.8" y="934.6" width="10.3" height="10.6" fill="#bfe2b4" stroke="#111" stroke-width="0.8"/>
<line x1="411.0" y1="945.2" x2="411.0" y2="948.2" stroke="#000" stroke-width="1.2"/>
<text x="413.3" y="951.4" font-size="6.6" text-anchor="end" font-weight="bold" transform="rotate(-45 413.3 951.4)">shUSP37#2</text>
<text x="411.0" y="933.8" font-size="9" text-anchor="middle" stroke="#000" stroke-width="0.25">***</text>
<path d="M407.8 934.9h.01M410.0 933.5h.01M412.2 934.6h.01M414.2 934.3h.01" stroke="#000" stroke-width="2.8" stroke-linecap="round" fill="none"/>
<text x="394.1" y="857.7" font-size="7.7" text-anchor="middle" font-weight="bold">SW1990</text>
<text x="335.0" y="905.3" font-size="6.7" text-anchor="middle" font-weight="bold" transform="rotate(-90 335.0 905.3)">USP37 mRNA</text>
<text x="343.8" y="905.3" font-size="6.7" text-anchor="middle" font-weight="bold" transform="rotate(-90 343.8 905.3)">expression (/GAPDH)</text>
<clipPath id="wc7"><rect x="472.6" y="902.4" width="78.9" height="18.3"/></clipPath>
<rect x="472.6" y="902.4" width="78.9" height="18.3" fill="#d9d9d9"/>
<g clip-path="url(#wc7)" filter="url(#wbs)">
<rect x="478.5" y="908.1" width="22.0" height="8.2" rx="4.1" fill="#0a0a0a" opacity="1"/>
<rect x="504.2" y="909.6" width="17.5" height="5.2" rx="2.6" fill="#0a0a0a" opacity="0.97"/>
<rect x="526.9" y="909.3" width="19.0" height="5.8" rx="2.9" fill="#0a0a0a" opacity="0.98"/>
</g>
<rect x="472.6" y="902.4" width="78.9" height="18.3" fill="none" stroke="#111" stroke-width="1.1"/>
<clipPath id="wc8"><rect x="472.6" y="924.8" width="78.9" height="19.1"/></clipPath>
<rect x="472.6" y="924.8" width="78.9" height="19.1" fill="#d9d9d9"/>
<g clip-path="url(#wc8)" filter="url(#wbs)">
<rect x="479.2" y="930.4" width="20.5" height="7.6" rx="3.8" fill="#0a0a0a" opacity="1"/>
<rect x="502.7" y="930.4" width="20.5" height="7.6" rx="3.8" fill="#0a0a0a" opacity="1"/>
<rect x="524.0" y="930.4" width="20.5" height="7.6" rx="3.8" fill="#0a0a0a" opacity="1"/>
</g>
<rect x="472.6" y="924.8" width="78.9" height="19.1" fill="none" stroke="#111" stroke-width="1.1"/>
<text x="518.4" y="863.6" font-size="7.7" text-anchor="middle" font-weight="bold">SW1990</text>
<text x="491.7" y="898.5" font-size="7.4" font-weight="bold" transform="rotate(-45 491.7 898.5)">shNC</text>
<text x="515.2" y="900.7" font-size="7.4" font-weight="bold" transform="rotate(-45 515.2 900.7)">shUSP37#1</text>
<text x="540.1" y="900.7" font-size="7.4" font-weight="bold" transform="rotate(-45 540.1 900.7)">shUSP37#2</text>
<text x="557.7" y="901.6" font-size="7.4" font-weight="bold">kDa</text>
<text x="553.3" y="914.4" font-size="7.6" font-weight="bold">-110</text>
<text x="553.3" y="938.0" font-size="7.6" font-weight="bold">-55</text>
<text x="471.2" y="914.8" font-size="7.8" text-anchor="end" font-weight="bold">USP37</text>
<text x="471.2" y="938.3" font-size="7.8" text-anchor="end" font-weight="bold">Tubulin</text>
</g>
<g id="p_growth">
<rect x="58.8" y="1014.5" width="192.5" height="102.7" fill="#fff" stroke="#8a8a8a" stroke-width="0.7"/>
<polygon points="58.8,1105.9 71.7,1102.5 85.6,1098.4 97.3,1091.8 110.2,1083.4 123.0,1074.9 135.8,1066.7 148.7,1058.2 161.5,1050.1 174.3,1042.4 187.2,1035.1 200.0,1026.1 212.8,1025.0 225.2,1021.4 238.1,1027.8 251.3,1031.7 251.3,1043.6 238.1,1043.2 225.2,1040.6 212.8,1044.7 200.0,1045.8 187.2,1052.2 174.3,1056.9 161.5,1062.0 148.7,1067.6 135.8,1073.6 123.0,1080.0 110.2,1086.8 97.3,1094.3 85.6,1100.5 71.7,1104.2 58.8,1107.2" fill="#f6c8ae" opacity="0.75"/>
<polygon points="58.8,1102.2 64.2,1096.3 73.8,1098.8 87.7,1094.3 102.2,1090.7 117.2,1087.1 131.6,1083.0 145.9,1079.6 160.0,1077.0 174.3,1073.2 188.7,1067.0 203.2,1061.8 217.8,1058.8 232.1,1057.5 246.4,1056.0 251.3,1055.0 251.3,1071.2 246.4,1071.4 232.1,1073.8 217.8,1076.8 203.2,1080.6 188.7,1084.9 174.3,1089.4 160.0,1092.4 145.9,1095.0 131.6,1097.5 117.2,1099.9 102.2,1102.7 87.7,1104.6 73.8,1106.5 64.2,1108.2 58.8,1107.4" fill="#cbbdea" opacity="0.7"/>
<polygon points="58.8,1105.9 75.3,1104.6 91.3,1102.5 107.4,1099.9 123.4,1097.1 139.5,1094.1 155.5,1091.3 171.6,1088.3 187.6,1084.3 203.2,1080.0 219.3,1076.4 235.3,1074.0 251.3,1071.7 251.3,1075.9 235.3,1078.3 219.3,1080.6 203.2,1083.4 187.6,1086.4 171.6,1090.1 155.5,1093.0 139.5,1095.8 123.4,1098.4 107.4,1101.2 91.3,1103.7 75.3,1105.9 58.8,1107.2" fill="#9fc8f5" opacity="0.8"/>
<polyline points="58.8,1106.5 71.7,1103.3 85.6,1099.5 97.3,1093.0 110.2,1085.1 123.0,1077.4 135.8,1070.2 148.7,1062.9 161.5,1056.0 174.3,1049.6 187.2,1043.6 200.0,1035.9 212.8,1034.9 225.2,1031.0 238.1,1035.5 251.3,1037.6" fill="none" stroke="#e8703a" stroke-width="0.6"/>
<polyline points="58.8,1104.8 64.2,1102.2 73.8,1102.7 87.7,1099.5 102.2,1096.7 117.2,1093.5 131.6,1090.3 145.9,1087.3 160.0,1084.7 174.3,1081.3 188.7,1075.9 203.2,1071.2 217.8,1067.8 232.1,1065.7 246.4,1063.7 251.3,1063.1" fill="none" stroke="#6f58c0" stroke-width="0.6"/>
<polyline points="58.8,1106.5 75.3,1105.2 91.3,1103.1 107.4,1100.5 123.4,1097.8 139.5,1095.0 155.5,1092.2 171.6,1089.2 187.6,1085.3 203.2,1081.7 219.3,1078.5 235.3,1076.1 251.3,1073.8" fill="none" stroke="#3f8de8" stroke-width="0.6"/>
<path d="M71.7 1103.3h.01M85.6 1099.5h.01M97.3 1093.0h.01M110.2 1085.1h.01M123.0 1077.4h.01M135.8 1070.2h.01M148.7 1062.9h.01M161.5 1056.0h.01M174.3 1049.6h.01M187.2 1043.6h.01M200.0 1035.9h.01M212.8 1034.9h.01M225.2 1031.0h.01M238.1 1035.5h.01M251.3 1037.6h.01" stroke="#e0561e" stroke-width="1.6" stroke-linecap="round" fill="none"/>
<path d="M72.5 1101.4l2.6 2.6M72.5 1104.0l2.6 -2.6M86.4 1098.2l2.6 2.6M86.4 1100.8l2.6 -2.6M100.9 1095.4l2.6 2.6M100.9 1098.0l2.6 -2.6M115.9 1092.2l2.6 2.6M115.9 1094.8l2.6 -2.6M130.3 1089.0l2.6 2.6M130.3 1091.6l2.6 -2.6M144.6 1086.0l2.6 2.6M144.6 1088.6l2.6 -2.6M158.7 1083.4l2.6 2.6M158.7 1086.0l2.6 -2.6M173.0 1080.0l2.6 2.6M173.0 1082.6l2.6 -2.6M187.4 1074.6l2.6 2.6M187.4 1077.2l2.6 -2.6M201.9 1069.9l2.6 2.6M201.9 1072.5l2.6 -2.6M216.5 1066.5l2.6 2.6M216.5 1069.1l2.6 -2.6M230.8 1064.4l2.6 2.6M230.8 1067.0l2.6 -2.6M245.1 1062.4l2.6 2.6M245.1 1065.0l2.6 -2.6" stroke="#4e3ab0" stroke-width="0.6" fill="none"/>
<rect x="57.7" y="1105.4" width="2.2" height="2.2" fill="#3f8de8"/><rect x="74.2" y="1104.1" width="2.2" height="2.2" fill="#3f8de8"/><rect x="90.2" y="1102.0" width="2.2" height="2.2" fill="#3f8de8"/><rect x="106.3" y="1099.4" width="2.2" height="2.2" fill="#3f8de8"/><rect x="122.3" y="1096.7" width="2.2" height="2.2" fill="#3f8de8"/><rect x="138.4" y="1093.9" width="2.2" height="2.2" fill="#3f8de8"/><rect x="154.4" y="1091.1" width="2.2" height="2.2" fill="#3f8de8"/><rect x="170.5" y="1088.1" width="2.2" height="2.2" fill="#3f8de8"/><rect x="186.5" y="1084.2" width="2.2" height="2.2" fill="#3f8de8"/><rect x="202.1" y="1080.6" width="2.2" height="2.2" fill="#3f8de8"/><rect x="218.2" y="1077.4" width="2.2" height="2.2" fill="#3f8de8"/><rect x="234.2" y="1075.0" width="2.2" height="2.2" fill="#3f8de8"/><rect x="250.2" y="1072.7" width="2.2" height="2.2" fill="#3f8de8"/>
<text x="55.8" y="1118.2" font-size="3" text-anchor="end" fill="#111">-1.00</text>
<line x1="57.6" y1="1117.3" x2="58.8" y2="1117.3" stroke="#666" stroke-width="0.4"/>
<text x="55.8" y="1107.4" font-size="3" text-anchor="end" fill="#111">0.00</text>
<line x1="57.6" y1="1106.5" x2="58.8" y2="1106.5" stroke="#666" stroke-width="0.4"/>
<text x="55.8" y="1096.7" font-size="3" text-anchor="end" fill="#111">1.00</text>
<line x1="57.6" y1="1095.8" x2="58.8" y2="1095.8" stroke="#666" stroke-width="0.4"/>
<text x="55.8" y="1085.9" font-size="3" text-anchor="end" fill="#111">2.00</text>
<line x1="57.6" y1="1085.0" x2="58.8" y2="1085.0" stroke="#666" stroke-width="0.4"/>
<text x="55.8" y="1075.1" font-size="3" text-anchor="end" fill="#111">3.00</text>
<line x1="57.6" y1="1074.2" x2="58.8" y2="1074.2" stroke="#666" stroke-width="0.4"/>
<text x="55.8" y="1064.4" font-size="3" text-anchor="end" fill="#111">4.00</text>
<line x1="57.6" y1="1063.5" x2="58.8" y2="1063.5" stroke="#666" stroke-width="0.4"/>
<text x="55.8" y="1053.6" font-size="3" text-anchor="end" fill="#111">5.00</text>
<line x1="57.6" y1="1052.7" x2="58.8" y2="1052.7" stroke="#666" stroke-width="0.4"/>
<text x="55.8" y="1042.9" font-size="3" text-anchor="end" fill="#111">6.00</text>
<line x1="57.6" y1="1042.0" x2="58.8" y2="1042.0" stroke="#666" stroke-width="0.4"/>
<text x="55.8" y="1032.1" font-size="3" text-anchor="end" fill="#111">7.00</text>
<line x1="57.6" y1="1031.2" x2="58.8" y2="1031.2" stroke="#666" stroke-width="0.4"/>
<text x="55.8" y="1021.3" font-size="3" text-anchor="end" fill="#111">8.00</text>
<line x1="57.6" y1="1020.4" x2="58.8" y2="1020.4" stroke="#666" stroke-width="0.4"/>
<text x="61.0" y="1121.2" font-size="3" text-anchor="middle" fill="#111">0.0</text>
<text x="86.0" y="1121.2" font-size="3" text-anchor="middle" fill="#111">4.3</text>
<text x="113.4" y="1121.2" font-size="3" text-anchor="middle" fill="#111">8.6</text>
<text x="140.5" y="1121.2" font-size="3" text-anchor="middle" fill="#111">12.9</text>
<text x="168.3" y="1121.2" font-size="3" text-anchor="middle" fill="#111">17.2</text>
<text x="195.7" y="1121.2" font-size="3" text-anchor="middle" fill="#111">21.5</text>
<text x="223.1" y="1121.2" font-size="3" text-anchor="middle" fill="#111">25.8</text>
<text x="250.7" y="1121.2" font-size="3" text-anchor="middle" fill="#111">30.1</text>
<text x="154.4" y="1124.9" font-size="3" text-anchor="middle" fill="#111">Time (hrs)</text>
<text x="44.9" y="1068.0" font-size="3.2" text-anchor="middle" fill="#111" transform="rotate(-90 44.9 1068.0)">Cell Index</text>
<rect x="65.2" y="1019.3" width="18.2" height="7.3" fill="#f8dccb" stroke="#111" stroke-width="0.7"/>
<text x="86.2" y="1024.6" font-size="7.3" fill="#111">shNC</text>
<rect x="65.2" y="1032.7" width="18.2" height="7.3" fill="#c2b4e8" stroke="#111" stroke-width="0.7"/>
<text x="86.2" y="1038.1" font-size="7.3" fill="#111">shUSP37#1</text>
<rect x="65.2" y="1048.1" width="18.2" height="7.3" fill="#4f95ee" stroke="#111" stroke-width="0.7"/>
<text x="86.2" y="1053.5" font-size="7.3" fill="#111">shUSP37#2</text>
<polyline points="126.6,1019.7 130.1,1019.7 130.1,1036.8 126.6,1036.8" fill="none" stroke="#111" stroke-width="0.7"/>
<text x="138.0" y="1030.9" font-size="8.2" text-anchor="middle" font-weight="bold">***</text>
<polyline points="141.6,1018.4 147.0,1018.4 147.0,1052.8 141.6,1052.8" fill="none" stroke="#111" stroke-width="0.7"/>
<text x="156.1" y="1037.8" font-size="8.2" text-anchor="middle" font-weight="bold">***</text>
<rect x="63.1" y="1158.7" width="190.4" height="102.2" fill="#fff" stroke="#8a8a8a" stroke-width="0.7"/>
<polygon points="63.1,1250.5 68.4,1247.3 75.3,1242.8 88.1,1238.5 100.5,1235.7 113.4,1233.2 126.2,1228.4 138.6,1222.2 151.0,1213.9 163.6,1204.3 176.0,1197.2 188.7,1189.1 201.1,1179.3 213.9,1173.3 226.3,1170.1 239.1,1166.8 246.0,1166.8 252.0,1170.3 252.0,1176.3 246.0,1175.4 239.1,1175.4 226.3,1177.8 213.9,1181.0 201.1,1187.0 188.7,1195.9 176.0,1203.6 163.6,1210.7 151.0,1219.5 138.6,1227.0 126.2,1232.3 113.4,1236.1 100.5,1238.3 88.1,1241.1 75.3,1244.9 68.4,1249.0 63.1,1251.8" fill="#f060f0" opacity="0.55"/>
<polygon points="63.1,1250.7 77.0,1250.1 90.9,1249.2 104.8,1248.8 119.1,1248.1 133.0,1247.3 147.0,1246.2 160.9,1244.3 175.0,1241.7 188.7,1238.3 202.8,1234.4 216.7,1229.7 230.6,1224.8 244.9,1219.5 253.5,1217.1 253.5,1220.1 244.9,1222.5 230.6,1227.4 216.7,1232.3 202.8,1236.6 188.7,1240.4 175.0,1243.4 160.9,1246.0 147.0,1247.5 133.0,1248.6 119.1,1249.0 104.8,1249.6 90.9,1250.1 77.0,1250.9 63.1,1251.6" fill="#7a68d0" opacity="0.6"/>
<polyline points="63.1,1251.1 68.4,1248.1 75.3,1243.9 88.1,1239.8 100.5,1237.0 113.4,1234.7 126.2,1230.4 138.6,1224.6 151.0,1216.7 163.6,1207.5 176.0,1200.4 188.7,1192.5 201.1,1183.1 213.9,1177.1 226.3,1173.9 239.1,1171.1 246.0,1171.1 252.0,1173.3" fill="none" stroke="#e41ee4" stroke-width="0.9"/>
<polyline points="63.1,1251.1 77.0,1250.5 90.9,1249.6 104.8,1249.2 119.1,1248.6 133.0,1247.9 147.0,1246.8 160.9,1245.1 175.0,1242.6 188.7,1239.4 202.8,1235.5 216.7,1231.0 230.6,1226.1 244.9,1221.0 253.5,1218.6" fill="none" stroke="#4f3fc0" stroke-width="0.8"/>
<path d="M63.1 1251.1h.01M75.3 1243.9h.01M88.1 1239.8h.01M100.5 1237.0h.01M113.4 1234.7h.01M126.2 1230.4h.01M138.6 1224.6h.01M151.0 1216.7h.01M163.6 1207.5h.01M176.0 1200.4h.01M188.7 1192.5h.01M201.1 1183.1h.01M213.9 1177.1h.01M226.3 1173.9h.01M239.1 1171.1h.01M252.0 1173.3h.01" stroke="#e020e0" stroke-width="3.4" stroke-linecap="round" fill="none"/>
<path d="M61.2 1249.2l3.8 3.8M61.2 1253.0l3.8 -3.8M75.1 1248.6l3.8 3.8M75.1 1252.4l3.8 -3.8M89.0 1247.7l3.8 3.8M89.0 1251.5l3.8 -3.8M102.9 1247.3l3.8 3.8M102.9 1251.1l3.8 -3.8M117.2 1246.7l3.8 3.8M117.2 1250.5l3.8 -3.8M131.1 1246.0l3.8 3.8M131.1 1249.8l3.8 -3.8M145.1 1244.9l3.8 3.8M145.1 1248.7l3.8 -3.8M159.0 1243.2l3.8 3.8M159.0 1247.0l3.8 -3.8M173.1 1240.7l3.8 3.8M173.1 1244.5l3.8 -3.8M186.8 1237.5l3.8 3.8M186.8 1241.3l3.8 -3.8M200.9 1233.6l3.8 3.8M200.9 1237.4l3.8 -3.8M214.8 1229.1l3.8 3.8M214.8 1232.9l3.8 -3.8M228.7 1224.2l3.8 3.8M228.7 1228.0l3.8 -3.8M243.0 1219.1l3.8 3.8M243.0 1222.9l3.8 -3.8M251.6 1216.7l3.8 3.8M251.6 1220.5l3.8 -3.8" stroke="#4434b8" stroke-width="0.6" fill="none"/>
<text x="60.1" y="1261.9" font-size="3" text-anchor="end" fill="#111">-0.50</text>
<line x1="61.9" y1="1261.0" x2="63.1" y2="1261.0" stroke="#666" stroke-width="0.4"/>
<text x="60.1" y="1252.2" font-size="3" text-anchor="end" fill="#111">0.00</text>
<line x1="61.9" y1="1251.3" x2="63.1" y2="1251.3" stroke="#666" stroke-width="0.4"/>
<text x="60.1" y="1242.5" font-size="3" text-anchor="end" fill="#111">0.50</text>
<line x1="61.9" y1="1241.6" x2="63.1" y2="1241.6" stroke="#666" stroke-width="0.4"/>
<text x="60.1" y="1232.8" font-size="3" text-anchor="end" fill="#111">1.00</text>
<line x1="61.9" y1="1231.9" x2="63.1" y2="1231.9" stroke="#666" stroke-width="0.4"/>
<text x="60.1" y="1223.1" font-size="3" text-anchor="end" fill="#111">1.50</text>
<line x1="61.9" y1="1222.2" x2="63.1" y2="1222.2" stroke="#666" stroke-width="0.4"/>
<text x="60.1" y="1213.4" font-size="3" text-anchor="end" fill="#111">2.00</text>
<line x1="61.9" y1="1212.5" x2="63.1" y2="1212.5" stroke="#666" stroke-width="0.4"/>
<text x="60.1" y="1203.7" font-size="3" text-anchor="end" fill="#111">2.50</text>
<line x1="61.9" y1="1202.8" x2="63.1" y2="1202.8" stroke="#666" stroke-width="0.4"/>
<text x="60.1" y="1194.0" font-size="3" text-anchor="end" fill="#111">3.00</text>
<line x1="61.9" y1="1193.1" x2="63.1" y2="1193.1" stroke="#666" stroke-width="0.4"/>
<text x="60.1" y="1184.3" font-size="3" text-anchor="end" fill="#111">3.50</text>
<line x1="61.9" y1="1183.4" x2="63.1" y2="1183.4" stroke="#666" stroke-width="0.4"/>
<text x="60.1" y="1174.7" font-size="3" text-anchor="end" fill="#111">4.00</text>
<line x1="61.9" y1="1173.8" x2="63.1" y2="1173.8" stroke="#666" stroke-width="0.4"/>
<text x="60.1" y="1165.0" font-size="3" text-anchor="end" fill="#111">4.50</text>
<line x1="61.9" y1="1164.1" x2="63.1" y2="1164.1" stroke="#666" stroke-width="0.4"/>
<text x="65.2" y="1264.6" font-size="3" text-anchor="middle" fill="#111">0.0</text>
<text x="82.4" y="1264.6" font-size="3" text-anchor="middle" fill="#111">4.5</text>
<text x="101.0" y="1264.6" font-size="3" text-anchor="middle" fill="#111">9.1</text>
<text x="119.8" y="1264.6" font-size="3" text-anchor="middle" fill="#111">13.6</text>
<text x="139.0" y="1264.6" font-size="3" text-anchor="middle" fill="#111">18.1</text>
<text x="157.6" y="1264.6" font-size="3" text-anchor="middle" fill="#111">22.6</text>
<text x="176.5" y="1264.6" font-size="3" text-anchor="middle" fill="#111">27.2</text>
<text x="195.7" y="1264.6" font-size="3" text-anchor="middle" fill="#111">31.7</text>
<text x="214.5" y="1264.6" font-size="3" text-anchor="middle" fill="#111">36.2</text>
<text x="233.8" y="1264.6" font-size="3" text-anchor="middle" fill="#111">40.8</text>
<text x="252.8" y="1264.6" font-size="3" text-anchor="middle" fill="#111">45.3</text>
<text x="157.6" y="1268.2" font-size="3" text-anchor="middle" fill="#111">Time (hrs)</text>
<text x="49.6" y="1211.8" font-size="3.2" text-anchor="middle" fill="#111" transform="rotate(-90 49.6 1211.8)">Cell Index</text>
<rect x="70.2" y="1165.3" width="18.2" height="7.3" fill="#ec22ec" stroke="#111" stroke-width="0.7"/>
<text x="90.5" y="1170.7" font-size="7.3" fill="#111">p-USP37</text>
<rect x="70.2" y="1179.5" width="18.2" height="7.3" fill="#5a48c4" stroke="#111" stroke-width="0.7"/>
<text x="90.5" y="1184.8" font-size="7.3" fill="#111">Vector</text>
<polyline points="121.3,1167.3 125.1,1167.3 125.1,1184.4 121.3,1184.4" fill="none" stroke="#111" stroke-width="0.7"/>
<text x="136.9" y="1177.5" font-size="8.2" text-anchor="middle" font-weight="bold">***</text>
</g>
<g id="p_mouse">
<clipPath id="mc1"><rect x="326" y="1088" width="65.4" height="132.3"/></clipPath>
<rect x="326.0" y="1088.0" width="65.4" height="132.3" fill="#3b3b3b"/>
<g clip-path="url(#mc1)"><g transform="translate(326 1088) scale(0.991 0.995)">
<rect x="0" y="0" width="66" height="22.5" fill="#2a2a2a"/>
<rect x="0" y="0" width="66" height="2" fill="#444"/>
<rect x="9" y="2" width="2.2" height="19.5" fill="#4a4a4a"/>
<rect x="25.5" y="2" width="2.2" height="19.5" fill="#4a4a4a"/>
<rect x="41" y="2" width="2.2" height="19.5" fill="#4a4a4a"/>
<rect x="56" y="2" width="2.2" height="19.5" fill="#4a4a4a"/>
<g filter="url(#mblur)">
<path d="M31 97C31.5 108 30.5 118 28.5 134" stroke="#f4f4f4" stroke-width="3.1" fill="none" stroke-linecap="round"/>
<path d="M16 37L9.5 30L7 26.5M43 37L46 31L47.5 26.5" stroke="#eeeeee" stroke-width="3.3" fill="none" stroke-linecap="round" stroke-linejoin="round"/>
<path d="M23 94L17 104L12 110M40 93L48 100L57 104" stroke="#f2f2f2" stroke-width="3.6" fill="none" stroke-linecap="round" stroke-linejoin="round"/>
<path d="M27.5 5C29.5 9 33.5 17 37.5 24C38 28 36 30 30 31C24 30 19 28 19 24C22 17 25.5 9 27.5 5Z" fill="url(#mhead)"/>
<path d="M29.5 24C36 24 41.5 28 42.5 35C43 46 44 56 46.5 68C49 80 48 92 42 98C38 101.5 24 101.5 19.5 98C12.5 92 12 80 14 68C16 56 15.5 46 16 35C17 28 23 24 29.5 24Z" fill="url(#mbody)"/>
<ellipse cx="33" cy="103" rx="4.2" ry="5" fill="#dcdcdc"/>
</g></g>
<ellipse cx="365.5" cy="1170" rx="6.9" ry="8.2" fill="url(#tum)" filter="url(#mblur2)"/>
</g>
<clipPath id="mc2"><rect x="398.2" y="1088" width="61.7" height="132.3"/></clipPath>
<rect x="398.2" y="1088.0" width="61.7" height="132.3" fill="#3b3b3b"/>
<g clip-path="url(#mc2)"><g transform="translate(398.2 1088) scale(0.935 0.995)">
<rect x="0" y="0" width="66" height="22.5" fill="#2a2a2a"/>
<rect x="0" y="0" width="66" height="2" fill="#444"/>
<rect x="9" y="2" width="2.2" height="19.5" fill="#4a4a4a"/>
<rect x="25.5" y="2" width="2.2" height="19.5" fill="#4a4a4a"/>
<rect x="41" y="2" width="2.2" height="19.5" fill="#4a4a4a"/>
<rect x="56" y="2" width="2.2" height="19.5" fill="#4a4a4a"/>
<g filter="url(#mblur)">
<path d="M31 97C31.5 108 30.5 118 28.5 134" stroke="#f4f4f4" stroke-width="3.1" fill="none" stroke-linecap="round"/>
<path d="M17 37L10 36L5.5 33.5M43 36L48 32L49.5 29" stroke="#eeeeee" stroke-width="3.3" fill="none" stroke-linecap="round" stroke-linejoin="round"/>
<path d="M24 94L14 95L5 95.5M41 94L49 99L59 100" stroke="#f2f2f2" stroke-width="3.6" fill="none" stroke-linecap="round" stroke-linejoin="round"/>
<path d="M27.5 5C29.5 9 33.5 17 37.5 24C38 28 36 30 30 31C24 30 19 28 19 24C22 17 25.5 9 27.5 5Z" fill="url(#mhead)"/>
<path d="M29.5 24C36 24 41.5 28 42.5 35C43 46 44 56 46.5 68C49 80 48 92 42 98C38 101.5 24 101.5 19.5 98C12.5 92 12 80 14 68C16 56 15.5 46 16 35C17 28 23 24 29.5 24Z" fill="url(#mbody)"/>
<ellipse cx="33" cy="103" rx="4.2" ry="5" fill="#dcdcdc"/>
</g></g>
<ellipse cx="438.2" cy="1171.9" rx="6.4" ry="8.0" fill="url(#tum2)" filter="url(#mblur2)"/>
</g>
<clipPath id="mc3"><rect x="467.2" y="1088" width="60.3" height="132.3"/></clipPath>
<rect x="467.2" y="1088.0" width="60.3" height="132.3" fill="#3b3b3b"/>
<g clip-path="url(#mc3)"><g transform="translate(467.2 1088) scale(0.914 0.995)">
<rect x="0" y="0" width="66" height="22.5" fill="#2a2a2a"/>
<rect x="0" y="0" width="66" height="2" fill="#444"/>
<rect x="9" y="2" width="2.2" height="19.5" fill="#4a4a4a"/>
<rect x="25.5" y="2" width="2.2" height="19.5" fill="#4a4a4a"/>
<rect x="41" y="2" width="2.2" height="19.5" fill="#4a4a4a"/>
<rect x="56" y="2" width="2.2" height="19.5" fill="#4a4a4a"/>
<g filter="url(#mblur)">
<path d="M31 97C31.5 108 30.5 118 28.5 134" stroke="#f4f4f4" stroke-width="3.1" fill="none" stroke-linecap="round"/>
<path d="M17 37L11.5 33L8.5 29.5M43 37L47 31L48.5 28" stroke="#eeeeee" stroke-width="3.3" fill="none" stroke-linecap="round" stroke-linejoin="round"/>
<path d="M24 95L14 99.5L5.5 101M40 95L47 100.5L56 102" stroke="#f2f2f2" stroke-width="3.6" fill="none" stroke-linecap="round" stroke-linejoin="round"/>
<path d="M27.5 5C29.5 9 33.5 17 37.5 24C38 28 36 30 30 31C24 30 19 28 19 24C22 17 25.5 9 27.5 5Z" fill="url(#mhead)"/>
<path d="M29.5 24C36 24 41.5 28 42.5 35C43 46 44 56 46.5 68C49 80 48 92 42 98C38 101.5 24 101.5 19.5 98C12.5 92 12 80 14 68C16 56 15.5 46 16 35C17 28 23 24 29.5 24Z" fill="url(#mbody)"/>
<ellipse cx="33" cy="103" rx="4.2" ry="5" fill="#dcdcdc"/>
</g></g>
<ellipse cx="504.7" cy="1176.7" rx="6.4" ry="8.3" fill="url(#tum2)" filter="url(#mblur2)"/>
</g>
<text x="356.5" y="1082.7" font-size="10.5" text-anchor="middle" font-weight="bold">shNC</text>
<text x="429.7" y="1082.7" font-size="10.5" text-anchor="middle" font-weight="bold">shUSP37#1</text>
<text x="506.2" y="1082.7" font-size="10.5" text-anchor="middle" font-weight="bold">shUSP37#2</text>
<rect x="531.0" y="1168.0" width="0.9" height="46.7" fill="url(#rbar)"/>
<clipPath id="mc4"><rect x="738.2" y="1097.8" width="73.4" height="133.4"/></clipPath>
<rect x="738.2" y="1097.8" width="73.4" height="133.4" fill="#3b3b3b"/>
<g clip-path="url(#mc4)"><g transform="translate(738.2 1097.8) scale(1.112 1.003)">
<rect x="0" y="0" width="66" height="22.5" fill="#2a2a2a"/>
<rect x="0" y="0" width="66" height="2" fill="#444"/>
<rect x="9" y="2" width="2.2" height="19.5" fill="#4a4a4a"/>
<rect x="25.5" y="2" width="2.2" height="19.5" fill="#4a4a4a"/>
<rect x="41" y="2" width="2.2" height="19.5" fill="#4a4a4a"/>
<rect x="56" y="2" width="2.2" height="19.5" fill="#4a4a4a"/>
<g filter="url(#mblur)">
<path d="M31 104L31 134" stroke="#f4f4f4" stroke-width="2.7" fill="none" stroke-linecap="round"/>
<path d="M22 48L12 44L7.5 40.5M41 48L46.5 40L49 33.5" stroke="#eeeeee" stroke-width="3.2" fill="none" stroke-linecap="round" stroke-linejoin="round"/>
<path d="M21 97L12 101.5L5 103.5M43 98.5L52 101L61 104" stroke="#f2f2f2" stroke-width="3.4" fill="none" stroke-linecap="round" stroke-linejoin="round"/>
<path d="M31 11C33 15 35.5 20 37.5 26C41 30 43.5 33 43 37C40 40 36 41 31 41C26 41 22 40 19 37C18.5 33 21 30 24.5 26C26.5 20 29 15 31 11Z" fill="url(#mhead)"/>
<path d="M31 36C36 36 40 40 40.7 46C41 54 41.5 60 43 68C45.5 76 47.5 84 46.5 92C45.5 99 40 104 37 106C34 107 28 107 25 106C22 104 16.5 99 15.5 92C14.5 84 17 76 19.5 68C21 60 21 54 21.3 46C22 40 26 36 31 36Z" fill="url(#mbody)"/>
<ellipse cx="31" cy="110" rx="5" ry="6" fill="#dedede"/>
</g></g>
<ellipse cx="780.7" cy="1192.2" rx="7.2" ry="8.1" fill="url(#tum2)" filter="url(#mblur2)"/>
</g>
<clipPath id="mc5"><rect x="818.2" y="1097.8" width="69.1" height="133.4"/></clipPath>
<rect x="818.2" y="1097.8" width="69.1" height="133.4" fill="#3b3b3b"/>
<g clip-path="url(#mc5)"><g transform="translate(818.2 1097.8) scale(1.047 1.003)">
<rect x="0" y="0" width="66" height="22.5" fill="#2a2a2a"/>
<rect x="0" y="0" width="66" height="2" fill="#444"/>
<rect x="9" y="2" width="2.2" height="19.5" fill="#4a4a4a"/>
<rect x="25.5" y="2" width="2.2" height="19.5" fill="#4a4a4a"/>
<rect x="41" y="2" width="2.2" height="19.5" fill="#4a4a4a"/>
<rect x="56" y="2" width="2.2" height="19.5" fill="#4a4a4a"/>
<g filter="url(#mblur)">
<path d="M31 104L31 134" stroke="#f4f4f4" stroke-width="2.7" fill="none" stroke-linecap="round"/>
<path d="M22 47L13 40L9 34.5M41 47L46 38L48.5 31.5" stroke="#eeeeee" stroke-width="3.2" fill="none" stroke-linecap="round" stroke-linejoin="round"/>
<path d="M21 99L13 103L7 106M42 99L50 103L57 105" stroke="#f2f2f2" stroke-width="3.4" fill="none" stroke-linecap="round" stroke-linejoin="round"/>
<path d="M31 11C33 15 35.5 20 37.5 26C41 30 43.5 33 43 37C40 40 36 41 31 41C26 41 22 40 19 37C18.5 33 21 30 24.5 26C26.5 20 29 15 31 11Z" fill="url(#mhead)"/>
<path d="M31 36C36 36 40 40 40.7 46C41 54 41.5 60 43 68C45.5 76 47.5 84 46.5 92C45.5 99 40 104 37 106C34 107 28 107 25 106C22 104 16.5 99 15.5 92C14.5 84 17 76 19.5 68C21 60 21 54 21.3 46C22 40 26 36 31 36Z" fill="url(#mbody)"/>
<ellipse cx="31" cy="110" rx="5" ry="6" fill="#dedede"/>
</g></g>
<ellipse cx="859.8" cy="1191.6" rx="7.2" ry="8.6" fill="url(#tum)" filter="url(#mblur2)"/>
</g>
<text x="771.9" y="1089.0" font-size="10.5" text-anchor="middle" font-weight="bold">Vector</text>
<text x="848.2" y="1089.0" font-size="10.5" text-anchor="middle" font-weight="bold">p-USP37</text>
<rect x="889.2" y="1177.6" width="0.9" height="46.0" fill="url(#rbar)"/>
</g>
<g id="p_tumor">
<line x1="583.5" y1="1059.5" x2="583.5" y2="1107.7" stroke="#000" stroke-width="1.4"/>
<line x1="583.0" y1="1107.2" x2="657.0" y2="1107.2" stroke="#000" stroke-width="1.4"/>
<line x1="580.9" y1="1107.2" x2="583.5" y2="1107.2" stroke="#000" stroke-width="1.26"/>
<text x="579.9" y="1109.3" font-size="5.8" text-anchor="end" font-weight="bold">0.0</text>
<line x1="580.9" y1="1091.5" x2="583.5" y2="1091.5" stroke="#000" stroke-width="1.26"/>
<text x="579.9" y="1093.6" font-size="5.8" text-anchor="end" font-weight="bold">0.5</text>
<line x1="580.9" y1="1075.7" x2="583.5" y2="1075.7" stroke="#000" stroke-width="1.26"/>
<text x="579.9" y="1077.8" font-size="5.8" text-anchor="end" font-weight="bold">1.0</text>
<line x1="580.9" y1="1060.0" x2="583.5" y2="1060.0" stroke="#000" stroke-width="1.26"/>
<text x="579.9" y="1062.1" font-size="5.8" text-anchor="end" font-weight="bold">1.5</text>
<line x1="599.2" y1="1069.4" x2="599.2" y2="1076.0" stroke="#000" stroke-width="0.8"/>
<line x1="596.2" y1="1069.4" x2="602.2" y2="1069.4" stroke="#000" stroke-width="0.8"/>
<rect x="592.3" y="1076.0" width="13.9" height="31.2" fill="#ddb0b2" stroke="#111" stroke-width="0.8"/>
<line x1="599.2" y1="1107.2" x2="599.2" y2="1109.8" stroke="#000" stroke-width="1"/>
<text x="601.5" y="1113.2" font-size="5.8" text-anchor="end" font-weight="bold" transform="rotate(-45 601.5 1113.2)">shNC</text>
<path d="M594.2 1070.4h.01M599.2 1075.7h.01M604.2 1071.0h.01M594.8 1082.7h.01M604.2 1081.1h.01" stroke="#000" stroke-width="3.2" stroke-linecap="round" fill="none"/>
<line x1="620.8" y1="1091.5" x2="620.8" y2="1095.2" stroke="#000" stroke-width="0.8"/>
<line x1="617.8" y1="1091.5" x2="623.8" y2="1091.5" stroke="#000" stroke-width="0.8"/>
<rect x="613.8" y="1095.2" width="13.9" height="12.0" fill="#e0dc9c" stroke="#111" stroke-width="0.8"/>
<line x1="620.8" y1="1107.2" x2="620.8" y2="1109.8" stroke="#000" stroke-width="1"/>
<text x="623.0" y="1113.2" font-size="5.8" text-anchor="end" font-weight="bold" transform="rotate(-45 623.0 1113.2)">shUSP37#1</text>
<text x="620.8" y="1090.8" font-size="8.5" text-anchor="middle" stroke="#000" stroke-width="0.25">**</text>
<path d="M616.2 1097.8h.01M618.2 1091.5h.01M622.2 1094.0h.01M625.8 1096.8h.01M623.8 1098.4h.01" stroke="#000" stroke-width="3.2" stroke-linecap="round" fill="none"/>
<line x1="642.0" y1="1094.6" x2="642.0" y2="1096.8" stroke="#000" stroke-width="0.8"/>
<line x1="639.0" y1="1094.6" x2="645.0" y2="1094.6" stroke="#000" stroke-width="0.8"/>
<rect x="635.0" y="1096.8" width="14.0" height="10.4" fill="#bfe2b4" stroke="#111" stroke-width="0.8"/>
<line x1="642.0" y1="1107.2" x2="642.0" y2="1109.8" stroke="#000" stroke-width="1"/>
<text x="644.2" y="1113.2" font-size="5.8" text-anchor="end" font-weight="bold" transform="rotate(-45 644.2 1113.2)">shUSP37#2</text>
<text x="642.0" y="1092.4" font-size="8.5" text-anchor="middle" stroke="#000" stroke-width="0.25">**</text>
<path d="M637.0 1097.8h.01M639.5 1096.5h.01M642.0 1096.8h.01M644.5 1095.9h.01M647.0 1098.1h.01" stroke="#000" stroke-width="3.2" stroke-linecap="round" fill="none"/>
<text x="567.5" y="1083.5" font-size="5.8" text-anchor="middle" font-weight="bold" fill="#222" transform="rotate(-90 567.5 1083.5)">Tumor weight (g)</text>
<line x1="572.6" y1="1155.5" x2="572.6" y2="1230.6" stroke="#000" stroke-width="1.4"/>
<line x1="572.1" y1="1230.1" x2="683.7" y2="1230.1" stroke="#000" stroke-width="1.4"/>
<line x1="570.0" y1="1230.1" x2="572.6" y2="1230.1" stroke="#000" stroke-width="1.26"/>
<text x="569.0" y="1232.2" font-size="5.8" text-anchor="end" font-weight="bold">0</text>
<line x1="570.0" y1="1205.7" x2="572.6" y2="1205.7" stroke="#000" stroke-width="1.26"/>
<text x="569.0" y="1207.8" font-size="5.8" text-anchor="end" font-weight="bold">500</text>
<line x1="570.0" y1="1181.4" x2="572.6" y2="1181.4" stroke="#000" stroke-width="1.26"/>
<text x="569.0" y="1183.5" font-size="5.8" text-anchor="end" font-weight="bold">1000</text>
<line x1="570.0" y1="1157.0" x2="572.6" y2="1157.0" stroke="#000" stroke-width="1.26"/>
<text x="569.0" y="1159.1" font-size="5.8" text-anchor="end" font-weight="bold">1500</text>
<line x1="583.5" y1="1230.1" x2="583.5" y2="1232.7" stroke="#000" stroke-width="1"/>
<text x="583.5" y="1239.4" font-size="5.8" text-anchor="middle" font-weight="bold">0</text>
<line x1="598.5" y1="1230.1" x2="598.5" y2="1232.7" stroke="#000" stroke-width="1"/>
<text x="598.5" y="1239.4" font-size="5.8" text-anchor="middle" font-weight="bold">5</text>
<line x1="613.6" y1="1230.1" x2="613.6" y2="1232.7" stroke="#000" stroke-width="1"/>
<text x="613.6" y="1239.4" font-size="5.8" text-anchor="middle" font-weight="bold">10</text>
<line x1="628.6" y1="1230.1" x2="628.6" y2="1232.7" stroke="#000" stroke-width="1"/>
<text x="628.6" y="1239.4" font-size="5.8" text-anchor="middle" font-weight="bold">15</text>
<line x1="643.6" y1="1230.1" x2="643.6" y2="1232.7" stroke="#000" stroke-width="1"/>
<text x="643.6" y="1239.4" font-size="5.8" text-anchor="middle" font-weight="bold">20</text>
<line x1="658.7" y1="1230.1" x2="658.7" y2="1232.7" stroke="#000" stroke-width="1"/>
<text x="658.7" y="1239.4" font-size="5.8" text-anchor="middle" font-weight="bold">25</text>
<line x1="673.7" y1="1230.1" x2="673.7" y2="1232.7" stroke="#000" stroke-width="1"/>
<text x="673.7" y="1239.4" font-size="5.8" text-anchor="middle" font-weight="bold">30</text>
<text x="628.0" y="1251.5" font-size="6" text-anchor="middle" font-weight="bold" fill="#222">Time (days)</text>
<text x="549.5" y="1193.0" font-size="6" text-anchor="middle" font-weight="bold" fill="#222" transform="rotate(-90 549.5 1193.0)">Tumor volume (mm³)</text>
<polyline points="583.5,1230.1 598.5,1229.1 613.6,1224.7 628.6,1220.4 643.6,1215.0 658.7,1206.2 673.7,1202.3" fill="none" stroke="#111" stroke-width="1.5" stroke-linejoin="round"/><path d="M583.5 1230.1h.01M598.5 1229.1h.01M613.6 1224.7h.01M628.6 1220.4h.01M643.6 1215.0h.01M658.7 1206.2h.01M673.7 1202.3h.01" stroke="#111" stroke-width="2.0" stroke-linecap="round" fill="none"/>
<polyline points="583.5,1230.1 598.5,1229.4 613.6,1225.2 628.6,1222.8 643.6,1216.9 658.7,1208.7 673.7,1204.8" fill="none" stroke="#1a2cf0" stroke-width="1.5" stroke-linejoin="round"/><path d="M583.5 1230.1h.01M598.5 1229.4h.01M613.6 1225.2h.01M628.6 1222.8h.01M643.6 1216.9h.01M658.7 1208.7h.01M673.7 1204.8h.01" stroke="#1a2cf0" stroke-width="2.0" stroke-linecap="round" fill="none"/>
<polyline points="583.5,1230.1 598.5,1227.7 613.6,1221.8 628.6,1212.6 643.6,1198.4 658.7,1185.3 673.7,1165.8" fill="none" stroke="#a81818" stroke-width="1.5" stroke-linejoin="round"/><path d="M583.5 1230.1h.01M598.5 1227.7h.01M613.6 1221.8h.01M628.6 1212.6h.01M643.6 1198.4h.01M658.7 1185.3h.01M673.7 1165.8h.01" stroke="#a81818" stroke-width="2.0" stroke-linecap="round" fill="none"/>
<line x1="631.5" y1="1143.0" x2="645.0" y2="1143.0" stroke="#a81818" stroke-width="1.5"/>
<circle cx="638.2" cy="1143.0" r="0.9" fill="#a81818"/>
<text x="652.5" y="1144.6" font-size="4.6" font-weight="bold" fill="#333">shNC</text>
<line x1="631.5" y1="1151.0" x2="645.0" y2="1151.0" stroke="#111" stroke-width="1.5"/>
<circle cx="638.2" cy="1151.0" r="0.9" fill="#111"/>
<text x="652.5" y="1152.6" font-size="4.6" font-weight="bold" fill="#333">shUSP37#1</text>
<line x1="631.5" y1="1158.2" x2="645.0" y2="1158.2" stroke="#1a2cf0" stroke-width="1.5"/>
<circle cx="638.2" cy="1158.2" r="0.9" fill="#1a2cf0"/>
<text x="652.5" y="1159.8" font-size="4.6" font-weight="bold" fill="#333">shUSP37#2</text>
<text x="643.6" y="1212.1" font-size="4" text-anchor="middle" fill="#333">*</text>
<text x="658.7" y="1203.3" font-size="4" text-anchor="middle" fill="#333">**</text>
<text x="673.7" y="1198.9" font-size="4" text-anchor="middle" fill="#333">***</text>
<text x="643.6" y="1221.8" font-size="3.6" text-anchor="middle" font-weight="bold" fill="#2a3060">#</text>
<text x="658.7" y="1213.6" font-size="3.6" text-anchor="middle" font-weight="bold" fill="#2a3060">#</text>
<text x="658.7" y="1218.4" font-size="3.6" text-anchor="middle" font-weight="bold" fill="#2a3060">#</text>
<text x="673.7" y="1211.6" font-size="3.6" text-anchor="middle" font-weight="bold" fill="#2a3060">#</text>
<text x="673.7" y="1216.5" font-size="3.6" text-anchor="middle" font-weight="bold" fill="#2a3060">#</text>
<text x="673.7" y="1221.8" font-size="3.6" text-anchor="middle" font-weight="bold" fill="#2a3060">#</text>
<line x1="945.2" y1="1064.1" x2="945.2" y2="1107.8" stroke="#000" stroke-width="1.3"/>
<line x1="944.7" y1="1107.3" x2="1008.4" y2="1107.3" stroke="#000" stroke-width="1.3"/>
<line x1="942.6" y1="1107.3" x2="945.2" y2="1107.3" stroke="#000" stroke-width="1.1700000000000002"/>
<text x="941.6" y="1109.7" font-size="6.8" text-anchor="end" font-weight="bold">0</text>
<line x1="942.6" y1="1093.1" x2="945.2" y2="1093.1" stroke="#000" stroke-width="1.1700000000000002"/>
<text x="941.6" y="1095.5" font-size="6.8" text-anchor="end" font-weight="bold">1</text>
<line x1="942.6" y1="1078.8" x2="945.2" y2="1078.8" stroke="#000" stroke-width="1.1700000000000002"/>
<text x="941.6" y="1081.3" font-size="6.8" text-anchor="end" font-weight="bold">2</text>
<line x1="942.6" y1="1064.6" x2="945.2" y2="1064.6" stroke="#000" stroke-width="1.1700000000000002"/>
<text x="941.6" y="1067.0" font-size="6.8" text-anchor="end" font-weight="bold">3</text>
<line x1="962.3" y1="1091.6" x2="962.3" y2="1094.1" stroke="#000" stroke-width="0.8"/>
<line x1="959.3" y1="1091.6" x2="965.3" y2="1091.6" stroke="#000" stroke-width="0.8"/>
<rect x="953.8" y="1094.1" width="17.1" height="13.2" fill="#ddb0b2" stroke="#111" stroke-width="0.8"/>
<line x1="962.3" y1="1107.3" x2="962.3" y2="1109.9" stroke="#000" stroke-width="1"/>
<text x="964.5" y="1113.3" font-size="6.8" text-anchor="end" font-weight="bold" transform="rotate(-45 964.5 1113.3)">Vector</text>
<path d="M956.3 1094.1h.01M959.3 1092.1h.01M962.3 1093.8h.01M965.8 1092.4h.01M968.8 1094.5h.01" stroke="#000" stroke-width="3.2" stroke-linecap="round" fill="none"/>
<line x1="989.8" y1="1071.7" x2="989.8" y2="1078.0" stroke="#000" stroke-width="0.8"/>
<line x1="986.8" y1="1071.7" x2="992.8" y2="1071.7" stroke="#000" stroke-width="0.8"/>
<rect x="981.2" y="1078.0" width="17.2" height="29.3" fill="#e0dc9c" stroke="#111" stroke-width="0.8"/>
<line x1="989.8" y1="1107.3" x2="989.8" y2="1109.9" stroke="#000" stroke-width="1"/>
<text x="992.0" y="1113.3" font-size="6.8" text-anchor="end" font-weight="bold" transform="rotate(-45 992.0 1113.3)">p-USP37</text>
<path d="M983.3 1075.7h.01M988.8 1072.4h.01M992.8 1077.4h.01M996.8 1076.7h.01M989.8 1086.7h.01" stroke="#000" stroke-width="3.2" stroke-linecap="round" fill="none"/>
<line x1="963.4" y1="1066.8" x2="990.2" y2="1066.8" stroke="#000" stroke-width="1"/>
<text x="976.8" y="1066.5" font-size="10" text-anchor="middle" stroke="#000" stroke-width="0.3">***</text>
<text x="929.5" y="1080.5" font-size="6.4" text-anchor="middle" font-weight="bold" fill="#222" transform="rotate(-90 929.5 1080.5)">Tumor weight (g)</text>
<line x1="938.3" y1="1155.8" x2="938.3" y2="1236.0" stroke="#000" stroke-width="1.4"/>
<line x1="937.8" y1="1235.5" x2="1058.8" y2="1235.5" stroke="#000" stroke-width="1.4"/>
<line x1="935.7" y1="1235.5" x2="938.3" y2="1235.5" stroke="#000" stroke-width="1.26"/>
<text x="934.7" y="1237.5" font-size="5.6" text-anchor="end" font-weight="bold">0</text>
<line x1="935.7" y1="1219.9" x2="938.3" y2="1219.9" stroke="#000" stroke-width="1.26"/>
<text x="934.7" y="1221.9" font-size="5.6" text-anchor="end" font-weight="bold">500</text>
<line x1="935.7" y1="1204.2" x2="938.3" y2="1204.2" stroke="#000" stroke-width="1.26"/>
<text x="934.7" y="1206.2" font-size="5.6" text-anchor="end" font-weight="bold">1000</text>
<line x1="935.7" y1="1188.6" x2="938.3" y2="1188.6" stroke="#000" stroke-width="1.26"/>
<text x="934.7" y="1190.6" font-size="5.6" text-anchor="end" font-weight="bold">1500</text>
<line x1="935.7" y1="1172.9" x2="938.3" y2="1172.9" stroke="#000" stroke-width="1.26"/>
<text x="934.7" y="1175.0" font-size="5.6" text-anchor="end" font-weight="bold">2000</text>
<line x1="935.7" y1="1157.3" x2="938.3" y2="1157.3" stroke="#000" stroke-width="1.26"/>
<text x="934.7" y="1159.3" font-size="5.6" text-anchor="end" font-weight="bold">2500</text>
<line x1="951.2" y1="1235.5" x2="951.2" y2="1238.1" stroke="#000" stroke-width="1"/>
<text x="951.2" y="1245.0" font-size="5.8" text-anchor="middle" font-weight="bold">0</text>
<line x1="967.3" y1="1235.5" x2="967.3" y2="1238.1" stroke="#000" stroke-width="1"/>
<text x="967.3" y="1245.0" font-size="5.8" text-anchor="middle" font-weight="bold">5</text>
<line x1="983.4" y1="1235.5" x2="983.4" y2="1238.1" stroke="#000" stroke-width="1"/>
<text x="983.4" y="1245.0" font-size="5.8" text-anchor="middle" font-weight="bold">10</text>
<line x1="999.5" y1="1235.5" x2="999.5" y2="1238.1" stroke="#000" stroke-width="1"/>
<text x="999.5" y="1245.0" font-size="5.8" text-anchor="middle" font-weight="bold">15</text>
<line x1="1015.5" y1="1235.5" x2="1015.5" y2="1238.1" stroke="#000" stroke-width="1"/>
<text x="1015.5" y="1245.0" font-size="5.8" text-anchor="middle" font-weight="bold">20</text>
<line x1="1031.6" y1="1235.5" x2="1031.6" y2="1238.1" stroke="#000" stroke-width="1"/>
<text x="1031.6" y="1245.0" font-size="5.8" text-anchor="middle" font-weight="bold">25</text>
<line x1="1047.7" y1="1235.5" x2="1047.7" y2="1238.1" stroke="#000" stroke-width="1"/>
<text x="1047.7" y="1245.0" font-size="5.8" text-anchor="middle" font-weight="bold">30</text>
<text x="999.5" y="1257.8" font-size="6" text-anchor="middle" font-weight="bold" fill="#222">Time (days)</text>
<text x="917.0" y="1197.0" font-size="6" text-anchor="middle" font-weight="bold" fill="#222" transform="rotate(-90 917.0 1197.0)">Tumor volume (mm³)</text>
<polyline points="951.2,1235.5 967.3,1234.6 983.4,1230.8 999.5,1227.1 1015.5,1221.1 1031.6,1212.0 1047.7,1198.0" fill="none" stroke="#a81818" stroke-width="1.5" stroke-linejoin="round"/><path d="M951.2 1235.5h.01M967.3 1234.6h.01M983.4 1230.8h.01M999.5 1227.1h.01M1015.5 1221.1h.01M1031.6 1212.0h.01M1047.7 1198.0h.01" stroke="#a81818" stroke-width="2.0" stroke-linecap="round" fill="none"/>
<polyline points="951.2,1235.5 967.3,1233.6 983.4,1225.2 999.5,1217.7 1015.5,1205.8 1031.6,1188.0 1047.7,1169.2" fill="none" stroke="#1a2cf0" stroke-width="1.5" stroke-linejoin="round"/><path d="M951.2 1235.5h.01M967.3 1233.6h.01M983.4 1225.2h.01M999.5 1217.7h.01M1015.5 1205.8h.01M1031.6 1188.0h.01M1047.7 1169.2h.01" stroke="#1a2cf0" stroke-width="2.0" stroke-linecap="round" fill="none"/>
<line x1="1031.6" y1="1193.3" x2="1031.6" y2="1182.6" stroke="#1a2cf0" stroke-width="0.6"/>
<line x1="1030.4" y1="1182.6" x2="1032.8" y2="1182.6" stroke="#1a2cf0" stroke-width="0.6"/>
<line x1="1030.4" y1="1193.3" x2="1032.8" y2="1193.3" stroke="#1a2cf0" stroke-width="0.6"/>
<line x1="1047.7" y1="1173.9" x2="1047.7" y2="1164.5" stroke="#1a2cf0" stroke-width="0.6"/>
<line x1="1046.5" y1="1164.5" x2="1048.9" y2="1164.5" stroke="#1a2cf0" stroke-width="0.6"/>
<line x1="1046.5" y1="1173.9" x2="1048.9" y2="1173.9" stroke="#1a2cf0" stroke-width="0.6"/>
<line x1="1047.7" y1="1201.4" x2="1047.7" y2="1194.5" stroke="#a81818" stroke-width="0.6"/>
<line x1="1046.5" y1="1194.5" x2="1048.9" y2="1194.5" stroke="#a81818" stroke-width="0.6"/>
<line x1="1046.5" y1="1201.4" x2="1048.9" y2="1201.4" stroke="#a81818" stroke-width="0.6"/>
<line x1="1015.5" y1="1208.0" x2="1015.5" y2="1203.6" stroke="#1a2cf0" stroke-width="0.6"/>
<line x1="1014.3" y1="1203.6" x2="1016.7" y2="1203.6" stroke="#1a2cf0" stroke-width="0.6"/>
<line x1="1014.3" y1="1208.0" x2="1016.7" y2="1208.0" stroke="#1a2cf0" stroke-width="0.6"/>
<line x1="1031.6" y1="1213.9" x2="1031.6" y2="1210.2" stroke="#a81818" stroke-width="0.6"/>
<line x1="1030.4" y1="1210.2" x2="1032.8" y2="1210.2" stroke="#a81818" stroke-width="0.6"/>
<line x1="1030.4" y1="1213.9" x2="1032.8" y2="1213.9" stroke="#a81818" stroke-width="0.6"/>
<line x1="1003.5" y1="1142.8" x2="1017.0" y2="1142.8" stroke="#a81818" stroke-width="1.5"/>
<circle cx="1010.2" cy="1142.8" r="0.9" fill="#a81818"/>
<text x="1025.0" y="1144.5" font-size="5" font-weight="bold" fill="#333">Vector</text>
<line x1="1003.5" y1="1151.4" x2="1017.0" y2="1151.4" stroke="#1a2cf0" stroke-width="1.5"/>
<circle cx="1010.2" cy="1151.4" r="0.9" fill="#1a2cf0"/>
<text x="1025.0" y="1153.1" font-size="5" font-weight="bold" fill="#333">p-USP37</text>
<text x="1015.5" y="1198.6" font-size="6.5" text-anchor="middle" font-weight="bold">*</text>
<text x="1031.6" y="1178.3" font-size="6.5" text-anchor="middle" font-weight="bold">*</text>
<text x="1048.5" y="1161.7" font-size="6.5" text-anchor="middle" font-weight="bold">**</text>
</g>
<g id="p_plates">
<text x="1273.3" y="819.5" font-size="12.1" text-anchor="middle" font-weight="bold">SW1990</text>
<line x1="1147.4" y1="830.6" x2="1395.8" y2="830.6" stroke="#000" stroke-width="1.3"/>
<text x="1148.2" y="854.0" font-size="12.1" font-weight="bold">shNC</text>
<text x="1228.9" y="854.0" font-size="12.1" font-weight="bold">shUSP37#1</text>
<text x="1330.2" y="854.0" font-size="12.1" font-weight="bold">shUSP37#2</text>
<g filter="url(#pbl)">
<circle cx="1166.0" cy="908.6" r="43.6" fill="url(#plg)"/>
<path d="M1191.3 937.1h.01M1179.5 887.3h.01M1194.4 890.5h.01M1169.2 890.1h.01M1129.4 917.8h.01M1148.3 900.2h.01M1151.1 925.5h.01M1176.8 900.4h.01M1199.8 911.2h.01M1178.2 898.9h.01M1137.8 919.9h.01M1181.1 931.1h.01M1203.0 904.2h.01M1184.4 880.4h.01M1149.2 936.6h.01M1170.1 871.4h.01M1191.9 927.1h.01M1161.9 892.5h.01M1174.9 908.3h.01M1201.2 922.8h.01M1134.8 923.6h.01M1185.4 917.7h.01M1201.0 906.0h.01M1139.0 877.3h.01M1159.7 871.3h.01M1140.6 899.9h.01M1161.0 883.6h.01M1165.2 868.4h.01M1183.0 933.3h.01M1143.3 925.5h.01M1140.0 898.4h.01M1194.3 927.6h.01M1153.2 924.0h.01M1202.6 896.1h.01M1190.6 914.0h.01M1164.1 926.9h.01M1195.5 893.7h.01M1154.1 938.5h.01M1172.3 901.3h.01M1164.9 885.7h.01M1200.1 902.1h.01M1160.5 932.3h.01M1161.1 936.7h.01M1178.9 930.0h.01M1150.9 942.0h.01M1192.5 938.5h.01M1182.1 886.3h.01M1156.4 895.4h.01M1156.5 928.3h.01M1173.5 869.9h.01M1185.2 893.4h.01M1176.9 872.9h.01M1155.3 920.6h.01M1129.0 925.5h.01M1156.2 939.9h.01M1172.4 929.1h.01" stroke="#4b4190" stroke-width="1.2" stroke-linecap="round" fill="none"/>
<path d="M1192.7 933.0h.01M1196.1 913.5h.01M1170.8 935.6h.01M1204.1 896.8h.01M1164.3 869.4h.01M1132.8 888.3h.01M1199.4 918.0h.01M1170.0 921.0h.01M1165.5 895.3h.01M1166.0 945.3h.01M1163.8 946.2h.01M1196.1 910.0h.01M1197.6 889.3h.01M1155.1 918.9h.01M1136.9 899.8h.01M1197.4 928.9h.01M1192.2 894.9h.01M1151.2 910.4h.01M1165.2 890.1h.01M1176.8 942.7h.01M1131.9 929.8h.01M1164.5 938.3h.01M1159.7 880.2h.01M1125.9 913.7h.01M1178.5 925.4h.01M1134.7 892.3h.01M1145.7 878.0h.01M1139.0 877.4h.01M1161.3 923.6h.01M1172.1 896.1h.01M1127.9 908.1h.01M1166.8 945.4h.01M1206.1 918.2h.01M1157.0 887.9h.01M1149.0 882.1h.01M1154.9 873.2h.01M1152.7 880.1h.01M1170.4 886.6h.01M1149.6 931.2h.01M1162.2 893.1h.01M1162.4 922.2h.01M1171.0 932.8h.01M1181.9 906.8h.01M1165.5 900.5h.01M1159.2 883.4h.01M1159.7 919.8h.01M1191.9 879.5h.01M1149.9 946.7h.01M1177.0 902.8h.01M1152.4 932.7h.01M1152.4 884.1h.01M1133.0 900.4h.01M1155.7 909.4h.01M1132.4 906.5h.01" stroke="#5a4f9c" stroke-width="1.8" stroke-linecap="round" fill="none"/>
<path d="M1152.2 921.6h.01M1181.2 921.8h.01M1148.4 935.9h.01M1168.7 949.7h.01M1202.5 923.9h.01M1172.9 945.2h.01M1174.9 893.9h.01M1198.3 884.0h.01M1134.4 932.4h.01M1152.5 942.0h.01M1142.6 902.7h.01M1150.6 895.9h.01M1169.3 869.5h.01M1172.6 912.5h.01M1200.1 887.8h.01M1174.2 900.6h.01M1162.4 932.3h.01M1160.6 897.6h.01M1171.6 933.1h.01M1190.2 897.9h.01M1188.8 930.5h.01M1176.8 915.4h.01M1178.9 931.2h.01M1165.6 934.3h.01M1135.4 890.1h.01M1190.4 876.7h.01M1156.9 903.3h.01M1171.3 929.7h.01M1181.9 935.1h.01M1145.0 896.7h.01M1142.2 915.1h.01M1137.3 936.3h.01M1180.0 928.9h.01M1155.9 893.9h.01M1160.0 871.3h.01M1151.1 904.9h.01M1134.6 885.7h.01M1195.7 921.6h.01M1160.5 886.8h.01M1170.5 896.8h.01M1168.7 937.7h.01M1132.8 924.2h.01M1147.4 886.7h.01M1207.0 913.0h.01M1140.8 885.0h.01" stroke="#3d3580" stroke-width="1.8" stroke-linecap="round" fill="none"/>
<path d="M1186.3 892.5h.01M1171.6 934.9h.01M1128.3 916.1h.01M1156.8 937.5h.01M1179.3 892.9h.01M1149.3 907.0h.01M1138.5 921.3h.01M1135.0 903.0h.01M1171.3 904.9h.01M1156.4 933.0h.01M1181.7 910.1h.01M1187.1 875.3h.01M1189.4 878.3h.01M1199.5 900.1h.01M1158.1 912.8h.01M1151.0 933.3h.01M1139.1 879.9h.01M1141.1 880.3h.01M1144.2 897.7h.01M1185.4 899.1h.01M1145.4 885.9h.01M1164.9 923.3h.01M1131.1 895.9h.01M1156.4 941.5h.01M1183.7 891.9h.01M1131.2 893.1h.01M1132.1 917.2h.01M1164.3 902.7h.01M1163.2 933.0h.01M1142.9 927.5h.01M1159.8 903.5h.01M1184.1 905.5h.01M1187.7 931.7h.01M1152.1 922.9h.01M1174.0 894.7h.01M1155.4 897.7h.01M1185.2 880.2h.01M1177.7 936.5h.01M1136.4 913.3h.01M1160.3 947.0h.01M1168.0 942.9h.01M1171.7 877.4h.01M1154.2 879.0h.01M1141.9 933.9h.01M1159.1 941.2h.01" stroke="#5a4f9c" stroke-width="1.2" stroke-linecap="round" fill="none"/>
<path d="M1132.9 920.4h.01M1138.6 919.7h.01M1173.9 871.9h.01M1187.4 885.8h.01M1135.9 886.8h.01M1196.5 933.4h.01M1156.4 875.9h.01M1174.8 880.2h.01M1130.5 894.4h.01M1165.0 896.7h.01M1150.7 888.2h.01M1200.9 913.2h.01M1191.1 919.9h.01M1173.0 948.6h.01M1178.1 939.1h.01M1128.9 922.3h.01M1154.1 932.3h.01M1171.3 890.0h.01M1160.6 887.2h.01M1134.5 881.9h.01M1141.1 880.8h.01M1149.0 936.0h.01M1135.9 907.9h.01M1172.6 921.1h.01M1158.0 920.0h.01M1143.7 938.3h.01M1158.4 920.3h.01M1191.9 911.7h.01M1166.7 916.9h.01M1178.2 943.6h.01M1131.1 925.2h.01M1165.4 883.0h.01M1175.1 896.1h.01M1177.0 888.1h.01M1180.4 908.9h.01M1175.0 893.0h.01M1153.9 942.4h.01M1187.0 895.2h.01M1164.2 885.9h.01M1162.3 914.4h.01M1190.6 898.9h.01M1160.1 883.8h.01M1157.0 897.9h.01M1159.4 921.3h.01M1159.3 879.3h.01M1158.6 930.1h.01M1162.1 910.9h.01M1142.4 910.9h.01M1128.8 891.9h.01M1162.2 908.8h.01M1189.8 907.3h.01M1136.3 916.6h.01M1134.8 924.4h.01M1135.6 933.9h.01M1175.4 921.3h.01M1136.2 913.3h.01M1179.2 913.8h.01M1133.6 884.4h.01M1145.0 904.0h.01" stroke="#5a4f9c" stroke-width="1.4" stroke-linecap="round" fill="none"/>
<path d="M1203.0 895.3h.01M1180.1 934.4h.01M1184.5 880.1h.01M1157.4 880.7h.01M1195.2 934.4h.01M1150.6 935.0h.01M1161.6 946.9h.01M1176.7 870.1h.01M1155.3 874.7h.01M1160.2 928.4h.01M1138.2 900.4h.01M1175.3 941.5h.01M1169.3 931.8h.01M1201.8 919.0h.01M1160.8 885.4h.01M1171.7 920.2h.01M1137.8 938.5h.01M1165.7 879.3h.01M1168.7 923.5h.01M1170.1 868.7h.01M1199.9 904.0h.01M1163.6 941.4h.01M1141.4 941.6h.01M1146.7 919.1h.01M1159.0 892.5h.01M1194.5 934.1h.01M1139.4 901.7h.01M1145.4 888.6h.01M1141.5 904.0h.01M1195.7 929.9h.01M1171.2 912.8h.01M1133.6 907.8h.01M1186.1 905.8h.01M1180.9 902.1h.01M1138.1 889.2h.01M1146.8 928.4h.01M1159.1 904.7h.01M1128.7 908.6h.01M1158.2 944.5h.01M1186.4 912.8h.01M1159.8 909.6h.01M1149.3 935.6h.01M1161.1 885.4h.01M1202.2 889.4h.01M1176.3 908.8h.01M1176.6 932.2h.01M1183.6 943.9h.01M1175.0 912.0h.01M1194.4 881.1h.01M1145.6 922.8h.01M1198.3 896.2h.01M1132.2 891.4h.01M1154.4 934.9h.01M1170.9 900.3h.01M1184.5 916.7h.01M1180.2 918.3h.01M1134.4 914.7h.01" stroke="#3d3580" stroke-width="1.2" stroke-linecap="round" fill="none"/>
<path d="M1168.1 928.4h.01M1128.8 899.1h.01M1161.7 945.3h.01M1156.8 931.1h.01M1159.8 913.3h.01M1170.9 885.0h.01M1155.1 922.6h.01M1139.6 927.5h.01M1129.2 905.9h.01M1173.4 922.7h.01M1187.8 909.1h.01M1181.7 937.2h.01M1130.5 906.0h.01M1202.0 891.1h.01M1166.2 867.7h.01M1135.3 915.9h.01M1152.5 893.2h.01M1139.0 903.2h.01M1163.5 885.6h.01M1147.7 917.9h.01M1126.8 910.2h.01M1142.0 916.0h.01M1134.3 907.3h.01M1161.2 911.4h.01M1144.5 907.5h.01M1168.9 867.5h.01M1188.7 908.4h.01M1148.7 907.7h.01M1179.4 900.5h.01M1132.1 931.5h.01M1204.0 896.9h.01M1137.9 933.9h.01M1137.4 913.8h.01M1152.2 869.7h.01M1161.7 912.9h.01M1144.2 909.2h.01M1201.0 887.0h.01M1145.3 928.5h.01M1182.5 912.6h.01M1153.6 870.7h.01M1136.5 905.8h.01M1173.1 877.0h.01M1201.7 897.7h.01M1186.4 912.8h.01M1145.5 926.3h.01M1205.4 906.1h.01M1161.9 929.1h.01M1164.8 874.1h.01M1197.2 920.8h.01M1135.7 881.7h.01M1197.5 921.2h.01M1178.8 943.1h.01M1180.2 918.9h.01M1194.2 932.3h.01M1189.1 930.3h.01M1184.9 908.1h.01M1190.1 893.1h.01M1158.4 881.7h.01M1141.7 899.0h.01M1177.2 898.0h.01" stroke="#4b4190" stroke-width="1.4" stroke-linecap="round" fill="none"/>
<path d="M1177.6 902.4h.01M1153.2 887.0h.01M1132.9 889.1h.01M1131.6 919.1h.01M1159.2 901.2h.01M1204.0 900.8h.01M1134.1 891.1h.01M1153.0 910.5h.01M1173.8 932.2h.01M1193.6 905.7h.01M1148.3 923.2h.01M1150.5 943.4h.01M1189.3 927.1h.01M1173.6 947.6h.01M1159.2 930.2h.01M1186.1 905.2h.01M1142.8 897.6h.01M1141.3 908.1h.01M1170.7 882.9h.01M1151.7 892.2h.01M1155.1 931.8h.01M1176.3 872.8h.01M1134.9 903.9h.01M1150.3 891.9h.01M1152.4 912.4h.01M1166.9 915.2h.01M1144.1 875.3h.01M1156.7 889.0h.01M1131.1 928.2h.01M1141.4 915.1h.01M1174.9 920.6h.01M1158.3 937.3h.01M1174.3 945.2h.01M1133.7 888.3h.01M1185.1 919.6h.01M1189.3 903.0h.01M1201.6 906.2h.01M1151.8 885.4h.01M1172.9 930.0h.01M1194.6 900.9h.01M1165.4 933.3h.01M1141.1 894.7h.01M1134.7 920.7h.01M1183.7 885.3h.01M1145.9 941.1h.01M1199.2 906.8h.01M1134.2 921.7h.01M1180.5 908.0h.01M1150.2 878.3h.01M1145.8 897.3h.01M1174.7 871.3h.01M1182.9 930.2h.01M1180.1 921.3h.01" stroke="#3d3580" stroke-width="1.6" stroke-linecap="round" fill="none"/>
<path d="M1182.3 878.9h.01M1125.7 905.1h.01M1196.4 908.9h.01M1198.0 898.6h.01M1145.1 907.8h.01M1143.2 892.8h.01M1151.3 891.8h.01M1172.7 868.1h.01M1153.4 893.5h.01M1151.4 876.7h.01M1134.7 908.5h.01M1191.0 933.2h.01M1150.5 904.2h.01M1146.1 905.1h.01M1197.5 923.1h.01M1146.0 879.9h.01M1164.2 887.2h.01M1186.8 917.6h.01M1170.0 903.9h.01M1160.3 871.7h.01M1165.9 879.9h.01M1156.0 919.5h.01M1139.5 905.1h.01M1159.6 942.5h.01M1186.8 876.6h.01M1160.6 949.3h.01M1172.7 869.5h.01M1142.7 918.7h.01M1163.3 895.8h.01M1140.5 939.3h.01M1202.9 907.0h.01M1190.3 881.0h.01M1144.2 920.5h.01M1155.9 870.5h.01M1167.3 938.0h.01M1168.4 882.6h.01M1166.0 875.4h.01M1173.6 922.5h.01M1165.5 872.7h.01M1173.3 911.2h.01M1152.5 947.1h.01M1145.0 922.1h.01M1188.6 898.7h.01M1163.1 945.9h.01M1144.9 894.6h.01M1177.5 917.6h.01M1159.7 912.0h.01M1160.8 935.3h.01M1188.0 882.0h.01M1138.5 934.5h.01" stroke="#4b4190" stroke-width="1.6" stroke-linecap="round" fill="none"/>
<path d="M1183.3 885.7h.01M1134.0 927.9h.01M1170.6 921.2h.01M1160.6 908.5h.01M1150.4 871.2h.01M1178.1 892.2h.01M1132.3 903.0h.01M1204.6 916.1h.01M1173.0 870.1h.01M1154.1 882.0h.01M1169.5 928.3h.01M1173.4 892.0h.01M1203.2 925.8h.01M1200.0 891.3h.01M1155.0 889.0h.01M1181.0 883.1h.01M1130.5 892.6h.01M1178.7 897.9h.01M1192.7 913.8h.01M1137.6 919.7h.01M1174.6 895.0h.01M1201.6 901.3h.01M1175.5 901.3h.01M1183.5 902.4h.01M1158.0 875.2h.01M1129.5 895.7h.01M1154.9 936.0h.01M1149.0 893.2h.01M1187.1 890.6h.01M1180.1 947.0h.01M1192.7 918.0h.01M1138.9 893.4h.01M1198.5 887.8h.01" stroke="#4b4190" stroke-width="1.8" stroke-linecap="round" fill="none"/>
<path d="M1161.8 925.0h.01M1150.5 887.7h.01M1180.5 890.7h.01M1184.4 910.7h.01M1148.7 874.9h.01M1182.2 898.5h.01M1184.9 896.5h.01M1202.2 914.9h.01M1202.3 900.1h.01M1129.4 894.0h.01M1142.0 891.0h.01M1186.5 907.0h.01M1180.3 934.5h.01M1145.0 910.8h.01M1151.0 908.6h.01M1155.7 927.4h.01M1158.6 932.1h.01M1151.5 940.8h.01M1155.6 874.4h.01M1150.3 925.3h.01M1158.9 908.3h.01M1182.6 924.2h.01M1140.7 876.0h.01M1130.0 916.8h.01M1171.9 908.8h.01M1172.6 943.7h.01M1138.9 881.3h.01M1165.1 914.4h.01M1142.5 932.5h.01M1181.6 881.0h.01M1148.0 886.0h.01M1194.1 890.0h.01M1188.2 902.2h.01M1138.4 924.8h.01M1150.2 883.4h.01M1185.6 894.7h.01M1174.1 919.5h.01M1186.7 919.2h.01M1184.4 929.1h.01M1128.8 915.4h.01M1193.4 880.0h.01M1178.8 903.4h.01M1199.2 924.8h.01M1198.1 899.3h.01M1166.7 946.7h.01M1178.5 917.3h.01M1136.5 910.8h.01M1173.9 918.6h.01M1181.3 913.8h.01M1138.4 910.8h.01M1195.1 907.6h.01M1166.6 904.8h.01M1182.0 926.4h.01M1133.0 918.3h.01M1175.8 889.9h.01M1182.4 886.3h.01M1155.4 916.1h.01" stroke="#5a4f9c" stroke-width="1.6" stroke-linecap="round" fill="none"/>
<path d="M1128.8 925.6h.01M1183.0 934.7h.01M1130.5 900.8h.01M1164.1 896.7h.01M1144.7 922.7h.01M1178.7 919.9h.01M1170.1 885.2h.01M1180.1 879.1h.01M1154.7 879.1h.01M1145.2 888.5h.01M1156.2 941.2h.01M1192.4 899.2h.01M1154.7 890.1h.01M1134.6 931.5h.01M1171.2 881.9h.01M1198.7 891.2h.01M1156.6 913.4h.01M1136.2 934.4h.01M1191.1 885.0h.01M1192.3 886.1h.01M1188.6 897.2h.01M1153.8 940.6h.01M1174.7 890.0h.01M1143.1 899.1h.01M1133.7 921.1h.01M1168.5 945.0h.01M1160.9 883.0h.01M1164.2 921.4h.01M1189.3 893.0h.01M1170.9 947.3h.01M1176.6 904.8h.01M1185.6 913.9h.01M1143.0 880.7h.01M1176.8 871.3h.01M1172.1 927.4h.01M1204.6 903.0h.01M1178.0 898.7h.01M1155.7 913.2h.01M1167.2 893.5h.01M1183.5 918.6h.01M1167.6 944.0h.01M1129.9 922.4h.01M1140.1 911.1h.01M1167.0 927.1h.01M1172.8 876.8h.01M1171.8 924.4h.01M1182.2 927.4h.01M1163.2 900.6h.01M1144.7 921.9h.01M1148.5 887.6h.01M1177.1 916.3h.01" stroke="#3d3580" stroke-width="1.4" stroke-linecap="round" fill="none"/>
<circle cx="1265.3" cy="908.6" r="43.7" fill="url(#plg)"/>
<path d="M1304.2 897.6h.01M1292.3 897.0h.01M1302.7 910.6h.01M1252.1 924.6h.01M1294.0 927.7h.01M1292.6 927.3h.01M1256.5 888.5h.01M1262.0 888.5h.01" stroke="#3d3580" stroke-width="1.2" stroke-linecap="round" fill="none"/>
<path d="M1298.0 927.9h.01M1260.8 948.0h.01M1268.9 873.1h.01M1237.7 890.8h.01" stroke="#4b4190" stroke-width="1.6" stroke-linecap="round" fill="none"/>
<path d="M1239.9 888.6h.01M1240.5 907.0h.01M1274.9 899.1h.01" stroke="#4b4190" stroke-width="1.4" stroke-linecap="round" fill="none"/>
<path d="M1241.3 880.2h.01M1275.6 874.5h.01M1261.8 879.8h.01M1257.2 900.6h.01M1282.4 891.4h.01M1237.2 904.9h.01" stroke="#5a4f9c" stroke-width="1.6" stroke-linecap="round" fill="none"/>
<path d="M1239.0 938.8h.01M1228.4 905.0h.01M1244.4 937.1h.01M1298.9 899.4h.01" stroke="#4b4190" stroke-width="1.8" stroke-linecap="round" fill="none"/>
<path d="M1288.7 889.7h.01M1267.4 925.9h.01M1287.4 896.2h.01M1234.0 888.9h.01M1272.4 911.3h.01M1273.6 926.8h.01" stroke="#3d3580" stroke-width="1.4" stroke-linecap="round" fill="none"/>
<path d="M1240.3 941.3h.01M1287.9 882.1h.01" stroke="#3d3580" stroke-width="1.8" stroke-linecap="round" fill="none"/>
<path d="M1290.5 901.3h.01M1236.8 903.1h.01M1261.5 914.8h.01" stroke="#5a4f9c" stroke-width="1.8" stroke-linecap="round" fill="none"/>
<path d="M1243.5 874.8h.01M1257.1 904.5h.01M1228.5 921.1h.01M1298.3 902.5h.01" stroke="#5a4f9c" stroke-width="1.4" stroke-linecap="round" fill="none"/>
<path d="M1265.9 927.6h.01M1294.3 887.0h.01M1262.4 878.7h.01M1267.9 908.1h.01" stroke="#4b4190" stroke-width="1.2" stroke-linecap="round" fill="none"/>
<path d="M1273.4 915.7h.01M1291.2 914.5h.01" stroke="#5a4f9c" stroke-width="1.2" stroke-linecap="round" fill="none"/>
<path d="M1242.9 895.4h.01M1268.3 936.1h.01" stroke="#3d3580" stroke-width="1.6" stroke-linecap="round" fill="none"/>
<circle cx="1364.0" cy="908.6" r="43.7" fill="url(#plg)"/>
<path d="M1366.3 939.1h.01M1347.4 872.2h.01M1356.0 893.8h.01M1337.6 892.7h.01M1348.0 890.8h.01M1392.1 892.5h.01M1348.8 926.1h.01" stroke="#5a4f9c" stroke-width="1.6" stroke-linecap="round" fill="none"/>
<path d="M1332.8 913.7h.01M1358.5 929.2h.01M1332.2 910.7h.01" stroke="#4b4190" stroke-width="1.2" stroke-linecap="round" fill="none"/>
<path d="M1362.8 928.7h.01M1338.4 879.6h.01M1331.0 886.3h.01M1372.4 948.5h.01M1380.5 887.3h.01M1335.4 886.4h.01" stroke="#5a4f9c" stroke-width="1.8" stroke-linecap="round" fill="none"/>
<path d="M1378.8 884.1h.01M1358.0 917.5h.01M1341.3 930.9h.01" stroke="#3d3580" stroke-width="1.4" stroke-linecap="round" fill="none"/>
<path d="M1400.4 912.1h.01M1389.9 890.9h.01" stroke="#5a4f9c" stroke-width="1.4" stroke-linecap="round" fill="none"/>
<path d="M1399.3 918.3h.01M1400.9 902.3h.01M1340.7 882.4h.01" stroke="#4b4190" stroke-width="1.6" stroke-linecap="round" fill="none"/>
<path d="M1370.4 882.2h.01M1399.4 923.5h.01" stroke="#3d3580" stroke-width="1.8" stroke-linecap="round" fill="none"/>
<path d="M1373.4 899.7h.01M1345.2 934.2h.01M1387.6 927.7h.01M1397.8 902.5h.01" stroke="#4b4190" stroke-width="1.4" stroke-linecap="round" fill="none"/>
<path d="M1379.4 881.2h.01M1393.7 904.4h.01M1373.9 868.5h.01M1363.8 936.6h.01M1330.4 908.6h.01" stroke="#3d3580" stroke-width="1.6" stroke-linecap="round" fill="none"/>
<path d="M1354.1 943.6h.01M1364.7 916.4h.01M1360.7 945.3h.01" stroke="#3d3580" stroke-width="1.2" stroke-linecap="round" fill="none"/>
<path d="M1348.1 946.0h.01" stroke="#4b4190" stroke-width="1.8" stroke-linecap="round" fill="none"/>
<path d="M1335.0 916.0h.01" stroke="#5a4f9c" stroke-width="1.2" stroke-linecap="round" fill="none"/>
</g>
<text x="1593.7" y="833.0" font-size="12.1" text-anchor="middle" font-weight="bold">PANC-1</text>
<line x1="1510.3" y1="838.5" x2="1660.5" y2="838.5" stroke="#000" stroke-width="1.3"/>
<text x="1533.6" y="861.8" font-size="12.1" text-anchor="middle" font-weight="bold">Vector</text>
<text x="1637.7" y="861.8" font-size="12.1" text-anchor="middle" font-weight="bold">p-USP37</text>
<clipPath id="pc4"><circle cx="1536.5" cy="910.5" r="41.0"/></clipPath>
<circle cx="1536.5" cy="910.5" r="42.2" fill="url(#plg2)"/>
<g clip-path="url(#pc4)"><rect x="1494.3" y="868.3" width="84.4" height="84.4" filter="url(#pb4)"/></g>
<clipPath id="pc5"><circle cx="1630.8" cy="910.8" r="41.0"/></clipPath>
<circle cx="1630.8" cy="910.8" r="42.2" fill="url(#plg2)"/>
<g clip-path="url(#pc5)"><rect x="1588.6" y="868.5999999999999" width="84.4" height="84.4" filter="url(#pb5)"/></g>
<path d="M1588.6 910.8A42.2 42.2 0 0 1 1630.8 868.6A46 46 0 0 0 1588.6 910.8Z" fill="#5a4eb0" opacity="0.7"/>
</g>
<g id="p_edu">
<text x="1275.6" y="1031.5" font-size="12" text-anchor="middle" font-weight="bold">SW1990</text>
<line x1="1186.5" y1="1043.6" x2="1395.8" y2="1043.6" stroke="#000" stroke-width="1.2"/>
<text x="1190.3" y="1061.0" font-size="12" text-anchor="middle" font-weight="bold">shNC</text>
<text x="1277.1" y="1061.0" font-size="12" text-anchor="middle" font-weight="bold">shUSP37#1</text>
<text x="1362.4" y="1061.0" font-size="12" text-anchor="middle" font-weight="bold">shUSP37#2</text>
<rect x="1148.2" y="1066.0" width="82.6" height="61.8" fill="#05063a"/>
<rect x="1148.2" y="1066" width="82.6" height="61.8" filter="url(#fB)"/>
<line x1="1220.6" y1="1120.8" x2="1228.6" y2="1120.8" stroke="#fff" stroke-width="0.9"/>
<text x="1224.6" y="1125.2" font-size="2.6" text-anchor="middle" font-weight="bold" fill="#fff">50 μm</text>
<rect x="1235.8" y="1066.0" width="82.6" height="61.8" fill="#05063a"/>
<rect x="1235.8" y="1066" width="82.6" height="61.8" filter="url(#fB2)"/>
<line x1="1308.2" y1="1120.8" x2="1316.2" y2="1120.8" stroke="#fff" stroke-width="0.9"/>
<text x="1312.2" y="1125.2" font-size="2.6" text-anchor="middle" font-weight="bold" fill="#fff">50 μm</text>
<rect x="1322.6" y="1066.0" width="82.3" height="61.8" fill="#05063a"/>
<rect x="1322.6" y="1066" width="82.3" height="61.8" filter="url(#fB)"/>
<line x1="1394.7" y1="1120.8" x2="1402.7" y2="1120.8" stroke="#fff" stroke-width="0.9"/>
<text x="1398.7" y="1125.2" font-size="2.6" text-anchor="middle" font-weight="bold" fill="#fff">50 μm</text>
<rect x="1148.2" y="1135.0" width="82.6" height="61.4" fill="#000"/>
<rect x="1148.2" y="1135" width="82.6" height="61.4" filter="url(#fOd)"/>
<line x1="1220.6" y1="1189.4" x2="1228.6" y2="1189.4" stroke="#fff" stroke-width="0.9"/>
<text x="1224.6" y="1193.8" font-size="2.6" text-anchor="middle" font-weight="bold" fill="#fff">50 μm</text>
<rect x="1235.8" y="1135.0" width="82.6" height="61.4" fill="#000"/>
<rect x="1235.8" y="1135" width="82.6" height="61.4" filter="url(#fRs)"/>
<line x1="1308.2" y1="1189.4" x2="1316.2" y2="1189.4" stroke="#fff" stroke-width="0.9"/>
<text x="1312.2" y="1193.8" font-size="2.6" text-anchor="middle" font-weight="bold" fill="#fff">50 μm</text>
<rect x="1322.6" y="1135.0" width="82.3" height="61.4" fill="#000"/>
<rect x="1322.6" y="1135" width="82.3" height="61.4" filter="url(#fRs2)"/>
<line x1="1394.7" y1="1189.4" x2="1402.7" y2="1189.4" stroke="#fff" stroke-width="0.9"/>
<text x="1398.7" y="1193.8" font-size="2.6" text-anchor="middle" font-weight="bold" fill="#fff">50 μm</text>
<rect x="1148.2" y="1204.0" width="82.6" height="61.5" fill="#05063a"/>
<rect x="1148.2" y="1204" width="82.6" height="61.5" filter="url(#fB)"/>
<rect x="1148.2" y="1204" width="82.6" height="61.5" filter="url(#fPd)"/>
<line x1="1220.6" y1="1258.5" x2="1228.6" y2="1258.5" stroke="#fff" stroke-width="0.9"/>
<text x="1224.6" y="1262.9" font-size="2.6" text-anchor="middle" font-weight="bold" fill="#fff">50 μm</text>
<rect x="1235.8" y="1204.0" width="82.6" height="61.5" fill="#05063a"/>
<rect x="1235.8" y="1204" width="82.6" height="61.5" filter="url(#fB2)"/>
<rect x="1235.8" y="1204" width="82.6" height="61.5" filter="url(#fPs)"/>
<line x1="1308.2" y1="1258.5" x2="1316.2" y2="1258.5" stroke="#fff" stroke-width="0.9"/>
<text x="1312.2" y="1262.9" font-size="2.6" text-anchor="middle" font-weight="bold" fill="#fff">50 μm</text>
<rect x="1322.6" y="1204.0" width="82.3" height="61.5" fill="#05063a"/>
<rect x="1322.6" y="1204" width="82.3" height="61.5" filter="url(#fB)"/>
<rect x="1322.6" y="1204" width="82.3" height="61.5" filter="url(#fPs2)"/>
<line x1="1394.7" y1="1258.5" x2="1402.7" y2="1258.5" stroke="#fff" stroke-width="0.9"/>
<text x="1398.7" y="1262.9" font-size="2.6" text-anchor="middle" font-weight="bold" fill="#fff">50 μm</text>
<text x="1127.9" y="1094.4" font-size="11.9" text-anchor="middle" font-weight="bold" transform="rotate(-90 1127.9 1094.4)">Hoechst</text>
<text x="1142.4" y="1094.4" font-size="11.9" text-anchor="middle" font-weight="bold" transform="rotate(-90 1142.4 1094.4)">33342</text>
<text x="1134.6" y="1161.3" font-size="12.1" text-anchor="middle" font-weight="bold" transform="rotate(-90 1134.6 1161.3)">Edu</text>
<text x="1134.4" y="1224.4" font-size="12.3" text-anchor="middle" font-weight="bold" transform="rotate(-90 1134.4 1224.4)">Merge</text>
<text x="1584.3" y="1027.0" font-size="12" text-anchor="middle" font-weight="bold">PANC-1</text>
<line x1="1498.2" y1="1031.5" x2="1652.9" y2="1031.5" stroke="#000" stroke-width="1.2"/>
<text x="1531.6" y="1052.0" font-size="12" text-anchor="middle" font-weight="bold">Vector</text>
<text x="1620.7" y="1048.2" font-size="12" text-anchor="middle" font-weight="bold">p-USP37</text>
<rect x="1480.7" y="1058.0" width="86.5" height="64.9" fill="#05063a"/>
<rect x="1480.7" y="1058" width="86.5" height="64.9" filter="url(#fB3)"/>
<line x1="1557.0" y1="1115.9" x2="1565.0" y2="1115.9" stroke="#fff" stroke-width="0.9"/>
<text x="1561.0" y="1120.3" font-size="2.6" text-anchor="middle" font-weight="bold" fill="#fff">50 μm</text>
<rect x="1572.1" y="1058.0" width="86.5" height="64.9" fill="#05063a"/>
<rect x="1572.1" y="1058" width="86.5" height="64.9" filter="url(#fB4)"/>
<line x1="1648.4" y1="1115.9" x2="1656.4" y2="1115.9" stroke="#fff" stroke-width="0.9"/>
<text x="1652.4" y="1120.3" font-size="2.6" text-anchor="middle" font-weight="bold" fill="#fff">50 μm</text>
<rect x="1480.7" y="1128.2" width="86.5" height="64.4" fill="#050300"/>
<rect x="1480.7" y="1128.2" width="86.5" height="64.4" filter="url(#fOv)"/>
<line x1="1557.0" y1="1185.6" x2="1565.0" y2="1185.6" stroke="#fff" stroke-width="0.9"/>
<text x="1561.0" y="1190.0" font-size="2.6" text-anchor="middle" font-weight="bold" fill="#fff">50 μm</text>
<rect x="1572.1" y="1128.2" width="86.5" height="64.4" fill="#0a0300"/>
<rect x="1572.1" y="1128.2" width="86.5" height="64.4" filter="url(#fOp)"/>
<line x1="1648.4" y1="1185.6" x2="1656.4" y2="1185.6" stroke="#fff" stroke-width="0.9"/>
<text x="1652.4" y="1190.0" font-size="2.6" text-anchor="middle" font-weight="bold" fill="#fff">50 μm</text>
<rect x="1480.7" y="1197.6" width="86.5" height="64.4" fill="#05063a"/>
<rect x="1480.7" y="1197.6" width="86.5" height="64.4" filter="url(#fB3)"/>
<rect x="1480.7" y="1197.6" width="86.5" height="64.4" filter="url(#fPv)"/>
<line x1="1557.0" y1="1255.0" x2="1565.0" y2="1255.0" stroke="#fff" stroke-width="0.9"/>
<text x="1561.0" y="1259.4" font-size="2.6" text-anchor="middle" font-weight="bold" fill="#fff">50 μm</text>
<rect x="1572.1" y="1197.6" width="86.5" height="64.4" fill="#05063a"/>
<rect x="1572.1" y="1197.6" width="86.5" height="64.4" filter="url(#fB4)"/>
<rect x="1572.1" y="1197.6" width="86.5" height="64.4" filter="url(#fPp)"/>
<line x1="1648.4" y1="1255.0" x2="1656.4" y2="1255.0" stroke="#fff" stroke-width="0.9"/>
<text x="1652.4" y="1259.4" font-size="2.6" text-anchor="middle" font-weight="bold" fill="#fff">50 μm</text>
<text x="1460.6" y="1086.8" font-size="11.9" text-anchor="middle" font-weight="bold" transform="rotate(-90 1460.6 1086.8)">Hoechst</text>
<text x="1475.4" y="1086.8" font-size="11.9" text-anchor="middle" font-weight="bold" transform="rotate(-90 1475.4 1086.8)">33342</text>
<text x="1467.4" y="1163.5" font-size="12.1" text-anchor="middle" font-weight="bold" transform="rotate(-90 1467.4 1163.5)">Edu</text>
<text x="1467.4" y="1234.9" font-size="12.3" text-anchor="middle" font-weight="bold" transform="rotate(-90 1467.4 1234.9)">Merge</text>
<rect x="1414.6" y="1146.5" width="1.2" height="0.9" fill="#333"/>
<rect x="1414.6" y="1149.0" width="1.2" height="0.9" fill="#333"/>
<rect x="1414.6" y="1170.5" width="1.2" height="0.9" fill="#333"/>
<rect x="1414.6" y="1198.5" width="1.2" height="0.9" fill="#333"/>
<rect x="1414.6" y="1212.0" width="1.2" height="0.9" fill="#333"/>
<rect x="1414.6" y="1214.5" width="1.2" height="0.9" fill="#333"/>
</g>
</svg>
</body></html>
